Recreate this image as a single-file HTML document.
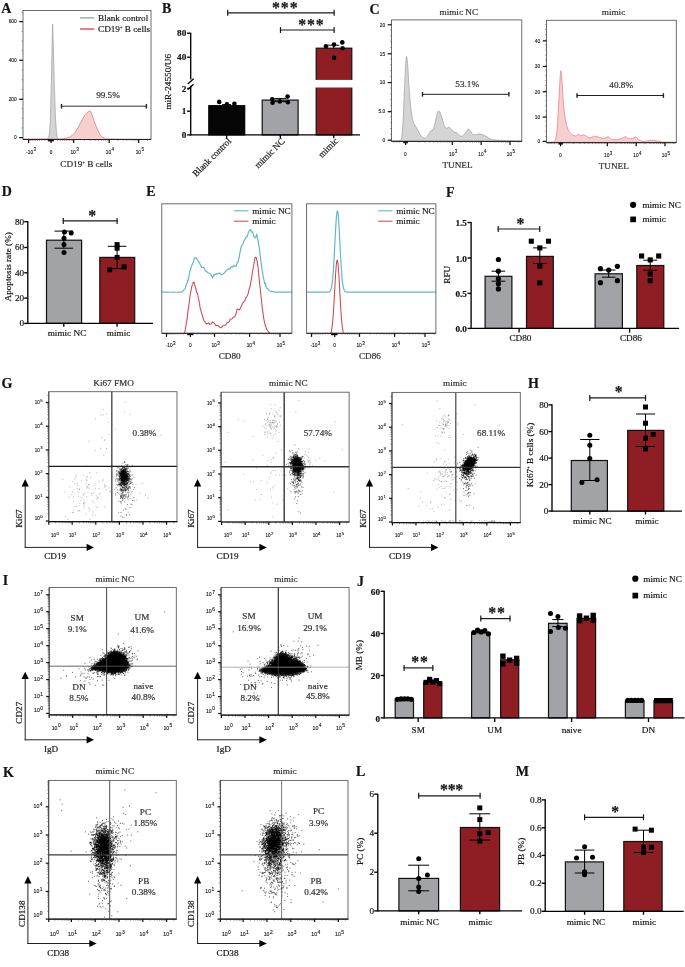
<!DOCTYPE html>
<html><head><meta charset="utf-8"><title>Figure</title>
<style>
html,body{margin:0;padding:0;background:#fff}
svg{display:block}
.ser{font-family:"Liberation Serif","Times New Roman",serif;stroke:#222;stroke-width:.2px}
.san{font-family:"Liberation Sans",Arial,sans-serif;stroke:#222;stroke-width:.12px}
</style></head><body>
<svg width="685" height="967" viewBox="0 0 685 967">
<rect width="685" height="967" fill="#fff"/>
<text class="ser" x="1.2" y="13.1" font-size="14" font-weight="bold" fill="#111">A</text>
<path d="M23 139.2 L57.57 138.96 C58.81 138.88 62.82 138.88 65.01 138.46 C67.2 138.05 68.94 137.63 70.72 136.48 C72.5 135.32 74.15 133.58 75.68 131.51 C77.21 129.45 78.54 126.55 79.9 124.07 C81.27 121.59 82.71 118.49 83.87 116.63 C85.03 114.76 85.86 113.85 86.85 112.9 C87.84 111.95 89 110.71 89.83 110.92 C90.65 111.12 91.07 112.37 91.81 114.14 C92.56 115.92 93.38 119.11 94.29 121.59 C95.2 124.07 96.24 126.76 97.27 129.03 C98.3 131.31 99.34 133.75 100.5 135.24 C101.65 136.72 102.56 137.34 104.22 137.97 C105.87 138.59 102.69 138.75 110.42 138.96 C118.16 139.16 143.92 139.16 150.62 139.21 L151 139.2 Z" fill="#F7CFCF" stroke="none"/>
<path d="M23 138.9 L57.57 138.96 C58.81 138.88 62.82 138.88 65.01 138.46 C67.2 138.05 68.94 137.63 70.72 136.48 C72.5 135.32 74.15 133.58 75.68 131.51 C77.21 129.45 78.54 126.55 79.9 124.07 C81.27 121.59 82.71 118.49 83.87 116.63 C85.03 114.76 85.86 113.85 86.85 112.9 C87.84 111.95 89 110.71 89.83 110.92 C90.65 111.12 91.07 112.37 91.81 114.14 C92.56 115.92 93.38 119.11 94.29 121.59 C95.2 124.07 96.24 126.76 97.27 129.03 C98.3 131.31 99.34 133.75 100.5 135.24 C101.65 136.72 102.56 137.34 104.22 137.97 C105.87 138.59 102.69 138.75 110.42 138.96 C118.16 139.16 143.92 139.16 150.62 139.21" fill="none" stroke="#E4777A" stroke-width="0.8"/>
<path d="M47.64 138.96 C47.79 138.59 48.86 137.22 49.13 135.24 C49.4 133.25 50.15 124.44 50.37 119.11 C50.6 113.77 51.19 89.33 51.36 81.89 C51.54 74.44 51.99 50.45 52.11 44.67 C52.23 38.88 52.48 23.82 52.61 24.07 C52.73 24.32 53.18 41.12 53.35 47.15 C53.52 53.18 54.12 77.17 54.34 84.37 C54.57 91.56 55.33 114.02 55.58 119.11 C55.83 124.19 56.55 133.25 56.82 135.24 C57.1 137.22 58.16 138.59 58.31 138.96 Z" fill="#D4D4D4" stroke="#9C9C9C" stroke-width="0.7"/>
<rect x="23" y="10.5" width="128" height="129" fill="none" stroke="#5c5c5c" stroke-width="0.9"/>
<line x1="23" y1="139.5" x2="151" y2="139.5" stroke="#222" stroke-width="1"/>
<rect x="47.8" y="139.5" width="6" height="1.9" fill="#111"/>
<line x1="28.6" y1="139.5" x2="28.6" y2="143.1" stroke="#111" stroke-width="1.25"/>
<line x1="51.1" y1="139.5" x2="51.1" y2="143.1" stroke="#111" stroke-width="1.25"/>
<line x1="73.7" y1="139.5" x2="73.7" y2="143.1" stroke="#111" stroke-width="1.25"/>
<line x1="109.2" y1="139.5" x2="109.2" y2="143.1" stroke="#111" stroke-width="1.25"/>
<line x1="138.7" y1="139.5" x2="138.7" y2="143.1" stroke="#111" stroke-width="1.25"/>
<line x1="84.39" y1="139.5" x2="84.39" y2="140.9" stroke="#444" stroke-width="0.5"/>
<line x1="90.64" y1="139.5" x2="90.64" y2="140.9" stroke="#444" stroke-width="0.5"/>
<line x1="95.07" y1="139.5" x2="95.07" y2="140.9" stroke="#444" stroke-width="0.5"/>
<line x1="98.51" y1="139.5" x2="98.51" y2="140.9" stroke="#444" stroke-width="0.5"/>
<line x1="101.32" y1="139.5" x2="101.32" y2="140.9" stroke="#444" stroke-width="0.5"/>
<line x1="103.7" y1="139.5" x2="103.7" y2="140.9" stroke="#444" stroke-width="0.5"/>
<line x1="105.76" y1="139.5" x2="105.76" y2="140.9" stroke="#444" stroke-width="0.5"/>
<line x1="107.58" y1="139.5" x2="107.58" y2="140.9" stroke="#444" stroke-width="0.5"/>
<line x1="118.08" y1="139.5" x2="118.08" y2="140.9" stroke="#444" stroke-width="0.5"/>
<line x1="123.28" y1="139.5" x2="123.28" y2="140.9" stroke="#444" stroke-width="0.5"/>
<line x1="126.96" y1="139.5" x2="126.96" y2="140.9" stroke="#444" stroke-width="0.5"/>
<line x1="129.82" y1="139.5" x2="129.82" y2="140.9" stroke="#444" stroke-width="0.5"/>
<line x1="132.16" y1="139.5" x2="132.16" y2="140.9" stroke="#444" stroke-width="0.5"/>
<line x1="134.13" y1="139.5" x2="134.13" y2="140.9" stroke="#444" stroke-width="0.5"/>
<line x1="135.84" y1="139.5" x2="135.84" y2="140.9" stroke="#444" stroke-width="0.5"/>
<line x1="137.35" y1="139.5" x2="137.35" y2="140.9" stroke="#444" stroke-width="0.5"/>
<line x1="147.58" y1="139.5" x2="147.58" y2="140.9" stroke="#444" stroke-width="0.5"/>
<line x1="57.47" y1="139.5" x2="57.47" y2="140.9" stroke="#444" stroke-width="0.5"/>
<line x1="44.76" y1="139.5" x2="44.76" y2="140.9" stroke="#444" stroke-width="0.5"/>
<line x1="60.43" y1="139.5" x2="60.43" y2="140.9" stroke="#444" stroke-width="0.5"/>
<line x1="41.82" y1="139.5" x2="41.82" y2="140.9" stroke="#444" stroke-width="0.5"/>
<line x1="62.76" y1="139.5" x2="62.76" y2="140.9" stroke="#444" stroke-width="0.5"/>
<line x1="39.5" y1="139.5" x2="39.5" y2="140.9" stroke="#444" stroke-width="0.5"/>
<line x1="64.75" y1="139.5" x2="64.75" y2="140.9" stroke="#444" stroke-width="0.5"/>
<line x1="37.51" y1="139.5" x2="37.51" y2="140.9" stroke="#444" stroke-width="0.5"/>
<line x1="66.54" y1="139.5" x2="66.54" y2="140.9" stroke="#444" stroke-width="0.5"/>
<line x1="35.73" y1="139.5" x2="35.73" y2="140.9" stroke="#444" stroke-width="0.5"/>
<line x1="68.16" y1="139.5" x2="68.16" y2="140.9" stroke="#444" stroke-width="0.5"/>
<line x1="34.11" y1="139.5" x2="34.11" y2="140.9" stroke="#444" stroke-width="0.5"/>
<line x1="69.67" y1="139.5" x2="69.67" y2="140.9" stroke="#444" stroke-width="0.5"/>
<line x1="32.61" y1="139.5" x2="32.61" y2="140.9" stroke="#444" stroke-width="0.5"/>
<line x1="71.09" y1="139.5" x2="71.09" y2="140.9" stroke="#444" stroke-width="0.5"/>
<line x1="31.2" y1="139.5" x2="31.2" y2="140.9" stroke="#444" stroke-width="0.5"/>
<line x1="72.43" y1="139.5" x2="72.43" y2="140.9" stroke="#444" stroke-width="0.5"/>
<line x1="29.87" y1="139.5" x2="29.87" y2="140.9" stroke="#444" stroke-width="0.5"/>
<text class="san" x="31.2" y="153.8" font-size="4.8" text-anchor="middle" fill="#111">-10<tspan dx="0.4" dy="-2.4" font-size="4.56">3</tspan></text>
<text class="san" x="51" y="153.8" font-size="4.8" text-anchor="middle" fill="#111">0</text>
<text class="san" x="74.6" y="153.8" font-size="4.8" text-anchor="middle" fill="#111">10<tspan dx="0.4" dy="-2.4" font-size="4.56">3</tspan></text>
<text class="san" x="110" y="153.8" font-size="4.8" text-anchor="middle" fill="#111">10<tspan dx="0.4" dy="-2.4" font-size="4.56">4</tspan></text>
<text class="san" x="139.8" y="153.8" font-size="4.8" text-anchor="middle" fill="#111">10<tspan dx="0.4" dy="-2.4" font-size="4.56">5</tspan></text>
<line x1="19.2" y1="21.6" x2="23" y2="21.6" stroke="#111" stroke-width="1.25"/>
<line x1="19.2" y1="60.3" x2="23" y2="60.3" stroke="#111" stroke-width="1.25"/>
<line x1="19.2" y1="99.3" x2="23" y2="99.3" stroke="#111" stroke-width="1.25"/>
<line x1="19.2" y1="137.6" x2="23" y2="137.6" stroke="#111" stroke-width="1.25"/>
<line x1="21.6" y1="137.6" x2="23" y2="137.6" stroke="#444" stroke-width="0.5"/>
<line x1="21.6" y1="127.95" x2="23" y2="127.95" stroke="#444" stroke-width="0.5"/>
<line x1="21.6" y1="118.3" x2="23" y2="118.3" stroke="#444" stroke-width="0.5"/>
<line x1="21.6" y1="108.65" x2="23" y2="108.65" stroke="#444" stroke-width="0.5"/>
<line x1="21.6" y1="99" x2="23" y2="99" stroke="#444" stroke-width="0.5"/>
<line x1="21.6" y1="89.35" x2="23" y2="89.35" stroke="#444" stroke-width="0.5"/>
<line x1="21.6" y1="79.7" x2="23" y2="79.7" stroke="#444" stroke-width="0.5"/>
<line x1="21.6" y1="70.05" x2="23" y2="70.05" stroke="#444" stroke-width="0.5"/>
<line x1="21.6" y1="60.4" x2="23" y2="60.4" stroke="#444" stroke-width="0.5"/>
<line x1="21.6" y1="50.75" x2="23" y2="50.75" stroke="#444" stroke-width="0.5"/>
<line x1="21.6" y1="41.1" x2="23" y2="41.1" stroke="#444" stroke-width="0.5"/>
<line x1="21.6" y1="31.45" x2="23" y2="31.45" stroke="#444" stroke-width="0.5"/>
<line x1="21.6" y1="21.8" x2="23" y2="21.8" stroke="#444" stroke-width="0.5"/>
<line x1="21.6" y1="12.15" x2="23" y2="12.15" stroke="#444" stroke-width="0.5"/>
<text class="san" x="16.7" y="23.3" font-size="4.8" text-anchor="end" fill="#111">600</text>
<text class="san" x="16.7" y="62" font-size="4.8" text-anchor="end" fill="#111">400</text>
<text class="san" x="16.7" y="101" font-size="4.8" text-anchor="end" fill="#111">200</text>
<text class="san" x="16.7" y="139.3" font-size="4.8" text-anchor="end" fill="#111">0</text>
<line x1="61.5" y1="106.2" x2="146.4" y2="106.2" stroke="#333" stroke-width="1"/>
<line x1="61.5" y1="103.9" x2="61.5" y2="108.5" stroke="#222" stroke-width="1.4"/>
<line x1="146.4" y1="103.9" x2="146.4" y2="108.5" stroke="#222" stroke-width="1.4"/>
<text class="ser" x="108" y="97.8" font-size="9.2" text-anchor="middle" fill="#3c3c3c" stroke-width="0.1" stroke="#444">99.5%</text>
<line x1="80" y1="17.9" x2="94.3" y2="17.9" stroke="#8c8c8c" stroke-width="1.1"/>
<text class="ser" x="98" y="20.6" font-size="9.2" fill="#222">Blank control</text>
<line x1="80" y1="29" x2="94.3" y2="29" stroke="#E8262C" stroke-width="1.2"/>
<text class="ser" x="98" y="31.8" font-size="9.2" fill="#222">CD19<tspan dy="-3" font-size="4.6">+</tspan><tspan dy="3"> B cells</tspan></text>
<text class="ser" x="86.4" y="167.3" font-size="9.2" text-anchor="middle" fill="#333">CD19<tspan dy="-3" font-size="4.6">+</tspan><tspan dy="3"> B cells</tspan></text>
<text class="ser" x="162" y="13.2" font-size="14" font-weight="bold" fill="#111">B</text>
<rect x="208.8" y="105.7" width="35.9" height="29.2" fill="#050505" stroke="#000" stroke-width="1.2"/>
<rect x="262.2" y="100.1" width="35.9" height="34.8" fill="#A1A3A6" stroke="#111" stroke-width="1.2"/>
<rect x="316.2" y="48.2" width="35.6" height="86.7" fill="#8F1D24" stroke="#111" stroke-width="1.2"/>
<rect x="300" y="79.9" width="60" height="7.6" fill="#fff"/>
<line x1="190.7" y1="32.7" x2="190.7" y2="79.4" stroke="#000" stroke-width="1.35"/>
<line x1="190.7" y1="85.8" x2="190.7" y2="135.45" stroke="#000" stroke-width="1.35"/>
<line x1="190.15" y1="134.9" x2="360" y2="134.9" stroke="#000" stroke-width="1.35"/>
<line x1="187.8" y1="83.9" x2="193.6" y2="78.7" stroke="#000" stroke-width="1.3"/>
<line x1="187.8" y1="89.5" x2="193.6" y2="84.3" stroke="#000" stroke-width="1.3"/>
<line x1="187.1" y1="33.2" x2="190.7" y2="33.2" stroke="#000" stroke-width="1.35"/>
<text class="ser" x="186.3" y="36.3" font-size="9.2" text-anchor="end" font-weight="bold" fill="#111">80</text>
<line x1="187.1" y1="57.2" x2="190.7" y2="57.2" stroke="#000" stroke-width="1.35"/>
<text class="ser" x="186.3" y="60.3" font-size="9.2" text-anchor="end" font-weight="bold" fill="#111">40</text>
<line x1="187.1" y1="88.5" x2="190.7" y2="88.5" stroke="#000" stroke-width="1.35"/>
<text class="ser" x="186.3" y="91.6" font-size="9.2" text-anchor="end" font-weight="bold" fill="#111">2</text>
<line x1="187.1" y1="111.2" x2="190.7" y2="111.2" stroke="#000" stroke-width="1.35"/>
<text class="ser" x="186.3" y="114.3" font-size="9.2" text-anchor="end" font-weight="bold" fill="#111">1</text>
<line x1="187.1" y1="134.9" x2="190.7" y2="134.9" stroke="#000" stroke-width="1.35"/>
<text class="ser" x="186.3" y="138" font-size="9.2" text-anchor="end" font-weight="bold" fill="#111">0</text>
<line x1="226.6" y1="134.9" x2="226.6" y2="138.3" stroke="#000" stroke-width="1.35"/>
<line x1="280.3" y1="134.9" x2="280.3" y2="138.3" stroke="#000" stroke-width="1.35"/>
<line x1="333.7" y1="134.9" x2="333.7" y2="138.3" stroke="#000" stroke-width="1.35"/>
<line x1="226.6" y1="104.6" x2="226.6" y2="106.8" stroke="#000" stroke-width="1"/>
<line x1="222.1" y1="104.6" x2="231.1" y2="104.6" stroke="#000" stroke-width="1"/>
<line x1="222.1" y1="106.8" x2="231.1" y2="106.8" stroke="#000" stroke-width="1"/>
<circle cx="219.2" cy="101.9" r="2.3" fill="#000"/>
<circle cx="226.9" cy="104.4" r="2.3" fill="#000"/>
<circle cx="234.4" cy="103.8" r="2.3" fill="#000"/>
<line x1="280.3" y1="98.6" x2="280.3" y2="101.6" stroke="#000" stroke-width="1"/>
<line x1="274.3" y1="98.6" x2="286.3" y2="98.6" stroke="#000" stroke-width="1"/>
<line x1="274.3" y1="101.6" x2="286.3" y2="101.6" stroke="#000" stroke-width="1"/>
<circle cx="272.2" cy="99.2" r="2.3" fill="#000"/>
<circle cx="272.6" cy="102.8" r="2.3" fill="#000"/>
<circle cx="279.8" cy="101.5" r="2.3" fill="#000"/>
<circle cx="287.6" cy="96.6" r="2.3" fill="#000"/>
<circle cx="287.8" cy="102.2" r="2.3" fill="#000"/>
<line x1="333.7" y1="45.2" x2="333.7" y2="48.2" stroke="#000" stroke-width="1"/>
<line x1="328.2" y1="45.2" x2="339.2" y2="45.2" stroke="#000" stroke-width="1"/>
<circle cx="326" cy="46.3" r="2.3" fill="#000"/>
<circle cx="334" cy="44.6" r="2.3" fill="#000"/>
<circle cx="342.3" cy="42.4" r="2.3" fill="#000"/>
<circle cx="342.6" cy="48.2" r="2.3" fill="#000"/>
<circle cx="334" cy="57.8" r="2.3" fill="#000"/>
<line x1="227.1" y1="12.8" x2="334.7" y2="12.8" stroke="#1a1a1a" stroke-width="1.2"/>
<line x1="227.7" y1="9.8" x2="227.7" y2="15.8" stroke="#1a1a1a" stroke-width="1.2"/>
<line x1="334.1" y1="9.8" x2="334.1" y2="15.8" stroke="#1a1a1a" stroke-width="1.2"/>
<text class="ser" x="285.25" y="12.68" font-size="15.8" text-anchor="middle" font-weight="bold" fill="#111" letter-spacing="0.9">***</text>
<line x1="279.9" y1="30" x2="334.7" y2="30" stroke="#1a1a1a" stroke-width="1.2"/>
<line x1="280.5" y1="27" x2="280.5" y2="33" stroke="#1a1a1a" stroke-width="1.2"/>
<line x1="334.1" y1="27" x2="334.1" y2="33" stroke="#1a1a1a" stroke-width="1.2"/>
<text class="ser" x="311.45" y="29.98" font-size="15.8" text-anchor="middle" font-weight="bold" fill="#111" letter-spacing="0.9">***</text>
<text class="ser" x="170.9" y="81.8" font-size="9.2" text-anchor="middle" fill="#111" transform="rotate(-90 170.9 81.8)">miR-24550/U6</text>
<text class="ser" x="231.8" y="141.6" font-size="9.2" text-anchor="end" fill="#111" transform="rotate(-45 231.8 141.6)">Blank control</text>
<text class="ser" x="285.4" y="141.6" font-size="9.2" text-anchor="end" fill="#111" transform="rotate(-45 285.4 141.6)">mimic NC</text>
<text class="ser" x="338.6" y="141.6" font-size="9.2" text-anchor="end" fill="#111" transform="rotate(-45 338.6 141.6)">mimic</text>
<text class="ser" x="369.5" y="13.6" font-size="14" font-weight="bold" fill="#111">C</text>
<text class="ser" x="458.8" y="14.6" font-size="9.2" text-anchor="middle" fill="#3c3c3c" stroke-width="0.1" stroke="#444">mimic NC</text>
<path d="M391.5 141.1 L399.7 140.69 C399.97 140.3 401.22 140.6 401.69 137.72 C402.15 134.84 402.78 126.22 403.18 119.11 C403.57 111.99 404.3 92.14 404.67 84.37 C405.03 76.59 405.64 64.5 405.91 60.79 C406.17 57.09 406.42 56.08 406.65 56.58 C406.88 57.07 407.34 60.81 407.64 64.52 C407.94 68.22 408.52 79.07 408.88 84.37 C409.25 89.66 409.94 99.92 410.37 104.22 C410.8 108.52 411.61 113.98 412.11 116.63 C412.61 119.27 413.5 122.58 414.09 124.07 C414.69 125.56 415.91 126.63 416.58 127.79 C417.24 128.95 418.33 131.53 419.06 132.75 C419.78 133.98 421.24 136.24 422.03 136.97 C422.83 137.7 424.28 138.35 425.01 138.21 C425.74 138.08 426.8 136.87 427.49 135.98 C428.19 135.09 429.46 132.44 430.22 131.51 C430.98 130.59 432.54 130.19 433.2 129.03 C433.86 127.87 434.69 124.81 435.19 122.83 C435.68 120.84 436.49 115.73 436.92 114.14 C437.35 112.56 437.98 111.08 438.41 110.92 C438.84 110.75 439.62 111.81 440.15 112.9 C440.68 114 441.75 117.22 442.38 119.11 C443.01 120.99 444.2 125.86 444.86 127.05 C445.53 128.24 446.75 128.01 447.34 128.04 C447.94 128.07 448.73 127.03 449.33 127.3 C449.93 127.56 451.08 129.36 451.81 130.02 C452.54 130.69 454.06 131.86 454.79 132.26 C455.52 132.66 456.58 132.51 457.27 133 C457.97 133.5 459.27 135.58 460 135.98 C460.73 136.38 462 136.41 462.73 135.98 C463.46 135.55 464.7 133.68 465.46 132.75 C466.22 131.83 467.78 129.26 468.44 129.03 C469.1 128.8 469.83 130.29 470.42 131.02 C471.02 131.75 472.14 134.03 472.9 134.49 C473.66 134.95 475.24 134.56 476.13 134.49 C477.02 134.43 478.64 133.93 479.6 134 C480.56 134.06 482.33 134.59 483.33 134.99 C484.32 135.38 485.96 136.38 487.05 136.97 C488.14 137.57 489.93 138.99 491.51 139.45 C493.1 139.92 496.64 140.25 498.96 140.45 C501.27 140.65 505.91 140.88 508.88 140.94 C511.86 141.01 519.64 140.94 521.29 140.94 L521.8 141.1 Z" fill="#D4D4D4" stroke="#9C9C9C" stroke-width="0.7"/>
<rect x="391.5" y="19.9" width="130.3" height="121.5" fill="none" stroke="#5c5c5c" stroke-width="0.9"/>
<line x1="391.5" y1="141.4" x2="521.8" y2="141.4" stroke="#222" stroke-width="1"/>
<rect x="403.4" y="141.4" width="4.5" height="1.9" fill="#111"/>
<line x1="405.6" y1="141.4" x2="405.6" y2="145" stroke="#111" stroke-width="1.25"/>
<line x1="452.3" y1="141.4" x2="452.3" y2="145" stroke="#111" stroke-width="1.25"/>
<line x1="481.2" y1="141.4" x2="481.2" y2="145" stroke="#111" stroke-width="1.25"/>
<line x1="510" y1="141.4" x2="510" y2="145" stroke="#111" stroke-width="1.25"/>
<line x1="461" y1="141.4" x2="461" y2="142.8" stroke="#444" stroke-width="0.5"/>
<line x1="466.09" y1="141.4" x2="466.09" y2="142.8" stroke="#444" stroke-width="0.5"/>
<line x1="469.7" y1="141.4" x2="469.7" y2="142.8" stroke="#444" stroke-width="0.5"/>
<line x1="472.5" y1="141.4" x2="472.5" y2="142.8" stroke="#444" stroke-width="0.5"/>
<line x1="474.79" y1="141.4" x2="474.79" y2="142.8" stroke="#444" stroke-width="0.5"/>
<line x1="476.72" y1="141.4" x2="476.72" y2="142.8" stroke="#444" stroke-width="0.5"/>
<line x1="478.4" y1="141.4" x2="478.4" y2="142.8" stroke="#444" stroke-width="0.5"/>
<line x1="479.88" y1="141.4" x2="479.88" y2="142.8" stroke="#444" stroke-width="0.5"/>
<line x1="489.87" y1="141.4" x2="489.87" y2="142.8" stroke="#444" stroke-width="0.5"/>
<line x1="494.94" y1="141.4" x2="494.94" y2="142.8" stroke="#444" stroke-width="0.5"/>
<line x1="498.54" y1="141.4" x2="498.54" y2="142.8" stroke="#444" stroke-width="0.5"/>
<line x1="501.33" y1="141.4" x2="501.33" y2="142.8" stroke="#444" stroke-width="0.5"/>
<line x1="503.61" y1="141.4" x2="503.61" y2="142.8" stroke="#444" stroke-width="0.5"/>
<line x1="505.54" y1="141.4" x2="505.54" y2="142.8" stroke="#444" stroke-width="0.5"/>
<line x1="507.21" y1="141.4" x2="507.21" y2="142.8" stroke="#444" stroke-width="0.5"/>
<line x1="508.68" y1="141.4" x2="508.68" y2="142.8" stroke="#444" stroke-width="0.5"/>
<line x1="518.67" y1="141.4" x2="518.67" y2="142.8" stroke="#444" stroke-width="0.5"/>
<line x1="418.76" y1="141.4" x2="418.76" y2="142.8" stroke="#444" stroke-width="0.5"/>
<line x1="399.23" y1="141.4" x2="399.23" y2="142.8" stroke="#444" stroke-width="0.5"/>
<line x1="424.87" y1="141.4" x2="424.87" y2="142.8" stroke="#444" stroke-width="0.5"/>
<line x1="396.27" y1="141.4" x2="396.27" y2="142.8" stroke="#444" stroke-width="0.5"/>
<line x1="429.68" y1="141.4" x2="429.68" y2="142.8" stroke="#444" stroke-width="0.5"/>
<line x1="393.94" y1="141.4" x2="393.94" y2="142.8" stroke="#444" stroke-width="0.5"/>
<line x1="433.81" y1="141.4" x2="433.81" y2="142.8" stroke="#444" stroke-width="0.5"/>
<line x1="437.5" y1="141.4" x2="437.5" y2="142.8" stroke="#444" stroke-width="0.5"/>
<line x1="440.86" y1="141.4" x2="440.86" y2="142.8" stroke="#444" stroke-width="0.5"/>
<line x1="443.98" y1="141.4" x2="443.98" y2="142.8" stroke="#444" stroke-width="0.5"/>
<line x1="446.91" y1="141.4" x2="446.91" y2="142.8" stroke="#444" stroke-width="0.5"/>
<line x1="449.67" y1="141.4" x2="449.67" y2="142.8" stroke="#444" stroke-width="0.5"/>
<text class="san" x="405.4" y="155.6" font-size="4.8" text-anchor="middle" fill="#111">0</text>
<text class="san" x="453.2" y="155.6" font-size="4.8" text-anchor="middle" fill="#111">10<tspan dx="0.4" dy="-2.4" font-size="4.56">3</tspan></text>
<text class="san" x="482.4" y="155.6" font-size="4.8" text-anchor="middle" fill="#111">10<tspan dx="0.4" dy="-2.4" font-size="4.56">4</tspan></text>
<text class="san" x="511" y="155.6" font-size="4.8" text-anchor="middle" fill="#111">10<tspan dx="0.4" dy="-2.4" font-size="4.56">5</tspan></text>
<line x1="387.7" y1="24.8" x2="391.5" y2="24.8" stroke="#111" stroke-width="1.25"/>
<line x1="387.7" y1="53.8" x2="391.5" y2="53.8" stroke="#111" stroke-width="1.25"/>
<line x1="387.7" y1="82.6" x2="391.5" y2="82.6" stroke="#111" stroke-width="1.25"/>
<line x1="387.7" y1="111.7" x2="391.5" y2="111.7" stroke="#111" stroke-width="1.25"/>
<line x1="387.7" y1="140.2" x2="391.5" y2="140.2" stroke="#111" stroke-width="1.25"/>
<line x1="390.1" y1="140.2" x2="391.5" y2="140.2" stroke="#444" stroke-width="0.5"/>
<line x1="390.1" y1="134.4" x2="391.5" y2="134.4" stroke="#444" stroke-width="0.5"/>
<line x1="390.1" y1="128.6" x2="391.5" y2="128.6" stroke="#444" stroke-width="0.5"/>
<line x1="390.1" y1="122.8" x2="391.5" y2="122.8" stroke="#444" stroke-width="0.5"/>
<line x1="390.1" y1="117" x2="391.5" y2="117" stroke="#444" stroke-width="0.5"/>
<line x1="390.1" y1="111.2" x2="391.5" y2="111.2" stroke="#444" stroke-width="0.5"/>
<line x1="390.1" y1="105.4" x2="391.5" y2="105.4" stroke="#444" stroke-width="0.5"/>
<line x1="390.1" y1="99.6" x2="391.5" y2="99.6" stroke="#444" stroke-width="0.5"/>
<line x1="390.1" y1="93.8" x2="391.5" y2="93.8" stroke="#444" stroke-width="0.5"/>
<line x1="390.1" y1="88" x2="391.5" y2="88" stroke="#444" stroke-width="0.5"/>
<line x1="390.1" y1="82.2" x2="391.5" y2="82.2" stroke="#444" stroke-width="0.5"/>
<line x1="390.1" y1="76.4" x2="391.5" y2="76.4" stroke="#444" stroke-width="0.5"/>
<line x1="390.1" y1="70.6" x2="391.5" y2="70.6" stroke="#444" stroke-width="0.5"/>
<line x1="390.1" y1="64.8" x2="391.5" y2="64.8" stroke="#444" stroke-width="0.5"/>
<line x1="390.1" y1="59" x2="391.5" y2="59" stroke="#444" stroke-width="0.5"/>
<line x1="390.1" y1="53.2" x2="391.5" y2="53.2" stroke="#444" stroke-width="0.5"/>
<line x1="390.1" y1="47.4" x2="391.5" y2="47.4" stroke="#444" stroke-width="0.5"/>
<line x1="390.1" y1="41.6" x2="391.5" y2="41.6" stroke="#444" stroke-width="0.5"/>
<line x1="390.1" y1="35.8" x2="391.5" y2="35.8" stroke="#444" stroke-width="0.5"/>
<line x1="390.1" y1="30" x2="391.5" y2="30" stroke="#444" stroke-width="0.5"/>
<line x1="390.1" y1="24.2" x2="391.5" y2="24.2" stroke="#444" stroke-width="0.5"/>
<text class="san" x="385.2" y="26.5" font-size="4.8" text-anchor="end" fill="#111">20</text>
<text class="san" x="385.2" y="55.5" font-size="4.8" text-anchor="end" fill="#111">15</text>
<text class="san" x="385.2" y="84.3" font-size="4.8" text-anchor="end" fill="#111">10</text>
<text class="san" x="385.2" y="113.4" font-size="4.8" text-anchor="end" fill="#111">5.0</text>
<text class="san" x="385.2" y="141.9" font-size="4.8" text-anchor="end" fill="#111">0</text>
<line x1="422.5" y1="94.3" x2="508.9" y2="94.3" stroke="#222" stroke-width="1"/>
<line x1="422.5" y1="92" x2="422.5" y2="96.6" stroke="#222" stroke-width="1.4"/>
<line x1="508.9" y1="92" x2="508.9" y2="96.6" stroke="#222" stroke-width="1.4"/>
<text class="ser" x="467.2" y="87.2" font-size="9.2" text-anchor="middle" fill="#3c3c3c" stroke-width="0.1" stroke="#444">53.1%</text>
<text class="ser" x="457.5" y="168" font-size="9.2" text-anchor="middle" fill="#3c3c3c" stroke-width="0.1" stroke="#444">TUNEL</text>
<text class="ser" x="613.5" y="15" font-size="9.2" text-anchor="middle" fill="#3c3c3c" stroke-width="0.1" stroke="#444">mimic</text>
<path d="M546.5 142.4 L552.22 142.18 C552.62 141.95 554.54 142.2 555.2 140.45 C555.86 138.69 556.69 134.52 557.18 129.03 C557.68 123.54 558.52 106.2 558.92 99.26 C559.32 92.31 559.9 80.73 560.16 76.92 C560.43 73.12 560.67 70.39 560.91 70.72 C561.14 71.05 561.6 75.6 561.9 79.4 C562.2 83.21 562.78 94.62 563.14 99.26 C563.5 103.89 564.16 110.67 564.63 114.14 C565.09 117.62 566.02 122.99 566.61 125.31 C567.21 127.63 568.37 130.26 569.09 131.51 C569.82 132.77 571.18 134.14 572.07 134.74 C572.97 135.33 574.93 136.05 575.79 135.98 C576.65 135.91 577.86 134.28 578.52 134.24 C579.19 134.21 580.06 135.67 580.76 135.73 C581.45 135.8 582.97 134.67 583.73 134.74 C584.5 134.81 585.64 135.8 586.46 136.23 C587.29 136.66 588.88 137.97 589.94 137.97 C591 137.97 593.21 136.33 594.4 136.23 C595.6 136.13 597.61 136.92 598.87 137.22 C600.13 137.52 602.61 138.53 603.83 138.46 C605.06 138.4 607.06 136.63 608.05 136.72 C609.04 136.82 610.19 138.81 611.28 139.21 C612.37 139.6 614.85 139.8 616.24 139.7 C617.63 139.6 620.48 138.86 621.7 138.46 C622.92 138.06 624.5 136.69 625.42 136.72 C626.35 136.76 627.69 138.48 628.65 138.71 C629.61 138.94 631.66 138.69 632.62 138.46 C633.58 138.23 635.05 136.81 635.84 136.97 C636.64 137.14 637.55 139.11 638.57 139.7 C639.6 140.3 641.82 141.37 643.54 141.44 C645.26 141.51 649.49 140.23 651.48 140.2 C653.46 140.17 656.77 140.93 658.42 141.19 C660.08 141.46 661.5 142.05 663.88 142.18 C666.27 142.32 674.64 142.18 676.29 142.18 L676.3 142.4 Z" fill="#F7CFCF" stroke="#E4777A" stroke-width="0.7"/>
<rect x="546.5" y="20.3" width="129.8" height="122.4" fill="none" stroke="#5c5c5c" stroke-width="0.9"/>
<line x1="546.5" y1="142.7" x2="676.3" y2="142.7" stroke="#222" stroke-width="1"/>
<rect x="558.4" y="142.7" width="4.5" height="1.9" fill="#111"/>
<line x1="560.6" y1="142.7" x2="560.6" y2="146.3" stroke="#111" stroke-width="1.25"/>
<line x1="607.3" y1="142.7" x2="607.3" y2="146.3" stroke="#111" stroke-width="1.25"/>
<line x1="636.2" y1="142.7" x2="636.2" y2="146.3" stroke="#111" stroke-width="1.25"/>
<line x1="665" y1="142.7" x2="665" y2="146.3" stroke="#111" stroke-width="1.25"/>
<line x1="616" y1="142.7" x2="616" y2="144.1" stroke="#444" stroke-width="0.5"/>
<line x1="621.09" y1="142.7" x2="621.09" y2="144.1" stroke="#444" stroke-width="0.5"/>
<line x1="624.7" y1="142.7" x2="624.7" y2="144.1" stroke="#444" stroke-width="0.5"/>
<line x1="627.5" y1="142.7" x2="627.5" y2="144.1" stroke="#444" stroke-width="0.5"/>
<line x1="629.79" y1="142.7" x2="629.79" y2="144.1" stroke="#444" stroke-width="0.5"/>
<line x1="631.72" y1="142.7" x2="631.72" y2="144.1" stroke="#444" stroke-width="0.5"/>
<line x1="633.4" y1="142.7" x2="633.4" y2="144.1" stroke="#444" stroke-width="0.5"/>
<line x1="634.88" y1="142.7" x2="634.88" y2="144.1" stroke="#444" stroke-width="0.5"/>
<line x1="644.87" y1="142.7" x2="644.87" y2="144.1" stroke="#444" stroke-width="0.5"/>
<line x1="649.94" y1="142.7" x2="649.94" y2="144.1" stroke="#444" stroke-width="0.5"/>
<line x1="653.54" y1="142.7" x2="653.54" y2="144.1" stroke="#444" stroke-width="0.5"/>
<line x1="656.33" y1="142.7" x2="656.33" y2="144.1" stroke="#444" stroke-width="0.5"/>
<line x1="658.61" y1="142.7" x2="658.61" y2="144.1" stroke="#444" stroke-width="0.5"/>
<line x1="660.54" y1="142.7" x2="660.54" y2="144.1" stroke="#444" stroke-width="0.5"/>
<line x1="662.21" y1="142.7" x2="662.21" y2="144.1" stroke="#444" stroke-width="0.5"/>
<line x1="663.68" y1="142.7" x2="663.68" y2="144.1" stroke="#444" stroke-width="0.5"/>
<line x1="673.67" y1="142.7" x2="673.67" y2="144.1" stroke="#444" stroke-width="0.5"/>
<line x1="573.76" y1="142.7" x2="573.76" y2="144.1" stroke="#444" stroke-width="0.5"/>
<line x1="554.23" y1="142.7" x2="554.23" y2="144.1" stroke="#444" stroke-width="0.5"/>
<line x1="579.87" y1="142.7" x2="579.87" y2="144.1" stroke="#444" stroke-width="0.5"/>
<line x1="551.27" y1="142.7" x2="551.27" y2="144.1" stroke="#444" stroke-width="0.5"/>
<line x1="584.68" y1="142.7" x2="584.68" y2="144.1" stroke="#444" stroke-width="0.5"/>
<line x1="548.94" y1="142.7" x2="548.94" y2="144.1" stroke="#444" stroke-width="0.5"/>
<line x1="588.81" y1="142.7" x2="588.81" y2="144.1" stroke="#444" stroke-width="0.5"/>
<line x1="592.5" y1="142.7" x2="592.5" y2="144.1" stroke="#444" stroke-width="0.5"/>
<line x1="595.86" y1="142.7" x2="595.86" y2="144.1" stroke="#444" stroke-width="0.5"/>
<line x1="598.98" y1="142.7" x2="598.98" y2="144.1" stroke="#444" stroke-width="0.5"/>
<line x1="601.91" y1="142.7" x2="601.91" y2="144.1" stroke="#444" stroke-width="0.5"/>
<line x1="604.67" y1="142.7" x2="604.67" y2="144.1" stroke="#444" stroke-width="0.5"/>
<text class="san" x="560.4" y="157" font-size="4.8" text-anchor="middle" fill="#111">0</text>
<text class="san" x="608.2" y="157" font-size="4.8" text-anchor="middle" fill="#111">10<tspan dx="0.4" dy="-2.4" font-size="4.56">3</tspan></text>
<text class="san" x="637.4" y="157" font-size="4.8" text-anchor="middle" fill="#111">10<tspan dx="0.4" dy="-2.4" font-size="4.56">4</tspan></text>
<text class="san" x="666" y="157" font-size="4.8" text-anchor="middle" fill="#111">10<tspan dx="0.4" dy="-2.4" font-size="4.56">5</tspan></text>
<line x1="542.7" y1="40.9" x2="546.5" y2="40.9" stroke="#111" stroke-width="1.25"/>
<line x1="542.7" y1="66.5" x2="546.5" y2="66.5" stroke="#111" stroke-width="1.25"/>
<line x1="542.7" y1="91.8" x2="546.5" y2="91.8" stroke="#111" stroke-width="1.25"/>
<line x1="542.7" y1="117.1" x2="546.5" y2="117.1" stroke="#111" stroke-width="1.25"/>
<line x1="542.7" y1="141.4" x2="546.5" y2="141.4" stroke="#111" stroke-width="1.25"/>
<line x1="545.1" y1="141.4" x2="546.5" y2="141.4" stroke="#444" stroke-width="0.5"/>
<line x1="545.1" y1="136.32" x2="546.5" y2="136.32" stroke="#444" stroke-width="0.5"/>
<line x1="545.1" y1="131.24" x2="546.5" y2="131.24" stroke="#444" stroke-width="0.5"/>
<line x1="545.1" y1="126.16" x2="546.5" y2="126.16" stroke="#444" stroke-width="0.5"/>
<line x1="545.1" y1="121.08" x2="546.5" y2="121.08" stroke="#444" stroke-width="0.5"/>
<line x1="545.1" y1="116" x2="546.5" y2="116" stroke="#444" stroke-width="0.5"/>
<line x1="545.1" y1="110.92" x2="546.5" y2="110.92" stroke="#444" stroke-width="0.5"/>
<line x1="545.1" y1="105.84" x2="546.5" y2="105.84" stroke="#444" stroke-width="0.5"/>
<line x1="545.1" y1="100.76" x2="546.5" y2="100.76" stroke="#444" stroke-width="0.5"/>
<line x1="545.1" y1="95.68" x2="546.5" y2="95.68" stroke="#444" stroke-width="0.5"/>
<line x1="545.1" y1="90.6" x2="546.5" y2="90.6" stroke="#444" stroke-width="0.5"/>
<line x1="545.1" y1="85.52" x2="546.5" y2="85.52" stroke="#444" stroke-width="0.5"/>
<line x1="545.1" y1="80.44" x2="546.5" y2="80.44" stroke="#444" stroke-width="0.5"/>
<line x1="545.1" y1="75.36" x2="546.5" y2="75.36" stroke="#444" stroke-width="0.5"/>
<line x1="545.1" y1="70.28" x2="546.5" y2="70.28" stroke="#444" stroke-width="0.5"/>
<line x1="545.1" y1="65.2" x2="546.5" y2="65.2" stroke="#444" stroke-width="0.5"/>
<line x1="545.1" y1="60.12" x2="546.5" y2="60.12" stroke="#444" stroke-width="0.5"/>
<line x1="545.1" y1="55.04" x2="546.5" y2="55.04" stroke="#444" stroke-width="0.5"/>
<line x1="545.1" y1="49.96" x2="546.5" y2="49.96" stroke="#444" stroke-width="0.5"/>
<line x1="545.1" y1="44.88" x2="546.5" y2="44.88" stroke="#444" stroke-width="0.5"/>
<line x1="545.1" y1="39.8" x2="546.5" y2="39.8" stroke="#444" stroke-width="0.5"/>
<line x1="545.1" y1="34.72" x2="546.5" y2="34.72" stroke="#444" stroke-width="0.5"/>
<line x1="545.1" y1="29.64" x2="546.5" y2="29.64" stroke="#444" stroke-width="0.5"/>
<line x1="545.1" y1="24.56" x2="546.5" y2="24.56" stroke="#444" stroke-width="0.5"/>
<text class="san" x="540.2" y="42.6" font-size="4.8" text-anchor="end" fill="#111">40</text>
<text class="san" x="540.2" y="68.2" font-size="4.8" text-anchor="end" fill="#111">30</text>
<text class="san" x="540.2" y="93.5" font-size="4.8" text-anchor="end" fill="#111">20</text>
<text class="san" x="540.2" y="118.8" font-size="4.8" text-anchor="end" fill="#111">10</text>
<text class="san" x="540.2" y="143.1" font-size="4.8" text-anchor="end" fill="#111">0</text>
<line x1="577" y1="95.5" x2="663.4" y2="95.5" stroke="#222" stroke-width="1"/>
<line x1="577" y1="93.2" x2="577" y2="97.8" stroke="#222" stroke-width="1.4"/>
<line x1="663.4" y1="93.2" x2="663.4" y2="97.8" stroke="#222" stroke-width="1.4"/>
<text class="ser" x="621.2" y="88" font-size="9.2" text-anchor="middle" fill="#3c3c3c" stroke-width="0.1" stroke="#444">40.8%</text>
<text class="ser" x="613.8" y="168.5" font-size="9.2" text-anchor="middle" fill="#3c3c3c" stroke-width="0.1" stroke="#444">TUNEL</text>
<text class="ser" x="1.8" y="196.3" font-size="14" font-weight="bold" fill="#111">D</text>
<rect x="46.5" y="240.2" width="35.1" height="83.2" fill="#A1A3A6" stroke="#111" stroke-width="1.2"/>
<rect x="99.8" y="257.4" width="34.9" height="66" fill="#8F1D24" stroke="#111" stroke-width="1.2"/>
<line x1="27.8" y1="221.15" x2="27.8" y2="323.95" stroke="#000" stroke-width="1.35"/>
<line x1="27.8" y1="323.4" x2="153.1" y2="323.4" stroke="#000" stroke-width="1.35"/>
<line x1="24.2" y1="221.7" x2="27.8" y2="221.7" stroke="#000" stroke-width="1.35"/>
<text class="ser" x="24.2" y="224.6" font-size="9.2" text-anchor="end" fill="#111">80</text>
<line x1="24.2" y1="247.5" x2="27.8" y2="247.5" stroke="#000" stroke-width="1.35"/>
<text class="ser" x="24.2" y="250.4" font-size="9.2" text-anchor="end" fill="#111">60</text>
<line x1="24.2" y1="272.8" x2="27.8" y2="272.8" stroke="#000" stroke-width="1.35"/>
<text class="ser" x="24.2" y="275.7" font-size="9.2" text-anchor="end" fill="#111">40</text>
<line x1="24.2" y1="298.1" x2="27.8" y2="298.1" stroke="#000" stroke-width="1.35"/>
<text class="ser" x="24.2" y="301" font-size="9.2" text-anchor="end" fill="#111">20</text>
<line x1="24.2" y1="323.4" x2="27.8" y2="323.4" stroke="#000" stroke-width="1.35"/>
<text class="ser" x="24.2" y="326.3" font-size="9.2" text-anchor="end" fill="#111">0</text>
<line x1="63.8" y1="323.4" x2="63.8" y2="326.8" stroke="#000" stroke-width="1.35"/>
<line x1="117.1" y1="323.4" x2="117.1" y2="326.8" stroke="#000" stroke-width="1.35"/>
<line x1="63.8" y1="231.1" x2="63.8" y2="248.2" stroke="#000" stroke-width="1"/>
<line x1="54.5" y1="231.1" x2="73.1" y2="231.1" stroke="#000" stroke-width="1"/>
<line x1="54.5" y1="248.2" x2="73.1" y2="248.2" stroke="#000" stroke-width="1"/>
<circle cx="64.5" cy="232.1" r="2.5" fill="#000"/>
<circle cx="71.2" cy="233.1" r="2.5" fill="#000"/>
<circle cx="64" cy="238.3" r="2.5" fill="#000"/>
<circle cx="64" cy="244.5" r="2.5" fill="#000"/>
<circle cx="64" cy="252.5" r="2.5" fill="#000"/>
<line x1="117.1" y1="246.3" x2="117.1" y2="268.6" stroke="#000" stroke-width="1"/>
<line x1="107.8" y1="246.3" x2="126.4" y2="246.3" stroke="#000" stroke-width="1"/>
<line x1="107.8" y1="268.6" x2="126.4" y2="268.6" stroke="#000" stroke-width="1"/>
<rect x="114.6" y="242.1" width="5" height="5" fill="#000"/>
<rect x="114.6" y="254.9" width="5" height="5" fill="#000"/>
<rect x="121.6" y="264.4" width="5" height="5" fill="#000"/>
<rect x="107.2" y="267.3" width="5" height="5" fill="#000"/>
<rect x="114.6" y="245.7" width="5" height="5" fill="#000"/>
<line x1="62.7" y1="220.9" x2="117.7" y2="220.9" stroke="#1a1a1a" stroke-width="1.2"/>
<line x1="63.3" y1="217.9" x2="63.3" y2="223.9" stroke="#1a1a1a" stroke-width="1.2"/>
<line x1="117.1" y1="217.9" x2="117.1" y2="223.9" stroke="#1a1a1a" stroke-width="1.2"/>
<text class="ser" x="92.25" y="220.88" font-size="15.8" text-anchor="middle" font-weight="bold" fill="#111">*</text>
<text class="ser" x="11.5" y="266.8" font-size="9.2" text-anchor="middle" fill="#111" transform="rotate(-90 11.5 266.8)">Apoptosis rate (%)</text>
<text class="ser" x="67" y="335.6" font-size="9.2" text-anchor="middle" fill="#111">mimic NC</text>
<text class="ser" x="118.6" y="335.6" font-size="9.2" text-anchor="middle" fill="#111">mimic</text>
<text class="ser" x="146.2" y="196.3" font-size="14" font-weight="bold" fill="#111">E</text>
<path d="M184.67 333.35 L184.84 332.08 L185.09 330.99 L185.38 329.04 L185.7 327.15 L186.03 325.3 L186.35 322.39 L186.65 321.32 L186.87 319.48 L187.09 319.99 L187.31 316.81 L187.53 314.85 L187.75 313.19 L187.97 311.29 L188.19 309.39 L188.41 308.03 L188.64 306.79 L188.86 304.74 L189.08 303.58 L189.3 301.21 L189.52 299.54 L189.74 298.54 L189.96 296.35 L190.18 294.22 L190.4 292.9 L190.62 291.93 L191.13 290.11 L191.64 286.98 L192.14 285.38 L192.61 284.72 L193.35 281.95 L194.09 282.34 L194.46 283.92 L194.85 285.33 L195.26 286.95 L195.67 289.13 L196.08 289.01 L196.56 292.46 L197.04 292.76 L197.53 293.84 L198.06 296.76 L198.39 298.46 L198.74 299.6 L199.09 301.17 L199.46 303.66 L199.82 305.55 L200.19 308.1 L200.55 309.41 L201.04 311.16 L201.54 313.5 L202.03 314.57 L202.53 315.8 L203.03 318.01 L203.84 320.15 L204.64 321.51 L205.51 322.54 L206.97 324.04 L208.49 322.92 L210.04 324.27 L211.46 323.67 L212.49 322.02 L213.45 322.71 L214.63 323.42 L215.93 325.79 L217.42 325.29 L218.91 326.44 L220.15 327.55 L221.39 327.72 L222.85 325.65 L224.37 325.66 L225.86 324.69 L227.34 322.62 L228.83 322.19 L230.32 319.35 L231.84 319.03 L233.3 317.19 L234.62 317.04 L235.78 314.48 L236.42 312.26 L236.97 309.25 L237.52 309.38 L238.34 309.3 L239.26 309.91 L240.01 309.1 L240.85 307.14 L241.74 304.99 L242.69 303.34 L243.7 301.68 L244.71 301.03 L245.47 298.32 L246.23 297.46 L246.98 296.17 L247.69 294.75 L248.23 293.35 L248.74 290.69 L249.24 288.58 L249.72 287.48 L250.17 286.07 L250.48 284.36 L250.78 282.56 L251.06 280.72 L251.33 279.42 L251.61 277.51 L251.88 276.38 L252.16 273.9 L252.44 272.58 L252.73 270.55 L253.02 268.92 L253.31 266.82 L253.59 266.16 L253.87 264 L254.14 262.63 L255.03 257.42 L255.88 257.25 L256.32 257.89 L256.76 260.03 L257.2 260.75 L257.62 264.95 L257.81 266.25 L258 266.54 L258.17 268.29 L258.35 270.06 L258.52 272.26 L258.71 274.42 L258.9 277.05 L259.11 277.92 L259.27 279.91 L259.44 281.19 L259.61 283.65 L259.79 284.84 L259.98 286.89 L260.16 287.43 L260.35 289.64 L260.54 291.1 L260.72 294 L260.91 295.29 L261.09 296.47 L261.29 298.21 L261.48 300.5 L261.67 301.73 L261.86 303.44 L262.05 305.94 L262.25 308.7 L262.44 309.06 L262.65 310.58 L262.86 311.88 L263.08 313.33 L263.41 316.36 L263.75 318.54 L264.11 320.05 L264.47 322.03 L264.83 323.6 L265.2 325.13 L265.56 325.64 L266.4 328.54 L267.25 330.24 L268.04 331.24 L269.19 332.64 L270.02 333.35" fill="none" stroke="#D0464E" stroke-width="1.05" stroke-linejoin="round"/>
<path d="M161.84 292.16 L162.85 292.16 L164.2 292.17 L165.82 292.19 L167.64 292.22 L169.59 292.23 L171.58 292.26 L173.55 292.22 L175.42 292.26 L177.12 292.23 L178.57 292.21 L179.7 292.16 L182.15 291.79 L182.68 291.09 L183.95 289.87 L185.16 288.85 L185.78 286.24 L186.4 284.54 L187.02 283.28 L187.64 280.06 L188.06 280.69 L188.47 278.1 L188.88 277.27 L189.3 273.77 L189.71 271.8 L190.12 270.7 L190.74 269.08 L191.36 266.12 L191.99 265.11 L192.61 263.11 L193.45 262.08 L194.3 258.12 L195.09 258.26 L196.08 257.54 L197.07 259.13 L198.28 261.29 L199.55 262.92 L200.83 265.69 L202.03 267.67 L203.03 267.17 L204.02 267.84 L205.2 270.51 L206.5 271.53 L207.96 272.74 L209.48 273.58 L211 274.59 L212.46 277.88 L213.73 274.66 L214.94 274.81 L216.18 273.57 L217.42 274.2 L218.66 273.37 L219.9 273.14 L221.14 274.77 L222.38 274.34 L223.62 273.62 L224.86 272.34 L226.1 270.84 L227.34 269.68 L228.59 268.88 L229.83 269.18 L231.07 266.7 L232.31 267.22 L233.55 265.5 L234.79 266.5 L236.06 266.08 L237.27 262.31 L237.8 262.69 L238.29 260.81 L238.77 258.15 L239.26 257.35 L239.58 255.01 L239.9 252.24 L240.22 251.62 L240.54 249.93 L240.88 248.48 L241.24 246.01 L242.03 245.47 L242.88 244.09 L243.72 241.12 L244.55 239.84 L245.38 238.63 L246.2 236.62 L247.05 236.89 L247.89 234.13 L248.68 231.8 L249.71 230.05 L250.67 229.58 L251.66 232.18 L252.66 231.97 L253.32 234.12 L253.98 236.67 L254.64 237.54 L255.66 237.86 L256.63 234.17 L257.14 236.3 L257.6 237.96 L258.11 241.29 L258.34 241.19 L258.58 245.07 L258.82 245.21 L259.08 247.1 L259.33 248.16 L259.59 250.18 L259.85 253.08 L260.1 255.23 L260.32 256.66 L260.54 258.71 L260.76 260.02 L260.98 261.2 L261.2 263.57 L261.42 265.07 L261.64 266.17 L261.86 268.41 L262.08 270.36 L262.36 271.35 L262.64 272.64 L262.91 275.19 L263.18 277.74 L263.47 277.57 L263.76 279.09 L264.07 280.39 L264.64 283.55 L265.25 282.87 L265.88 286.16 L266.55 287.98 L267.92 288.81 L269.53 290.77 L271.56 291.41 L274 291.89 L275.73 292.1 L277.66 292.14 L280.2 292.16 L281.68 292.18 L283.47 292.17 L285.43 292.18 L287.39 292.17 L289.22 292.17 L290.76 292.16 L291.86 292.16" fill="none" stroke="#60B8CF" stroke-width="1.2" stroke-linejoin="round"/>
<rect x="161.8" y="203.8" width="130.1" height="129.5" fill="none" stroke="#5c5c5c" stroke-width="0.9"/>
<line x1="161.8" y1="333.3" x2="291.9" y2="333.3" stroke="#222" stroke-width="1"/>
<rect x="187.2" y="333.3" width="6.2" height="1.9" fill="#111"/>
<line x1="166.5" y1="333.3" x2="166.5" y2="336.9" stroke="#111" stroke-width="1.25"/>
<line x1="190.4" y1="333.3" x2="190.4" y2="336.9" stroke="#111" stroke-width="1.25"/>
<line x1="214.5" y1="333.3" x2="214.5" y2="336.9" stroke="#111" stroke-width="1.25"/>
<line x1="249.6" y1="333.3" x2="249.6" y2="336.9" stroke="#111" stroke-width="1.25"/>
<line x1="280" y1="333.3" x2="280" y2="336.9" stroke="#111" stroke-width="1.25"/>
<line x1="225.07" y1="333.3" x2="225.07" y2="334.7" stroke="#444" stroke-width="0.5"/>
<line x1="231.25" y1="333.3" x2="231.25" y2="334.7" stroke="#444" stroke-width="0.5"/>
<line x1="235.63" y1="333.3" x2="235.63" y2="334.7" stroke="#444" stroke-width="0.5"/>
<line x1="239.03" y1="333.3" x2="239.03" y2="334.7" stroke="#444" stroke-width="0.5"/>
<line x1="241.81" y1="333.3" x2="241.81" y2="334.7" stroke="#444" stroke-width="0.5"/>
<line x1="244.16" y1="333.3" x2="244.16" y2="334.7" stroke="#444" stroke-width="0.5"/>
<line x1="246.2" y1="333.3" x2="246.2" y2="334.7" stroke="#444" stroke-width="0.5"/>
<line x1="247.99" y1="333.3" x2="247.99" y2="334.7" stroke="#444" stroke-width="0.5"/>
<line x1="258.75" y1="333.3" x2="258.75" y2="334.7" stroke="#444" stroke-width="0.5"/>
<line x1="264.1" y1="333.3" x2="264.1" y2="334.7" stroke="#444" stroke-width="0.5"/>
<line x1="267.9" y1="333.3" x2="267.9" y2="334.7" stroke="#444" stroke-width="0.5"/>
<line x1="270.85" y1="333.3" x2="270.85" y2="334.7" stroke="#444" stroke-width="0.5"/>
<line x1="273.26" y1="333.3" x2="273.26" y2="334.7" stroke="#444" stroke-width="0.5"/>
<line x1="275.29" y1="333.3" x2="275.29" y2="334.7" stroke="#444" stroke-width="0.5"/>
<line x1="277.05" y1="333.3" x2="277.05" y2="334.7" stroke="#444" stroke-width="0.5"/>
<line x1="278.61" y1="333.3" x2="278.61" y2="334.7" stroke="#444" stroke-width="0.5"/>
<line x1="289.15" y1="333.3" x2="289.15" y2="334.7" stroke="#444" stroke-width="0.5"/>
<line x1="197.19" y1="333.3" x2="197.19" y2="334.7" stroke="#444" stroke-width="0.5"/>
<line x1="183.66" y1="333.3" x2="183.66" y2="334.7" stroke="#444" stroke-width="0.5"/>
<line x1="200.34" y1="333.3" x2="200.34" y2="334.7" stroke="#444" stroke-width="0.5"/>
<line x1="180.54" y1="333.3" x2="180.54" y2="334.7" stroke="#444" stroke-width="0.5"/>
<line x1="202.83" y1="333.3" x2="202.83" y2="334.7" stroke="#444" stroke-width="0.5"/>
<line x1="178.07" y1="333.3" x2="178.07" y2="334.7" stroke="#444" stroke-width="0.5"/>
<line x1="204.96" y1="333.3" x2="204.96" y2="334.7" stroke="#444" stroke-width="0.5"/>
<line x1="175.96" y1="333.3" x2="175.96" y2="334.7" stroke="#444" stroke-width="0.5"/>
<line x1="206.86" y1="333.3" x2="206.86" y2="334.7" stroke="#444" stroke-width="0.5"/>
<line x1="174.08" y1="333.3" x2="174.08" y2="334.7" stroke="#444" stroke-width="0.5"/>
<line x1="208.6" y1="333.3" x2="208.6" y2="334.7" stroke="#444" stroke-width="0.5"/>
<line x1="172.35" y1="333.3" x2="172.35" y2="334.7" stroke="#444" stroke-width="0.5"/>
<line x1="210.21" y1="333.3" x2="210.21" y2="334.7" stroke="#444" stroke-width="0.5"/>
<line x1="170.76" y1="333.3" x2="170.76" y2="334.7" stroke="#444" stroke-width="0.5"/>
<line x1="211.72" y1="333.3" x2="211.72" y2="334.7" stroke="#444" stroke-width="0.5"/>
<line x1="169.26" y1="333.3" x2="169.26" y2="334.7" stroke="#444" stroke-width="0.5"/>
<line x1="213.14" y1="333.3" x2="213.14" y2="334.7" stroke="#444" stroke-width="0.5"/>
<line x1="167.85" y1="333.3" x2="167.85" y2="334.7" stroke="#444" stroke-width="0.5"/>
<text class="san" x="170.6" y="347" font-size="4.8" text-anchor="middle" fill="#111">-10<tspan dx="0.4" dy="-2.4" font-size="4.56">3</tspan></text>
<text class="san" x="190.4" y="347" font-size="4.8" text-anchor="middle" fill="#111">0</text>
<text class="san" x="215.6" y="347" font-size="4.8" text-anchor="middle" fill="#111">10<tspan dx="0.4" dy="-2.4" font-size="4.56">3</tspan></text>
<text class="san" x="250.8" y="347" font-size="4.8" text-anchor="middle" fill="#111">10<tspan dx="0.4" dy="-2.4" font-size="4.56">4</tspan></text>
<text class="san" x="281" y="347" font-size="4.8" text-anchor="middle" fill="#111">10<tspan dx="0.4" dy="-2.4" font-size="4.56">5</tspan></text>
<line x1="233.8" y1="210.8" x2="248.4" y2="210.8" stroke="#60B8CF" stroke-width="1.1"/>
<text class="ser" x="252.2" y="213.6" font-size="9.2" fill="#222">mimic NC</text>
<line x1="233.8" y1="221.2" x2="248.4" y2="221.2" stroke="#D0464E" stroke-width="1"/>
<text class="ser" x="252.2" y="224" font-size="9.2" fill="#222">mimic</text>
<text class="ser" x="229.7" y="359.2" font-size="9.2" text-anchor="middle" fill="#3c3c3c" stroke-width="0.1" stroke="#444">CD80</text>
<path d="M330.94 332.9 L331.15 332.12 L331.37 331.2 L331.58 330.11 L331.8 328.83 L332.01 327.36 L332.23 325.67 L332.44 323.75 L332.66 321.59 L332.87 319.18 L333.09 316.52 L333.3 313.61 L333.52 310.46 L333.73 307.09 L333.95 303.52 L334.16 299.79 L334.38 295.92 L334.59 291.98 L334.81 288.01 L335.03 284.07 L335.24 280.23 L335.46 276.54 L335.67 273.08 L335.89 269.92 L336.1 267.11 L336.32 264.71 L336.53 262.77 L336.75 261.34 L336.96 260.44 L337.18 260.1 L337.39 260.33 L337.61 261.1 L337.82 262.43 L338.04 264.26 L338.25 266.56 L338.47 269.29 L338.68 272.39 L338.9 275.79 L339.11 279.43 L339.33 283.25 L339.54 287.17 L339.76 291.14 L339.97 295.09 L340.19 298.98 L340.41 302.74 L340.62 306.35 L340.84 309.76 L341.05 312.96 L341.27 315.92 L341.48 318.64 L341.7 321.1 L341.91 323.31 L342.13 325.28 L342.34 327.02 L342.56 328.54 L342.77 329.85 L342.99 330.98 L343.2 331.94 L343.42 332.75" fill="none" stroke="#D0464E" stroke-width="1.05" stroke-linejoin="round"/>
<path d="M306.6 292.2 L326 292.2 L326.39 292.2 L326.78 292.19 L327.17 292.18 L327.56 292.16 L327.95 292.14 L328.34 292.09 L328.73 292 L329.12 291.86 L329.51 291.64 L329.9 291.3 L330.29 290.78 L330.68 290.01 L331.07 288.91 L331.46 287.38 L331.85 285.3 L332.24 282.56 L332.63 279.06 L333.02 274.72 L333.41 269.5 L333.8 263.43 L334.19 256.61 L334.58 249.24 L334.97 241.59 L335.36 234 L335.75 226.88 L336.14 220.66 L336.53 215.73 L336.92 212.41 L337.31 210.96 L337.69 211.46 L338.08 213.89 L338.47 218.07 L338.86 223.72 L339.25 230.45 L339.64 237.86 L340.03 245.53 L340.42 253.08 L340.81 260.19 L341.2 266.64 L341.59 272.28 L341.98 277.05 L342.37 280.96 L342.76 284.05 L343.15 286.44 L343.54 288.23 L343.93 289.52 L344.32 290.44 L344.71 291.07 L345.1 291.49 L345.49 291.77 L345.88 291.94 L346.27 292.05 L346.66 292.11 L347.05 292.15 L347.44 292.17 L347.83 292.19 L348.22 292.19 L348.61 292.2 L349 292.2 L435.9 292.2" fill="none" stroke="#60B8CF" stroke-width="1.2" stroke-linejoin="round"/>
<rect x="306.6" y="203.8" width="129.3" height="129.5" fill="none" stroke="#5c5c5c" stroke-width="0.9"/>
<line x1="306.6" y1="333.3" x2="435.9" y2="333.3" stroke="#222" stroke-width="1"/>
<rect x="331" y="333.3" width="6.6" height="1.9" fill="#111"/>
<line x1="311.5" y1="333.3" x2="311.5" y2="336.9" stroke="#111" stroke-width="1.25"/>
<line x1="334.7" y1="333.3" x2="334.7" y2="336.9" stroke="#111" stroke-width="1.25"/>
<line x1="359.5" y1="333.3" x2="359.5" y2="336.9" stroke="#111" stroke-width="1.25"/>
<line x1="394.6" y1="333.3" x2="394.6" y2="336.9" stroke="#111" stroke-width="1.25"/>
<line x1="425" y1="333.3" x2="425" y2="336.9" stroke="#111" stroke-width="1.25"/>
<line x1="370.07" y1="333.3" x2="370.07" y2="334.7" stroke="#444" stroke-width="0.5"/>
<line x1="376.25" y1="333.3" x2="376.25" y2="334.7" stroke="#444" stroke-width="0.5"/>
<line x1="380.63" y1="333.3" x2="380.63" y2="334.7" stroke="#444" stroke-width="0.5"/>
<line x1="384.03" y1="333.3" x2="384.03" y2="334.7" stroke="#444" stroke-width="0.5"/>
<line x1="386.81" y1="333.3" x2="386.81" y2="334.7" stroke="#444" stroke-width="0.5"/>
<line x1="389.16" y1="333.3" x2="389.16" y2="334.7" stroke="#444" stroke-width="0.5"/>
<line x1="391.2" y1="333.3" x2="391.2" y2="334.7" stroke="#444" stroke-width="0.5"/>
<line x1="392.99" y1="333.3" x2="392.99" y2="334.7" stroke="#444" stroke-width="0.5"/>
<line x1="403.75" y1="333.3" x2="403.75" y2="334.7" stroke="#444" stroke-width="0.5"/>
<line x1="409.1" y1="333.3" x2="409.1" y2="334.7" stroke="#444" stroke-width="0.5"/>
<line x1="412.9" y1="333.3" x2="412.9" y2="334.7" stroke="#444" stroke-width="0.5"/>
<line x1="415.85" y1="333.3" x2="415.85" y2="334.7" stroke="#444" stroke-width="0.5"/>
<line x1="418.26" y1="333.3" x2="418.26" y2="334.7" stroke="#444" stroke-width="0.5"/>
<line x1="420.29" y1="333.3" x2="420.29" y2="334.7" stroke="#444" stroke-width="0.5"/>
<line x1="422.05" y1="333.3" x2="422.05" y2="334.7" stroke="#444" stroke-width="0.5"/>
<line x1="423.61" y1="333.3" x2="423.61" y2="334.7" stroke="#444" stroke-width="0.5"/>
<line x1="434.15" y1="333.3" x2="434.15" y2="334.7" stroke="#444" stroke-width="0.5"/>
<line x1="341.69" y1="333.3" x2="341.69" y2="334.7" stroke="#444" stroke-width="0.5"/>
<line x1="328.16" y1="333.3" x2="328.16" y2="334.7" stroke="#444" stroke-width="0.5"/>
<line x1="344.93" y1="333.3" x2="344.93" y2="334.7" stroke="#444" stroke-width="0.5"/>
<line x1="325.13" y1="333.3" x2="325.13" y2="334.7" stroke="#444" stroke-width="0.5"/>
<line x1="347.49" y1="333.3" x2="347.49" y2="334.7" stroke="#444" stroke-width="0.5"/>
<line x1="322.74" y1="333.3" x2="322.74" y2="334.7" stroke="#444" stroke-width="0.5"/>
<line x1="349.68" y1="333.3" x2="349.68" y2="334.7" stroke="#444" stroke-width="0.5"/>
<line x1="320.68" y1="333.3" x2="320.68" y2="334.7" stroke="#444" stroke-width="0.5"/>
<line x1="351.64" y1="333.3" x2="351.64" y2="334.7" stroke="#444" stroke-width="0.5"/>
<line x1="318.85" y1="333.3" x2="318.85" y2="334.7" stroke="#444" stroke-width="0.5"/>
<line x1="353.43" y1="333.3" x2="353.43" y2="334.7" stroke="#444" stroke-width="0.5"/>
<line x1="317.18" y1="333.3" x2="317.18" y2="334.7" stroke="#444" stroke-width="0.5"/>
<line x1="355.08" y1="333.3" x2="355.08" y2="334.7" stroke="#444" stroke-width="0.5"/>
<line x1="315.63" y1="333.3" x2="315.63" y2="334.7" stroke="#444" stroke-width="0.5"/>
<line x1="356.64" y1="333.3" x2="356.64" y2="334.7" stroke="#444" stroke-width="0.5"/>
<line x1="314.18" y1="333.3" x2="314.18" y2="334.7" stroke="#444" stroke-width="0.5"/>
<line x1="358.1" y1="333.3" x2="358.1" y2="334.7" stroke="#444" stroke-width="0.5"/>
<line x1="312.81" y1="333.3" x2="312.81" y2="334.7" stroke="#444" stroke-width="0.5"/>
<text class="san" x="315.4" y="347" font-size="4.8" text-anchor="middle" fill="#111">-10<tspan dx="0.4" dy="-2.4" font-size="4.56">3</tspan></text>
<text class="san" x="334.7" y="347" font-size="4.8" text-anchor="middle" fill="#111">0</text>
<text class="san" x="360.6" y="347" font-size="4.8" text-anchor="middle" fill="#111">10<tspan dx="0.4" dy="-2.4" font-size="4.56">3</tspan></text>
<text class="san" x="395.8" y="347" font-size="4.8" text-anchor="middle" fill="#111">10<tspan dx="0.4" dy="-2.4" font-size="4.56">4</tspan></text>
<text class="san" x="426" y="347" font-size="4.8" text-anchor="middle" fill="#111">10<tspan dx="0.4" dy="-2.4" font-size="4.56">5</tspan></text>
<line x1="378.1" y1="210.8" x2="392.5" y2="210.8" stroke="#60B8CF" stroke-width="1.1"/>
<text class="ser" x="396.2" y="213.6" font-size="9.2" fill="#222">mimic NC</text>
<line x1="378.1" y1="221.2" x2="392.5" y2="221.2" stroke="#D0464E" stroke-width="1"/>
<text class="ser" x="396.2" y="224" font-size="9.2" fill="#222">mimic</text>
<text class="ser" x="369.9" y="359.2" font-size="9.2" text-anchor="middle" fill="#3c3c3c" stroke-width="0.1" stroke="#444">CD86</text>
<text class="ser" x="446" y="196.8" font-size="14" font-weight="bold" fill="#111">F</text>
<rect x="485.1" y="276.3" width="26.8" height="52.1" fill="#A1A3A6" stroke="#111" stroke-width="1.2"/>
<rect x="526.5" y="256.4" width="26.8" height="72" fill="#8F1D24" stroke="#111" stroke-width="1.2"/>
<rect x="595.1" y="273.8" width="27.3" height="54.6" fill="#A1A3A6" stroke="#111" stroke-width="1.2"/>
<rect x="636.8" y="265.5" width="27" height="62.9" fill="#8F1D24" stroke="#111" stroke-width="1.2"/>
<line x1="471.1" y1="221.95" x2="471.1" y2="328.95" stroke="#000" stroke-width="1.35"/>
<line x1="471.1" y1="328.4" x2="679.1" y2="328.4" stroke="#000" stroke-width="1.35"/>
<line x1="467.5" y1="222.5" x2="471.1" y2="222.5" stroke="#000" stroke-width="1.35"/>
<text class="ser" x="466.9" y="226.2" font-size="9.2" text-anchor="end" font-weight="bold" fill="#111">1.5</text>
<line x1="467.5" y1="258" x2="471.1" y2="258" stroke="#000" stroke-width="1.35"/>
<text class="ser" x="466.9" y="261.7" font-size="9.2" text-anchor="end" font-weight="bold" fill="#111">1.0</text>
<line x1="467.5" y1="293.4" x2="471.1" y2="293.4" stroke="#000" stroke-width="1.35"/>
<text class="ser" x="466.9" y="297.1" font-size="9.2" text-anchor="end" font-weight="bold" fill="#111">0.5</text>
<line x1="467.5" y1="328.4" x2="471.1" y2="328.4" stroke="#000" stroke-width="1.35"/>
<text class="ser" x="466.9" y="332.1" font-size="9.2" text-anchor="end" font-weight="bold" fill="#111">0.0</text>
<line x1="519.1" y1="328.4" x2="519.1" y2="332.6" stroke="#000" stroke-width="1.35"/>
<line x1="629.6" y1="328.4" x2="629.6" y2="332.6" stroke="#000" stroke-width="1.35"/>
<line x1="498.4" y1="271.2" x2="498.4" y2="281.2" stroke="#000" stroke-width="1"/>
<line x1="491.6" y1="271.2" x2="505.2" y2="271.2" stroke="#000" stroke-width="1"/>
<line x1="491.6" y1="281.2" x2="505.2" y2="281.2" stroke="#000" stroke-width="1"/>
<circle cx="498.4" cy="259.5" r="2.6" fill="#000"/>
<circle cx="498.4" cy="271.2" r="2.6" fill="#000"/>
<circle cx="498.4" cy="278.8" r="2.6" fill="#000"/>
<circle cx="498.4" cy="283.7" r="2.6" fill="#000"/>
<circle cx="498.4" cy="288.9" r="2.6" fill="#000"/>
<line x1="539.8" y1="247.9" x2="539.8" y2="263.5" stroke="#000" stroke-width="1"/>
<line x1="533" y1="247.9" x2="546.6" y2="247.9" stroke="#000" stroke-width="1"/>
<line x1="533" y1="263.5" x2="546.6" y2="263.5" stroke="#000" stroke-width="1"/>
<rect x="528.75" y="238.65" width="5.1" height="5.1" fill="#000"/>
<rect x="545.95" y="238.65" width="5.1" height="5.1" fill="#000"/>
<rect x="537.25" y="245.35" width="5.1" height="5.1" fill="#000"/>
<rect x="537.25" y="263.55" width="5.1" height="5.1" fill="#000"/>
<rect x="537.25" y="280.35" width="5.1" height="5.1" fill="#000"/>
<line x1="608.7" y1="270" x2="608.7" y2="277.2" stroke="#000" stroke-width="1"/>
<line x1="601.9" y1="270" x2="615.5" y2="270" stroke="#000" stroke-width="1"/>
<line x1="601.9" y1="277.2" x2="615.5" y2="277.2" stroke="#000" stroke-width="1"/>
<circle cx="600.4" cy="268.7" r="2.6" fill="#000"/>
<circle cx="608.7" cy="270" r="2.6" fill="#000"/>
<circle cx="617.4" cy="266.3" r="2.6" fill="#000"/>
<circle cx="600.4" cy="282.7" r="2.6" fill="#000"/>
<circle cx="617.4" cy="280.7" r="2.6" fill="#000"/>
<line x1="650.2" y1="260.2" x2="650.2" y2="270.3" stroke="#000" stroke-width="1"/>
<line x1="643.3" y1="260.2" x2="657.1" y2="260.2" stroke="#000" stroke-width="1"/>
<line x1="643.3" y1="270.3" x2="657.1" y2="270.3" stroke="#000" stroke-width="1"/>
<rect x="639.05" y="253.45" width="5.1" height="5.1" fill="#000"/>
<rect x="656.15" y="253.45" width="5.1" height="5.1" fill="#000"/>
<rect x="647.65" y="257.35" width="5.1" height="5.1" fill="#000"/>
<rect x="647.65" y="271.45" width="5.1" height="5.1" fill="#000"/>
<rect x="647.65" y="278.15" width="5.1" height="5.1" fill="#000"/>
<line x1="497.6" y1="229" x2="540.3" y2="229" stroke="#1a1a1a" stroke-width="1.2"/>
<line x1="498.2" y1="226" x2="498.2" y2="232" stroke="#1a1a1a" stroke-width="1.2"/>
<line x1="539.7" y1="226" x2="539.7" y2="232" stroke="#1a1a1a" stroke-width="1.2"/>
<text class="ser" x="520.55" y="228.78" font-size="15.8" text-anchor="middle" font-weight="bold" fill="#111">*</text>
<text class="ser" x="449.6" y="274.8" font-size="9.2" text-anchor="middle" fill="#111" transform="rotate(-90 449.6 274.8)">RFU</text>
<text class="ser" x="520.4" y="341.2" font-size="9.2" text-anchor="middle" fill="#111">CD80</text>
<text class="ser" x="630.9" y="341.2" font-size="9.2" text-anchor="middle" fill="#111">CD86</text>
<circle cx="633.1" cy="204.8" r="3.1" fill="#000"/>
<text class="ser" x="642.4" y="207.6" font-size="9.2" fill="#111">mimic NC</text>
<rect x="630.25" y="216.55" width="5.7" height="5.7" fill="#000"/>
<text class="ser" x="642.4" y="222.2" font-size="9.2" fill="#111">mimic</text>
<text class="ser" x="1.6" y="388" font-size="14" font-weight="bold" fill="#111">G</text>
<path d="M124.4 461.4h0m-1.4 1.7h0m1.4-.4h0m.7-.5h0m.7 2.3h0m1.8 .3h0m.3 0h0m-10.3 3.1h0m.8-.7h0m1.5-.4h0m1.7-1.2h0m.9 1.9h0m1.1 0h0m.3-.9h0m0 .8h0m.2-.1h0m.1 .5h0m.4-.1h0m.3-1.3h0m1.3 1.5h0m.4-2.2h0m.7-.5h0m.6 2.3h0m2.4-.5h0m2.3-1.7h0m-15.6 5.6h0m2.4-2h0m.7-.2h0m.1 .7h0m.1 1.5h0m.3-1.2h0m.4 .9h0m0-.8h0m.1 .6h0m.3-.7h0m0-.7h0m.2 .9h0m.2-.1h0m.2-1.5h0m.4 .3h0m0-.3h0m.1 1.5h0m.1 1h0m.1 0h0m.1-2.6h0m.1 2.3h0m0 0h0m0-.2h0m.6-.5h0m0 .2h0m.1 .4h0m0-.7h0m.1 .6h0m.1 0h0m.1 .1h0m.1-.8h0m0-1.1h0m.2 1.1h0m0-.1h0m0 1.1h0m0-1.4h0m.1 0h0m0 .6h0m.1 .4h0m.3 .4h0m.3-2.3h0m.2 2.4h0m.1-.7h0m0-1.2h0m.1 .4h0m0-.1h0m.1 .7h0m0 .5h0m.3-1.2h0m.1-.1h0m.1 1.1h0m.2-1.1h0m0 1.9h0m.1-2.9h0m.4 1h0m.2 .7h0m.5 .4h0m.2-1.7h0m.6 0h0m1.9 1.8h0m-13.8 .8h0m.4 2.6h0m1.4-1.3h0m.1-1.2h0m.5 1.9h0m.3 .4h0m0-1.7h0m.2 1.7h0m0-1.1h0m.1-1.2h0m.1 1.1h0m.3 .3h0m.1 .7h0m.2 .3h0m.2-.2h0m.2 .4h0m0 0h0m.1-1.5h0m.3-.3h0m.1 1h0m.1-1.4h0m0 1.6h0m0 0h0m.1-1.2h0m0 1.2h0m.1 .5h0m0 .1h0m.1 .1h0m0-.2h0m.1-.6h0m0 .7h0m.1 .1h0m0-.2h0m.1-1.5h0m.1-.5h0m.1-.3h0m0 .5h0m0-.5h0m.1-.3h0m.1 2.2h0m0 .7h0m0-1.9h0m0 .8h0m0-.8h0m.1 0h0m.1-1h0m0 2.9h0m.3-1.3h0m0-1h0m.1 1.3h0m0 .7h0m0-1.5h0m0 1.8h0m.1-1.2h0m.1-.3h0m0 1.4h0m.1-1.7h0m0 1.2h0m0-.9h0m.1-.9h0m0 1.9h0m0 .4h0m.1-.6h0m.1-1.3h0m0 1.2h0m0-2h0m0 1h0m0 .3h0m.1 .8h0m.1-1.3h0m0 0h0m0 1.2h0m.2-1.2h0m0 .9h0m0 .4h0m0-2h0m0 .2h0m0 0h0m.1-.1h0m0 .2h0m.1 1h0m.2 .6h0m0-1.1h0m0 1.4h0m0-2h0m0 .2h0m.1 1.2h0m0-.8h0m0 1.6h0m0-1.7h0m.1 1.7h0m.1-.8h0m0-1.2h0m.1 1.8h0m0 0h0m0 .3h0m0-1.6h0m0-.5h0m.2 1.4h0m0-1.2h0m0 2.1h0m0 0h0m.2-1.2h0m.1 .6h0m0-.5h0m.1-.8h0m0-.5h0m0 2.4h0m0-.9h0m0 .5h0m0-2h0m.1 2.3h0m.1-1.6h0m.1 .5h0m.1 .2h0m0-1.5h0m.1-.2h0m0 2h0m0 .2h0m.1-.3h0m0-2.1h0m.1 2.3h0m0-.2h0m.1-.8h0m.1 1.6h0m.1-.5h0m.1-1.1h0m0 .5h0m.1-.6h0m.1 .6h0m.2-.4h0m.3 1.2h0m0-2.2h0m.2 .1h0m0 2.3h0m.3-2h0m.2 1.4h0m.1-1.7h0m.1 .2h0m.2 2h0m0-.3h0m.4-1.7h0m0 1.9h0m.6-1.6h0m.3-.1h0m1.4-.1h0m-14 4.3h0m0-1h0m.2-.2h0m1-.6h0m.1 .8h0m.9 .8h0m.4-1.6h0m.1 2.1h0m.2-.1h0m.2-1.6h0m0 1.4h0m.1-1.3h0m.2 .9h0m0-1.6h0m.4 1.4h0m0-.1h0m0 .3h0m.2-1.2h0m.2 .5h0m0-.6h0m0 2.5h0m.1-.7h0m0-.7h0m.1 .1h0m0-1.6h0m.1 1.7h0m.1-.1h0m0 1.3h0m.1-2.8h0m.1 .7h0m0 1.1h0m.2-.3h0m0-.8h0m0 2.1h0m.1-2.5h0m.1-.1h0m.1 .1h0m0-.3h0m0 2.2h0m.1-.3h0m0-1.4h0m.1 .2h0m0 1.7h0m.1-1h0m0 1.3h0m0-2.8h0m0 .1h0m0 2.2h0m.1-.2h0m0 0h0m.1 .5h0m0-1.6h0m.1 .7h0m.2-1.4h0m0 1h0m.1 .4h0m.1 .4h0m.1-.7h0m0 1h0m0-1.2h0m0 0h0m0-1.1h0m.1 1.7h0m.1 1h0m0-1.8h0m0 .9h0m.1-.7h0m0 1h0m0 0h0m0-1.7h0m0 .1h0m.1 1.8h0m0-1.6h0m0 2.1h0m0-1.8h0m0 1.7h0m.1 .1h0m0-2.5h0m0 2.3h0m.1-.1h0m0-.4h0m0-1.1h0m0-.1h0m0 1.9h0m.1-2.7h0m0 .7h0m0 .3h0m.1 .3h0m0 .1h0m0 1h0m0-1.9h0m.1-.7h0m0 1.3h0m0 .1h0m.1-1.2h0m0 .2h0m0 1.1h0m0 0h0m0 .1h0m0 .3h0m0-1.3h0m.1 2.2h0m0-1.2h0m0-.7h0m0 .7h0m0 1.3h0m.1-1.5h0m0-.9h0m0 1.1h0m0-.5h0m.1 1.6h0m0-1.9h0m0 0h0m.1 .9h0m0-.6h0m0 .1h0m.1 .2h0m0 1h0m.1-.2h0m0-.5h0m0 .3h0m.1-1.7h0m0 1.1h0m.1 .3h0m0 .4h0m0-.4h0m0-1.1h0m.1 2h0m0-.4h0m.1-1.9h0m0 .7h0m0 1.3h0m.1-.9h0m.1-.7h0m.1-.4h0m.1 .3h0m0 2h0m0-1.7h0m.1 .9h0m0-.4h0m0 1h0m0 .3h0m0-1.7h0m.1-1h0m.1 2.1h0m0 .6h0m0 0h0m0 0h0m.2-1.8h0m0-.4h0m0-.1h0m.1 1.1h0m0 1.4h0m.1-.5h0m0 .3h0m.1-1.4h0m0 1.5h0m0-2.3h0m0 1h0m.1-.8h0m.1 .5h0m0 1.1h0m0-1.9h0m0 1.8h0m.1-1.3h0m.1 .7h0m0-.2h0m0 .9h0m.1 0h0m.1-.8h0m0 .2h0m0 .9h0m.1-.5h0m.1-1.1h0m.1 .3h0m.1 .9h0m0-1.3h0m.1 1.9h0m0-.7h0m0-.8h0m0 .4h0m.1-.1h0m.2-1h0m0 1.6h0m.1 .5h0m.1-.4h0m0-1.6h0m0 .9h0m0-1.4h0m.1 2.3h0m.3-1.9h0m.4-.2h0m0-.3h0m0 2.4h0m.2-.3h0m.1-1h0m.6 .2h0m0 1.3h0m0-2.7h0m.2 1.1h0m.6 1.4h0m1.9-1.7h0m-16.3 4.9h0m.3-1.5h0m.9 .1h0m.5 .8h0m1.3-.3h0m.1 .3h0m.1 .4h0m.2-2.5h0m.1 2h0m.1 .9h0m.1-2.5h0m.1 1.5h0m.2-1.1h0m0 1.1h0m.5-.6h0m.1 .9h0m.1-2.1h0m.1 .9h0m.2-.1h0m.1 .8h0m.1-.4h0m0 .5h0m.1-.3h0m0 .3h0m0 .3h0m0 .4h0m0-1.1h0m.1-1.2h0m0 2.4h0m.1-2.3h0m.1 .6h0m0 .8h0m.2-.6h0m0-.6h0m.1 1.1h0m0-.4h0m.1 1.3h0m0-1.4h0m0 1.1h0m.1-.6h0m0-.1h0m0-.4h0m0 .8h0m.1 .5h0m0-1.8h0m.1 1.3h0m0 0h0m0-.5h0m.1 .2h0m0 .7h0m.2 .1h0m.1-.6h0m0-1h0m.1 .3h0m0-.1h0m0 .3h0m0-.3h0m0 1.5h0m.1-2.4h0m0 1.5h0m.1-.5h0m.1 1.4h0m0-1.3h0m0 .5h0m.2 .6h0m0-2h0m.1 .3h0m0-.1h0m.1 .5h0m0-.3h0m.1 1.9h0m0-1h0m0-.4h0m0-.7h0m0 2.4h0m.2-2.5h0m0 1.1h0m0-.2h0m0 .6h0m.1-1.4h0m0-.4h0m.1 1.6h0m0-1.4h0m0-.3h0m0 1.4h0m0-1.2h0m0 2.3h0m.1-2.5h0m0 2.9h0m0-1.4h0m0-1.3h0m.1 .8h0m0-.7h0m.1 .8h0m.2 .8h0m0 .9h0m.1-.7h0m.1-.6h0m0 .8h0m0-1.7h0m.1-.2h0m.1 1.5h0m.1-.6h0m0-1.2h0m0 .4h0m0 2h0m0-2.2h0m.2-.2h0m.1 .3h0m.1 1.7h0m0-1.6h0m0 .3h0m0 0h0m0-.5h0m.1 2.5h0m.1-2.6h0m0 2.3h0m.2 .1h0m0-2.2h0m0 .8h0m0 1.1h0m.1 .5h0m0-1h0m0 .5h0m.2-2h0m0 1.8h0m0-2.1h0m.1 1.5h0m0 .1h0m.1-.8h0m.1-.3h0m.1-.3h0m0 .4h0m.1 .6h0m0 1.1h0m0-1.2h0m0 .4h0m0 1.4h0m.2-1.3h0m0-1.5h0m.1-.1h0m.1 2.8h0m0-1.5h0m.2-.3h0m0 .8h0m0 .6h0m.2-.6h0m0-.8h0m.1 .2h0m.2 1.5h0m.1-.9h0m0 1.1h0m.1-2.6h0m0-.1h0m0 2.5h0m.1-1.3h0m0 .2h0m.3-.9h0m.1 .5h0m.3 .8h0m.1 .1h0m0-.3h0m.2-1.4h0m0 1.7h0m.1-.6h0m.5-.5h0m.2 1.5h0m.1-1.6h0m.4 .6h0m.5 .9h0m.5 .2h0m1.1-.8h0m1.6-1.7h0m-18.1 4h0m1.7-.2h0m.9-.2h0m.3 1.5h0m.8-2.2h0m.2 2.2h0m.3-1.3h0m.2-.3h0m.5 1.6h0m.3-1.1h0m.1-.7h0m.1 .2h0m.1 1.8h0m.1-2.1h0m0 2h0m.1-1.5h0m0-.3h0m.1-.4h0m0 1.9h0m.1-.8h0m.1 1.4h0m0-2.5h0m0 2.4h0m0 0h0m0-.4h0m.1 .7h0m0-.6h0m.3-1.2h0m.1-.8h0m0 .4h0m0 2.2h0m.1-2.5h0m.1 2.3h0m0-1.5h0m.1 1.4h0m0-2.5h0m.2 2h0m0-.6h0m.2-.9h0m0-.5h0m0 1.3h0m.1 .1h0m0 1.2h0m.2-1.4h0m.1-.6h0m.1 .6h0m0 0h0m.1-1.2h0m0 1.4h0m.1-.8h0m0 0h0m.1 1h0m0 .6h0m.2-.8h0m0-.8h0m0-.5h0m.1 1.6h0m0-1h0m0-.5h0m0 2h0m0 .5h0m.1-.7h0m.1-1.3h0m0-.4h0m0 1.1h0m.2 .8h0m0-1.9h0m0 1.9h0m0-.2h0m.1-1.6h0m0 .9h0m.2 0h0m0-.7h0m.2 1.3h0m0 1h0m0-1.4h0m.1-.9h0m0 .4h0m0 .3h0m0-1.3h0m.1 2.2h0m.4-.6h0m0-.9h0m.4 .8h0m.2 .6h0m0-.1h0m.1-1.1h0m.1 .9h0m0-1.5h0m.1 0h0m.2 0h0m0 .3h0m.2-.4h0m.1 1.2h0m.3 .8h0m0-1.7h0m.4 2h0m.1-1.9h0m.1 .1h0m0-.7h0m.2 0h0m.1 .2h0m.2 1.5h0m0 .3h0m.6-1.8h0m.1 .8h0m.1 .8h0m.5-1.7h0m.6 1.6h0m.9 .9h0m0-1.6h0m1.4 1.9h0m-15.7 1.3h0m.6 1.2h0m.6-.7h0m.9-.2h0m0-.4h0m0-.3h0m.1 2h0m.2-1.7h0m.1 .8h0m.2-.5h0m.5 .7h0m0-1.1h0m.1 0h0m.2-.2h0m0-.6h0m.1 .8h0m.2 1.4h0m0-1h0m.2-1.1h0m.1 1.5h0m.2 .1h0m0 .1h0m.1 .7h0m0 0h0m.1-.4h0m.1-.1h0m.1-2h0m0 0h0m.1 .3h0m.3-.4h0m.2 2.4h0m.3-1.1h0m.1-.1h0m.4-.9h0m.1 .7h0m0 0h0m.1-.2h0m.2-.7h0m.1 .1h0m.1 .1h0m0-.1h0m.1 .3h0m0 1.2h0m0 .2h0m0-.8h0m.1-.7h0m0 2.2h0m.1-2h0m.1-.4h0m0 .4h0m.2 .1h0m0 2.1h0m0-2.4h0m.1 1h0m.2 .5h0m0-1.3h0m0 .6h0m0 1.4h0m.2-.8h0m.3-.5h0m.2 1h0m.1-1.7h0m0-.7h0m.3 1.2h0m.1 .2h0m.1 .8h0m.2-.8h0m0-.3h0m.1 .4h0m.1 .4h0m.1-1.9h0m.2 1.2h0m0-.8h0m.3 2.2h0m.2-2.3h0m.1-.2h0m.1-.1h0m.1 .6h0m.2 .2h0m0-.4h0m0 .6h0m.2 1.9h0m1.3-1.6h0m.1 .5h0m0-1.6h0m1.1 0h0m.4 .3h0m.6-.5h0m1.6 1.7h0m-16.7 3.2h0m4.3 .8h0m.5-1.5h0m.4-1.1h0m.1 .1h0m.7 2.2h0m.4-1.7h0m.2 .9h0m.2 .1h0m0-.2h0m.1-.4h0m.4 .3h0m.6 .4h0m.1-1.8h0m.1 1.3h0m.1 .8h0m.3 .7h0m.6-.8h0m.5-1.5h0m.3 .2h0m0 .6h0m.2-.7h0m.2-.5h0m.1 1.6h0m.1-.2h0m1 .8h0m.1 .3h0m.4-.9h0m.1-.5h0m0 1h0m.4 0h0m.3-1.7h0m.9 1.2h0m0-.8h0m.2-.2h0m.3 1.5h0m4.1-.6h0m-19.6 2.2h0m2.9 0h0m1.6 .3h0m1.1-.9h0m.2 0h0m.2 .8h0m.2 .8h0m.2 .4h0m.3-1.9h0m0 .9h0m.1 .3h0m0-1.1h0m.3 1.9h0m0-1.2h0m.3-.3h0m.4 0h0m.4 1.2h0m.1-1.2h0m.1 .7h0m.1-1.5h0m.1 2.1h0m.7-.3h0m.1-1h0m.5 0h0m.6 .8h0m0-1.5h0m.1 1h0m0 1.8h0m.1-2.9h0m0 1.6h0m.1-.3h0m.3-.7h0m.1 .6h0m.8 .4h0m0-1.6h0m.1 .1h0m1 .5h0m.4 .2h0m.2 .8h0m3.5 1.2h0m1.4-2.3h0m-17.9 4.4h0m1.9-1.4h0m1.4 .7h0m1.1 1.2h0m1.4-.6h0m.7 1.1h0m.1-1.7h0m.7 .5h0m0-1.3h0m.1 2.2h0m.2-2.2h0m2.3 2.4h0m1.1 0h0m.8-2.2h0m1 .1h0m.2 1.5h0m.8-2.2h0m1.5 2.8h0m-15 .3h0m4.7 2.8h0m.1-1.8h0m0 .3h0m.3-.9h0m.3 1.2h0m.1 .5h0m.2-1.9h0m.2 2.3h0m.1-.9h0m.9-1.3h0m.5 1.7h0m0 0h0m.4-1.8h0m.3 1.5h0m0-.7h0m.5-1.1h0m.3 .6h0m.8 1.5h0m.1-1h0m1.1 1h0m1.5-.6h0m.1 .4h0m.2-1.5h0m5.4 2.3h0m-11.9 .4h0m.4 0h0m.2 2.4h0m0-1.6h0m.4 0h0m1.6-.4h0m3-.4h0m.5 1.6h0m1.9-1.4h0m2.4 2.3h0m1.8 .2h0m-15.4 .4h0m1.7 .8h0m.8-.2h0m0 1.4h0m3.2-1.2h0m2.8 2.5h0m3.6-.4h0m.9 .5h0m-6.6 4h0m.8 .8h0m4-1.9h0m-11.4 5.2h0m2.3-.2h0m2.9-2.3h0m4.4 1.9h0m-1.9 2.5h0m.1 .6h0m3.2-.5h0m-8.7 1.4h0m1.5 1h0m1.4 .4h0" stroke="#000" stroke-width="0.62" stroke-linecap="square" fill="none" stroke-opacity="0.8"/>
<path d="M125.2 401.9h0m-21.8 7.4h0m21 2.7h0m-23.5 3.1h0m2.3-.1h0m3.6-.8h0m23.3 .4h0m-34.4 4.2h0m12.6 3.8h0m7.1 6.6h0m-6.6 5.2h0m-7.1 3.1h0m59.2-2.4h0m-56.7 5.2h0m.6-.5h0m-15.9 1.6h0m11.5 7h0m6.1 .1h0m-11.3 2.1h0m8.6 4.5h0m-17.7 10.8h0m3.5 6.8h0m7 .2h0m-20.6 1.3h0m.5 2h0m6.5-1h0m3.9 1.6h0m.2 0h0m26.1 0h0m17.2-1.7h0m.6 0h0m-68.1 4.2h0m11.9-.4h0m.7-1.8h0m10.7 2.3h0m4.8-2.2h0m12.1 2.5h0m-30.2 2h0m8.6-.8h0m5.3-.4h0m12.2 1h0m3.6-.9h0m-27.7 3h0m2.4 2.1h0m.1-2.3h0m8.8 .3h0m2.3 1h0m.7 .1h0m5.1 .5h0m1.5-1.4h0m8.7 .9h0m2.1 1.1h0m29.3-1.5h0m6.2-.9h0m-72.7 3.3h0m8.2 1.9h0m8.9-1.7h0m.8 .9h0m.5-1.4h0m1.4 1.5h0m6.3 .2h0m3.5 .5h0m5.9-2.6h0m.1 .9h0m4 1h0m-36.4 3.8h0m6.9-2.5h0m.3-.1h0m26.4 .7h0m3.6 1.3h0m-45 .8h0m6.5 2.6h0m6.8-2.5h0m5 1.8h0m1.9-.2h0m3-1h0m3.5 .8h0m2.3-.3h0m5.3 1.4h0m.7-1.5h0m10.2-.9h0m29.7 .7h0m-70.7 4.4h0m4.4-.1h0m5.2-1h0m3.4 1.6h0m1.4-2.5h0m3.2 1.4h0m5.5-1h0m4.3 .2h0m1.4 1.8h0m47.7-2.2h0m2.6 2.2h0m-67.8 3.1h0m3.7-.9h0m8.4 1h0m3.9-1.7h0m1.2-1.2h0m22.9 .6h0m16.1 1.2h0m-62.7 1.7h0m6.1 2h0m3.7 .1h0m.2-.9h0m1.4 .3h0m8.7-.7h0m-19.2 4.1h0m1.9 .1h0m2.4-.8h0m4.8-1.6h0m.4 1.8h0m12 .8h0m8.7 .1h0m-20.9 1.2h0m4.4 0h0m1.4 1.1h0m7.5-1.4h0m-24.7 4.9h0m.9-.2h0m0-2.4h0m4.5 1.6h0m1.1-1.2h0m.7 .4h0m9.5 .2h0m3.6 1h0m-6.9 2h0m6.6 .8h0m2.5 .4h0m-29.8 1.2h0m2.5 3h0m22.2 0h0" stroke="#222" stroke-width="0.55" stroke-linecap="square" fill="none" stroke-opacity="0.6"/>
<line x1="111.8" y1="391.7" x2="111.8" y2="521.7" stroke="#555" stroke-width="1.5"/>
<line x1="48.8" y1="466.3" x2="177" y2="466.3" stroke="#1a1a1a" stroke-width="1.2"/>
<rect x="48.8" y="391.7" width="128.2" height="130" fill="none" stroke="#5c5c5c" stroke-width="0.9"/>
<line x1="48.4" y1="521.7" x2="177.4" y2="521.7" stroke="#111" stroke-width="1.2"/>
<line x1="48.8" y1="391.7" x2="48.8" y2="521.7" stroke="#444" stroke-width="0.9"/>
<line x1="48.8" y1="521.7" x2="48.8" y2="524.7" stroke="#111" stroke-width="1.2"/>
<text class="san" x="51.1" y="537.2" font-size="4.5" text-anchor="start" fill="#111">10<tspan dx="0.4" dy="-2.4" font-size="4.27">0</tspan></text>
<line x1="55.7" y1="521.7" x2="55.7" y2="523.3" stroke="#333" stroke-width="0.5"/>
<line x1="59.86" y1="521.7" x2="59.86" y2="523.3" stroke="#333" stroke-width="0.5"/>
<line x1="62.81" y1="521.7" x2="62.81" y2="523.3" stroke="#333" stroke-width="0.5"/>
<line x1="65.1" y1="521.7" x2="65.1" y2="523.3" stroke="#333" stroke-width="0.5"/>
<line x1="66.96" y1="521.7" x2="66.96" y2="523.3" stroke="#333" stroke-width="0.5"/>
<line x1="68.54" y1="521.7" x2="68.54" y2="523.3" stroke="#333" stroke-width="0.5"/>
<line x1="69.91" y1="521.7" x2="69.91" y2="523.3" stroke="#333" stroke-width="0.5"/>
<line x1="71.12" y1="521.7" x2="71.12" y2="523.3" stroke="#333" stroke-width="0.5"/>
<line x1="72.2" y1="521.7" x2="72.2" y2="524.7" stroke="#111" stroke-width="1.2"/>
<text class="san" x="68.9" y="537.2" font-size="4.5" text-anchor="start" fill="#111">10<tspan dx="0.4" dy="-2.4" font-size="4.27">1</tspan></text>
<line x1="79.3" y1="521.7" x2="79.3" y2="523.3" stroke="#333" stroke-width="0.5"/>
<line x1="83.46" y1="521.7" x2="83.46" y2="523.3" stroke="#333" stroke-width="0.5"/>
<line x1="86.41" y1="521.7" x2="86.41" y2="523.3" stroke="#333" stroke-width="0.5"/>
<line x1="88.7" y1="521.7" x2="88.7" y2="523.3" stroke="#333" stroke-width="0.5"/>
<line x1="90.56" y1="521.7" x2="90.56" y2="523.3" stroke="#333" stroke-width="0.5"/>
<line x1="92.14" y1="521.7" x2="92.14" y2="523.3" stroke="#333" stroke-width="0.5"/>
<line x1="93.51" y1="521.7" x2="93.51" y2="523.3" stroke="#333" stroke-width="0.5"/>
<line x1="94.72" y1="521.7" x2="94.72" y2="523.3" stroke="#333" stroke-width="0.5"/>
<line x1="95.8" y1="521.7" x2="95.8" y2="524.7" stroke="#111" stroke-width="1.2"/>
<text class="san" x="92.5" y="537.2" font-size="4.5" text-anchor="start" fill="#111">10<tspan dx="0.4" dy="-2.4" font-size="4.27">2</tspan></text>
<line x1="102.9" y1="521.7" x2="102.9" y2="523.3" stroke="#333" stroke-width="0.5"/>
<line x1="107.06" y1="521.7" x2="107.06" y2="523.3" stroke="#333" stroke-width="0.5"/>
<line x1="110.01" y1="521.7" x2="110.01" y2="523.3" stroke="#333" stroke-width="0.5"/>
<line x1="112.3" y1="521.7" x2="112.3" y2="523.3" stroke="#333" stroke-width="0.5"/>
<line x1="114.16" y1="521.7" x2="114.16" y2="523.3" stroke="#333" stroke-width="0.5"/>
<line x1="115.74" y1="521.7" x2="115.74" y2="523.3" stroke="#333" stroke-width="0.5"/>
<line x1="117.11" y1="521.7" x2="117.11" y2="523.3" stroke="#333" stroke-width="0.5"/>
<line x1="118.32" y1="521.7" x2="118.32" y2="523.3" stroke="#333" stroke-width="0.5"/>
<line x1="119.4" y1="521.7" x2="119.4" y2="524.7" stroke="#111" stroke-width="1.2"/>
<text class="san" x="116.1" y="537.2" font-size="4.5" text-anchor="start" fill="#111">10<tspan dx="0.4" dy="-2.4" font-size="4.27">3</tspan></text>
<line x1="126.5" y1="521.7" x2="126.5" y2="523.3" stroke="#333" stroke-width="0.5"/>
<line x1="130.66" y1="521.7" x2="130.66" y2="523.3" stroke="#333" stroke-width="0.5"/>
<line x1="133.61" y1="521.7" x2="133.61" y2="523.3" stroke="#333" stroke-width="0.5"/>
<line x1="135.9" y1="521.7" x2="135.9" y2="523.3" stroke="#333" stroke-width="0.5"/>
<line x1="137.76" y1="521.7" x2="137.76" y2="523.3" stroke="#333" stroke-width="0.5"/>
<line x1="139.34" y1="521.7" x2="139.34" y2="523.3" stroke="#333" stroke-width="0.5"/>
<line x1="140.71" y1="521.7" x2="140.71" y2="523.3" stroke="#333" stroke-width="0.5"/>
<line x1="141.92" y1="521.7" x2="141.92" y2="523.3" stroke="#333" stroke-width="0.5"/>
<line x1="143" y1="521.7" x2="143" y2="524.7" stroke="#111" stroke-width="1.2"/>
<text class="san" x="139.7" y="537.2" font-size="4.5" text-anchor="start" fill="#111">10<tspan dx="0.4" dy="-2.4" font-size="4.27">4</tspan></text>
<line x1="150.1" y1="521.7" x2="150.1" y2="523.3" stroke="#333" stroke-width="0.5"/>
<line x1="154.26" y1="521.7" x2="154.26" y2="523.3" stroke="#333" stroke-width="0.5"/>
<line x1="157.21" y1="521.7" x2="157.21" y2="523.3" stroke="#333" stroke-width="0.5"/>
<line x1="159.5" y1="521.7" x2="159.5" y2="523.3" stroke="#333" stroke-width="0.5"/>
<line x1="161.36" y1="521.7" x2="161.36" y2="523.3" stroke="#333" stroke-width="0.5"/>
<line x1="162.94" y1="521.7" x2="162.94" y2="523.3" stroke="#333" stroke-width="0.5"/>
<line x1="164.31" y1="521.7" x2="164.31" y2="523.3" stroke="#333" stroke-width="0.5"/>
<line x1="165.52" y1="521.7" x2="165.52" y2="523.3" stroke="#333" stroke-width="0.5"/>
<line x1="166.6" y1="521.7" x2="166.6" y2="524.7" stroke="#111" stroke-width="1.2"/>
<text class="san" x="163.3" y="537.2" font-size="4.5" text-anchor="start" fill="#111">10<tspan dx="0.4" dy="-2.4" font-size="4.27">5</tspan></text>
<line x1="173.7" y1="521.7" x2="173.7" y2="523.3" stroke="#333" stroke-width="0.5"/>
<line x1="45.8" y1="521" x2="48.8" y2="521" stroke="#111" stroke-width="1.2"/>
<text class="san" x="42.6" y="520" font-size="4.5" text-anchor="end" fill="#111">10<tspan dx="0.4" dy="-2.4" font-size="4.27">0</tspan></text>
<line x1="47.2" y1="513.87" x2="48.8" y2="513.87" stroke="#333" stroke-width="0.5"/>
<line x1="47.2" y1="509.69" x2="48.8" y2="509.69" stroke="#333" stroke-width="0.5"/>
<line x1="47.2" y1="506.73" x2="48.8" y2="506.73" stroke="#333" stroke-width="0.5"/>
<line x1="47.2" y1="504.43" x2="48.8" y2="504.43" stroke="#333" stroke-width="0.5"/>
<line x1="47.2" y1="502.56" x2="48.8" y2="502.56" stroke="#333" stroke-width="0.5"/>
<line x1="47.2" y1="500.97" x2="48.8" y2="500.97" stroke="#333" stroke-width="0.5"/>
<line x1="47.2" y1="499.6" x2="48.8" y2="499.6" stroke="#333" stroke-width="0.5"/>
<line x1="47.2" y1="498.38" x2="48.8" y2="498.38" stroke="#333" stroke-width="0.5"/>
<line x1="45.8" y1="497.3" x2="48.8" y2="497.3" stroke="#111" stroke-width="1.2"/>
<text class="san" x="42.6" y="498.9" font-size="4.5" text-anchor="end" fill="#111">10<tspan dx="0.4" dy="-2.4" font-size="4.27">1</tspan></text>
<line x1="47.2" y1="490.17" x2="48.8" y2="490.17" stroke="#333" stroke-width="0.5"/>
<line x1="47.2" y1="485.99" x2="48.8" y2="485.99" stroke="#333" stroke-width="0.5"/>
<line x1="47.2" y1="483.03" x2="48.8" y2="483.03" stroke="#333" stroke-width="0.5"/>
<line x1="47.2" y1="480.73" x2="48.8" y2="480.73" stroke="#333" stroke-width="0.5"/>
<line x1="47.2" y1="478.86" x2="48.8" y2="478.86" stroke="#333" stroke-width="0.5"/>
<line x1="47.2" y1="477.27" x2="48.8" y2="477.27" stroke="#333" stroke-width="0.5"/>
<line x1="47.2" y1="475.9" x2="48.8" y2="475.9" stroke="#333" stroke-width="0.5"/>
<line x1="47.2" y1="474.68" x2="48.8" y2="474.68" stroke="#333" stroke-width="0.5"/>
<line x1="45.8" y1="473.6" x2="48.8" y2="473.6" stroke="#111" stroke-width="1.2"/>
<text class="san" x="42.6" y="475.2" font-size="4.5" text-anchor="end" fill="#111">10<tspan dx="0.4" dy="-2.4" font-size="4.27">2</tspan></text>
<line x1="47.2" y1="466.47" x2="48.8" y2="466.47" stroke="#333" stroke-width="0.5"/>
<line x1="47.2" y1="462.29" x2="48.8" y2="462.29" stroke="#333" stroke-width="0.5"/>
<line x1="47.2" y1="459.33" x2="48.8" y2="459.33" stroke="#333" stroke-width="0.5"/>
<line x1="47.2" y1="457.03" x2="48.8" y2="457.03" stroke="#333" stroke-width="0.5"/>
<line x1="47.2" y1="455.16" x2="48.8" y2="455.16" stroke="#333" stroke-width="0.5"/>
<line x1="47.2" y1="453.57" x2="48.8" y2="453.57" stroke="#333" stroke-width="0.5"/>
<line x1="47.2" y1="452.2" x2="48.8" y2="452.2" stroke="#333" stroke-width="0.5"/>
<line x1="47.2" y1="450.98" x2="48.8" y2="450.98" stroke="#333" stroke-width="0.5"/>
<line x1="45.8" y1="449.9" x2="48.8" y2="449.9" stroke="#111" stroke-width="1.2"/>
<text class="san" x="42.6" y="451.5" font-size="4.5" text-anchor="end" fill="#111">10<tspan dx="0.4" dy="-2.4" font-size="4.27">3</tspan></text>
<line x1="47.2" y1="442.77" x2="48.8" y2="442.77" stroke="#333" stroke-width="0.5"/>
<line x1="47.2" y1="438.59" x2="48.8" y2="438.59" stroke="#333" stroke-width="0.5"/>
<line x1="47.2" y1="435.63" x2="48.8" y2="435.63" stroke="#333" stroke-width="0.5"/>
<line x1="47.2" y1="433.33" x2="48.8" y2="433.33" stroke="#333" stroke-width="0.5"/>
<line x1="47.2" y1="431.46" x2="48.8" y2="431.46" stroke="#333" stroke-width="0.5"/>
<line x1="47.2" y1="429.87" x2="48.8" y2="429.87" stroke="#333" stroke-width="0.5"/>
<line x1="47.2" y1="428.5" x2="48.8" y2="428.5" stroke="#333" stroke-width="0.5"/>
<line x1="47.2" y1="427.28" x2="48.8" y2="427.28" stroke="#333" stroke-width="0.5"/>
<line x1="45.8" y1="426.2" x2="48.8" y2="426.2" stroke="#111" stroke-width="1.2"/>
<text class="san" x="42.6" y="427.8" font-size="4.5" text-anchor="end" fill="#111">10<tspan dx="0.4" dy="-2.4" font-size="4.27">4</tspan></text>
<line x1="47.2" y1="419.07" x2="48.8" y2="419.07" stroke="#333" stroke-width="0.5"/>
<line x1="47.2" y1="414.89" x2="48.8" y2="414.89" stroke="#333" stroke-width="0.5"/>
<line x1="47.2" y1="411.93" x2="48.8" y2="411.93" stroke="#333" stroke-width="0.5"/>
<line x1="47.2" y1="409.63" x2="48.8" y2="409.63" stroke="#333" stroke-width="0.5"/>
<line x1="47.2" y1="407.76" x2="48.8" y2="407.76" stroke="#333" stroke-width="0.5"/>
<line x1="47.2" y1="406.17" x2="48.8" y2="406.17" stroke="#333" stroke-width="0.5"/>
<line x1="47.2" y1="404.8" x2="48.8" y2="404.8" stroke="#333" stroke-width="0.5"/>
<line x1="47.2" y1="403.58" x2="48.8" y2="403.58" stroke="#333" stroke-width="0.5"/>
<line x1="45.8" y1="402.5" x2="48.8" y2="402.5" stroke="#111" stroke-width="1.2"/>
<text class="san" x="42.6" y="404.1" font-size="4.5" text-anchor="end" fill="#111">10<tspan dx="0.4" dy="-2.4" font-size="4.27">5</tspan></text>
<line x1="47.2" y1="395.37" x2="48.8" y2="395.37" stroke="#333" stroke-width="0.5"/>
<text class="ser" x="113.6" y="386" font-size="9.2" text-anchor="middle" fill="#3c3c3c" stroke-width="0.1" stroke="#444">Ki67 FMO</text>
<text class="ser" x="144.4" y="435.6" font-size="9.2" text-anchor="middle" fill="#3c3c3c" stroke-width="0.1" stroke="#444">0.38%</text>
<line x1="25.2" y1="547.9" x2="25.2" y2="485" stroke="#222" stroke-width="1"/>
<line x1="24.7" y1="547.4" x2="88" y2="547.4" stroke="#222" stroke-width="1"/>
<path d="M25.2 479 l3.6 7.4 h-7.2 Z" fill="#000"/>
<path d="M94 547.4 l-7.4 -3.6 v7.2 Z" fill="#000"/>
<text class="ser" x="21.9" y="518.6" font-size="9.2" text-anchor="middle" fill="#111" transform="rotate(-90 21.9 518.6)">Ki67</text>
<text class="ser" x="44.2" y="559.3" font-size="9.2" fill="#111">CD19</text>
<path d="M294.9 445h0m3.9 4h0m-9.5 1.8h0m.9 1.3h0m2-1.6h0m.4 2.4h0m.5 0h0m2.7-.6h0m.2-.1h0m1.7-.4h0m-4.3 4.1h0m.5-1.5h0m.4 1.1h0m.5-1.1h0m.2-.1h0m.5 .4h0m.3 .4h0m.4 .8h0m.5-2.4h0m.1 1.3h0m.4 1h0m0-.9h0m.5 .8h0m-9 3.2h0m1-1.7h0m.6 1.7h0m.6-2h0m0-.7h0m.2 2.2h0m.6-1.1h0m1-.5h0m.2 .9h0m.2-.6h0m.2 .8h0m.1-.3h0m.1 0h0m0 .1h0m0 0h0m.1-.7h0m.2-.2h0m.1 2.1h0m.2-2.5h0m.2 2.1h0m0-2.4h0m.1 1.5h0m.2 .1h0m.1 .8h0m.1-.1h0m.1 .1h0m0-1h0m0 .3h0m.1 .8h0m.1-.1h0m0-.9h0m.1 1h0m.1-2.2h0m.1 0h0m0 2.4h0m.2-.2h0m0 .2h0m.1-2.3h0m.1 1.3h0m.1 .5h0m0 .4h0m0 0h0m.1 0h0m0-.7h0m.1-.9h0m0 1.7h0m.1-.4h0m.2 .2h0m.1-2.5h0m.1 .1h0m.2-.2h0m0 2.3h0m.1-1h0m0 .6h0m.2-.3h0m.1 .8h0m.1-1.3h0m.1 .2h0m0 1.6h0m.1-1h0m0-.8h0m.1-.2h0m.1 1h0m.1 0h0m.1-.7h0m.3 1h0m0-.8h0m.1 1h0m0 .5h0m.2-1.6h0m0 .8h0m0-.7h0m0 1.5h0m.1-.2h0m.1-1.1h0m.4 .1h0m0-.2h0m.4 1.4h0m.3-.2h0m.1-.9h0m0 .2h0m0 .6h0m.5 .3h0m0-1.5h0m.5 1.3h0m.4-1.7h0m.1 1.9h0m.2-.8h0m.6-.3h0m.5-1.4h0m.3 0h0m-14.8 3.2h0m1 .1h0m1.5 .6h0m.3-1.1h0m.4 2.2h0m.1-1.3h0m.3 .8h0m.2-.9h0m0 1.2h0m0-2.2h0m0 1.5h0m.1-1.1h0m0 2.5h0m0-2.4h0m.1 1.7h0m.1 .2h0m0-.1h0m.2 .1h0m.1-2.3h0m0 2.3h0m.1-1.5h0m0 1.4h0m.1-.8h0m.1-1.2h0m.3 .8h0m0 1.8h0m.2-1.9h0m0 .9h0m.1 .1h0m0-1h0m.2 .7h0m.2-1.3h0m0 .7h0m0 .9h0m.1 0h0m0 .3h0m.1 .1h0m0-.6h0m0 .3h0m.1-1.5h0m.1 1.1h0m0-.8h0m.1 1h0m0-.5h0m0-1h0m0 2.1h0m.1-1.7h0m0 .9h0m0-.5h0m0 .3h0m.1 1h0m0 0h0m.1-1.1h0m0-1.4h0m0 1.4h0m.1-.2h0m0 .7h0m0 .8h0m0-.4h0m.1-1h0m0 .6h0m0 .9h0m0-.4h0m0-.1h0m0-2.2h0m0 2.4h0m.1-.4h0m.1-1.9h0m.2 .8h0m0 1.6h0m0-2.4h0m0-.2h0m0 0h0m.1 2h0m0-1.2h0m0 .2h0m0-.1h0m.1 .3h0m0 .8h0m0 .9h0m0-2.2h0m0 2h0m0-2.1h0m.1 1.6h0m0-2h0m0 1.8h0m0-.3h0m0 .4h0m0-1.3h0m.1 1.5h0m0-1.6h0m0 .5h0m0-.1h0m0 1.5h0m0-1.1h0m.1 1h0m0-.7h0m0 1.1h0m.1-1.6h0m0 1.1h0m0-.6h0m0 1h0m.1-.9h0m0 1h0m0-.6h0m.1-.2h0m0 .1h0m0-1h0m0-.2h0m0 .8h0m0-1.7h0m.1 1.3h0m0-.3h0m0-.4h0m.1 2.1h0m0 .1h0m0-1.1h0m.1-1.8h0m0 2.5h0m0-.5h0m0 .1h0m.1-1.2h0m0 1.4h0m0 .2h0m0-2.3h0m.1 1.5h0m0 .5h0m0-1.7h0m0-.4h0m0 1.9h0m0-1.8h0m.1 0h0m0 1.4h0m0-.2h0m0 .2h0m0-1.2h0m0 1.6h0m0 .6h0m.1-2.1h0m0 1.2h0m0-1.6h0m0 2.5h0m0-1.9h0m0 1.3h0m0 .7h0m0-1.3h0m.1 .2h0m0 .5h0m0 .5h0m0-1.8h0m0-.5h0m0 2.1h0m.1-1h0m.1-.6h0m0-.5h0m.1 2.1h0m.1-1.1h0m.1 1.5h0m0-2.2h0m0 .5h0m.1 1.5h0m0 0h0m0-.5h0m0-1.8h0m0-.3h0m0 2.9h0m.1-.3h0m0 .3h0m0-2.5h0m0 1.6h0m0-.2h0m0-.4h0m.1 1h0m0 .5h0m.1-1.3h0m0-.3h0m0 1.4h0m0-1h0m.1 .3h0m.1-.4h0m0-1.1h0m0 1.7h0m0 .4h0m.1 .3h0m.1-1h0m0 .8h0m0-1.4h0m0 .1h0m.1 .1h0m0-1h0m0 1.3h0m0 .1h0m0 .2h0m.1-.5h0m0-.2h0m.1 .9h0m0-1.8h0m.1 1.4h0m0 .6h0m0-.4h0m0-.2h0m0-.8h0m.1 .8h0m0 .3h0m0-.9h0m0 .9h0m.1-2.2h0m.1 1.7h0m0 .7h0m0-1.3h0m0 .7h0m0 .8h0m.1-2h0m.1 1.9h0m.1-.4h0m0 .5h0m0-.7h0m0-1h0m.1 .8h0m0-1.5h0m.1 2.1h0m0-1.8h0m0 2.3h0m0-1.2h0m.1 .1h0m0 1h0m0-.1h0m.1-1.9h0m.1 1.4h0m0-1.4h0m.2 1.6h0m.1 .3h0m0-.9h0m.1 .8h0m0-.4h0m0-.9h0m.1 .6h0m0-1h0m0 1.4h0m.1-1.5h0m0-.2h0m.1 2.3h0m.1-.2h0m.1-.3h0m0-.9h0m.2 1h0m.1-1.8h0m.1-.2h0m.1 2h0m0-2.3h0m.2 2.2h0m0-.2h0m.2 .4h0m.1 .3h0m.1-.4h0m.3 .5h0m.1-.7h0m.4 .3h0m1.1-.9h0m.5 .9h0m.4 .3h0m-18.1 2.6h0m1.8-1.3h0m1.7-.8h0m0 .5h0m.3 .1h0m.1 .8h0m0-.3h0m.2 1h0m.3-1.5h0m.1 .1h0m.2 .3h0m0-.6h0m.1 .7h0m0-.3h0m.1-.7h0m.4-.4h0m0 1.9h0m0 .6h0m.1-1.8h0m.3-.7h0m0 .5h0m.3-.4h0m.1 1.5h0m.1 .1h0m.1 .5h0m0-1.1h0m.1 1.6h0m0 .2h0m.1-1.2h0m.1-.6h0m0 .8h0m.2-1.6h0m0-.1h0m0 1h0m0-.8h0m.2 1.2h0m.1-.2h0m0-.5h0m.1 1.2h0m.1-.7h0m.1-.7h0m0 1.8h0m.1 .1h0m0-1.5h0m0 .7h0m0-.9h0m0 .1h0m0-.4h0m0 1.4h0m0-.2h0m.1-.7h0m0 .1h0m0 .8h0m0-1h0m.1-.4h0m0 .8h0m0-1h0m0 .2h0m0-.1h0m0 1.6h0m.1 0h0m.1 .6h0m0-.7h0m0 .7h0m.1-1.3h0m0 .3h0m0 .5h0m.1 .4h0m0-.3h0m0-1h0m0 1.5h0m0-1.1h0m0 0h0m0 .7h0m.1 0h0m0-.4h0m0-.2h0m0-1.6h0m0 .3h0m0 1.7h0m.1 0h0m0-1h0m0-.1h0m0 .4h0m0 .2h0m0 1.2h0m.1-2.2h0m0 1.3h0m.1-.2h0m.1-.8h0m0 .9h0m0-.2h0m0-.9h0m0 2h0m.1-1.6h0m0 1.3h0m0-1.8h0m.1 2h0m0-1.3h0m0-1.1h0m0 1.5h0m0-1.2h0m.1 2h0m0 .2h0m0-.8h0m0 .3h0m.1-1.9h0m0 1.4h0m0-1.1h0m0-.7h0m0 1h0m0 .1h0m0-1h0m0 .1h0m0 .6h0m0 .6h0m.1 .6h0m0-1.8h0m0 2.3h0m0 0h0m0-2.3h0m0 1.5h0m0 .6h0m0-1.7h0m0 1.1h0m.1 .3h0m0-1.2h0m0 1.7h0m0-2.5h0m0 1h0m0-.8h0m0 1.9h0m0-.8h0m.1 .7h0m0 .4h0m.1-.4h0m0-.3h0m0-.6h0m0 1.2h0m0 .1h0m0 .3h0m0-1.6h0m.1-.1h0m0 .8h0m0 .7h0m0-1.2h0m0 .5h0m0-.6h0m.1 1.7h0m0-2.9h0m0 .4h0m0 .4h0m0-.5h0m.1 1.1h0m0 1.4h0m0-2.8h0m.1 2.7h0m0-1h0m0-.7h0m0 .6h0m.1-.5h0m0 .4h0m0-1.2h0m0 1.8h0m0-2h0m0 .4h0m0 1.7h0m0-1.2h0m0 .7h0m.1 .7h0m0-1.5h0m0 .3h0m0-.4h0m0-.4h0m0 1.4h0m0-.3h0m0 1.2h0m.1-1.4h0m0-1.2h0m0 2.4h0m0-1.1h0m0 1.1h0m0 .1h0m0-.4h0m0 .7h0m.1-1.4h0m0-.9h0m0 1.6h0m0 .4h0m0 .2h0m.1-1.9h0m0 1.5h0m0-.4h0m0 .8h0m0-1h0m.1-.2h0m0 0h0m0-.3h0m0 .6h0m0-1.5h0m0 1.3h0m.1 .4h0m0-.4h0m0 .3h0m0-1.9h0m0 .2h0m0 2.1h0m0 0h0m0 .3h0m.1-1h0m0-1.1h0m0 .9h0m0-.9h0m0 .1h0m0 2.2h0m.1-1.3h0m0-1.4h0m0 1.5h0m0-1.3h0m0 .5h0m0 1.4h0m0-.2h0m.1-1.7h0m0 1.4h0m0-.7h0m.1 1.8h0m0-1.8h0m0 .9h0m0 .4h0m.1-1.2h0m0 .6h0m0-.8h0m0-.8h0m0 1.5h0m.1-1.6h0m0 2.7h0m0-.6h0m0-1.7h0m0 2.4h0m.1-.5h0m0-1.3h0m0-.2h0m0 1h0m0 .8h0m0-1.9h0m0 1.2h0m.1-.4h0m0 0h0m0 1.3h0m0-1.9h0m0-.2h0m0 1.7h0m0-1.8h0m0-.3h0m.1 1.2h0m0 1.3h0m0-1.7h0m0-.5h0m0-.2h0m0-.5h0m0 1h0m0-.8h0m0 1.8h0m0-.7h0m0-.9h0m0 1h0m0 1.4h0m0-1.5h0m.1 1.4h0m0-2.2h0m0 .9h0m0 .8h0m0-1h0m0 1.2h0m0-.1h0m.1-.4h0m0-1.1h0m0 .5h0m0 0h0m0-.9h0m0 1.9h0m.1-.6h0m0-.8h0m0 0h0m0-.4h0m.1 .9h0m.1 .8h0m0 0h0m0-.9h0m0 .9h0m.1-.4h0m0 .5h0m0 .1h0m0 .1h0m.1-.9h0m0-.7h0m0 1.4h0m0-1h0m0 .3h0m0-.2h0m0 1.4h0m.1-.3h0m0-.4h0m0-.3h0m0 .3h0m0-.2h0m.1 .4h0m0-1.1h0m0-.5h0m0 .8h0m0 1h0m.1-2.3h0m0 2.6h0m0-.8h0m0-1h0m0-.4h0m0 1.6h0m.1-.4h0m0-.2h0m0 1.1h0m0-.7h0m0-1.1h0m0 0h0m0 .7h0m.1-.8h0m0-.5h0m0-.1h0m0 .8h0m0 .6h0m.1-.7h0m0 1h0m0 .1h0m0-.2h0m0-.3h0m0 .6h0m0-1.4h0m.1-.2h0m0-.5h0m0 .3h0m0 2.2h0m0 .1h0m.1-1.1h0m0 1h0m0-1.1h0m0 1.1h0m0-2.4h0m0 .8h0m0 .8h0m0-1.2h0m.1 1h0m0 .9h0m0-.8h0m0-.7h0m0-.3h0m0 .3h0m.1-.8h0m0 2.4h0m0-1.7h0m0-.4h0m0 .2h0m.1-.5h0m0 .7h0m0 .7h0m0-.1h0m0 .5h0m0-1.1h0m0 1.7h0m0-2.5h0m.1 2.6h0m0 .2h0m0-1.4h0m0-.3h0m0 .8h0m.1-1.7h0m.1-.2h0m0 2.3h0m0-1.4h0m0 .2h0m0 1.1h0m.1-.7h0m0 .9h0m0 0h0m0-1.7h0m0 1.2h0m0 1h0m.1-2.8h0m0 .7h0m.1 2.1h0m0-.2h0m0-.6h0m0-1.4h0m0 2h0m0-.2h0m0-2.4h0m0 1.7h0m.1 1h0m0-1.2h0m.1-.4h0m0 1.7h0m0-.3h0m0-1h0m.1-1h0m.1 1.2h0m0 .4h0m0-2.2h0m.1 1.4h0m0 1.3h0m.1 .1h0m0-.3h0m.1-1.7h0m.1-.1h0m0 1.8h0m0-.6h0m.1-.1h0m.1 .6h0m.1-.6h0m0 .3h0m.1-.5h0m0-.6h0m0 0h0m.2 1.3h0m0-.9h0m0 .7h0m.2-.1h0m.3-1.7h0m0 1.4h0m.2 .1h0m0 .7h0m.4-.3h0m.9-.8h0m.5 .5h0m.6 .7h0m.1-1.6h0m.5 1.2h0m-16.5 1h0m.1 1.2h0m1.2 .7h0m.4-1.1h0m.1 1.3h0m.9-.9h0m0 .7h0m.4-.9h0m.3 .9h0m.1-1.2h0m.1 .4h0m.1-.7h0m.1-.6h0m.2 1.5h0m0 1h0m.4-2.1h0m0 1.2h0m.1-.6h0m0-.6h0m.1 1.2h0m.1 .1h0m.1-.4h0m0 1h0m0 .5h0m.1-2.7h0m.1 1.3h0m0-.2h0m0-.9h0m0-.1h0m.1 0h0m0 .4h0m0 .1h0m0-.5h0m0 .4h0m0-.1h0m.1 .9h0m0-.2h0m0-1h0m0 .9h0m0-1.1h0m.2 .2h0m.1 .7h0m.1 1.2h0m0-1.1h0m0 .6h0m.1-1.2h0m0 .5h0m.1 1h0m0 .3h0m0-.3h0m.1-.8h0m.1 0h0m0 1.4h0m0-1.5h0m0 .9h0m0-1.6h0m0 .8h0m.1-1.1h0m0 1.8h0m0-.6h0m.1 .9h0m0 .6h0m.2-2h0m0 1.4h0m0-1.7h0m.1 .3h0m0 .7h0m0 .3h0m0 1h0m.1-2h0m0 1.2h0m.1-1h0m0 .9h0m0 .4h0m0-1.1h0m.1 1h0m0-.4h0m0-1.7h0m0 .9h0m.1-.4h0m.1 .9h0m0-.6h0m0 1.1h0m0 .9h0m.1-1.1h0m0-1.6h0m0 1.4h0m.1 .2h0m0-.3h0m.1-.7h0m.1-.3h0m0 1.6h0m0-1.3h0m0 1h0m.1-1.7h0m0 1.2h0m0 .5h0m.1 1.2h0m0-2.2h0m0-.3h0m0-.4h0m0 .7h0m0 .7h0m.1 .6h0m0-.4h0m0-1.2h0m.1 .2h0m0 2.3h0m0-2.7h0m0 .2h0m0 .1h0m0 .3h0m.1-.6h0m0 .1h0m0 .6h0m0-.6h0m0-.3h0m.1 .8h0m.1 .2h0m0-.8h0m0 1h0m0-.2h0m0-.8h0m0 .8h0m0-.6h0m0 1.1h0m.1-.9h0m0 1.4h0m0-2h0m0 1.7h0m0-1.4h0m0 .3h0m.1 .2h0m0 1.2h0m0 .3h0m0-1.3h0m0 1h0m.1 .8h0m0-2.4h0m0 1.2h0m0-1.3h0m.1 .6h0m0-.7h0m0 1.2h0m0-.9h0m0-.4h0m0 .4h0m0-.3h0m.1 2h0m0-1h0m0-.4h0m.1 1.1h0m0-.3h0m0 .4h0m0-1.6h0m0 .5h0m0-.7h0m0 2.5h0m0-2.1h0m0 1.2h0m.1-.8h0m0 1h0m0 .2h0m0-.4h0m0 .1h0m0 .8h0m0-1.6h0m0 1.2h0m0-1.3h0m.1-1h0m0 .5h0m0 2.3h0m.1-2.8h0m0 .6h0m0-.3h0m0 1h0m.1-1.2h0m.1 .9h0m0-.3h0m0 .3h0m0 .4h0m0-1.2h0m0 2.6h0m0-2.6h0m.1 .8h0m0 .3h0m0 1.3h0m0-1.9h0m0 .7h0m0 .7h0m.1-.2h0m0-.8h0m0 .3h0m0-.9h0m0-.2h0m.1-.2h0m0 .9h0m0-.9h0m0 .1h0m.1 1.6h0m0 .1h0m0-1.8h0m0 1.9h0m0-.1h0m.1-1.8h0m0 1.9h0m.1 0h0m0-.1h0m.1 .4h0m0-1.5h0m0-.2h0m0 1.5h0m0-2.1h0m.1 2.8h0m0-1.8h0m0 1.8h0m0 .1h0m0-.5h0m0-1.8h0m0 .9h0m.1-1.3h0m0 2.5h0m0-.1h0m0 .1h0m0-.4h0m.1 0h0m0-1h0m0-.6h0m.1 1.6h0m0-.8h0m0 .2h0m0 1.2h0m.1-2.9h0m0 .6h0m0 1.8h0m0-2.2h0m0-.1h0m.1 1.2h0m0 1.6h0m0-2.3h0m0 1.7h0m.1 .3h0m.2-1.1h0m0-.8h0m0 1.6h0m0-.5h0m0-.6h0m0-1.2h0m0 2.3h0m.1-1.7h0m0 1.3h0m.1 .9h0m0-.1h0m0-2.3h0m0 .4h0m0 1.9h0m0-2.5h0m0 2.1h0m0 .6h0m0-2.6h0m.1 0h0m0 .6h0m0 1.7h0m0 .2h0m0-1.6h0m0 .3h0m.1 .2h0m0-.3h0m0-.7h0m.1 .5h0m0 1.5h0m.1-1.8h0m0 1.2h0m.1-2h0m0 .9h0m.1 .1h0m0 .6h0m0 1.1h0m.1-1.2h0m.1-.6h0m.1 .7h0m0 .1h0m0-1h0m0 1.3h0m.1-1.6h0m0 1.5h0m0-1.6h0m.1 .9h0m0 0h0m.1-1.2h0m.1 0h0m0 .9h0m0-.4h0m.2 1.3h0m0-.9h0m0 0h0m.1 1.6h0m.4-1.4h0m0 .8h0m.1 .9h0m.1-1h0m0-1.9h0m.1 1.1h0m0 .5h0m.1 .5h0m0 0h0m0-.7h0m.1 1.2h0m.1-1.9h0m.1 1.4h0m.1 .3h0m.1-1.8h0m0 .7h0m0-1.3h0m0 1.9h0m.4-1.2h0m0 .8h0m.1 .6h0m.1 .2h0m.1-1.9h0m.5 1.8h0m0 .4h0m.5-.7h0m.6-1h0m.4 1.9h0m-14.9 .7h0m.2 .3h0m.1 1.6h0m.3-1.9h0m.5 0h0m0 2.2h0m0-1.6h0m1-.5h0m.4 .6h0m.2 .5h0m0 .5h0m.1-2.1h0m0 1.5h0m0 1.1h0m.2-2.4h0m0-.1h0m0 .8h0m0-.7h0m.1-.2h0m0 1.6h0m0-.7h0m.2 1.6h0m0-2h0m.1 1.2h0m0 .5h0m0-.9h0m0 .9h0m0-1.2h0m.1-.9h0m0 1.6h0m0 1.1h0m.1-.5h0m0-1.7h0m.2 2.2h0m.2-2.2h0m0-.5h0m.1 .8h0m.1 1.6h0m0-1.7h0m.1-.9h0m0 1.4h0m0 1.3h0m0-2.2h0m.2 0h0m0 1h0m.1 1.1h0m0 .3h0m0-.7h0m.1-.7h0m0 .8h0m0 0h0m.1-.3h0m.2 0h0m.2-1.5h0m0 .6h0m0 1.7h0m0-2.4h0m0 0h0m.1 .6h0m0 .5h0m0 .2h0m.1-1.3h0m0 2.4h0m0-1.5h0m0 1.5h0m.1-.1h0m0-.1h0m0-1.8h0m.1 .8h0m.1 .3h0m.1-1.4h0m.1-.3h0m.1 .4h0m0 2h0m0-1.7h0m.2-.6h0m0 .4h0m0 1.7h0m.1-.6h0m0-1.1h0m0 .4h0m0-.5h0m0 1.5h0m.1-2h0m0 .6h0m0 1.6h0m0 .5h0m.1 0h0m0-2.4h0m0 2.3h0m.1-1.9h0m0-.6h0m0 1.9h0m0-1.8h0m.1 1.4h0m0-1.2h0m0 1.8h0m0 .2h0m0-1.8h0m.1-.3h0m0 1.6h0m0-1.9h0m0 .7h0m.1 .4h0m0 1.4h0m0 .2h0m0-1h0m0-.7h0m0-.1h0m.1-.5h0m.1 1h0m.1 0h0m0-.4h0m.1 .6h0m0-.9h0m0 1.1h0m.1-1.3h0m.1-.6h0m0 1.3h0m0-.2h0m0-.1h0m.1-.4h0m0 1h0m0-1.5h0m0 .2h0m0 2.3h0m.1-1.8h0m0 0h0m0 1.2h0m0-1.7h0m0 .4h0m.1 0h0m0-.1h0m0-.6h0m0 .1h0m0 .6h0m0 1.4h0m.1-2h0m0 1h0m0-.8h0m0-.1h0m0-.2h0m0 2.9h0m0-.2h0m.1-1h0m.1 .4h0m.1 .7h0m0-1.4h0m.1 .3h0m0-.1h0m.1 .2h0m.1-.9h0m0-.4h0m0-.4h0m0 1.9h0m.2-.8h0m0 .4h0m0-.3h0m0 .7h0m.1-1.8h0m0 1.4h0m0-1.6h0m.1 1h0m.1 1.1h0m.1 0h0m0-.3h0m0 .9h0m.1-.2h0m0-.5h0m.1-1.5h0m0 .7h0m0-.8h0m0 .9h0m0 1.1h0m.1-1.2h0m0-.2h0m0 .3h0m0-1.1h0m0 1.1h0m.1 .1h0m.1 .6h0m0-1.9h0m0 1.3h0m.2-.7h0m.3 1.3h0m0-.2h0m.3-1.3h0m.2 .6h0m.1 .3h0m.2-.4h0m.3-.3h0m0-.7h0m0 .8h0m0 .3h0m.2 1.3h0m.2-1.3h0m.2-.9h0m.1 1.4h0m0-.3h0m.1-.1h0m.1-.6h0m.1-.4h0m0 1.1h0m.1-1.1h0m0 0h0m.1 2.5h0m.1-1.7h0m.1 .5h0m.2-.7h0m0 0h0m.5-.3h0m.4 .7h0m-14.6 3.4h0m0-1.5h0m2.5 2.5h0m.1 .3h0m.4-2.8h0m0 1.4h0m.1-1.5h0m.1 2.4h0m.2-1.2h0m.2-.9h0m0 0h0m.1 .3h0m.1 .6h0m.1 0h0m.4-1.1h0m.1 .8h0m.1 .5h0m.1 .9h0m0 .6h0m0-.5h0m.5-2h0m.1 1.3h0m.1-1.2h0m.3-.2h0m.2 1.5h0m.1-1.8h0m0 .1h0m0 2.2h0m.1-.7h0m.1-.8h0m0-.5h0m0-.2h0m.1 0h0m0 .7h0m.3-.4h0m0 .9h0m.1-.6h0m0 .3h0m.5 1.3h0m.1-1.3h0m.1 1.1h0m.1-.3h0m0 .9h0m.1-2h0m.2-.4h0m.2 1.6h0m0-.6h0m0 .3h0m.1 .7h0m0-.9h0m.1-.2h0m.1 .9h0m0-2h0m0 2.2h0m0-1.9h0m.1 1.3h0m.3-1.6h0m0 1.4h0m0 .2h0m.2-1.2h0m.2 .2h0m0 1.3h0m0-1h0m.1 .3h0m0-1.3h0m.1 2.9h0m.5 0h0m0-2.2h0m.1-.5h0m0 2.1h0m0-1h0m.1-.8h0m.2 .6h0m.1 0h0m.2-.8h0m0 .2h0m.1 2.2h0m0-2.3h0m.1 1.9h0m0-2h0m.2 .7h0m0-.9h0m.1 2.8h0m0-.2h0m.3-1.6h0m.1-1.1h0m.2 2.5h0m.1-1.9h0m.2 1.2h0m.3 1h0m.2-2.8h0m.3 2.4h0m1.1-1.7h0m.5 1.9h0m1.4-1.3h0m-15.1 2.5h0m.6 0h0m2.1 0h0m.7-.3h0m.5 .6h0m.2-.6h0m.2-.2h0m.3 .5h0m0 .5h0m.1 .7h0m.4-.8h0m.2-.4h0m.5-.1h0m.1 .8h0m.6-.5h0m.1 .4h0m.2 1.4h0m.4-2.2h0m.2 1.3h0m.2-1.5h0m0 .3h0m0 1.1h0m.2-.5h0m.1-.9h0m0 1.7h0m.4-2.1h0m.1 .3h0m0 .1h0m.1 1.3h0m0-1.1h0m.1-.6h0m0 1.2h0m.1-.1h0m.2 .5h0m.2-.1h0m.1-1.4h0m.1 0h0m.2 .9h0m.3 1.7h0m.3-.1h0m.3-.7h0m.1 0h0m.2 .2h0m.2-1.2h0m.5 .2h0m.1 .9h0m1.2-.4h0m.2-.7h0m.2 1.3h0m.3-2.2h0m-11.9 5.6h0m2.1 0h0m.3-1.2h0m.6-1.3h0m.8 2.3h0m.4-1.3h0m.7 .8h0m.4-.3h0m.3 .1h0m0-.5h0m.1 0h0m.4-.6h0m0-.4h0m.1 1.7h0m0-.7h0m.1 .9h0m.1-1.7h0m.4 .4h0m.1 2h0m.1-.2h0m.2-2.2h0m.1 1.1h0m.5-.5h0m.4 1.6h0m.3-2.6h0m.4 .5h0m.3 2.4h0m0-2h0m2 .1h0m.6-.9h0m-11.4 4.7h0m.2 .4h0m.9 .1h0m.3 .3h0m.1-1.3h0m1-1h0m.6 .5h0m.4 1.9h0m.4-1.7h0m1.5 .5h0m.6 .9h0m.5-2.1h0m.5 .6h0m.2-.5h0m.3 .3h0m.1 .3h0m.3 .3h0m.5-.8h0m.3-.1h0m.4 .8h0m.7 .9h0m-11.3 1.7h0m1.9 1.3h0m1.1-1.7h0m.3-.4h0m.2 2.4h0m.1 .5h0m1.9-.7h0m.3-.5h0m.6-.4h0m0 .2h0m1.1-1h0m.2 .2h0m.4 1.9h0m.3-.7h0m1.3 0h0m.2-1.1h0m-5.8 3.5h0m1.3 1.3h0m.2-1.5h0m0-.7h0m1.3 .7h0m.1-1.1h0m4 .9h0m1.5 .5h0m-12 4.5h0m3-2.6h0m.3 2.5h0m1-.2h0m1.4-.5h0m.2 .8h0m1.3 0h0m.3-1.7h0m.8 .6h0m.4 .5h0m1.1 .3h0m1.4-.9h0m-7.1 2.5h0m.8-.7h0m2.3 .7h0m2.1 1.3h0m1.8-.7h0m-6.7 3.1h0m2.9-.4h0m-3.6 2.3h0m2.7 2.1h0m-.6 2.5h0m2 8.3h0m1.7 1.3h0" stroke="#000" stroke-width="0.65" stroke-linecap="square" fill="none" stroke-opacity="0.85"/>
<path d="M299 400.6h0m-28.3 3.8h0m4.4 .5h0m5.1 2.9h0m-8.8 1h0m7.5 1.5h0m-12.5 3.5h0m3.1-.1h0m0-.4h0m6.7-1.3h0m.8 .6h0m18.9-.8h0m-22.8 2.3h0m1.7 1.9h0m.1 .1h0m2.6-1.8h0m2.3 1.8h0m.9 .8h0m.5-1.2h0m-42.8 3.6h0m26.3 .2h0m3-1.3h0m.1 1.3h0m.3-1.8h0m6.7-.5h0m-30.5 4h0m21.8-.5h0m1.6 1.7h0m1.2-1.2h0m1.1 1.1h0m.4 .3h0m.2-2h0m1.3 1.9h0m.6 0h0m.1-1.5h0m.3-.7h0m.6-.1h0m.3 1.9h0m.6 .3h0m.4-2h0m.9 1.7h0m.5-1h0m3.3 1.1h0m55.5-.2h0m-69.8 2.3h0m.7-.5h0m.9 2h0m2-.8h0m.7-.8h0m.3 1.4h0m.4-1.4h0m1.3 0h0m1.6-.9h0m.5 .9h0m.7 1.7h0m2-.4h0m1.3-.7h0m.1-1.2h0m2.6 1.8h0m-17.3 .8h0m1.9 1.5h0m1.1 .7h0m3.8-1.5h0m1 1.1h0m0-1.9h0m.1 0h0m.2 2h0m1.5-1.3h0m1.3 1h0m.2 .5h0m1.9-1.8h0m.2 .4h0m.4 .8h0m.4-1.2h0m-7.9 4.5h0m2.3-1.9h0m4.2 .6h0m.5 1.7h0m-48.3 .9h0m36.8 2.3h0m.2-2.3h0m.3-.1h0m2.3 1.6h0m0-1.8h0m2.6 1h0m.7 .3h0m4.7 .8h0m3.6-1.8h0m-25.8 4.4h0m14.2 .3h0m6-1.3h0m-1.1 2.4h0m56 .8h0m-50.3 2.6h0m3.5 8.4h0m21.3-1h0m6.1-.2h0m33.4 1h0m-66 3.1h0m29.4-1.2h0m2.6 .9h0m-45.4 2.5h0m31.2 .2h0m10.7-.4h0m1.5 .3h0m-33.2 2.5h0m.4 .7h0m20-1.7h0m2.1 .9h0m6.9-.8h0m1.6 1.3h0m3.7-1.8h0m.7 1.3h0m11.2 .6h0m-66.7 1.9h0m14.8 .7h0m3.4-.8h0m25.6 .2h0m3 .2h0m.3 .2h0m7.8-.4h0m.2 1.7h0m.6-1.2h0m1.1 .3h0m6.3-1h0m8.7 .9h0m-99.5 1.5h0m45.9 .2h0m37.8-.2h0m.7 1.7h0m.9-1.7h0m-43.2 3.1h0m38.1 1.8h0m3.5 .5h0m1.1-2.6h0m2.4 .8h0m-56.1 2.3h0m17 2.3h0m2.4 .1h0m-5.3 3h0m.8-1.5h0m-27.7 2.1h0m32.5 .8h0m3.4 .1h0m3.4-.4h0m2.7 .6h0m-16.2 1.8h0m-19.1 5h0m3.2-.4h0m7.8-1.1h0m5.7 2.2h0m5.4 5h0m1.6-1.6h0m13.8 2.7h0m-31.1 .6h0m13.8-.2h0m-9 5.4h0m72.6-2.4h0m-62.5 5h0m-16.3 2.8h0m4.8-.7h0m22.3 .6h0m-9.5 2.9h0m4.1 1.1h0m6.6 4h0m-55.3 2.2h0m44.4 6.4h0" stroke="#222" stroke-width="0.55" stroke-linecap="square" fill="none" stroke-opacity="0.6"/>
<line x1="284.2" y1="392.2" x2="284.2" y2="522" stroke="#444" stroke-width="1.5"/>
<line x1="221.1" y1="466.8" x2="349.1" y2="466.8" stroke="#333" stroke-width="1.4"/>
<rect x="221.1" y="392.2" width="128" height="129.8" fill="none" stroke="#5c5c5c" stroke-width="0.9"/>
<line x1="220.7" y1="522" x2="349.5" y2="522" stroke="#111" stroke-width="1.2"/>
<line x1="221.1" y1="392.2" x2="221.1" y2="522" stroke="#444" stroke-width="0.9"/>
<line x1="221.6" y1="522" x2="221.6" y2="525" stroke="#111" stroke-width="1.2"/>
<text class="san" x="224.1" y="537.2" font-size="4.5" text-anchor="start" fill="#111">10<tspan dx="0.4" dy="-2.4" font-size="4.27">0</tspan></text>
<line x1="228.7" y1="522" x2="228.7" y2="523.6" stroke="#333" stroke-width="0.5"/>
<line x1="232.86" y1="522" x2="232.86" y2="523.6" stroke="#333" stroke-width="0.5"/>
<line x1="235.81" y1="522" x2="235.81" y2="523.6" stroke="#333" stroke-width="0.5"/>
<line x1="238.1" y1="522" x2="238.1" y2="523.6" stroke="#333" stroke-width="0.5"/>
<line x1="239.96" y1="522" x2="239.96" y2="523.6" stroke="#333" stroke-width="0.5"/>
<line x1="241.54" y1="522" x2="241.54" y2="523.6" stroke="#333" stroke-width="0.5"/>
<line x1="242.91" y1="522" x2="242.91" y2="523.6" stroke="#333" stroke-width="0.5"/>
<line x1="244.12" y1="522" x2="244.12" y2="523.6" stroke="#333" stroke-width="0.5"/>
<line x1="245.2" y1="522" x2="245.2" y2="525" stroke="#111" stroke-width="1.2"/>
<text class="san" x="241.9" y="537.2" font-size="4.5" text-anchor="start" fill="#111">10<tspan dx="0.4" dy="-2.4" font-size="4.27">1</tspan></text>
<line x1="252.3" y1="522" x2="252.3" y2="523.6" stroke="#333" stroke-width="0.5"/>
<line x1="256.46" y1="522" x2="256.46" y2="523.6" stroke="#333" stroke-width="0.5"/>
<line x1="259.41" y1="522" x2="259.41" y2="523.6" stroke="#333" stroke-width="0.5"/>
<line x1="261.7" y1="522" x2="261.7" y2="523.6" stroke="#333" stroke-width="0.5"/>
<line x1="263.56" y1="522" x2="263.56" y2="523.6" stroke="#333" stroke-width="0.5"/>
<line x1="265.14" y1="522" x2="265.14" y2="523.6" stroke="#333" stroke-width="0.5"/>
<line x1="266.51" y1="522" x2="266.51" y2="523.6" stroke="#333" stroke-width="0.5"/>
<line x1="267.72" y1="522" x2="267.72" y2="523.6" stroke="#333" stroke-width="0.5"/>
<line x1="268.8" y1="522" x2="268.8" y2="525" stroke="#111" stroke-width="1.2"/>
<text class="san" x="265.5" y="537.2" font-size="4.5" text-anchor="start" fill="#111">10<tspan dx="0.4" dy="-2.4" font-size="4.27">2</tspan></text>
<line x1="275.9" y1="522" x2="275.9" y2="523.6" stroke="#333" stroke-width="0.5"/>
<line x1="280.06" y1="522" x2="280.06" y2="523.6" stroke="#333" stroke-width="0.5"/>
<line x1="283.01" y1="522" x2="283.01" y2="523.6" stroke="#333" stroke-width="0.5"/>
<line x1="285.3" y1="522" x2="285.3" y2="523.6" stroke="#333" stroke-width="0.5"/>
<line x1="287.16" y1="522" x2="287.16" y2="523.6" stroke="#333" stroke-width="0.5"/>
<line x1="288.74" y1="522" x2="288.74" y2="523.6" stroke="#333" stroke-width="0.5"/>
<line x1="290.11" y1="522" x2="290.11" y2="523.6" stroke="#333" stroke-width="0.5"/>
<line x1="291.32" y1="522" x2="291.32" y2="523.6" stroke="#333" stroke-width="0.5"/>
<line x1="292.4" y1="522" x2="292.4" y2="525" stroke="#111" stroke-width="1.2"/>
<text class="san" x="289.1" y="537.2" font-size="4.5" text-anchor="start" fill="#111">10<tspan dx="0.4" dy="-2.4" font-size="4.27">3</tspan></text>
<line x1="299.5" y1="522" x2="299.5" y2="523.6" stroke="#333" stroke-width="0.5"/>
<line x1="303.66" y1="522" x2="303.66" y2="523.6" stroke="#333" stroke-width="0.5"/>
<line x1="306.61" y1="522" x2="306.61" y2="523.6" stroke="#333" stroke-width="0.5"/>
<line x1="308.9" y1="522" x2="308.9" y2="523.6" stroke="#333" stroke-width="0.5"/>
<line x1="310.76" y1="522" x2="310.76" y2="523.6" stroke="#333" stroke-width="0.5"/>
<line x1="312.34" y1="522" x2="312.34" y2="523.6" stroke="#333" stroke-width="0.5"/>
<line x1="313.71" y1="522" x2="313.71" y2="523.6" stroke="#333" stroke-width="0.5"/>
<line x1="314.92" y1="522" x2="314.92" y2="523.6" stroke="#333" stroke-width="0.5"/>
<line x1="316" y1="522" x2="316" y2="525" stroke="#111" stroke-width="1.2"/>
<text class="san" x="312.7" y="537.2" font-size="4.5" text-anchor="start" fill="#111">10<tspan dx="0.4" dy="-2.4" font-size="4.27">4</tspan></text>
<line x1="323.1" y1="522" x2="323.1" y2="523.6" stroke="#333" stroke-width="0.5"/>
<line x1="327.26" y1="522" x2="327.26" y2="523.6" stroke="#333" stroke-width="0.5"/>
<line x1="330.21" y1="522" x2="330.21" y2="523.6" stroke="#333" stroke-width="0.5"/>
<line x1="332.5" y1="522" x2="332.5" y2="523.6" stroke="#333" stroke-width="0.5"/>
<line x1="334.36" y1="522" x2="334.36" y2="523.6" stroke="#333" stroke-width="0.5"/>
<line x1="335.94" y1="522" x2="335.94" y2="523.6" stroke="#333" stroke-width="0.5"/>
<line x1="337.31" y1="522" x2="337.31" y2="523.6" stroke="#333" stroke-width="0.5"/>
<line x1="338.52" y1="522" x2="338.52" y2="523.6" stroke="#333" stroke-width="0.5"/>
<line x1="339.6" y1="522" x2="339.6" y2="525" stroke="#111" stroke-width="1.2"/>
<text class="san" x="336.3" y="537.2" font-size="4.5" text-anchor="start" fill="#111">10<tspan dx="0.4" dy="-2.4" font-size="4.27">5</tspan></text>
<line x1="346.7" y1="522" x2="346.7" y2="523.6" stroke="#333" stroke-width="0.5"/>
<line x1="218.1" y1="521.4" x2="221.1" y2="521.4" stroke="#111" stroke-width="1.2"/>
<text class="san" x="214.9" y="520.4" font-size="4.5" text-anchor="end" fill="#111">10<tspan dx="0.4" dy="-2.4" font-size="4.27">0</tspan></text>
<line x1="219.5" y1="514.27" x2="221.1" y2="514.27" stroke="#333" stroke-width="0.5"/>
<line x1="219.5" y1="510.09" x2="221.1" y2="510.09" stroke="#333" stroke-width="0.5"/>
<line x1="219.5" y1="507.13" x2="221.1" y2="507.13" stroke="#333" stroke-width="0.5"/>
<line x1="219.5" y1="504.83" x2="221.1" y2="504.83" stroke="#333" stroke-width="0.5"/>
<line x1="219.5" y1="502.96" x2="221.1" y2="502.96" stroke="#333" stroke-width="0.5"/>
<line x1="219.5" y1="501.37" x2="221.1" y2="501.37" stroke="#333" stroke-width="0.5"/>
<line x1="219.5" y1="500" x2="221.1" y2="500" stroke="#333" stroke-width="0.5"/>
<line x1="219.5" y1="498.78" x2="221.1" y2="498.78" stroke="#333" stroke-width="0.5"/>
<line x1="218.1" y1="497.7" x2="221.1" y2="497.7" stroke="#111" stroke-width="1.2"/>
<text class="san" x="214.9" y="499.3" font-size="4.5" text-anchor="end" fill="#111">10<tspan dx="0.4" dy="-2.4" font-size="4.27">1</tspan></text>
<line x1="219.5" y1="490.57" x2="221.1" y2="490.57" stroke="#333" stroke-width="0.5"/>
<line x1="219.5" y1="486.39" x2="221.1" y2="486.39" stroke="#333" stroke-width="0.5"/>
<line x1="219.5" y1="483.43" x2="221.1" y2="483.43" stroke="#333" stroke-width="0.5"/>
<line x1="219.5" y1="481.13" x2="221.1" y2="481.13" stroke="#333" stroke-width="0.5"/>
<line x1="219.5" y1="479.26" x2="221.1" y2="479.26" stroke="#333" stroke-width="0.5"/>
<line x1="219.5" y1="477.67" x2="221.1" y2="477.67" stroke="#333" stroke-width="0.5"/>
<line x1="219.5" y1="476.3" x2="221.1" y2="476.3" stroke="#333" stroke-width="0.5"/>
<line x1="219.5" y1="475.08" x2="221.1" y2="475.08" stroke="#333" stroke-width="0.5"/>
<line x1="218.1" y1="474" x2="221.1" y2="474" stroke="#111" stroke-width="1.2"/>
<text class="san" x="214.9" y="475.6" font-size="4.5" text-anchor="end" fill="#111">10<tspan dx="0.4" dy="-2.4" font-size="4.27">2</tspan></text>
<line x1="219.5" y1="466.87" x2="221.1" y2="466.87" stroke="#333" stroke-width="0.5"/>
<line x1="219.5" y1="462.69" x2="221.1" y2="462.69" stroke="#333" stroke-width="0.5"/>
<line x1="219.5" y1="459.73" x2="221.1" y2="459.73" stroke="#333" stroke-width="0.5"/>
<line x1="219.5" y1="457.43" x2="221.1" y2="457.43" stroke="#333" stroke-width="0.5"/>
<line x1="219.5" y1="455.56" x2="221.1" y2="455.56" stroke="#333" stroke-width="0.5"/>
<line x1="219.5" y1="453.97" x2="221.1" y2="453.97" stroke="#333" stroke-width="0.5"/>
<line x1="219.5" y1="452.6" x2="221.1" y2="452.6" stroke="#333" stroke-width="0.5"/>
<line x1="219.5" y1="451.38" x2="221.1" y2="451.38" stroke="#333" stroke-width="0.5"/>
<line x1="218.1" y1="450.3" x2="221.1" y2="450.3" stroke="#111" stroke-width="1.2"/>
<text class="san" x="214.9" y="451.9" font-size="4.5" text-anchor="end" fill="#111">10<tspan dx="0.4" dy="-2.4" font-size="4.27">3</tspan></text>
<line x1="219.5" y1="443.17" x2="221.1" y2="443.17" stroke="#333" stroke-width="0.5"/>
<line x1="219.5" y1="438.99" x2="221.1" y2="438.99" stroke="#333" stroke-width="0.5"/>
<line x1="219.5" y1="436.03" x2="221.1" y2="436.03" stroke="#333" stroke-width="0.5"/>
<line x1="219.5" y1="433.73" x2="221.1" y2="433.73" stroke="#333" stroke-width="0.5"/>
<line x1="219.5" y1="431.86" x2="221.1" y2="431.86" stroke="#333" stroke-width="0.5"/>
<line x1="219.5" y1="430.27" x2="221.1" y2="430.27" stroke="#333" stroke-width="0.5"/>
<line x1="219.5" y1="428.9" x2="221.1" y2="428.9" stroke="#333" stroke-width="0.5"/>
<line x1="219.5" y1="427.68" x2="221.1" y2="427.68" stroke="#333" stroke-width="0.5"/>
<line x1="218.1" y1="426.6" x2="221.1" y2="426.6" stroke="#111" stroke-width="1.2"/>
<text class="san" x="214.9" y="428.2" font-size="4.5" text-anchor="end" fill="#111">10<tspan dx="0.4" dy="-2.4" font-size="4.27">4</tspan></text>
<line x1="219.5" y1="419.47" x2="221.1" y2="419.47" stroke="#333" stroke-width="0.5"/>
<line x1="219.5" y1="415.29" x2="221.1" y2="415.29" stroke="#333" stroke-width="0.5"/>
<line x1="219.5" y1="412.33" x2="221.1" y2="412.33" stroke="#333" stroke-width="0.5"/>
<line x1="219.5" y1="410.03" x2="221.1" y2="410.03" stroke="#333" stroke-width="0.5"/>
<line x1="219.5" y1="408.16" x2="221.1" y2="408.16" stroke="#333" stroke-width="0.5"/>
<line x1="219.5" y1="406.57" x2="221.1" y2="406.57" stroke="#333" stroke-width="0.5"/>
<line x1="219.5" y1="405.2" x2="221.1" y2="405.2" stroke="#333" stroke-width="0.5"/>
<line x1="219.5" y1="403.98" x2="221.1" y2="403.98" stroke="#333" stroke-width="0.5"/>
<line x1="218.1" y1="402.9" x2="221.1" y2="402.9" stroke="#111" stroke-width="1.2"/>
<text class="san" x="214.9" y="404.5" font-size="4.5" text-anchor="end" fill="#111">10<tspan dx="0.4" dy="-2.4" font-size="4.27">5</tspan></text>
<line x1="219.5" y1="395.77" x2="221.1" y2="395.77" stroke="#333" stroke-width="0.5"/>
<text class="ser" x="288.3" y="386" font-size="9.2" text-anchor="middle" fill="#3c3c3c" stroke-width="0.1" stroke="#444">mimic NC</text>
<text class="ser" x="317.8" y="435.6" font-size="9.2" text-anchor="middle" fill="#3c3c3c" stroke-width="0.1" stroke="#444">57.74%</text>
<line x1="197.6" y1="547.9" x2="197.6" y2="485" stroke="#222" stroke-width="1"/>
<line x1="197.1" y1="547.4" x2="260.8" y2="547.4" stroke="#222" stroke-width="1"/>
<path d="M197.6 479 l3.6 7.4 h-7.2 Z" fill="#000"/>
<path d="M266.8 547.4 l-7.4 -3.6 v7.2 Z" fill="#000"/>
<text class="ser" x="194.2" y="518.6" font-size="9.2" text-anchor="middle" fill="#111" transform="rotate(-90 194.2 518.6)">Ki67</text>
<text class="ser" x="216.6" y="559.3" font-size="9.2" fill="#111">CD19</text>
<path d="M478.2 447.3h0m-11.6 5.4h0m1-.9h0m2.7-1.6h0m1.5 .7h0m.1 1.4h0m-5.5 2.2h0m1.7-1h0m.6 2.1h0m1.3-.3h0m.1-1.8h0m1.6 1.9h0m.5-.6h0m.1 .2h0m.4-1h0m.2 .3h0m.8 1.3h0m.7-1.1h0m.5-.3h0m.2 1.5h0m.1-.7h0m.5 .6h0m0 .1h0m.2-1.3h0m.2 1.2h0m-12.3 2.8h0m1.4 .2h0m.4-.5h0m0-.8h0m.2 .3h0m1 .4h0m.3 .6h0m.2 .1h0m.1-.2h0m0-1.4h0m0 1.7h0m.2-1.5h0m.1-.8h0m.4 1.5h0m.1-1.8h0m.2 1.3h0m.1 .5h0m0 .3h0m.1 .2h0m.1-.2h0m0 .3h0m.1 .3h0m0-1.3h0m.3-.9h0m.1 2h0m0-.9h0m0-.5h0m.3 1.4h0m0-.2h0m.1 .3h0m0-2.4h0m.2 .9h0m0 0h0m.1 1.3h0m0 .3h0m0-1h0m0-1.6h0m.3 1.5h0m.1-.2h0m0 1.1h0m.1 .1h0m0-.9h0m.2-.1h0m.1 .8h0m0-.4h0m0-.2h0m.1-.7h0m0 .9h0m0-.3h0m.1 .9h0m0-1.1h0m0 .4h0m0-1.7h0m.1 .8h0m.3 1.1h0m.1-.9h0m.1 1.1h0m.1-.8h0m0-.3h0m.3 .3h0m0 1h0m.2-.6h0m0 .8h0m.1-.4h0m.1 .1h0m.4-.4h0m.1-.2h0m.2 .9h0m0-.2h0m.1-.4h0m0-.8h0m.1 1.3h0m0-1h0m.1 .6h0m0 .3h0m.1-1.4h0m.1 1.5h0m.1-1.6h0m0 1.6h0m0-1.2h0m.1 .1h0m0-1.3h0m0 1.7h0m.1 .7h0m.1-.4h0m.2-.2h0m.3 0h0m.1 .2h0m0-1.8h0m.1 2.2h0m.4-1.2h0m.2-1.2h0m.1 .3h0m.1-.7h0m.1 2.1h0m.8-1.6h0m.1 1.4h0m.1-.2h0m.2 .5h0m.7-.7h0m1.4 0h0m-15.9 3.2h0m.5-.2h0m.4-.8h0m1.2 1.2h0m0 .8h0m.1-.2h0m.2-.2h0m.3-.5h0m0 .8h0m0-.7h0m.2 .3h0m.3-.6h0m0 .1h0m.1-.1h0m.1 1.2h0m.3-1.5h0m0 1.1h0m0-.4h0m.2-1.2h0m0 1.7h0m.1 .2h0m0-.1h0m.1 .1h0m.1-1.5h0m.1 1.6h0m0-.4h0m0-.9h0m.1 0h0m0 1.4h0m.1-2h0m.1 .3h0m.1-.3h0m.1 1.8h0m0-2.6h0m.1 1.3h0m0 1.4h0m0 .1h0m0 0h0m0-2.1h0m.1 .9h0m0-.4h0m0 1.6h0m0-.6h0m.1-.6h0m.3 .3h0m0 .7h0m0-.2h0m0-.4h0m.1-1.4h0m0 .3h0m0 .9h0m0-.5h0m0-.7h0m0 1.1h0m0 .3h0m0-.5h0m.1 .3h0m0-.1h0m0 .2h0m0 .9h0m0-2.2h0m0 2h0m0-1.3h0m0 .8h0m.1 .6h0m.1-1.8h0m0 .4h0m0 1.5h0m0-.4h0m.1-2h0m0 .7h0m.1 .6h0m0 .5h0m0-.2h0m0-.3h0m.1 .8h0m0-.9h0m0-1.2h0m0 .6h0m0 1.1h0m0 .3h0m.1-.9h0m0-.4h0m.1-.7h0m0 .7h0m0-.7h0m0 2.2h0m0-.7h0m.1-1.2h0m0 1.7h0m0-.3h0m0 .4h0m.1-1.6h0m0 1.8h0m0-1.8h0m0-.4h0m.1 1.6h0m0-1.5h0m0 .2h0m0 1.9h0m.1-1.6h0m0 1.5h0m0-1.5h0m0 1.3h0m.1 .4h0m0-.1h0m0-2h0m0 .7h0m0 .3h0m.1-.7h0m0-.8h0m0 1h0m.1 1.2h0m0-1.9h0m0 .7h0m0 1.4h0m.1-2.6h0m0 2.1h0m0-1h0m0 1.3h0m0 .3h0m0 0h0m0-.7h0m0-.2h0m0 .5h0m.1-1.6h0m0 .4h0m0 1.5h0m0 0h0m.1-1.5h0m0 .5h0m0 .2h0m0 1h0m0-1.4h0m0-1.2h0m0 2h0m0-1.4h0m0 1.5h0m.1 .3h0m0 0h0m0-1.5h0m0 .6h0m.1-1.8h0m0 .2h0m0-.2h0m0 .8h0m0 .9h0m0-.2h0m0-.6h0m0 .3h0m.1-.6h0m0-.5h0m0 1.2h0m0-.1h0m0-1.2h0m0 1.6h0m0-.3h0m.1-.1h0m0-1h0m.1 2.2h0m0-.5h0m0 1h0m0-2.7h0m0 2h0m.1-.7h0m0 .6h0m0 .6h0m0-.1h0m.1-.8h0m0 .7h0m0-1.7h0m0 0h0m0 1.9h0m0-1h0m.1-.3h0m0 .2h0m0-1h0m0 1.6h0m0-.2h0m0-1.5h0m0 1.2h0m.1 .9h0m0 .2h0m0-2.5h0m0 2.4h0m0-2.4h0m0-.1h0m0 1.6h0m.1 0h0m0-1h0m0 .3h0m.1 .9h0m0 0h0m0-1.1h0m0 1.9h0m.1-1.5h0m0 .2h0m0 .2h0m0-.7h0m.1 .2h0m0-1h0m.1 1.2h0m0-1.3h0m0 2h0m0 .7h0m.1-1.3h0m0-1.4h0m0 1.7h0m0-1.6h0m0 2.4h0m.1-1.4h0m0-.9h0m0 2.3h0m0-.1h0m0-.9h0m0 .8h0m0 .4h0m.1-1.9h0m0 1.2h0m0 .7h0m0-1.2h0m0 1h0m0-1.5h0m0 .6h0m0-.4h0m0 1.6h0m.1-1.2h0m0-1.4h0m.1 1.3h0m0 .5h0m0 .7h0m0-2.5h0m.1 .1h0m0 .3h0m.1-.1h0m0 .1h0m0 2h0m.1-2.5h0m0 .3h0m0 .1h0m0 0h0m0 .9h0m0-.1h0m0 0h0m.1 .7h0m0 .8h0m0-2.5h0m0 .8h0m0-.6h0m0 1.7h0m0 .3h0m.1-.5h0m0 .8h0m0-1.7h0m.1-.6h0m0 1.9h0m0-1h0m0 .7h0m0-.7h0m0 0h0m.1 1.3h0m0-1.7h0m0 1.7h0m0-2.2h0m0 .6h0m.1-.6h0m0 .8h0m0-.5h0m0 .2h0m0 1.3h0m0-2.4h0m.1 .1h0m0 1.3h0m.1 1.5h0m0-1h0m0 .5h0m.1 .2h0m0-.7h0m0-.1h0m0-1.1h0m0 2h0m0 .2h0m.1-.1h0m0-1.1h0m0-1.2h0m.1 1.6h0m.1 0h0m.1-.9h0m0 1.6h0m0-1.6h0m0 .6h0m0 .1h0m.1-1.8h0m0 .6h0m0-.2h0m.1 .6h0m0 1.8h0m0-1.7h0m.2-.4h0m0 .1h0m.1 .5h0m0 .1h0m.1-1.4h0m0 1.5h0m.1-1.1h0m.1 .9h0m0 .3h0m.1 .7h0m0-1.3h0m0 .2h0m.1 1.6h0m0-2.9h0m0 2.2h0m0 .1h0m.1-.6h0m0 .1h0m0-.6h0m.2-.2h0m0 1.7h0m0-1.2h0m.1 1.1h0m.1-2.3h0m.1 .3h0m.1 1.4h0m.1-1.7h0m0 .6h0m.3 1.1h0m0-1.4h0m.1 .8h0m.1-.4h0m.3 .6h0m0-.8h0m0-.6h0m0-.2h0m.4 1.6h0m.1-.4h0m.2 .4h0m0 0h0m1-.6h0m.1-.6h0m-20.5 4.4h0m2.1-1.4h0m.8 2.5h0m2-.4h0m.8-.4h0m.4 .2h0m.3-1.9h0m0-.4h0m.1 2.9h0m0-1h0m.2 .8h0m.1-2h0m.2 1.4h0m0 0h0m0-.6h0m.2 .2h0m.2 .1h0m0-1.5h0m0 .1h0m.1 1.8h0m.2-1.5h0m.2 1.8h0m0-1.2h0m.1 .6h0m.1-.3h0m0-.5h0m0 .6h0m.1-1.7h0m0 2.9h0m.1-1h0m0-.6h0m.1 .3h0m0 1.3h0m.1-1.2h0m0 .8h0m0-.9h0m0 .2h0m0 1.1h0m0-2.9h0m0 1.1h0m.1-.2h0m0 1.9h0m0-2.4h0m0 2.5h0m.2-.7h0m0 0h0m0-1.5h0m0 1.8h0m0 .4h0m0-1.7h0m0 .3h0m.1-1.4h0m0 1.9h0m0-.2h0m0-1h0m0 .8h0m.1-.4h0m0-.8h0m0 1.1h0m.1 1.3h0m0-1.9h0m0-.5h0m0 .9h0m.1-1.1h0m0 0h0m0 1.9h0m0-1.1h0m0-.6h0m.1 1.6h0m0 .9h0m0-1.7h0m0 .3h0m.1 .9h0m0-2.4h0m0 2.7h0m0-.6h0m.1-.7h0m0-.9h0m0-.2h0m0 1.8h0m0 0h0m.1 .7h0m0-2h0m0 .4h0m0 1.5h0m0-1.2h0m.1-1.3h0m0 1.2h0m0 .5h0m0-.4h0m0 1.4h0m0 0h0m.1-.2h0m0-2h0m.1 1.3h0m0 0h0m0-1.3h0m.1 1.1h0m0-.4h0m0 1.1h0m0-2h0m0 .3h0m0-.3h0m0 2.1h0m.1 .1h0m0-1.4h0m0 .8h0m.1 .4h0m0-1.5h0m0 1.4h0m.1 .1h0m0-1.7h0m0-.7h0m0 1.9h0m0-1.1h0m0 1.7h0m0 .2h0m0-2.7h0m0 1.3h0m0 .2h0m.1 1h0m0 0h0m0 .3h0m.1-1.8h0m0-1.1h0m0 1.4h0m.1-.8h0m0 .3h0m0-.5h0m0 2.3h0m0-1h0m0 .7h0m.1-1.5h0m0-.6h0m0 1.8h0m0-1.6h0m0 1.1h0m0-1.5h0m.1 2h0m0-1.6h0m0 2.4h0m0-2.4h0m0-.3h0m0 .6h0m0 1.5h0m0-1.4h0m.1 1h0m0 0h0m0 .8h0m0-.5h0m0 0h0m.1 .4h0m0-1.6h0m0 1.1h0m0 .2h0m.1-1.4h0m0 1.6h0m0-2.5h0m0 1.8h0m0-1.3h0m.1 .5h0m0-.2h0m0-.1h0m0 1.4h0m.1-.8h0m0 1.1h0m0-2.2h0m0 .5h0m0 .5h0m0-.3h0m0 .7h0m.1 .5h0m0-1h0m0 .3h0m0 .8h0m0-.9h0m.1 .9h0m0-1.8h0m.1 1.7h0m0 .2h0m0 .5h0m.1 0h0m0-2.3h0m0 .3h0m0 .2h0m0 0h0m0 0h0m0 .4h0m0 1h0m0-.7h0m0 .1h0m.1-.6h0m0 .4h0m0 .4h0m0 .1h0m0-1.5h0m.1 .4h0m0 1.7h0m0-.9h0m0-1.3h0m0 .3h0m0-.7h0m0 2.1h0m0-1.4h0m.1 .8h0m0-1.3h0m0 2.1h0m0-2.1h0m0-.1h0m.1 2.4h0m0-.6h0m0 .7h0m0-1.5h0m0 .9h0m0-2h0m0 1.8h0m.1 .3h0m0-2h0m0-.2h0m0 2.4h0m0-.8h0m0-1.6h0m0 2.7h0m0 .1h0m0-1.2h0m.1 .7h0m0-2.2h0m0 2.1h0m0 .5h0m0-1.1h0m0 1.2h0m.1-2.3h0m0 1.1h0m0 .8h0m0-1.2h0m0-.8h0m.1 1.4h0m0 0h0m0-1.3h0m0 .6h0m0 .4h0m0 1.2h0m.1-2.7h0m0 1.5h0m0 1.2h0m0-1.7h0m0 .8h0m0-1.2h0m0 .9h0m.1 1.1h0m0-1.4h0m0-.9h0m0 .7h0m.1-.7h0m0 1.2h0m0-1.1h0m0 1.9h0m0-.9h0m0 .8h0m0-.8h0m0-1h0m0 1.3h0m.1 .7h0m0-.9h0m0-.7h0m0 0h0m0 1.8h0m0-.9h0m.1-.6h0m0 .5h0m0-1.5h0m0 .3h0m0 1.3h0m.1 .5h0m0-.1h0m0-1.1h0m0-.4h0m0-.4h0m0 .5h0m0 0h0m.1 1h0m0 0h0m0-.4h0m0 .6h0m.1-1.7h0m0 1.4h0m0-1.1h0m0 1.2h0m0-1.5h0m0 1.7h0m0 .1h0m0-1.3h0m0 0h0m.1 .9h0m0-.7h0m0-.1h0m.1 1.8h0m0-2.2h0m0 1.5h0m0-.2h0m0 .6h0m0-1.1h0m.1-.7h0m0 .4h0m0-.3h0m.1-.5h0m0-.1h0m0 .3h0m0 .6h0m0-.7h0m.1 .2h0m.1 1h0m0-.7h0m0 .4h0m0-.5h0m0 .1h0m0-.6h0m0 1h0m.1 .4h0m0-.6h0m0-.4h0m0 1.1h0m0-1.2h0m0-.2h0m0 1h0m0-.1h0m.1-.8h0m0 1.2h0m0-1h0m0 1.8h0m.1-.4h0m0-.6h0m0 .3h0m0-.3h0m0-.9h0m.1 1.7h0m0-.6h0m0 .7h0m.1-1.2h0m0 .7h0m0-.8h0m0 .9h0m.1 .1h0m0-.6h0m.1 1.5h0m0-1.7h0m0-.1h0m0-.5h0m0 1.2h0m.1-.3h0m0 .3h0m0 1h0m0-1.8h0m0-.3h0m.1 .5h0m0-.1h0m.1 .2h0m0 .7h0m0-1.6h0m0 1.6h0m.1-1.9h0m0 .8h0m.1-.6h0m0 .8h0m.1 .3h0m0-.3h0m0 .9h0m.1-.4h0m0 .8h0m0-1.2h0m0 1.1h0m0 .2h0m.1-.3h0m0-1.6h0m.1 2.2h0m0-.2h0m0-1h0m.1 .9h0m.1-1.5h0m0 .9h0m0 .9h0m.1-2.7h0m0 1.4h0m0-1.2h0m0 .6h0m0 1.2h0m.1-1.4h0m0 2.1h0m.1-.7h0m.1 0h0m.1-1.2h0m.1-.8h0m.1 2.6h0m0-2.2h0m.1 .3h0m0 0h0m.1 .8h0m.1 .4h0m.2-1.9h0m0 0h0m0 1.1h0m.3-.3h0m.1-.7h0m0 1.4h0m.1-.2h0m.1-1h0m.1 1.6h0m.1-1.5h0m.1 1.3h0m.7-.9h0m.4 .3h0m.2-.5h0m-16 4h0m1.2-.5h0m.2-.5h0m0 .4h0m.2-.1h0m.2-.3h0m.2 .7h0m.2-1h0m.1 .5h0m0-.2h0m.1 .5h0m0-.6h0m.3 2.1h0m.2-1.8h0m0 1.3h0m.1-.1h0m.2-1.5h0m.1 .1h0m.1 .9h0m0-.5h0m.1 .1h0m0-.4h0m.1 .5h0m0 .2h0m0 1.1h0m.1-.2h0m0-.6h0m0 0h0m0-.6h0m0 1h0m.1 .3h0m0-1.1h0m.1-.8h0m0 2h0m0-1.4h0m0 .9h0m.1-1.9h0m.1 1.3h0m0 1.4h0m0-.6h0m0-.2h0m0-1.4h0m.1 1.1h0m0-1.7h0m0 1.9h0m.2-.1h0m0-1.7h0m.1 .4h0m0-.1h0m0 0h0m0 1.5h0m0 .4h0m0-.1h0m0-1.2h0m.1-.4h0m0 1.4h0m0 0h0m.1-1.4h0m0-.3h0m0 1.7h0m.1-.5h0m0-.4h0m0-1h0m.1 1.1h0m0 1h0m.1 .3h0m0 .3h0m.1-1.1h0m0-1h0m.1 1.9h0m.1 0h0m0-.2h0m.1 .3h0m0-2.4h0m0 .5h0m.1 .8h0m.1-1.1h0m0-.5h0m0 .7h0m0 0h0m0 1h0m0-.4h0m.1-1.3h0m0 2.2h0m0-2.2h0m0 2.4h0m0-1.5h0m0 1.3h0m.1-.3h0m0-1h0m0-.9h0m0 2.7h0m0-.2h0m.1-1.6h0m0 .4h0m.2-1.3h0m0 1.9h0m0 0h0m.1-1.7h0m0 2.4h0m0-.7h0m0-.8h0m0 .1h0m0-.8h0m0 1h0m0 .3h0m0 1.2h0m0-1.1h0m.1-1.4h0m0 1.8h0m0 .2h0m.1-.1h0m0-1.6h0m0 1.7h0m.1-2.2h0m0 .2h0m0 .5h0m0 .7h0m.1-1.6h0m0 2.4h0m0-.4h0m0-.2h0m0-1.2h0m.1 1.2h0m0-1h0m0 .5h0m0 1.6h0m0-2.6h0m0-.3h0m0 1.6h0m0-.9h0m.1-.7h0m0 .8h0m0 1.6h0m.1-1h0m.1-1.1h0m0 .9h0m0 .5h0m0 .6h0m0-1.1h0m0 1.5h0m0-1h0m0 .1h0m.1 1.1h0m0-1.2h0m0-1.2h0m0 .3h0m0 .5h0m0-.1h0m.1-.5h0m0 1.1h0m.1 .8h0m0 .2h0m0-2.6h0m.1 .6h0m0 .3h0m0 1h0m0-1.7h0m0-.1h0m0 1.1h0m.1 .3h0m0 .3h0m0-1.8h0m.1 .6h0m0 1.7h0m0-2.2h0m0 .3h0m.1 .8h0m0 .1h0m0-1.2h0m.1 2.3h0m0-1h0m0 .8h0m.1-1.7h0m0 1.6h0m0-2.2h0m.1 1.5h0m0 .1h0m0-1h0m.1 .7h0m0 1.2h0m0-2.5h0m0 0h0m0 .5h0m0 1.1h0m0 .1h0m.1-.3h0m0 1.4h0m0-2.8h0m0 .5h0m.1 .3h0m.1 1.1h0m0-.7h0m0-1h0m.1 1.6h0m0-.2h0m0-.1h0m0-.6h0m0-.7h0m0 .5h0m.1 1.7h0m0-.9h0m.1-.6h0m0 0h0m.1 1.1h0m.1-1.2h0m0 1.8h0m0-1.7h0m.2 1.9h0m0-2.2h0m0 .5h0m.1 1h0m0-.7h0m.1 .6h0m0-1.6h0m0 .4h0m0-.6h0m.1 1.2h0m0 .5h0m0 .1h0m0 .4h0m0-.6h0m.1-1.7h0m0 .1h0m.1 1.3h0m0-1.2h0m0 2.5h0m.1-2.6h0m0 .5h0m0 1.9h0m.1-1.3h0m.1 .5h0m0-1.7h0m0-.2h0m.1 1.4h0m0 .2h0m.1-.6h0m.1 1.3h0m.1-1.9h0m0 1.5h0m0-.6h0m0 1.6h0m.1-2.7h0m0 2.2h0m0-1.9h0m.1-.5h0m0 1.2h0m0 .2h0m0 .5h0m0 .5h0m.1-1.1h0m0 1h0m.1-2.1h0m0 .4h0m.2 1.4h0m0-1.3h0m.1 .5h0m0 1.2h0m.1-2.1h0m0 .7h0m.1-.8h0m.3 1.3h0m0-.4h0m0 .2h0m0-.9h0m.6 1.5h0m0-1.4h0m0 .6h0m.3 .8h0m0-1.2h0m0 0h0m.1 .4h0m0-.1h0m0-.5h0m.3-.2h0m0 1.7h0m.2-1.6h0m.4 .2h0m.1 1.4h0m.1 .5h0m.1-2.4h0m.3 .2h0m.5 1.5h0m.1 .8h0m.4-1.5h0m0 1.3h0m1.4-1.4h0m.6 1.1h0m-18.1 1.7h0m.4-.1h0m.4 1.6h0m.2 .1h0m.2-2.1h0m.2 1.4h0m.1 1.1h0m.1-.7h0m1.2 .3h0m.1-2.2h0m.2 .3h0m.2 1.1h0m0 .2h0m.1-.5h0m.2-1h0m0 2.5h0m.1-.3h0m.2 0h0m0-2h0m.2 .3h0m0 1.5h0m0-1.1h0m.1-.4h0m0 .8h0m.1 .4h0m0-.6h0m.1-1h0m0 0h0m.1-.1h0m.3 1.5h0m.1-1.4h0m0-.3h0m.1 2.6h0m0-.4h0m.1-1h0m0 1.3h0m0-1.5h0m0-.1h0m.1-.7h0m.2 1.4h0m.3-.8h0m0-.4h0m.1 .3h0m0 1.3h0m.1-.8h0m0-.7h0m0 1.1h0m0-.5h0m.1-.5h0m0 0h0m0 1h0m0-1.3h0m.3 1.2h0m.1-1h0m0 .4h0m0-.4h0m0 2.1h0m.3-1.8h0m.1 1.1h0m.1-1.5h0m0-.1h0m.1 .4h0m.1 1.2h0m.1-1.3h0m0-.2h0m.1 1.3h0m0-1.4h0m0 1h0m.1 .3h0m0-1.1h0m0 .9h0m0-.3h0m.1 0h0m.1-1h0m0 1.9h0m.1-2h0m.1 .5h0m0 0h0m.1-.6h0m0 2.3h0m.1-2.1h0m0 2.2h0m0-.1h0m0-1.7h0m.1-.2h0m0 1.1h0m.1 .2h0m.1-1.3h0m0 .5h0m0 .3h0m0-.8h0m.1 1.3h0m.1-1.7h0m0 .2h0m0 1.3h0m0 .1h0m.1-.8h0m0 1.6h0m0-.4h0m.1 .2h0m0-1.3h0m.1 1.8h0m0-1.1h0m.1 .6h0m.1-.8h0m0-.8h0m.2-.4h0m0 1.9h0m0-.7h0m.1-1h0m0 1.1h0m.1-.1h0m.1-1.4h0m0 1.4h0m0 1h0m.2-1h0m0-1.4h0m.1 1.4h0m0-.8h0m.1 .7h0m0-.4h0m0 .1h0m.1-.3h0m.5 1h0m.1-1.6h0m.1 .1h0m.1 .7h0m.1 1.8h0m.1-1.3h0m.2-1.1h0m0 .6h0m0-.9h0m0 2.7h0m.3-1.6h0m.2 1.5h0m0-2.4h0m.2 .2h0m.1 .3h0m0 1.5h0m.6-1.5h0m0 1.1h0m0 .6h0m.3-1.2h0m.4 1.5h0m.1 0h0m0-.4h0m0-1.3h0m.3 0h0m1.9 1.8h0m-15.5 .3h0m2 1.1h0m.3-1h0m0 1h0m.4 .9h0m.3-.8h0m.5-.1h0m.4 .4h0m.2 .2h0m.1-.2h0m.2 1.2h0m0-2h0m.2 1.7h0m.1-.3h0m.2-1h0m0 1.1h0m.2-.8h0m.1-.8h0m.1 .8h0m.3-1.5h0m0 2.3h0m0-.2h0m0 .8h0m.1-.5h0m.1 .1h0m.1-.3h0m.4-.1h0m0-2.1h0m.1 2h0m.1 .5h0m.1 .4h0m.2-2.3h0m.1 1.3h0m.1-1.1h0m.1-.7h0m0 1.3h0m.1-1h0m.2 1.7h0m0 .4h0m.3-1.8h0m.2 1.2h0m.1-1.4h0m.1 .2h0m.4 1.2h0m.1-1.8h0m.1 .1h0m0 1.6h0m.1-1.3h0m0 1.8h0m0-1h0m.1-.8h0m0 .8h0m0 1.1h0m.1-2.2h0m0 0h0m.2 .6h0m.3 0h0m.1-.4h0m.2 .9h0m.1 .6h0m.1-.5h0m.3 1.3h0m.1-2.3h0m.2 1.1h0m0 .7h0m.3-1.5h0m.4 1.8h0m0 .2h0m.2-1.5h0m0-.1h0m.7 .8h0m1.5-1.9h0m1.1 2.3h0m-13 2.8h0m.1-1.6h0m.6 .8h0m.4 0h0m.8-1.3h0m0 2.1h0m.2-.6h0m.1-.7h0m.1 2.1h0m0-1.9h0m.6 1.7h0m.9-2.5h0m0 2.1h0m.6-2.1h0m.3 .4h0m.7 .5h0m.2-.2h0m0 0h0m0 .7h0m.2-1.6h0m0 .2h0m0 1.8h0m.6 .2h0m.1 .2h0m.1-2.4h0m.5 0h0m0 2.5h0m.1-.2h0m.1-2.3h0m.1 .4h0m.3 .3h0m.6 1.8h0m1.1-1.2h0m.4 .9h0m.2 .2h0m.5 .2h0m.2-.8h0m.1 .5h0m.2-2.2h0m.1 .2h0m.7-.1h0m.3 1.8h0m2.7-.8h0m-16.7 3.3h0m1.7 1h0m1-1.8h0m.3 0h0m.5 .4h0m1.5 0h0m.3-.5h0m.4-.6h0m.3 .5h0m.2 2h0m.6-1h0m.1 .4h0m0 .6h0m.2-1.9h0m.9 2.1h0m1-1.6h0m.8-.6h0m.2 2h0m.5-1.3h0m1.3 .3h0m3.2-.3h0m-13.2 2.5h0m1.5 1.4h0m2.6 .8h0m2.1-.2h0m.1-.5h0m1.3 .5h0m.7-2h0m.3-.5h0m-6.2 4.8h0m.5-1.3h0m.1-.2h0m.7 .1h0m1.3 .4h0m.3-.6h0m.2 2.1h0m.5-.3h0m.4-1.2h0m1.1 .9h0m.3-.3h0m1.2 .3h0m1.3-1.3h0m.6 1.8h0m-8.7 3.2h0m2.6-1.2h0m.3-1.1h0m2.1 1.8h0m0-1.6h0m.8 2h0m.6-2.4h0m-4.4 4.5h0m1.5-.3h0m1.5-.9h0m-4.5 2.8h0m2.1 2.7h0m1.6-1.5h0m.2 1.5h0m.5-2.3h0m.1 .4h0m1.6-.5h0m0 .2h0m3.8 1.1h0m-9.9 1.5h0m4.5 1.1h0m1.3-1.2h0m-8.6 6h0m5.6 4.4h0m3.1-.5h0m3.6 2.9h0" stroke="#000" stroke-width="0.65" stroke-linecap="square" fill="none" stroke-opacity="0.85"/>
<path d="M437.1 400.8h0m38 4.1h0m-35.2 3.8h0m17.1 5.1h0m-13.9 2.2h0m1.4-1.2h0m.6 1.6h0m3.2-.5h0m.3-.8h0m.3-.1h0m.1 .7h0m-7.1 2.9h0m.2 1.1h0m1.4-.3h0m3.3-1.6h0m1.7 1.4h0m1 .7h0m-12.8 .9h0m3 1.5h0m2.2 .6h0m1.8-1.1h0m.5-.8h0m.7-.3h0m1 1.3h0m1.1-.9h0m.6 .9h0m.3 .6h0m.5-1.3h0m.2 .8h0m-46.2 2.6h0m36.1 .6h0m1.3 .3h0m3.1 0h0m.3-1.5h0m.5 .4h0m1.7 0h0m.1 1.2h0m.1-1.7h0m.1 .1h0m.3 1.5h0m.5 .3h0m.8-2.2h0m.1 1.5h0m1.5 .3h0m1.6-1.9h0m7.5 .4h0m41.7 .9h0m-62.1 2.7h0m2.6 1.3h0m1-1.7h0m1 1.3h0m1.3 .4h0m.5-.4h0m.8-2.3h0m2 .9h0m2.2 1.1h0m-13.9 .9h0m8.5 .7h0m.5-.7h0m-2.3 2.9h0m.4 .9h0m.2-.8h0m2 .3h0m18.9 2.1h0m27.7-1.8h0m-55.5 2.9h0m2.7 .2h0m2.7 .3h0m7.5 1.6h0m1.3-2.3h0m.6 2.1h0m-13.4 5.3h0m2.2 .9h0m5.9 6.2h0m-8.6 8.9h0m4.7-.1h0m13.3-1.7h0m-17.8 2.8h0m7.8 2.1h0m.6-.5h0m3.5-2.3h0m6.8 2.1h0m-20.8 .9h0m8.9 1.9h0m2.9 .8h0m2.9-1.7h0m5.2-.3h0m-22.3 4.8h0m15.5 .3h0m5.2-.2h0m3.2-2.5h0m.2 2h0m-12.2 1.2h0m1.8 1.3h0m.2 .3h0m.6-.4h0m2.4-.6h0m.9 .3h0m5.2-.2h0m.5 .5h0m1.9-.9h0m15.6 1.5h0m-45.7 2.6h0m10.6-.7h0m1.8-1h0m.1 .7h0m.2 .8h0m.9 1.1h0m2.1-1.7h0m2.1-.6h0m.1 1.2h0m2.2 .1h0m2.1-1h0m1 .3h0m.5-.6h0m.3 .8h0m.4-.7h0m4 .9h0m.5-.7h0m.1 .3h0m-16.3 3.6h0m.6-1.6h0m1.9 2.5h0m.1-2.5h0m.8 2.6h0m.7-.7h0m.9-.3h0m.3-1.6h0m1.6 .3h0m1.4 1.9h0m.7-.6h0m2.4-.9h0m.6 1.2h0m.4-1.6h0m1.8-.3h0m2.5 2.9h0m.3-.4h0m9.6-1.9h0m-31.8 4h0m1.3 .5h0m1.7 .7h0m.6-2.3h0m9.1-.5h0m3.6 .9h0m1.8 1.8h0m2-2.2h0m-21.2 3h0m5.5 .1h0m1.9 1.4h0m.1-.5h0m3.1-.2h0m2.3 .2h0m5.4-1.5h0m5 2.4h0m-18.9 2.1h0m12.3-.7h0m1.3-.2h0m23.3 .2h0m-66.9 4.7h0m31-1.2h0m1.8-.8h0m2 2h0m1.8-2.4h0m.1 2.3h0m3.1-2.1h0m2.2 .6h0m-29 4.7h0m16-2.2h0m16.3 .8h0m3.7-.3h0m-11.2 2.2h0m3.3 2h0m.5 .7h0m-29.7 2.9h0m21.6-1.8h0m3.3 1.6h0m-.6 .5h0m6.3 1.6h0m4.6 .8h0m4.3-.7h0m-37.1 2.2h0m7.9-.2h0m.3 .4h0m-11.6 4.2h0m7.8-.8h0m14.5-1.2h0m2.8-.1h0m-13.9 4.8h0m2.3-.1h0m5.7-1.6h0m-4.2 4.2h0m15.2-1.2h0m-25.9 10.7h0m2 .2h0m1.8-.5h0m1.3 .7h0m.9-.5h0m1.8 .5h0m1.3-.5h0m2.3 .6h0m.3-.8h0m1.5 .7h0m.1-.1h0m.3 .3h0m4.1-.8h0m1.1 0h0m1.8 .7h0m1.2-.3h0m3.8-.1h0m.5-.3h0m.4 .4h0m.7-.4h0m1.6 .2h0m1 0h0m2 .4h0m4.2-.7h0m.1 .3h0m.9-.4h0m1.1 .8h0m1.3-.3h0m4.1 .3h0m4.2-.1h0m.2-.2h0m1.6-.3h0m6.3-.1h0m2.7 .6h0m2.9-.7h0m.1 .5h0m2.1 .1h0m1.3 .1h0m1.3 .1h0m1.4 0h0m.4-.2h0m.4 .1h0m.4-.3h0m.6 .4h0m.2-.6h0m.9 .4h0m.5-.2h0m.1 .5h0m1.4-.4h0m4 .4h0" stroke="#222" stroke-width="0.55" stroke-linecap="square" fill="none" stroke-opacity="0.6"/>
<line x1="455.8" y1="392.4" x2="455.8" y2="522.6" stroke="#444" stroke-width="1.2"/>
<line x1="392" y1="467.3" x2="520.3" y2="467.3" stroke="#333" stroke-width="1.3"/>
<rect x="392" y="392.4" width="128.3" height="130.2" fill="none" stroke="#5c5c5c" stroke-width="0.9"/>
<line x1="391.6" y1="522.6" x2="520.7" y2="522.6" stroke="#111" stroke-width="1.2"/>
<line x1="392" y1="392.4" x2="392" y2="522.6" stroke="#444" stroke-width="0.9"/>
<line x1="392.4" y1="522.6" x2="392.4" y2="525.6" stroke="#111" stroke-width="1.2"/>
<text class="san" x="394.9" y="537.2" font-size="4.5" text-anchor="start" fill="#111">10<tspan dx="0.4" dy="-2.4" font-size="4.27">0</tspan></text>
<line x1="399.5" y1="522.6" x2="399.5" y2="524.2" stroke="#333" stroke-width="0.5"/>
<line x1="403.66" y1="522.6" x2="403.66" y2="524.2" stroke="#333" stroke-width="0.5"/>
<line x1="406.61" y1="522.6" x2="406.61" y2="524.2" stroke="#333" stroke-width="0.5"/>
<line x1="408.9" y1="522.6" x2="408.9" y2="524.2" stroke="#333" stroke-width="0.5"/>
<line x1="410.76" y1="522.6" x2="410.76" y2="524.2" stroke="#333" stroke-width="0.5"/>
<line x1="412.34" y1="522.6" x2="412.34" y2="524.2" stroke="#333" stroke-width="0.5"/>
<line x1="413.71" y1="522.6" x2="413.71" y2="524.2" stroke="#333" stroke-width="0.5"/>
<line x1="414.92" y1="522.6" x2="414.92" y2="524.2" stroke="#333" stroke-width="0.5"/>
<line x1="416" y1="522.6" x2="416" y2="525.6" stroke="#111" stroke-width="1.2"/>
<text class="san" x="412.7" y="537.2" font-size="4.5" text-anchor="start" fill="#111">10<tspan dx="0.4" dy="-2.4" font-size="4.27">1</tspan></text>
<line x1="423.1" y1="522.6" x2="423.1" y2="524.2" stroke="#333" stroke-width="0.5"/>
<line x1="427.26" y1="522.6" x2="427.26" y2="524.2" stroke="#333" stroke-width="0.5"/>
<line x1="430.21" y1="522.6" x2="430.21" y2="524.2" stroke="#333" stroke-width="0.5"/>
<line x1="432.5" y1="522.6" x2="432.5" y2="524.2" stroke="#333" stroke-width="0.5"/>
<line x1="434.36" y1="522.6" x2="434.36" y2="524.2" stroke="#333" stroke-width="0.5"/>
<line x1="435.94" y1="522.6" x2="435.94" y2="524.2" stroke="#333" stroke-width="0.5"/>
<line x1="437.31" y1="522.6" x2="437.31" y2="524.2" stroke="#333" stroke-width="0.5"/>
<line x1="438.52" y1="522.6" x2="438.52" y2="524.2" stroke="#333" stroke-width="0.5"/>
<line x1="439.6" y1="522.6" x2="439.6" y2="525.6" stroke="#111" stroke-width="1.2"/>
<text class="san" x="436.3" y="537.2" font-size="4.5" text-anchor="start" fill="#111">10<tspan dx="0.4" dy="-2.4" font-size="4.27">2</tspan></text>
<line x1="446.7" y1="522.6" x2="446.7" y2="524.2" stroke="#333" stroke-width="0.5"/>
<line x1="450.86" y1="522.6" x2="450.86" y2="524.2" stroke="#333" stroke-width="0.5"/>
<line x1="453.81" y1="522.6" x2="453.81" y2="524.2" stroke="#333" stroke-width="0.5"/>
<line x1="456.1" y1="522.6" x2="456.1" y2="524.2" stroke="#333" stroke-width="0.5"/>
<line x1="457.96" y1="522.6" x2="457.96" y2="524.2" stroke="#333" stroke-width="0.5"/>
<line x1="459.54" y1="522.6" x2="459.54" y2="524.2" stroke="#333" stroke-width="0.5"/>
<line x1="460.91" y1="522.6" x2="460.91" y2="524.2" stroke="#333" stroke-width="0.5"/>
<line x1="462.12" y1="522.6" x2="462.12" y2="524.2" stroke="#333" stroke-width="0.5"/>
<line x1="463.2" y1="522.6" x2="463.2" y2="525.6" stroke="#111" stroke-width="1.2"/>
<text class="san" x="459.9" y="537.2" font-size="4.5" text-anchor="start" fill="#111">10<tspan dx="0.4" dy="-2.4" font-size="4.27">3</tspan></text>
<line x1="470.3" y1="522.6" x2="470.3" y2="524.2" stroke="#333" stroke-width="0.5"/>
<line x1="474.46" y1="522.6" x2="474.46" y2="524.2" stroke="#333" stroke-width="0.5"/>
<line x1="477.41" y1="522.6" x2="477.41" y2="524.2" stroke="#333" stroke-width="0.5"/>
<line x1="479.7" y1="522.6" x2="479.7" y2="524.2" stroke="#333" stroke-width="0.5"/>
<line x1="481.56" y1="522.6" x2="481.56" y2="524.2" stroke="#333" stroke-width="0.5"/>
<line x1="483.14" y1="522.6" x2="483.14" y2="524.2" stroke="#333" stroke-width="0.5"/>
<line x1="484.51" y1="522.6" x2="484.51" y2="524.2" stroke="#333" stroke-width="0.5"/>
<line x1="485.72" y1="522.6" x2="485.72" y2="524.2" stroke="#333" stroke-width="0.5"/>
<line x1="486.8" y1="522.6" x2="486.8" y2="525.6" stroke="#111" stroke-width="1.2"/>
<text class="san" x="483.5" y="537.2" font-size="4.5" text-anchor="start" fill="#111">10<tspan dx="0.4" dy="-2.4" font-size="4.27">4</tspan></text>
<line x1="493.9" y1="522.6" x2="493.9" y2="524.2" stroke="#333" stroke-width="0.5"/>
<line x1="498.06" y1="522.6" x2="498.06" y2="524.2" stroke="#333" stroke-width="0.5"/>
<line x1="501.01" y1="522.6" x2="501.01" y2="524.2" stroke="#333" stroke-width="0.5"/>
<line x1="503.3" y1="522.6" x2="503.3" y2="524.2" stroke="#333" stroke-width="0.5"/>
<line x1="505.16" y1="522.6" x2="505.16" y2="524.2" stroke="#333" stroke-width="0.5"/>
<line x1="506.74" y1="522.6" x2="506.74" y2="524.2" stroke="#333" stroke-width="0.5"/>
<line x1="508.11" y1="522.6" x2="508.11" y2="524.2" stroke="#333" stroke-width="0.5"/>
<line x1="509.32" y1="522.6" x2="509.32" y2="524.2" stroke="#333" stroke-width="0.5"/>
<line x1="510.4" y1="522.6" x2="510.4" y2="525.6" stroke="#111" stroke-width="1.2"/>
<text class="san" x="507.1" y="537.2" font-size="4.5" text-anchor="start" fill="#111">10<tspan dx="0.4" dy="-2.4" font-size="4.27">5</tspan></text>
<line x1="517.5" y1="522.6" x2="517.5" y2="524.2" stroke="#333" stroke-width="0.5"/>
<line x1="389" y1="522" x2="392" y2="522" stroke="#111" stroke-width="1.2"/>
<text class="san" x="385.8" y="521" font-size="4.5" text-anchor="end" fill="#111">10<tspan dx="0.4" dy="-2.4" font-size="4.27">0</tspan></text>
<line x1="390.4" y1="514.87" x2="392" y2="514.87" stroke="#333" stroke-width="0.5"/>
<line x1="390.4" y1="510.69" x2="392" y2="510.69" stroke="#333" stroke-width="0.5"/>
<line x1="390.4" y1="507.73" x2="392" y2="507.73" stroke="#333" stroke-width="0.5"/>
<line x1="390.4" y1="505.43" x2="392" y2="505.43" stroke="#333" stroke-width="0.5"/>
<line x1="390.4" y1="503.56" x2="392" y2="503.56" stroke="#333" stroke-width="0.5"/>
<line x1="390.4" y1="501.97" x2="392" y2="501.97" stroke="#333" stroke-width="0.5"/>
<line x1="390.4" y1="500.6" x2="392" y2="500.6" stroke="#333" stroke-width="0.5"/>
<line x1="390.4" y1="499.38" x2="392" y2="499.38" stroke="#333" stroke-width="0.5"/>
<line x1="389" y1="498.3" x2="392" y2="498.3" stroke="#111" stroke-width="1.2"/>
<text class="san" x="385.8" y="499.9" font-size="4.5" text-anchor="end" fill="#111">10<tspan dx="0.4" dy="-2.4" font-size="4.27">1</tspan></text>
<line x1="390.4" y1="491.17" x2="392" y2="491.17" stroke="#333" stroke-width="0.5"/>
<line x1="390.4" y1="486.99" x2="392" y2="486.99" stroke="#333" stroke-width="0.5"/>
<line x1="390.4" y1="484.03" x2="392" y2="484.03" stroke="#333" stroke-width="0.5"/>
<line x1="390.4" y1="481.73" x2="392" y2="481.73" stroke="#333" stroke-width="0.5"/>
<line x1="390.4" y1="479.86" x2="392" y2="479.86" stroke="#333" stroke-width="0.5"/>
<line x1="390.4" y1="478.27" x2="392" y2="478.27" stroke="#333" stroke-width="0.5"/>
<line x1="390.4" y1="476.9" x2="392" y2="476.9" stroke="#333" stroke-width="0.5"/>
<line x1="390.4" y1="475.68" x2="392" y2="475.68" stroke="#333" stroke-width="0.5"/>
<line x1="389" y1="474.6" x2="392" y2="474.6" stroke="#111" stroke-width="1.2"/>
<text class="san" x="385.8" y="476.2" font-size="4.5" text-anchor="end" fill="#111">10<tspan dx="0.4" dy="-2.4" font-size="4.27">2</tspan></text>
<line x1="390.4" y1="467.47" x2="392" y2="467.47" stroke="#333" stroke-width="0.5"/>
<line x1="390.4" y1="463.29" x2="392" y2="463.29" stroke="#333" stroke-width="0.5"/>
<line x1="390.4" y1="460.33" x2="392" y2="460.33" stroke="#333" stroke-width="0.5"/>
<line x1="390.4" y1="458.03" x2="392" y2="458.03" stroke="#333" stroke-width="0.5"/>
<line x1="390.4" y1="456.16" x2="392" y2="456.16" stroke="#333" stroke-width="0.5"/>
<line x1="390.4" y1="454.57" x2="392" y2="454.57" stroke="#333" stroke-width="0.5"/>
<line x1="390.4" y1="453.2" x2="392" y2="453.2" stroke="#333" stroke-width="0.5"/>
<line x1="390.4" y1="451.98" x2="392" y2="451.98" stroke="#333" stroke-width="0.5"/>
<line x1="389" y1="450.9" x2="392" y2="450.9" stroke="#111" stroke-width="1.2"/>
<text class="san" x="385.8" y="452.5" font-size="4.5" text-anchor="end" fill="#111">10<tspan dx="0.4" dy="-2.4" font-size="4.27">3</tspan></text>
<line x1="390.4" y1="443.77" x2="392" y2="443.77" stroke="#333" stroke-width="0.5"/>
<line x1="390.4" y1="439.59" x2="392" y2="439.59" stroke="#333" stroke-width="0.5"/>
<line x1="390.4" y1="436.63" x2="392" y2="436.63" stroke="#333" stroke-width="0.5"/>
<line x1="390.4" y1="434.33" x2="392" y2="434.33" stroke="#333" stroke-width="0.5"/>
<line x1="390.4" y1="432.46" x2="392" y2="432.46" stroke="#333" stroke-width="0.5"/>
<line x1="390.4" y1="430.87" x2="392" y2="430.87" stroke="#333" stroke-width="0.5"/>
<line x1="390.4" y1="429.5" x2="392" y2="429.5" stroke="#333" stroke-width="0.5"/>
<line x1="390.4" y1="428.28" x2="392" y2="428.28" stroke="#333" stroke-width="0.5"/>
<line x1="389" y1="427.2" x2="392" y2="427.2" stroke="#111" stroke-width="1.2"/>
<text class="san" x="385.8" y="428.8" font-size="4.5" text-anchor="end" fill="#111">10<tspan dx="0.4" dy="-2.4" font-size="4.27">4</tspan></text>
<line x1="390.4" y1="420.07" x2="392" y2="420.07" stroke="#333" stroke-width="0.5"/>
<line x1="390.4" y1="415.89" x2="392" y2="415.89" stroke="#333" stroke-width="0.5"/>
<line x1="390.4" y1="412.93" x2="392" y2="412.93" stroke="#333" stroke-width="0.5"/>
<line x1="390.4" y1="410.63" x2="392" y2="410.63" stroke="#333" stroke-width="0.5"/>
<line x1="390.4" y1="408.76" x2="392" y2="408.76" stroke="#333" stroke-width="0.5"/>
<line x1="390.4" y1="407.17" x2="392" y2="407.17" stroke="#333" stroke-width="0.5"/>
<line x1="390.4" y1="405.8" x2="392" y2="405.8" stroke="#333" stroke-width="0.5"/>
<line x1="390.4" y1="404.58" x2="392" y2="404.58" stroke="#333" stroke-width="0.5"/>
<line x1="389" y1="403.5" x2="392" y2="403.5" stroke="#111" stroke-width="1.2"/>
<text class="san" x="385.8" y="405.1" font-size="4.5" text-anchor="end" fill="#111">10<tspan dx="0.4" dy="-2.4" font-size="4.27">5</tspan></text>
<line x1="390.4" y1="396.37" x2="392" y2="396.37" stroke="#333" stroke-width="0.5"/>
<text class="ser" x="454.8" y="386" font-size="9.2" text-anchor="middle" fill="#3c3c3c" stroke-width="0.1" stroke="#444">mimic</text>
<text class="ser" x="491.1" y="435.6" font-size="9.2" text-anchor="middle" fill="#3c3c3c" stroke-width="0.1" stroke="#444">68.11%</text>
<line x1="369.5" y1="547.9" x2="369.5" y2="485" stroke="#222" stroke-width="1"/>
<line x1="369" y1="547.4" x2="432.4" y2="547.4" stroke="#222" stroke-width="1"/>
<path d="M369.5 479 l3.6 7.4 h-7.2 Z" fill="#000"/>
<path d="M438.4 547.4 l-7.4 -3.6 v7.2 Z" fill="#000"/>
<text class="ser" x="366" y="518.6" font-size="9.2" text-anchor="middle" fill="#111" transform="rotate(-90 366 518.6)">Ki67</text>
<text class="ser" x="388.9" y="559.3" font-size="9.2" fill="#111">CD19</text>
<text class="ser" x="528" y="388.3" font-size="14" font-weight="bold" fill="#111">H</text>
<rect x="571.3" y="460.5" width="36.1" height="50.6" fill="#A1A3A6" stroke="#111" stroke-width="1.2"/>
<rect x="627.7" y="430.4" width="36.1" height="80.7" fill="#8F1D24" stroke="#111" stroke-width="1.2"/>
<line x1="552" y1="404.35" x2="552" y2="511.65" stroke="#000" stroke-width="1.35"/>
<line x1="552" y1="511.1" x2="681.9" y2="511.1" stroke="#000" stroke-width="1.35"/>
<line x1="548.4" y1="404.9" x2="552" y2="404.9" stroke="#000" stroke-width="1.35"/>
<text class="ser" x="548.4" y="407.8" font-size="9.2" text-anchor="end" fill="#111">80</text>
<line x1="548.4" y1="431.6" x2="552" y2="431.6" stroke="#000" stroke-width="1.35"/>
<text class="ser" x="548.4" y="434.5" font-size="9.2" text-anchor="end" fill="#111">60</text>
<line x1="548.4" y1="458.1" x2="552" y2="458.1" stroke="#000" stroke-width="1.35"/>
<text class="ser" x="548.4" y="461" font-size="9.2" text-anchor="end" fill="#111">40</text>
<line x1="548.4" y1="484.6" x2="552" y2="484.6" stroke="#000" stroke-width="1.35"/>
<text class="ser" x="548.4" y="487.5" font-size="9.2" text-anchor="end" fill="#111">20</text>
<line x1="548.4" y1="511.1" x2="552" y2="511.1" stroke="#000" stroke-width="1.35"/>
<text class="ser" x="548.4" y="514" font-size="9.2" text-anchor="end" fill="#111">0</text>
<line x1="589.8" y1="511.1" x2="589.8" y2="514.5" stroke="#000" stroke-width="1.35"/>
<line x1="645.5" y1="511.1" x2="645.5" y2="514.5" stroke="#000" stroke-width="1.35"/>
<line x1="589.8" y1="439.5" x2="589.8" y2="480.5" stroke="#000" stroke-width="1"/>
<line x1="580.2" y1="439.5" x2="599.4" y2="439.5" stroke="#000" stroke-width="1"/>
<line x1="580.2" y1="480.5" x2="599.4" y2="480.5" stroke="#000" stroke-width="1"/>
<circle cx="589.8" cy="435.2" r="2.5" fill="#000"/>
<circle cx="589.8" cy="445.3" r="2.5" fill="#000"/>
<circle cx="589.8" cy="458.6" r="2.5" fill="#000"/>
<circle cx="597.1" cy="479.8" r="2.5" fill="#000"/>
<circle cx="581.9" cy="482.4" r="2.5" fill="#000"/>
<line x1="645.5" y1="414" x2="645.5" y2="446.5" stroke="#000" stroke-width="1"/>
<line x1="635.9" y1="414" x2="655.1" y2="414" stroke="#000" stroke-width="1"/>
<line x1="635.9" y1="446.5" x2="655.1" y2="446.5" stroke="#000" stroke-width="1"/>
<rect x="643" y="404.5" width="5" height="5" fill="#000"/>
<rect x="643" y="420.7" width="5" height="5" fill="#000"/>
<rect x="650.7" y="432" width="5" height="5" fill="#000"/>
<rect x="643" y="435.6" width="5" height="5" fill="#000"/>
<rect x="643" y="446.4" width="5" height="5" fill="#000"/>
<line x1="589.2" y1="397.9" x2="646.1" y2="397.9" stroke="#1a1a1a" stroke-width="1.2"/>
<line x1="589.8" y1="394.9" x2="589.8" y2="400.9" stroke="#1a1a1a" stroke-width="1.2"/>
<line x1="645.5" y1="394.9" x2="645.5" y2="400.9" stroke="#1a1a1a" stroke-width="1.2"/>
<text class="ser" x="618.75" y="397.28" font-size="15.8" text-anchor="middle" font-weight="bold" fill="#111">*</text>
<text class="ser" x="533.2" y="455" font-size="9.2" text-anchor="middle" fill="#111" transform="rotate(-90 533.2 455)">Ki67<tspan dy="-3" font-size="4.6">+</tspan><tspan dy="3"> B cells (%)</tspan></text>
<text class="ser" x="592.3" y="523.6" font-size="9.2" text-anchor="middle" fill="#111">mimic NC</text>
<text class="ser" x="646.9" y="523.6" font-size="9.2" text-anchor="middle" fill="#111">mimic</text>
<text class="ser" x="2.7" y="585.3" font-size="14" font-weight="bold" fill="#111">I</text>
<path d="M164.8 611.8h0m-46.4 22.3h0m5.1 9.6h0m-5.8 2.1h0m.2 1.1h0m.7 .1h0m.3-1.2h0m5.3 2.1h0m.2 0h0m4.1-.6h0m1.1-.3h0m1.6 0h0m-17 3.3h0m4.6-2.2h0m3.5 2.6h0m.1-1.8h0m.2 1.4h0m1.7-.7h0m.3-.6h0m.4 0h0m1.7 1.4h0m4 .3h0m.7-2h0m6.5 2.2h0m-24.7 1.9h0m5.2 .6h0m1.2-.3h0m.1-.2h0m1-1.3h0m3.1 1.3h0m1.2-1h0m.1-.3h0m.8 1.1h0m.7-1h0m.1 2.2h0m.6-.7h0m1-.2h0m1.1-1.7h0m.2 .2h0m.1 .9h0m2.8 .9h0m1.9 .1h0m-33.6 2.2h0m4.3 1h0m2.5 0h0m.5-.3h0m3.9-1.4h0m1.4 .3h0m2.7 .4h0m.2-1.2h0m.3 .7h0m.5 0h0m.3 .3h0m0 1.4h0m3.3-.6h0m1.5 0h0m1.5-1.3h0m1.9 .3h0m.2-.3h0m1 .8h0m2.1-.7h0m3.5-.9h0m.3 2.5h0m2.4-.6h0m1.7 .2h0m-46.9 1.3h0m1.5 2.4h0m2.9-.7h0m7.9 0h0m.9 .4h0m2.1-.3h0m1.2 .5h0m1.5-1.7h0m.9-.2h0m3.8 .3h0m0 1h0m1-1.2h0m1.3 .9h0m.6 1h0m.6-1.4h0m.2 1.4h0m.1-1.2h0m0-.9h0m.8 1.4h0m.6 .3h0m2.2-2.1h0m3.2 2.4h0m.7-.7h0m.6-.9h0m4.3-.4h0m.4 1h0m4.9-1.1h0m2.9 2h0m-47.2 2.5h0m5-1h0m1.2 .3h0m2.1 1.3h0m2.8-2.6h0m5.1 .5h0m1.2 .3h0m.7 .4h0m1.1-1h0m1.2 .7h0m.2 .2h0m.9 .5h0m2.1-.6h0m.2 .5h0m.4 .4h0m.1-1.4h0m.3 2.2h0m.5-2.3h0m.3-.1h0m.8-.3h0m0 .3h0m.6 .8h0m2 0h0m.1-.4h0m1.3 1.9h0m1-.4h0m.4-.3h0m1.3-.7h0m3.7-1.1h0m4.8 .9h0m.9-.6h0m-47 3h0m6.2 1.6h0m2.8-2.2h0m.7 .6h0m.4 1.5h0m1.1-1.4h0m.2 .6h0m4.9 .1h0m.1 .9h0m.8 .2h0m.7 .4h0m1.5-.1h0m.9-.9h0m.2-1.1h0m3.6 .1h0m.2-.7h0m2.4 .2h0m.3 1.1h0m3.5-1h0m.1 1.1h0m.6-1.2h0m.3-.4h0m.9 1.8h0m.9-.5h0m.1-1.2h0m.9 1.7h0m2-.3h0m.1 1.2h0m1.4-.1h0m.3-.7h0m.5 0h0m.6-.8h0m2.3-1.1h0m-47.7 5.8h0m6-.5h0m4.9 .1h0m1.3 .3h0m3.8-2.4h0m6.3 1.7h0m.1-.5h0m.2-1.5h0m.6 2.7h0m.1-1.3h0m.5 .8h0m.5-.8h0m0-.7h0m1.1-.4h0m.2 .6h0m.1 0h0m.3-.8h0m1.4 .3h0m.5-.2h0m.1 .3h0m.8-.5h0m.1 .3h0m.2 .7h0m.4-1h0m.5 .7h0m.1 .7h0m0 .7h0m.8-2.1h0m.6 .5h0m.3 .3h0m1.7 1.3h0m.2-1.3h0m1.1-.2h0m.3 2h0m1.7-.7h0m0-.3h0m.2 .2h0m5.6 .9h0m2.5-1.4h0m1.9 0h0m5.2-1.1h0m-67.4 4h0m21.6-.1h0m2.2-.1h0m1.6 .3h0m1.4 .8h0m.1-.5h0m.2 0h0m.3-.8h0m3.1-.3h0m2.3 1.1h0m2.9 1h0m2-2.2h0m.8 .2h0m.1-.5h0m4.5 0h0m.6 0h0m.9 2.4h0m.3-2.3h0m1.2 .8h0m1.5-1h0m1.8 1h0m1 .3h0m4.1 1h0m1.1 .1h0m4.6-2.2h0m-51.4 3.2h0m8.4 2.4h0m.2-2.8h0m.9 1.7h0m2.1-.4h0m3.9 .4h0m4.8-.5h0m.7 0h0m1.2-.7h0m2.1 .3h0m4.9 2h0m2.3-.9h0m.9 .3h0m9.9-.7h0m-48.6 3.1h0m.5-1.1h0m8.8 1.5h0m4.8-1.2h0m3.6 1.2h0m2.3 .8h0m1.5-1h0m1.6 .3h0m2.5 .4h0m5.7-.8h0m1.3-.2h0m1.7 .1h0m-39.6 1.7h0m19.8 2.3h0m4.2 .3h0m1-2.6h0m4.1 1h0m3.2-.3h0m4.3 1.9h0m4.9-.7h0m6.6 0h0m-20.1 2.7h0m1.2 1.3h0m5.3 1h0m7.2-.2h0m1.2 .3h0" stroke="#000" stroke-width="0.6" stroke-linecap="square" fill="none"/>
<path d="M118.5 647.6h0m.3-1.2h0m-16.5 3.3h0m8.6-1.7h0m.4 .7h0m1.4 .9h0m.8 1.2h0m.8-1.4h0m.1-.1h0m.3 1.5h0m.2-1.8h0m.5 1h0m2.2 .8h0m.1-.8h0m1.7-.5h0m.4 .8h0m1.2-1.8h0m2.4 1.3h0m-20.4 3.1h0m.9 .5h0m3.9-.6h0m.1-1.7h0m.1 2.5h0m.2-.8h0m0 1.1h0m.4-.6h0m.1 .1h0m.1-.7h0m.4-.2h0m.2 .4h0m0-.8h0m.3 1.3h0m.5-.4h0m.3 0h0m.1 .7h0m0-1.9h0m0 1.4h0m0-2.1h0m.4 2.1h0m.2 .2h0m.1-2.1h0m0 1h0m.1-1.2h0m0 1.8h0m.2 .3h0m.1-.8h0m.1 .2h0m.1-1.3h0m0 1.6h0m.3 .1h0m0-.5h0m.4 .5h0m0 .7h0m.1-1.7h0m.1 .6h0m.1 0h0m.2 .6h0m.3-1.9h0m.1 .6h0m.2 1.2h0m.1-.9h0m.1 1h0m0-2.1h0m0 .7h0m0 1.1h0m0 .3h0m.1-.7h0m.1 .7h0m0-1.5h0m0 1.1h0m.1-1.3h0m.1 1.4h0m0-1h0m.1-.9h0m0 .8h0m.2 .3h0m.2 .3h0m.3-1h0m0 .8h0m0 .1h0m.1-.1h0m.1-.2h0m.2-.1h0m.2 .4h0m.1-1.1h0m.2 1.6h0m0 .8h0m.1-2h0m.1-.2h0m0 1.5h0m0 .5h0m.2-1.1h0m.2 .4h0m.1-.4h0m.1-1.1h0m0 2.1h0m0-1.5h0m0-.1h0m.3 .3h0m.1 .7h0m0-.2h0m.1-.6h0m.3 .1h0m.1 1.7h0m.1-1.6h0m0 .1h0m.1 1.4h0m.3-2h0m.1 1.8h0m.1-.1h0m.1-.3h0m.1 .8h0m.4-.3h0m0-1.1h0m.1 .6h0m0-.3h0m.1-.7h0m.4-.3h0m0 1h0m.1 .4h0m0 .1h0m.3 .5h0m.1-.2h0m0-1h0m.1 .8h0m.4-.3h0m.1 .8h0m.2-.3h0m.6-2.3h0m.3 1.3h0m.1 .7h0m.1-.7h0m.4 1.4h0m.6-.9h0m.6 .8h0m.1-.6h0m.2 0h0m.7-.1h0m1.8-1.1h0m-22.6 4.7h0m.5-1.4h0m.3 1.3h0m.1-1.3h0m.5-.8h0m.5 1.5h0m.1-.8h0m.1 .4h0m.2 .2h0m.1 1h0m0-1.1h0m.1 0h0m.2-.7h0m0-.3h0m.2 1h0m.4-.2h0m.2-.6h0m0 .2h0m.1 1h0m.2 .3h0m.2-.9h0m0 .3h0m.1 .5h0m.3-.9h0m0 .6h0m0-.6h0m.1-.3h0m.1 .7h0m.1-1h0m.5 1.1h0m.1-1.3h0m.1-.4h0m.2 2.1h0m.1-1.9h0m.1 1.4h0m0-.9h0m.1-.5h0m.1 1h0m.1-.2h0m.4-.5h0m.8-.7h0m.5 .6h0m.1-.2h0m.2-.4h0m.3 .1h0m2.3-.1h0m.7 0h0m1 .1h0m2-.1h0m.1 1.4h0m.9-1.2h0m.3 .5h0m.1 .1h0m.1-.5h0m.5 1h0m.3-.4h0m0-.9h0m0 .1h0m.1 .6h0m0-.5h0m.1 .5h0m.2-.5h0m0 .3h0m.5-.2h0m0 .7h0m.2 .7h0m.1 .6h0m.2 .3h0m0-.7h0m.3-.3h0m.1-.5h0m.1-.1h0m.2 .3h0m.1-1h0m.2 1.7h0m0 0h0m.1-1.1h0m0 1.7h0m.1-.2h0m.1-1.9h0m.1 2.1h0m.2-1.7h0m.2 0h0m.1 .8h0m.2 0h0m.1-.3h0m0 .2h0m0 1.3h0m.1-.7h0m0-1.7h0m.2 2.1h0m.2-.4h0m.1 0h0m.1 0h0m0-.2h0m.2 .9h0m.1 0h0m.3 0h0m0-.1h0m.1 0h0m.4-1.7h0m.3 1.2h0m.7-1.4h0m5.3 2h0m-34.5 2.3h0m1.7-.2h0m.4 .9h0m.6-.7h0m.5 .5h0m.1-1h0m.1-.2h0m.7 .5h0m.7 .9h0m0-1.9h0m.1 1.9h0m0-2.2h0m0 2h0m.1-.1h0m.1-1.1h0m0 1.3h0m.3-.3h0m.1 .2h0m.1-1h0m.2 1.2h0m.1-1.3h0m0 .2h0m.7 .7h0m.7-.8h0m.1 .8h0m0-1.3h0m0-.1h0m0 .9h0m.1-1.1h0m0 .5h0m.2-1.1h0m.4 1.6h0m.4-1.2h0m.2 .3h0m0-.9h0m.4 .3h0m16.4-.2h0m.1 .3h0m.2-.5h0m.6 .8h0m.1-.8h0m.2 2.5h0m0-.8h0m0 .2h0m0-1.7h0m.1 1.2h0m0-.6h0m0 1h0m.1 1h0m.1-.3h0m0-1h0m.1-.3h0m.2-.2h0m0 .1h0m.1-.2h0m0-.5h0m.2-.2h0m0 2.2h0m0-1.9h0m.2 1.5h0m0-1h0m.3 .3h0m0 0h0m.3-1.2h0m.1 2.5h0m.1-.7h0m0-.5h0m0 .2h0m.3 .3h0m.1-.6h0m.3 .8h0m.5-.5h0m.2 .1h0m.1 .8h0m1.7-2.1h0m1.3 .9h0m1.7 .5h0m4.8 .1h0m-41.3 3.3h0m1.4 .1h0m.4 .5h0m.4-1.8h0m.3 1.9h0m.2-.1h0m0 0h0m.1-.2h0m0 .2h0m.5-2.4h0m0 1.7h0m.3-.2h0m.1 .3h0m.1 .5h0m.2-.6h0m.1-1.9h0m0 .8h0m.2-.4h0m0 1.7h0m0-.2h0m.1-1.3h0m0 .9h0m.1 .3h0m0 .4h0m.2-2.2h0m0 1.2h0m0-.7h0m.1 .5h0m.1 0h0m.2 .6h0m0-.5h0m0-.7h0m0 .4h0m.2 1.9h0m.3-2.3h0m.1 .9h0m.3-.8h0m.2 1.3h0m.1-1.8h0m.3-.1h0m.3 .2h0m.1-.3h0m.1 .1h0m.1 .5h0m.3 .2h0m20.9-.6h0m.8 .3h0m0 0h0m0-.1h0m.2 .2h0m.1 .6h0m0-1h0m0 .8h0m.2-.6h0m.3 1.1h0m.2-.8h0m.2 .4h0m.1 .4h0m0-.1h0m.1-.3h0m0-.6h0m0 2.1h0m.2-2.6h0m0 1h0m.2 .3h0m.1 .3h0m.1-.1h0m.1 .1h0m0 .8h0m.2-.5h0m0 .8h0m.5-1.9h0m.1 1.3h0m.2 .4h0m.3-.6h0m.6-.7h0m1.1-.2h0m-38.2 2.6h0m1.2 2.1h0m.3-.5h0m.2 .5h0m.4-1h0m.3 .9h0m.1-1h0m.4-.6h0m.3 1h0m.1 .7h0m.1-.3h0m0 .5h0m.3-.4h0m.1-.5h0m.4 .5h0m.1-2.2h0m.1 1.2h0m.3 1h0m0-1.7h0m.1 1.5h0m.1-1.1h0m.1 1.1h0m.1-.5h0m.1-.7h0m.2 1.6h0m.1-1.2h0m.1-1h0m0 .8h0m0-1.3h0m.1 2.4h0m.1-1.8h0m0-.5h0m0 1.8h0m.1-1.7h0m.1 1.7h0m.1-.6h0m.1 .6h0m0-1.9h0m.5 .2h0m.1 .4h0m.2-.3h0m0 0h0m.1 1.3h0m.1 .4h0m.2-1h0m.3-.4h0m.1 .2h0m1.2-.4h0m.2 .1h0m24.7 1.8h0m.3-1.2h0m.1 1.4h0m.1 .3h0m0-2.2h0m.2 1.7h0m.1-1.3h0m.1 0h0m0-.4h0m.2 0h0m0-.6h0m0 1.1h0m.2 .6h0m.1 0h0m0-.1h0m.1-1.2h0m0 .5h0m0 .9h0m0 .3h0m.1-1.7h0m0 .6h0m.2 .8h0m0-.6h0m0 .4h0m.1-.3h0m.1-.1h0m0 1.7h0m.1-.6h0m.1-1.7h0m.2 2.1h0m0-2h0m.1 1.8h0m.1-2.5h0m.1 1.6h0m.4 .8h0m0 .3h0m.1-1h0m.1-.8h0m.3 1.3h0m.2 .1h0m0 .4h0m0-.2h0m1.1-2.1h0m0 1.3h0m1.1-.9h0m.7 0h0m-43.6 3h0m1.2 1.6h0m.9-1.1h0m.4 1.2h0m0 .4h0m.3-1.2h0m.1 .3h0m0-.6h0m.4-.9h0m.1 2.1h0m0-2.3h0m0 2.4h0m.1-1.1h0m.1 .4h0m0-1h0m0 .3h0m.1 1.2h0m.3-.5h0m.1-.1h0m.1 .8h0m.1-.5h0m.1-.2h0m.2-.7h0m0 .3h0m.2 .1h0m0-1.2h0m0 .4h0m.1-.6h0m.1 .3h0m0 1.6h0m.1 .4h0m.1-.1h0m.2-.2h0m0 .4h0m0-.4h0m0-.2h0m.1-.2h0m.1-1.4h0m.1 1.8h0m0-.7h0m.1-.3h0m.1 .3h0m0 .5h0m.2-1h0m0 1.1h0m.1 0h0m.1-1.6h0m0-.2h0m0 2h0m0-.6h0m.1 1h0m.1-1.1h0m0-.4h0m.1-1.3h0m0 1.9h0m0 .5h0m0 .3h0m.2-.5h0m0-1.8h0m0 .4h0m.1 2h0m.1-1h0m.1 .9h0m.2-.2h0m0 .4h0m.1-.1h0m0-2.7h0m.1 .5h0m0 2h0m.1 .3h0m.1-2.4h0m.1 1.7h0m.1-.5h0m.4 .9h0m.4-.5h0m0 .3h0m.1-.1h0m.2 .4h0m1.2-.1h0m23.8 .1h0m.1 .2h0m.6-1.9h0m0 1.5h0m.1 .3h0m0 0h0m.1-.4h0m.7 .4h0m.1-1.1h0m.1 1.1h0m.1-1.7h0m.1 .7h0m0-.6h0m.1 1.3h0m0-1.6h0m.1-.4h0m.1 .8h0m.2-.6h0m.1 .4h0m.1-.3h0m0 .3h0m0 .7h0m.1 .3h0m0-.1h0m.2 .1h0m.1-.7h0m0-.1h0m0 .8h0m0-.5h0m.2-.9h0m0 .7h0m0 1.2h0m.1-.9h0m.1 .3h0m0-.9h0m0-1.1h0m.2 .1h0m0 2.5h0m0 0h0m0 .1h0m.1-2.3h0m.1 .5h0m.2 1.1h0m.1-1.6h0m0 1.6h0m.1-1.5h0m0 .7h0m0-.5h0m0-.4h0m.2 .4h0m.1 .7h0m0-.2h0m.3-.9h0m.1 .9h0m.1 .4h0m0 1.1h0m0-2.3h0m.1 .8h0m.2 .4h0m.2-.4h0m.3 .5h0m.7 1.2h0m.1-.8h0m.4-.9h0m1.8-.5h0m.1-.6h0m-43.5 5.1h0m.2-1.9h0m1.1 .6h0m1.1 .4h0m.9-1.1h0m0 .8h0m.2-.3h0m.3 .2h0m.5-.6h0m0 1h0m0-1.3h0m.1 0h0m0 .9h0m.6-.7h0m.4 0h0m.2 .1h0m.1 .5h0m.2 0h0m.2-.3h0m.4-.4h0m.1 .6h0m.1-.3h0m.1-.2h0m0 0h0m0 .8h0m.2 .2h0m.1-.8h0m0 .3h0m.1 .1h0m.3-.8h0m.1 .4h0m.2-.2h0m.4 0h0m.1 2.5h0m.6-2.2h0m.1 .8h0m.1 1.4h0m.1-1.5h0m.1-.2h0m.1 1h0m.1-1.6h0m0 2.1h0m.1-.7h0m.1-.9h0m.1-.5h0m.3 .5h0m.1 .8h0m.1-1.3h0m0-.4h0m.1 1.3h0m.3-.7h0m.2 .1h0m0 .3h0m.1-.1h0m0 .2h0m0-.3h0m.3 .4h0m0-.2h0m.3 .5h0m.1-.3h0m0-.9h0m0 .6h0m.1 .5h0m0 .2h0m0-.3h0m.1 .6h0m.1-.8h0m.1 .2h0m0-.6h0m.8 .9h0m0-.6h0m.1 1h0m.1 0h0m.5-2h0m.4 2.3h0m0-.3h0m.1-.4h0m.1 .9h0m0-.8h0m.1-.4h0m.1 .7h0m.1-.8h0m.1-.1h0m.2 1.4h0m.3-1.7h0m.3 1.4h0m.1 .3h0m0 0h0m.2 .4h0m.1-2.1h0m.5 2.1h0m.9-.5h0m0-.7h0m0 .4h0m.1 .5h0m.5-1.1h0m.4 1.1h0m0 .1h0m.5 .1h0m0-1.5h0m.1 .9h0m.6-.3h0m.1 .3h0m.1 .7h0m.1 0h0m.3-.1h0m.2-.1h0m.6-1.3h0m.3 .8h0m.1 .4h0m.1-1.2h0m1.6 1.1h0m.3 0h0m.1 .4h0m.5-.1h0m.8-.1h0m.1 .2h0m1-.5h0m.5-.5h0m.5 .6h0m1-.1h0m.1 0h0m.2-.8h0m.1 1h0m.1 .1h0m.7 .1h0m.4-.8h0m.6 .3h0m.3-.7h0m.1 1.3h0m0-.2h0m.1-1.7h0m.1 1.4h0m.2 .5h0m.1-.3h0m0-.7h0m.2-.2h0m0 1h0m.2-.6h0m.4-.7h0m.4 1.4h0m.4 .1h0m.1-.4h0m.4-.5h0m.4-.6h0m.1 .4h0m0-1.1h0m.1 .8h0m0 .6h0m.2 .5h0m.1-.3h0m0 .3h0m.1-.4h0m.3-2.2h0m0 .5h0m0 0h0m.1-.3h0m.1 .7h0m.2 .8h0m0-.9h0m0 1.9h0m0-1.9h0m.1 .6h0m0-1.2h0m.1 1.1h0m.1-.8h0m0 1.1h0m0 .8h0m0-1.8h0m.1 1.3h0m.3-.7h0m.2 .4h0m0 .4h0m0-1.5h0m0 .3h0m.1 0h0m.1-.5h0m.1 .7h0m.2 1.5h0m.1-2.3h0m.2 1.3h0m.1-.9h0m.2 .5h0m0 1.1h0m0 .7h0m0-.6h0m.5-1.7h0m0-.3h0m.2 .5h0m0 .1h0m.2-.4h0m.1 .1h0m.1 0h0m0 1h0m.1-.7h0m0-.7h0m.2 .9h0m.1-.6h0m.1 1.2h0m0-1.6h0m1.6 .6h0m.2-.5h0m.2 1.1h0m-31.5 3.3h0m.4 .9h0m.2-2.3h0m.7 1.9h0m3.1-1.5h0m0-.1h0m.2-.1h0m1 .6h0m.1 .8h0m1.3-1.4h0m0 .1h0m.1 .1h0m1.7-.5h0m.4-.1h0m.1 1.7h0m.1-1.5h0m0 1.3h0m.4-1.3h0m.3 0h0m.1 1.1h0m.1-.1h0m.2-.6h0m.1-.1h0m.2 1.6h0m.3-1.4h0m.4-.5h0m.3 .3h0m.1-.5h0m.4 .4h0m.1 1.5h0m.6-1.7h0m.3 0h0m.4 .3h0m.2-.1h0m0 1.2h0m.1-.6h0m0 1.3h0m.1-.8h0m.1-1.2h0m.2 2.3h0m0-1.4h0m.3-.5h0m0 .6h0m.1 .9h0m.3-2.1h0m.1 .8h0m0-.3h0m0-.4h0m.1 1.1h0m.2 .6h0m.1-1.1h0m.2 1.8h0m.1-2.6h0m0 1h0m0-.1h0m.1 1.9h0m0-.9h0m.7-.7h0m0 .1h0m.2-.2h0m.2-.4h0m.1-.4h0m.1 .1h0m.1 .1h0m.1 1.2h0m.2-.8h0m0 0h0m.1-.3h0m.3 .2h0m0 .8h0m.1-1.4h0m.4 1.1h0m0 .9h0m.1 .2h0m.2-1.7h0m.1-.7h0m1.7 .8h0m.1-.8h0m.1 2.5h0m.1-1.5h0m.1-.9h0m.1 2h0m.4-2.1h0m.2 2h0m0-1h0m.2 1.7h0m1.1-1.8h0m.1 .2h0m.3-.7h0m.1-.1h0m0-.3h0m.3 0h0m.2 2.9h0m.8-2.2h0m.3-.2h0m0-.4h0m.8 1.2h0m.3 .1h0m1.1 1.3h0m1-1.8h0m2.3-.6h0m-27.9 4.2h0m3.6-1.4h0m1-.1h0m6.1 .1h0m2.4 0h0m2.3 .6h0m9.2-.2h0m-10.1 2.9h0" stroke="#000" stroke-width="0.6" stroke-linecap="square" fill="none"/>
<path d="M95.3 667.3 L95.6 667.0 L95.5 666.7 L95.3 666.5 L96.8 665.9 L97.2 665.5 L97.3 665.2 L98.4 664.7 L98.6 664.3 L99.2 663.9 L99.8 663.4 L100.2 663.0 L100.4 662.6 L100.7 662.1 L101.6 661.8 L101.4 661.2 L102.7 661.0 L103.0 660.5 L103.7 660.1 L104.0 659.6 L104.2 659.1 L105.1 658.9 L105.6 658.5 L105.8 657.9 L106.4 657.6 L106.7 657.0 L107.5 656.9 L107.6 656.0 L108.1 655.5 L108.9 655.9 L109.2 655.1 L109.7 654.7 L110.3 654.8 L110.8 654.6 L111.2 653.9 L111.7 653.7 L112.2 653.1 L112.7 653.2 L113.2 652.8 L113.7 652.8 L114.1 653.3 L114.7 652.7 L115.2 653.0 L115.6 653.3 L116.2 653.0 L116.7 653.2 L117.1 653.4 L117.8 653.2 L118.2 653.6 L118.9 653.4 L119.1 654.0 L119.4 654.4 L119.9 654.5 L120.5 654.6 L120.9 654.9 L121.9 654.6 L121.5 655.6 L122.2 655.7 L122.4 656.1 L123.2 656.1 L122.9 656.9 L123.6 657.0 L123.6 657.6 L124.5 657.6 L124.2 658.3 L124.4 658.8 L124.8 659.1 L124.8 659.6 L124.8 660.1 L125.2 660.5 L125.3 660.9 L125.4 661.3 L126.7 661.5 L126.2 662.1 L126.8 662.5 L126.3 662.9 L126.3 663.3 L127.0 663.7 L127.2 664.2 L126.8 664.5 L127.1 664.9 L126.6 665.2 L126.6 665.6 L127.3 666.1 L126.7 666.4 L126.3 666.7 L125.6 666.9 L125.4 667.2 L125.0 667.5 L125.0 667.8 L125.1 668.3 L124.3 668.4 L124.1 668.7 L123.8 669.0 L123.3 669.2 L122.9 669.4 L122.4 669.7 L122.0 669.9 L121.5 670.1 L120.9 670.2 L121.5 671.3 L119.9 670.6 L119.6 671.0 L118.8 670.9 L118.2 671.3 L117.7 671.7 L117.3 672.2 L116.3 671.9 L115.6 671.9 L114.8 671.8 L114.1 671.7 L113.5 672.0 L112.9 672.3 L112.2 671.8 L111.6 672.2 L110.9 672.2 L110.3 671.8 L109.6 671.8 L109.0 671.5 L108.3 671.6 L107.6 671.6 L107.0 671.3 L105.8 671.8 L105.8 670.8 L104.8 670.9 L104.2 670.7 L103.4 670.6 L102.7 670.5 L102.6 669.9 L101.1 670.3 L101.5 669.6 L100.9 669.5 L100.3 669.4 L99.9 669.3 L99.1 669.4 L99.1 669.1 L98.3 669.2 L98.3 668.9 L98.0 668.8 L97.8 668.6 L97.1 668.6 L96.9 668.5 L96.6 668.4 L96.1 668.4 L96.0 668.2 L95.6 668.1 L95.4 668.0 L95.6 667.8 L95.3 667.7 L95.0 667.6Z" fill="#000" stroke="#000" stroke-width="0.6" stroke-linejoin="round"/>
<line x1="106.6" y1="587.5" x2="106.6" y2="714.9" stroke="#444" stroke-width="1"/>
<line x1="49.2" y1="666.2" x2="176.3" y2="666.2" stroke="#555" stroke-width="0.9"/>
<rect x="49.2" y="587.5" width="127.1" height="127.4" fill="none" stroke="#5c5c5c" stroke-width="0.9"/>
<line x1="48.8" y1="714.9" x2="176.7" y2="714.9" stroke="#111" stroke-width="1.2"/>
<line x1="49.2" y1="587.5" x2="49.2" y2="714.9" stroke="#444" stroke-width="0.9"/>
<line x1="49.2" y1="714.9" x2="49.2" y2="717.9" stroke="#111" stroke-width="1.2"/>
<text class="san" x="51.7" y="729.8" font-size="5.2" text-anchor="start" fill="#111">10<tspan dx="0.4" dy="-2.4" font-size="4.94">0</tspan></text>
<line x1="56.27" y1="714.9" x2="56.27" y2="716.5" stroke="#333" stroke-width="0.5"/>
<line x1="60.41" y1="714.9" x2="60.41" y2="716.5" stroke="#333" stroke-width="0.5"/>
<line x1="63.35" y1="714.9" x2="63.35" y2="716.5" stroke="#333" stroke-width="0.5"/>
<line x1="65.63" y1="714.9" x2="65.63" y2="716.5" stroke="#333" stroke-width="0.5"/>
<line x1="67.49" y1="714.9" x2="67.49" y2="716.5" stroke="#333" stroke-width="0.5"/>
<line x1="69.06" y1="714.9" x2="69.06" y2="716.5" stroke="#333" stroke-width="0.5"/>
<line x1="70.42" y1="714.9" x2="70.42" y2="716.5" stroke="#333" stroke-width="0.5"/>
<line x1="71.62" y1="714.9" x2="71.62" y2="716.5" stroke="#333" stroke-width="0.5"/>
<line x1="72.7" y1="714.9" x2="72.7" y2="717.9" stroke="#111" stroke-width="1.2"/>
<text class="san" x="69.4" y="729.8" font-size="5.2" text-anchor="start" fill="#111">10<tspan dx="0.4" dy="-2.4" font-size="4.94">1</tspan></text>
<line x1="79.77" y1="714.9" x2="79.77" y2="716.5" stroke="#333" stroke-width="0.5"/>
<line x1="83.91" y1="714.9" x2="83.91" y2="716.5" stroke="#333" stroke-width="0.5"/>
<line x1="86.85" y1="714.9" x2="86.85" y2="716.5" stroke="#333" stroke-width="0.5"/>
<line x1="89.13" y1="714.9" x2="89.13" y2="716.5" stroke="#333" stroke-width="0.5"/>
<line x1="90.99" y1="714.9" x2="90.99" y2="716.5" stroke="#333" stroke-width="0.5"/>
<line x1="92.56" y1="714.9" x2="92.56" y2="716.5" stroke="#333" stroke-width="0.5"/>
<line x1="93.92" y1="714.9" x2="93.92" y2="716.5" stroke="#333" stroke-width="0.5"/>
<line x1="95.12" y1="714.9" x2="95.12" y2="716.5" stroke="#333" stroke-width="0.5"/>
<line x1="96.2" y1="714.9" x2="96.2" y2="717.9" stroke="#111" stroke-width="1.2"/>
<text class="san" x="92.9" y="729.8" font-size="5.2" text-anchor="start" fill="#111">10<tspan dx="0.4" dy="-2.4" font-size="4.94">2</tspan></text>
<line x1="103.27" y1="714.9" x2="103.27" y2="716.5" stroke="#333" stroke-width="0.5"/>
<line x1="107.41" y1="714.9" x2="107.41" y2="716.5" stroke="#333" stroke-width="0.5"/>
<line x1="110.35" y1="714.9" x2="110.35" y2="716.5" stroke="#333" stroke-width="0.5"/>
<line x1="112.63" y1="714.9" x2="112.63" y2="716.5" stroke="#333" stroke-width="0.5"/>
<line x1="114.49" y1="714.9" x2="114.49" y2="716.5" stroke="#333" stroke-width="0.5"/>
<line x1="116.06" y1="714.9" x2="116.06" y2="716.5" stroke="#333" stroke-width="0.5"/>
<line x1="117.42" y1="714.9" x2="117.42" y2="716.5" stroke="#333" stroke-width="0.5"/>
<line x1="118.62" y1="714.9" x2="118.62" y2="716.5" stroke="#333" stroke-width="0.5"/>
<line x1="119.7" y1="714.9" x2="119.7" y2="717.9" stroke="#111" stroke-width="1.2"/>
<text class="san" x="116.4" y="729.8" font-size="5.2" text-anchor="start" fill="#111">10<tspan dx="0.4" dy="-2.4" font-size="4.94">3</tspan></text>
<line x1="126.77" y1="714.9" x2="126.77" y2="716.5" stroke="#333" stroke-width="0.5"/>
<line x1="130.91" y1="714.9" x2="130.91" y2="716.5" stroke="#333" stroke-width="0.5"/>
<line x1="133.85" y1="714.9" x2="133.85" y2="716.5" stroke="#333" stroke-width="0.5"/>
<line x1="136.13" y1="714.9" x2="136.13" y2="716.5" stroke="#333" stroke-width="0.5"/>
<line x1="137.99" y1="714.9" x2="137.99" y2="716.5" stroke="#333" stroke-width="0.5"/>
<line x1="139.56" y1="714.9" x2="139.56" y2="716.5" stroke="#333" stroke-width="0.5"/>
<line x1="140.92" y1="714.9" x2="140.92" y2="716.5" stroke="#333" stroke-width="0.5"/>
<line x1="142.12" y1="714.9" x2="142.12" y2="716.5" stroke="#333" stroke-width="0.5"/>
<line x1="143.2" y1="714.9" x2="143.2" y2="717.9" stroke="#111" stroke-width="1.2"/>
<text class="san" x="139.9" y="729.8" font-size="5.2" text-anchor="start" fill="#111">10<tspan dx="0.4" dy="-2.4" font-size="4.94">4</tspan></text>
<line x1="150.27" y1="714.9" x2="150.27" y2="716.5" stroke="#333" stroke-width="0.5"/>
<line x1="154.41" y1="714.9" x2="154.41" y2="716.5" stroke="#333" stroke-width="0.5"/>
<line x1="157.35" y1="714.9" x2="157.35" y2="716.5" stroke="#333" stroke-width="0.5"/>
<line x1="159.63" y1="714.9" x2="159.63" y2="716.5" stroke="#333" stroke-width="0.5"/>
<line x1="161.49" y1="714.9" x2="161.49" y2="716.5" stroke="#333" stroke-width="0.5"/>
<line x1="163.06" y1="714.9" x2="163.06" y2="716.5" stroke="#333" stroke-width="0.5"/>
<line x1="164.42" y1="714.9" x2="164.42" y2="716.5" stroke="#333" stroke-width="0.5"/>
<line x1="165.62" y1="714.9" x2="165.62" y2="716.5" stroke="#333" stroke-width="0.5"/>
<line x1="166.7" y1="714.9" x2="166.7" y2="717.9" stroke="#111" stroke-width="1.2"/>
<text class="san" x="163.4" y="729.8" font-size="5.2" text-anchor="start" fill="#111">10<tspan dx="0.4" dy="-2.4" font-size="4.94">5</tspan></text>
<line x1="173.77" y1="714.9" x2="173.77" y2="716.5" stroke="#333" stroke-width="0.5"/>
<line x1="46.2" y1="713.4" x2="49.2" y2="713.4" stroke="#111" stroke-width="1.2"/>
<text class="san" x="43" y="712.4" font-size="5.2" text-anchor="end" fill="#111">10<tspan dx="0.4" dy="-2.4" font-size="4.94">0</tspan></text>
<line x1="47.6" y1="708.3" x2="49.2" y2="708.3" stroke="#333" stroke-width="0.5"/>
<line x1="47.6" y1="705.31" x2="49.2" y2="705.31" stroke="#333" stroke-width="0.5"/>
<line x1="47.6" y1="703.2" x2="49.2" y2="703.2" stroke="#333" stroke-width="0.5"/>
<line x1="47.6" y1="701.55" x2="49.2" y2="701.55" stroke="#333" stroke-width="0.5"/>
<line x1="47.6" y1="700.21" x2="49.2" y2="700.21" stroke="#333" stroke-width="0.5"/>
<line x1="47.6" y1="699.08" x2="49.2" y2="699.08" stroke="#333" stroke-width="0.5"/>
<line x1="47.6" y1="698.09" x2="49.2" y2="698.09" stroke="#333" stroke-width="0.5"/>
<line x1="47.6" y1="697.23" x2="49.2" y2="697.23" stroke="#333" stroke-width="0.5"/>
<line x1="46.2" y1="696.45" x2="49.2" y2="696.45" stroke="#111" stroke-width="1.2"/>
<text class="san" x="43" y="698.05" font-size="5.2" text-anchor="end" fill="#111">10<tspan dx="0.4" dy="-2.4" font-size="4.94">1</tspan></text>
<line x1="47.6" y1="691.35" x2="49.2" y2="691.35" stroke="#333" stroke-width="0.5"/>
<line x1="47.6" y1="688.36" x2="49.2" y2="688.36" stroke="#333" stroke-width="0.5"/>
<line x1="47.6" y1="686.25" x2="49.2" y2="686.25" stroke="#333" stroke-width="0.5"/>
<line x1="47.6" y1="684.6" x2="49.2" y2="684.6" stroke="#333" stroke-width="0.5"/>
<line x1="47.6" y1="683.26" x2="49.2" y2="683.26" stroke="#333" stroke-width="0.5"/>
<line x1="47.6" y1="682.13" x2="49.2" y2="682.13" stroke="#333" stroke-width="0.5"/>
<line x1="47.6" y1="681.14" x2="49.2" y2="681.14" stroke="#333" stroke-width="0.5"/>
<line x1="47.6" y1="680.28" x2="49.2" y2="680.28" stroke="#333" stroke-width="0.5"/>
<line x1="46.2" y1="679.5" x2="49.2" y2="679.5" stroke="#111" stroke-width="1.2"/>
<text class="san" x="43" y="681.1" font-size="5.2" text-anchor="end" fill="#111">10<tspan dx="0.4" dy="-2.4" font-size="4.94">2</tspan></text>
<line x1="47.6" y1="674.4" x2="49.2" y2="674.4" stroke="#333" stroke-width="0.5"/>
<line x1="47.6" y1="671.41" x2="49.2" y2="671.41" stroke="#333" stroke-width="0.5"/>
<line x1="47.6" y1="669.3" x2="49.2" y2="669.3" stroke="#333" stroke-width="0.5"/>
<line x1="47.6" y1="667.65" x2="49.2" y2="667.65" stroke="#333" stroke-width="0.5"/>
<line x1="47.6" y1="666.31" x2="49.2" y2="666.31" stroke="#333" stroke-width="0.5"/>
<line x1="47.6" y1="665.18" x2="49.2" y2="665.18" stroke="#333" stroke-width="0.5"/>
<line x1="47.6" y1="664.19" x2="49.2" y2="664.19" stroke="#333" stroke-width="0.5"/>
<line x1="47.6" y1="663.33" x2="49.2" y2="663.33" stroke="#333" stroke-width="0.5"/>
<line x1="46.2" y1="662.55" x2="49.2" y2="662.55" stroke="#111" stroke-width="1.2"/>
<text class="san" x="43" y="664.15" font-size="5.2" text-anchor="end" fill="#111">10<tspan dx="0.4" dy="-2.4" font-size="4.94">3</tspan></text>
<line x1="47.6" y1="657.45" x2="49.2" y2="657.45" stroke="#333" stroke-width="0.5"/>
<line x1="47.6" y1="654.46" x2="49.2" y2="654.46" stroke="#333" stroke-width="0.5"/>
<line x1="47.6" y1="652.35" x2="49.2" y2="652.35" stroke="#333" stroke-width="0.5"/>
<line x1="47.6" y1="650.7" x2="49.2" y2="650.7" stroke="#333" stroke-width="0.5"/>
<line x1="47.6" y1="649.36" x2="49.2" y2="649.36" stroke="#333" stroke-width="0.5"/>
<line x1="47.6" y1="648.23" x2="49.2" y2="648.23" stroke="#333" stroke-width="0.5"/>
<line x1="47.6" y1="647.24" x2="49.2" y2="647.24" stroke="#333" stroke-width="0.5"/>
<line x1="47.6" y1="646.38" x2="49.2" y2="646.38" stroke="#333" stroke-width="0.5"/>
<line x1="46.2" y1="645.6" x2="49.2" y2="645.6" stroke="#111" stroke-width="1.2"/>
<text class="san" x="43" y="647.2" font-size="5.2" text-anchor="end" fill="#111">10<tspan dx="0.4" dy="-2.4" font-size="4.94">4</tspan></text>
<line x1="47.6" y1="640.5" x2="49.2" y2="640.5" stroke="#333" stroke-width="0.5"/>
<line x1="47.6" y1="637.51" x2="49.2" y2="637.51" stroke="#333" stroke-width="0.5"/>
<line x1="47.6" y1="635.4" x2="49.2" y2="635.4" stroke="#333" stroke-width="0.5"/>
<line x1="47.6" y1="633.75" x2="49.2" y2="633.75" stroke="#333" stroke-width="0.5"/>
<line x1="47.6" y1="632.41" x2="49.2" y2="632.41" stroke="#333" stroke-width="0.5"/>
<line x1="47.6" y1="631.28" x2="49.2" y2="631.28" stroke="#333" stroke-width="0.5"/>
<line x1="47.6" y1="630.29" x2="49.2" y2="630.29" stroke="#333" stroke-width="0.5"/>
<line x1="47.6" y1="629.43" x2="49.2" y2="629.43" stroke="#333" stroke-width="0.5"/>
<line x1="46.2" y1="628.65" x2="49.2" y2="628.65" stroke="#111" stroke-width="1.2"/>
<text class="san" x="43" y="630.25" font-size="5.2" text-anchor="end" fill="#111">10<tspan dx="0.4" dy="-2.4" font-size="4.94">5</tspan></text>
<line x1="47.6" y1="623.55" x2="49.2" y2="623.55" stroke="#333" stroke-width="0.5"/>
<line x1="47.6" y1="620.56" x2="49.2" y2="620.56" stroke="#333" stroke-width="0.5"/>
<line x1="47.6" y1="618.45" x2="49.2" y2="618.45" stroke="#333" stroke-width="0.5"/>
<line x1="47.6" y1="616.8" x2="49.2" y2="616.8" stroke="#333" stroke-width="0.5"/>
<line x1="47.6" y1="615.46" x2="49.2" y2="615.46" stroke="#333" stroke-width="0.5"/>
<line x1="47.6" y1="614.33" x2="49.2" y2="614.33" stroke="#333" stroke-width="0.5"/>
<line x1="47.6" y1="613.34" x2="49.2" y2="613.34" stroke="#333" stroke-width="0.5"/>
<line x1="47.6" y1="612.48" x2="49.2" y2="612.48" stroke="#333" stroke-width="0.5"/>
<line x1="46.2" y1="611.7" x2="49.2" y2="611.7" stroke="#111" stroke-width="1.2"/>
<text class="san" x="43" y="613.3" font-size="5.2" text-anchor="end" fill="#111">10<tspan dx="0.4" dy="-2.4" font-size="4.94">6</tspan></text>
<line x1="47.6" y1="606.6" x2="49.2" y2="606.6" stroke="#333" stroke-width="0.5"/>
<line x1="47.6" y1="603.61" x2="49.2" y2="603.61" stroke="#333" stroke-width="0.5"/>
<line x1="47.6" y1="601.5" x2="49.2" y2="601.5" stroke="#333" stroke-width="0.5"/>
<line x1="47.6" y1="599.85" x2="49.2" y2="599.85" stroke="#333" stroke-width="0.5"/>
<line x1="47.6" y1="598.51" x2="49.2" y2="598.51" stroke="#333" stroke-width="0.5"/>
<line x1="47.6" y1="597.38" x2="49.2" y2="597.38" stroke="#333" stroke-width="0.5"/>
<line x1="47.6" y1="596.39" x2="49.2" y2="596.39" stroke="#333" stroke-width="0.5"/>
<line x1="47.6" y1="595.53" x2="49.2" y2="595.53" stroke="#333" stroke-width="0.5"/>
<line x1="46.2" y1="594.75" x2="49.2" y2="594.75" stroke="#111" stroke-width="1.2"/>
<text class="san" x="43" y="596.35" font-size="5.2" text-anchor="end" fill="#111">10<tspan dx="0.4" dy="-2.4" font-size="4.94">7</tspan></text>
<line x1="47.6" y1="589.65" x2="49.2" y2="589.65" stroke="#333" stroke-width="0.5"/>
<text class="ser" x="114.8" y="582.2" font-size="9.2" text-anchor="middle" fill="#3c3c3c" stroke-width="0.1" stroke="#444">mimic NC</text>
<text class="ser" x="77.2" y="620.6" font-size="9.2" text-anchor="middle" fill="#3c3c3c" stroke-width="0.1" stroke="#444">SM</text>
<text class="ser" x="77.2" y="631.9" font-size="9.2" text-anchor="middle" fill="#3c3c3c" stroke-width="0.1" stroke="#444">9.1%</text>
<text class="ser" x="142" y="619.8" font-size="9.2" text-anchor="middle" fill="#3c3c3c" stroke-width="0.1" stroke="#444">UM</text>
<text class="ser" x="142" y="632.6" font-size="9.2" text-anchor="middle" fill="#3c3c3c" stroke-width="0.1" stroke="#444">41.6%</text>
<text class="ser" x="78.9" y="690.3" font-size="9.2" text-anchor="middle" fill="#3c3c3c" stroke-width="0.1" stroke="#444">DN</text>
<text class="ser" x="78.9" y="701.4" font-size="9.2" text-anchor="middle" fill="#3c3c3c" stroke-width="0.1" stroke="#444">8.5%</text>
<text class="ser" x="143.4" y="688.8" font-size="9.2" text-anchor="middle" fill="#3c3c3c" stroke-width="0.1" stroke="#444">naive</text>
<text class="ser" x="143.4" y="700.4" font-size="9.2" text-anchor="middle" fill="#3c3c3c" stroke-width="0.1" stroke="#444">40.8%</text>
<line x1="25.2" y1="740.3" x2="25.2" y2="677.7" stroke="#222" stroke-width="1"/>
<line x1="24.7" y1="739.8" x2="88" y2="739.8" stroke="#222" stroke-width="1"/>
<path d="M25.2 671.7 l3.6 7.4 h-7.2 Z" fill="#000"/>
<path d="M94 739.8 l-7.4 -3.6 v7.2 Z" fill="#000"/>
<text class="ser" x="22.4" y="712.7" font-size="9.2" text-anchor="middle" fill="#111" transform="rotate(-90 22.4 712.7)">CD27</text>
<text class="ser" x="43.9" y="752" font-size="9.2" fill="#111">IgD</text>
<path d="M233.1 631.8h0m66 6.3h0m-5.2 3.1h0m4.3-.1h0m3.4 .7h0m-20.6 3h0m.7 1.7h0m2.2-1h0m3.9 .6h0m12.7-.2h0m2 1.5h0m4.1-1.4h0m2.5 .5h0m8.8-1.2h0m-38.8 5.1h0m12.7 .1h0m1.3-.6h0m2 .8h0m.8-.7h0m2.2 .9h0m.3-1h0m.3-1.4h0m4.2 .9h0m6.5 .8h0m-38.4 1h0m11.1 1.7h0m6.3-.3h0m1.7 .8h0m4.5-.1h0m3.9-.5h0m2.5 .9h0m1.1-.9h0m-22.1 2.5h0m.7 .2h0m2.6-.2h0m.6-.4h0m.1-.3h0m1.1 0h0m.9 1.7h0m.7 .3h0m4.2-1.8h0m1.7 .8h0m1.5-.8h0m.4 .9h0m.3-1.3h0m2.6 .3h0m5 1.5h0m5.5-1.5h0m.1-.7h0m1.9 2.3h0m3.6-1.1h0m-56.1 3.1h0m2.1-1.1h0m5.2 1.3h0m5.7 1.1h0m1.5 0h0m4.1-.8h0m3.9 .5h0m.4-.8h0m3.4-.5h0m.5 .7h0m.4-.5h0m.6 1.2h0m5.8-.5h0m3.2 .3h0m1.8 .6h0m.6-2.4h0m.6 1.6h0m1.5-1.8h0m.3-.1h0m.7 1.2h0m.1-.9h0m1.3 .5h0m5.4 .4h0m-58.5 2.9h0m12.1 .1h0m3.1 1.2h0m2.6-2.4h0m.9 2.3h0m2.5 .2h0m3-.4h0m1.9-1.5h0m4.6 1.9h0m.4 .3h0m.4-2.8h0m.3-.1h0m1.7 2h0m.2 0h0m.1-.2h0m1.7-.6h0m1.8 1.5h0m2.8-1.8h0m3.2 .1h0m1 1.6h0m1 0h0m1.4-2h0m.7 .7h0m3.5 .2h0m2.1 .6h0m3.3 .2h0m-54.3 1.9h0m10.1-.4h0m4.2 .7h0m.4 .9h0m1.6-.2h0m1.1-2.2h0m2.7 .2h0m2.2 .3h0m.2-.1h0m3.6 1.9h0m.3-2.1h0m.4 2.4h0m.8-.2h0m.3-.1h0m.4 .1h0m1.2 .1h0m.5-2.4h0m.1 1.3h0m.1 1.4h0m1.1-.4h0m.1-1.9h0m.7 1.1h0m.1 .5h0m.8-1.2h0m1.4 .2h0m1 .2h0m1.7-.3h0m.3 .3h0m.2-1.2h0m1.8 2.1h0m1.2-1.7h0m4.2 .5h0m1.2-.8h0m1.7 .4h0m1.7 2.2h0m1.5-.4h0m2.3 .1h0m.6-.4h0m-61.8 3.7h0m7.8-1.6h0m1.8 1h0m5.9 .2h0m.6-1.3h0m5.6 1.2h0m1.7-1.4h0m1.2-.8h0m.3 .8h0m1.5-.1h0m2.3-.6h0m2.4 2.5h0m1.2-2.4h0m.4 2.3h0m.5-2.3h0m.3 1.3h0m.8-.5h0m.3 1.8h0m.1-.1h0m3.2-1.4h0m.8 .6h0m0 .7h0m1.2-.3h0m.9 .5h0m1.5-.9h0m.6-.4h0m1.2-1.2h0m2.4 .4h0m5.7 1.1h0m4.3 .4h0m.3-.9h0m1.1 1.2h0m-59.6 .7h0m1.1 2.2h0m7.4-1.5h0m8.8-.2h0m2.1 .1h0m.6-.9h0m1.8 1.1h0m1.5 .3h0m.5-.5h0m1.1-.9h0m2.1 .3h0m3.4-.2h0m6.9 .4h0m1.8-.3h0m.5 1.1h0m4.7 .4h0m0-1.2h0m3.3 1.3h0m.2-.6h0m2.7 .2h0m3.2 1.2h0m.2-1.2h0m.3-.9h0m.1 1.9h0m1.4-1.1h0m7.3 1h0m-62 2.9h0m1.9-1.6h0m7.8 2.1h0m4.2-2.5h0m.5 1.4h0m5.7-.8h0m.5 .4h0m3.9-.3h0m.2 1.1h0m2 .3h0m1.3 .1h0m2.6-.5h0m.3-.9h0m1.2 .2h0m2.8 .7h0m.3-.2h0m.5 .7h0m1.6-1.7h0m.7 2h0m1-.2h0m.3-.9h0m3.8-.6h0m1.2-.8h0m4.4 0h0m.1-.1h0m.4 .8h0m1.3 .1h0m.7 .2h0m2.4 1.6h0m-52.3 2h0m4.8-.7h0m2.3-.6h0m0-.3h0m.3 1.4h0m2-.5h0m1.7-.5h0m4.8-.6h0m1.3 1.8h0m1.7-.4h0m3.5-1.1h0m10 0h0m0 .3h0m.6-.5h0m2.4 .9h0m.6-.5h0m.1 1.5h0m.2-1.1h0m3.2-.6h0m1.2-.2h0m3.4 .4h0m4.6 1.3h0m-42.7 3.5h0m9.7 .1h0m20.1-1.8h0m4.1 1.6h0m7.9-1.2h0m1 1h0m7.8 .2h0m-48 2.4h0m3.6-.2h0m.8 .4h0m3.5-.1h0m2-1.7h0m1.3 2.6h0m9.1-.9h0m3.3 .8h0m16.4-1.8h0m-50.6 2.7h0m11.8 .8h0m3.7 1.7h0m6.7-2.6h0m24.8 .6h0m-16.2 2.7h0m-26.2 3.2h0m8.8 2.1h0m-7.5 5.8h0m13.6-2.7h0" stroke="#000" stroke-width="0.6" stroke-linecap="square" fill="none"/>
<path d="M278.7 647.3h0m2.3-2h0m5 5.3h0m-10.9 1.6h0m1.4 .2h0m.7 1.4h0m.5 .1h0m.6-1.2h0m.1 .5h0m.4 .3h0m.5 .3h0m.6-.3h0m.3 .4h0m.3-.4h0m.2-.5h0m0 .2h0m.1-.3h0m0 .8h0m.2-.4h0m.1-1.3h0m.1 .2h0m.1 1.6h0m.1 .1h0m.2-1h0m.4 1h0m0-1.8h0m.1-.5h0m.1-.3h0m.4 2.6h0m0 0h0m.2-.3h0m.1-2.2h0m0-.4h0m0 2.2h0m.1 0h0m.1-.3h0m0 .7h0m.3-.5h0m.5 .7h0m.8-.1h0m.2 .1h0m.5-1.2h0m.1 .4h0m0-1h0m.1 .5h0m.2 .9h0m.1-.6h0m.5 .3h0m2.9 .3h0m2.6 .3h0m5.8-.2h0m-23.8 2.5h0m1.5-.6h0m.3-1.4h0m.3 2.4h0m.1 .3h0m.1 .2h0m.3-.3h0m.1-.6h0m.1-1.3h0m.2 1.1h0m.1-1.3h0m.2 .3h0m.2 1.4h0m.2 0h0m0-.8h0m.1 1.1h0m.3-1.2h0m0 1.3h0m.3-2.2h0m.1 1.6h0m.2-.8h0m.2 .2h0m0-.1h0m.1-1h0m.1 2h0m.1-.5h0m0-1.6h0m.3 .7h0m.1 2h0m0-.7h0m0-.9h0m.2-1h0m.2-.3h0m.2 1h0m.2 0h0m.2 1.7h0m.1-2.5h0m0 .7h0m.2 .3h0m.2-1.2h0m.3 .5h0m.3-.5h0m.1 .5h0m.3 .2h0m.8 0h0m.1-.4h0m.2 1.2h0m.8-.7h0m0-.7h0m.8 1h0m.1-1h0m.3 1.1h0m0-.1h0m0-.9h0m0 .9h0m.1-1.1h0m.3 2.5h0m0-1.6h0m.1 .4h0m.2 .2h0m.1-1.4h0m.1 .9h0m.1 1.6h0m.1-2.5h0m0 .9h0m.2-.1h0m0 .6h0m.2 1.1h0m.5-2.1h0m.1 .4h0m.2-.2h0m.2 1.1h0m0 .6h0m0-1h0m.1-.8h0m.1 2.1h0m.1-1.3h0m.1 .1h0m0 .8h0m.1-1.8h0m.1-.4h0m.2 1.2h0m.2 .2h0m.6 .6h0m0 .3h0m.2-.5h0m.1-1h0m.2 1.8h0m.5-1.2h0m1.1 0h0m.1 1.3h0m0 .1h0m.1-.5h0m.5 .1h0m.2 .2h0m.6-.2h0m0 .4h0m.2-.4h0m1.6-.6h0m.2 .9h0m2.3-.8h0m-27.1 1.9h0m1.8 1.3h0m1.3-.9h0m.2-.7h0m.4 .5h0m.4 1.2h0m.1 .2h0m.2-2.3h0m.2 .2h0m0 2h0m.1-.5h0m0-1.9h0m.1 1.8h0m.1-.6h0m0-1.1h0m.7 .9h0m0-.9h0m.1 1.9h0m0-1.1h0m.1 1h0m.2-.7h0m0-.3h0m0-.7h0m.2 .5h0m.1-.2h0m.4 .4h0m.1 .8h0m.1-.9h0m.2-.5h0m.2 1h0m.3-.1h0m.5-.5h0m9-.6h0m.1 .4h0m.6 .6h0m.4-1.1h0m0 .5h0m.6-.1h0m.4-.2h0m.5 1.9h0m.1-1.7h0m.2 .4h0m.1-.3h0m.1-.3h0m.1 1.4h0m.5-1.6h0m0 1.4h0m0-1.1h0m.3-.2h0m.1 1.8h0m.1-1.8h0m.2 .6h0m.3 .5h0m.2 1.5h0m.1-2.2h0m.3 0h0m.1 .2h0m.7 2.1h0m.1-.4h0m.1-1.1h0m0 1.2h0m0 .3h0m.2-.1h0m.2-1.1h0m.2 .2h0m.1 .4h0m.1-1.5h0m0 .6h0m.6 .3h0m.1 1.2h0m.1-.6h0m.1-.7h0m.2 .1h0m0 .4h0m.3-1.8h0m.3-.2h0m.2 2.2h0m.2-.9h0m.1 .8h0m.1-1h0m.5 1.7h0m.6-2.5h0m.2 .3h0m-30.4 4.2h0m.4 1.1h0m1-1.4h0m.7-.8h0m.1 .5h0m.5 1.7h0m.1-1.6h0m.4 1h0m0 .4h0m.1-.6h0m.1 .7h0m.1 .1h0m.2-1.3h0m.2-.5h0m.2 0h0m.2 1.7h0m.1-2h0m.3 1.3h0m.3-1.1h0m.1-.8h0m.1 2.2h0m0-.8h0m0-1.4h0m.1 2.5h0m0-2.3h0m.1-.2h0m.3 1.7h0m.1-.6h0m0-.5h0m.8-.5h0m.1 .1h0m0-.1h0m.1 2.2h0m.4-1.8h0m.1-.3h0m.1 .7h0m0-.3h0m.8-.6h0m18.1-.1h0m1.3 .2h0m.1 0h0m0 0h0m.2-.1h0m.1 .8h0m.1-.6h0m.2 .1h0m0 2.3h0m.2-2.3h0m.1-.4h0m.1 1.4h0m.1-1.2h0m0 .2h0m.2-.5h0m.3 1.8h0m.2-1.4h0m0 2h0m.1-1.6h0m.2 1.8h0m0-.7h0m.1-.1h0m0-.5h0m.2-.1h0m.1 .6h0m.1-1.7h0m0 .3h0m0 1.1h0m0-.5h0m.2-.2h0m0 .7h0m.1-1.4h0m.1 2.3h0m0-.1h0m.3 .1h0m.1-.9h0m.2 1.1h0m0-.6h0m.1-1.9h0m.5 1.5h0m0 .4h0m.1 .6h0m0-1.3h0m0 .2h0m0 .3h0m.1 .6h0m.1-1.8h0m.3 1.7h0m0 0h0m.2-1.3h0m0 .5h0m.3-.5h0m.1 .8h0m.2 .5h0m1.5 .2h0m.3-1.2h0m1.9-.8h0m2.7 1.5h0m-41.9 1.9h0m2 1.8h0m.1-1.7h0m.2-.3h0m.1 2h0m.7 0h0m.2 .1h0m.4-1.2h0m.1 0h0m.1 1.3h0m.2-2.3h0m.2 1.8h0m0-.8h0m.4-1.2h0m.1-.4h0m0 .6h0m.1 1.9h0m.2 .1h0m.3-.6h0m.2-1.7h0m.1-.3h0m.2 .8h0m0-.4h0m.2 .2h0m.1 .9h0m.1-1.3h0m.2 2.3h0m.2-2.4h0m0-.1h0m0 .1h0m.3 1.3h0m.4-1.3h0m.5 .2h0m25.8 .1h0m.8-.3h0m.6 0h0m.2 1.6h0m0-1.3h0m.1 .6h0m.1-1h0m0 1.7h0m0-1.2h0m.1 .1h0m.2-.3h0m.1 1.9h0m.1-1.4h0m.1 1.3h0m.1-.6h0m.2-1.5h0m.1 .9h0m.1-.6h0m0 .8h0m.2-.3h0m.2 .1h0m.2 1h0m.2 .3h0m.1 .2h0m0-1.1h0m0 .7h0m.1-1.1h0m0 .9h0m.2 .5h0m0-2.2h0m0 2.5h0m.1-2.2h0m0 .7h0m0 1.5h0m.2-.8h0m.4 1.1h0m.1-.8h0m.2 .5h0m0 .2h0m.1-.7h0m.1-.2h0m.1 .3h0m.2-.5h0m.1-.2h0m.1 1h0m.8 .1h0m1.7 .3h0m-47.2 3h0m1.6 0h0m.4 0h0m.8-.5h0m.4-.6h0m.1 0h0m.2 1h0m.1-.1h0m.4-.2h0m.1-1.2h0m.3 1.3h0m.2-1h0m0 .2h0m.3 .6h0m0 .5h0m0 0h0m0-1.8h0m.2 1.3h0m0-1.4h0m.2 1h0m0 .3h0m.1-1.2h0m.3 1.6h0m0-.7h0m.1 .6h0m.2-1.2h0m.1 .3h0m.2-.2h0m.1-.6h0m.2 .8h0m.1 .9h0m0-.3h0m.1 .1h0m.1-.9h0m.1-1h0m0 1.1h0m.2-1.2h0m0 1.2h0m.1-.3h0m0-.3h0m.1 1.5h0m.2-1.6h0m.1-.1h0m0 .5h0m.1 .8h0m.2-1.6h0m0 2h0m0-.7h0m.1-1.1h0m.3-.5h0m0 .5h0m.2-.1h0m.1 0h0m0 .4h0m0-.7h0m0 .1h0m.1 1h0m0-1.2h0m.1-.1h0m0 1.1h0m.4 0h0m1.1-.4h0m31.4 2h0m.4-1.5h0m0 .7h0m.1-.2h0m0-.3h0m.2 .1h0m.1-1.4h0m.1-.2h0m0 .4h0m.2 2.2h0m.1-1.4h0m.1 .4h0m.1 0h0m.3-1.3h0m.1 2.3h0m.3 .2h0m0-.9h0m0-.6h0m.2 .4h0m.2-1.1h0m.2 1.1h0m0 .6h0m.1 0h0m0-.4h0m.1 .6h0m0-.4h0m.1 .2h0m0-.5h0m.2 .5h0m0-1.4h0m0 1h0m.1 .4h0m0 .5h0m.1-1.3h0m.1-.6h0m.5 .9h0m0 .5h0m.1-1.3h0m.1 1.8h0m.1-.3h0m.4 .1h0m.7-1.5h0m.3-.5h0m.6 .1h0m1.7 1.1h0m1.1-1.8h0m-51.7 5.4h0m.2-.7h0m.1-.3h0m.7 1.1h0m.1-.5h0m.2-.6h0m.2 .5h0m.5-1.1h0m0-.2h0m.2 .1h0m.1 1.7h0m0-1.2h0m.1-1.1h0m.3 1.6h0m0 .8h0m.1-1.4h0m.3 1.1h0m.1-.7h0m0-.6h0m.2 .6h0m.1-.8h0m.1 2h0m0-2.6h0m0 .6h0m.1 1.6h0m0 .2h0m.1-.7h0m0 .3h0m0-1.8h0m.1 0h0m.1 .6h0m.1 1h0m.1-.8h0m0 1.2h0m.1-1.6h0m0 2.1h0m0-1.3h0m0-1.2h0m0 .8h0m.1-.2h0m0-.4h0m0 .1h0m.2-.5h0m0 2.4h0m0 .1h0m.1-1.9h0m0 1.8h0m0-1.8h0m0 1.9h0m.3-.3h0m.1-1.5h0m.1 1.3h0m0-1.2h0m0 1.1h0m.2-1.7h0m0 1.3h0m0 .6h0m0 .7h0m.1-2.9h0m.1 2.7h0m0-.1h0m.1-1.6h0m.2 1.1h0m.4-.1h0m.1-2h0m.1 1.6h0m0 .6h0m.1 .2h0m.1-.5h0m0 1h0m.1-.8h0m0 0h0m0-1.6h0m.1-.5h0m0 2h0m0-.1h0m0 .9h0m.8-.5h0m.3 .1h0m1.2-.2h0m.4-.3h0m0 .2h0m.3 .2h0m0 .5h0m.8-.5h0m25.7 .3h0m2.5 .2h0m.4-.2h0m.3-.1h0m.5 0h0m.1-.7h0m.2 .7h0m.1-1.1h0m.3 1.2h0m.1-.2h0m0-.5h0m.2 .5h0m0 .2h0m.1-.6h0m.3 .9h0m.3-.5h0m0 .2h0m.2-2.4h0m.1 2h0m0-.7h0m.5-.4h0m0 1.3h0m.1-2.4h0m0 2.4h0m.1-.2h0m0 .7h0m.4-1.8h0m0 1.1h0m.1-.7h0m.1-.2h0m0 .9h0m.2-1.6h0m.1 1h0m.1-1h0m.3 .6h0m0 1.7h0m.1-1.7h0m0-.6h0m.1 1.7h0m.1-1h0m0-1.3h0m.1 1.3h0m.1 .5h0m.1-1.7h0m0 1.9h0m.1-.9h0m0 .7h0m0-.6h0m.1-1.1h0m.2 1.4h0m.1 1.1h0m.1-2.1h0m.1 .8h0m.2 .4h0m.2-1.2h0m0 .1h0m0 .5h0m.1-.8h0m0 1.8h0m.1-1.9h0m0 .3h0m0 .7h0m.1-1.1h0m.3 .5h0m.1-.2h0m.6 .1h0m.2 .9h0m0 .3h0m1.1-.5h0m.1 .7h0m3.6 .8h0m-50.5 1.2h0m1.5 .3h0m.3-.7h0m.4 .1h0m.4 1.8h0m.9-2.4h0m.2 .2h0m.2 1.3h0m.2-1.5h0m.3 .1h0m.1 .5h0m.1 .4h0m.2-.6h0m0 1h0m.4-.5h0m0-.5h0m.5 .7h0m.1-.5h0m.2-.3h0m.2 .2h0m0-.4h0m.2 1.7h0m0-1h0m.1-.2h0m.2 1.9h0m.2-1.8h0m.2 1.4h0m.1-2.1h0m.1 1h0m.1 .3h0m.1-.2h0m.1-.7h0m.3 .3h0m.2 .4h0m.4-.9h0m0 1.7h0m.3-1.1h0m.1 .7h0m.1-.4h0m.2-.5h0m0 .7h0m.1-.4h0m0-.4h0m0 .5h0m.3 1h0m0-.8h0m.2-.3h0m0 .9h0m.4-.6h0m0-.4h0m.1 .3h0m.1 .5h0m0 .1h0m.1 .9h0m.4-1.7h0m0 .4h0m.2-.6h0m.1 .4h0m.1-.5h0m.1 1.4h0m0-.7h0m.1-1.2h0m.2 .9h0m0 1.2h0m.1 0h0m0-1h0m.1 .2h0m.1-.8h0m.2 .3h0m.1-.4h0m.1 .9h0m.1 .1h0m.1 .8h0m0-1h0m.3 .9h0m.2 .1h0m.1 .6h0m0-1.3h0m.2-.9h0m.1-.6h0m.2 2h0m0 .4h0m0 .1h0m.2-.7h0m0 .7h0m.1-1.7h0m.3 .9h0m.1-1.4h0m0-.1h0m.1 1h0m.1-.3h0m.1 1.4h0m.1-.5h0m.1-.6h0m0 0h0m.2 .6h0m0-.6h0m.1 .3h0m.6 .7h0m0-1.1h0m.1 .8h0m.3 .3h0m.3 .4h0m.4-.7h0m.3-.5h0m.7 0h0m0 .9h0m.5 .1h0m.9-.6h0m.6 .1h0m2 .7h0m.3-.3h0m.3 0h0m.2-.4h0m.7 .9h0m.8-.1h0m.1 0h0m.1-1.4h0m.5 1.3h0m1.2-1h0m.5 .7h0m.6 .3h0m.4-.3h0m.3 .1h0m.5-1.1h0m.1 .5h0m.1-.2h0m.1 .9h0m.1-2.3h0m.4 .4h0m.1 .9h0m.2 .6h0m.2 .1h0m.8 .2h0m.6-.3h0m.2 0h0m.1 0h0m.1 .3h0m.1-.7h0m.1 .6h0m.1-.5h0m.1 .6h0m.3 .4h0m.2-.1h0m.1-1.7h0m0 1.4h0m.4-.2h0m0-.6h0m.1 .1h0m.3 .4h0m.4 .2h0m0-.1h0m.2-1.2h0m.5 0h0m0 1.1h0m.1-1.3h0m.1 .8h0m.2 .4h0m.1-.1h0m.3-.1h0m.1-1.6h0m.2 2.1h0m.2-2.4h0m.1 1.9h0m.1-.6h0m0 .4h0m.2 1.1h0m.1-.7h0m.3-.5h0m0-.8h0m0-.5h0m.1 .8h0m.2 .7h0m0-1.6h0m.7 .9h0m.1-.9h0m.3 1.2h0m.1 .9h0m.1-1.4h0m.2 .5h0m.1 .8h0m.3-2h0m.1 2.4h0m.1-2.4h0m.1 .2h0m.2 1.4h0m.2-1.7h0m.4 1.2h0m.3 .2h0m0-.7h0m.1 .1h0m1-.7h0m.5-.2h0m.8 .1h0m.6-.1h0m4.1 .4h0m-43.8 4.9h0m3.3-.4h0m4 .4h0m.1-2.1h0m.8 .4h0m.7-.5h0m.2 1.8h0m1.1-1.9h0m.6 .4h0m.4 0h0m.3 .5h0m.4-.7h0m.1-.2h0m.1 1.4h0m.7-1.2h0m.5 .2h0m.2-.4h0m.1 .7h0m.1-.2h0m.1 2.2h0m.3-1.6h0m.4 .8h0m0-1.2h0m.3 1.1h0m.2-1.6h0m.5 0h0m.1 1.6h0m.5 .2h0m.3-1.9h0m.5 .6h0m0-.4h0m.5 .3h0m0 0h0m.1-.4h0m.1 .2h0m1.2 .1h0m.1 .3h0m.1 1.7h0m.2-.5h0m.2 .5h0m.2-2h0m.4 .3h0m.2 1h0m.6-.8h0m.3-.3h0m.1-.1h0m.4-.2h0m.8 1.1h0m0-.7h0m.2-.8h0m.3 .3h0m.1 2.4h0m1.1-2.6h0m.3 1.9h0m.1-1.9h0m.3 .7h0m0-.1h0m.6-.4h0m0 2.3h0m.3-2.1h0m.2-.1h0m.5 2.2h0m.1-2.2h0m.7 .6h0m.2-.3h0m.6-.3h0m0 .1h0m.6 0h0m.4 1.2h0m.4-1.4h0m.2-.1h0m.2 1.1h0m3.2-1.1h0m-17 5h0m3.9-2h0m2.5 2.3h0m.4-1.7h0m2.9 .4h0m-22.6 2.4h0" stroke="#000" stroke-width="0.6" stroke-linecap="square" fill="none"/>
<path d="M263.7 669.8 L264.5 669.5 L264.2 669.4 L265.0 669.1 L265.4 668.8 L266.1 668.6 L266.4 668.3 L266.6 668.1 L267.8 667.7 L268.4 667.4 L268.7 667.1 L269.3 666.7 L269.6 666.3 L270.1 665.9 L270.1 665.4 L270.9 665.0 L271.6 664.6 L271.9 664.1 L272.2 663.6 L272.8 663.2 L273.4 662.8 L273.1 662.1 L273.9 661.7 L274.0 661.1 L274.7 660.8 L275.0 660.2 L275.4 659.8 L275.7 659.2 L275.9 658.6 L276.5 658.3 L276.9 657.8 L277.5 657.6 L277.7 656.8 L278.4 656.7 L278.9 656.2 L279.5 655.9 L280.1 655.7 L280.5 655.0 L281.0 654.8 L281.6 654.7 L282.0 654.5 L282.5 654.0 L283.1 654.7 L283.6 654.8 L284.1 655.3 L284.6 655.3 L285.1 655.2 L285.6 655.8 L286.1 656.3 L286.8 656.0 L287.1 656.9 L287.7 657.0 L288.1 657.3 L288.7 657.4 L289.2 657.7 L289.6 658.1 L290.1 658.4 L290.6 658.6 L291.4 658.6 L292.2 658.6 L292.1 659.4 L292.8 659.5 L293.1 659.9 L293.9 659.9 L294.1 660.4 L294.6 660.7 L295.4 660.8 L295.7 661.1 L296.1 661.4 L297.0 661.5 L297.3 661.8 L297.7 662.1 L298.9 662.2 L298.4 662.7 L299.0 663.0 L299.4 663.3 L299.7 663.6 L300.1 663.9 L300.7 664.1 L301.0 664.4 L302.0 664.7 L301.8 665.0 L301.7 665.3 L302.0 665.6 L302.6 665.9 L302.9 666.2 L302.7 666.5 L303.1 666.8 L303.8 667.2 L303.5 667.4 L303.2 667.7 L304.0 668.1 L303.3 668.4 L303.2 668.7 L302.8 669.0 L303.1 669.4 L303.7 669.8 L302.2 669.9 L301.9 670.2 L302.0 670.6 L302.0 670.9 L300.8 671.0 L300.6 671.3 L299.8 671.4 L299.5 671.7 L299.0 671.9 L298.0 672.0 L297.5 672.3 L296.7 672.3 L296.3 672.7 L296.2 673.2 L294.8 672.9 L294.0 673.0 L293.3 673.2 L293.0 673.8 L292.2 673.9 L291.2 673.9 L290.4 673.9 L289.6 674.1 L288.7 674.0 L288.0 674.2 L287.3 674.8 L286.3 674.4 L285.5 674.7 L284.6 674.6 L283.7 674.0 L282.7 674.8 L281.9 674.4 L280.9 674.4 L280.1 674.2 L279.6 673.7 L278.8 673.8 L277.8 673.9 L277.5 673.4 L276.6 673.4 L276.2 673.0 L275.2 673.1 L274.7 672.9 L273.8 672.9 L272.7 673.0 L272.5 672.6 L271.7 672.6 L271.3 672.4 L270.8 672.2 L270.6 672.0 L269.9 672.0 L269.2 672.0 L269.0 671.7 L268.1 671.8 L268.1 671.5 L267.4 671.4 L267.1 671.3 L266.5 671.2 L265.8 671.1 L265.7 670.8 L265.0 670.7 L265.0 670.5 L264.5 670.4 L264.0 670.2 L264.0 670.0Z" fill="#000" stroke="#000" stroke-width="0.6" stroke-linejoin="round"/>
<line x1="278.3" y1="587.5" x2="278.3" y2="715.1" stroke="#333" stroke-width="1.2"/>
<line x1="221.1" y1="667.2" x2="349.1" y2="667.2" stroke="#999" stroke-width="0.8"/>
<rect x="221.1" y="587.5" width="128" height="127.6" fill="none" stroke="#5c5c5c" stroke-width="0.9"/>
<line x1="220.7" y1="715.1" x2="349.5" y2="715.1" stroke="#111" stroke-width="1.2"/>
<line x1="221.1" y1="587.5" x2="221.1" y2="715.1" stroke="#444" stroke-width="0.9"/>
<line x1="221.4" y1="715.1" x2="221.4" y2="718.1" stroke="#111" stroke-width="1.2"/>
<text class="san" x="223.9" y="729.8" font-size="5.2" text-anchor="start" fill="#111">10<tspan dx="0.4" dy="-2.4" font-size="4.94">0</tspan></text>
<line x1="228.5" y1="715.1" x2="228.5" y2="716.7" stroke="#333" stroke-width="0.5"/>
<line x1="232.66" y1="715.1" x2="232.66" y2="716.7" stroke="#333" stroke-width="0.5"/>
<line x1="235.61" y1="715.1" x2="235.61" y2="716.7" stroke="#333" stroke-width="0.5"/>
<line x1="237.9" y1="715.1" x2="237.9" y2="716.7" stroke="#333" stroke-width="0.5"/>
<line x1="239.76" y1="715.1" x2="239.76" y2="716.7" stroke="#333" stroke-width="0.5"/>
<line x1="241.34" y1="715.1" x2="241.34" y2="716.7" stroke="#333" stroke-width="0.5"/>
<line x1="242.71" y1="715.1" x2="242.71" y2="716.7" stroke="#333" stroke-width="0.5"/>
<line x1="243.92" y1="715.1" x2="243.92" y2="716.7" stroke="#333" stroke-width="0.5"/>
<line x1="245" y1="715.1" x2="245" y2="718.1" stroke="#111" stroke-width="1.2"/>
<text class="san" x="241.7" y="729.8" font-size="5.2" text-anchor="start" fill="#111">10<tspan dx="0.4" dy="-2.4" font-size="4.94">1</tspan></text>
<line x1="252.1" y1="715.1" x2="252.1" y2="716.7" stroke="#333" stroke-width="0.5"/>
<line x1="256.26" y1="715.1" x2="256.26" y2="716.7" stroke="#333" stroke-width="0.5"/>
<line x1="259.21" y1="715.1" x2="259.21" y2="716.7" stroke="#333" stroke-width="0.5"/>
<line x1="261.5" y1="715.1" x2="261.5" y2="716.7" stroke="#333" stroke-width="0.5"/>
<line x1="263.36" y1="715.1" x2="263.36" y2="716.7" stroke="#333" stroke-width="0.5"/>
<line x1="264.94" y1="715.1" x2="264.94" y2="716.7" stroke="#333" stroke-width="0.5"/>
<line x1="266.31" y1="715.1" x2="266.31" y2="716.7" stroke="#333" stroke-width="0.5"/>
<line x1="267.52" y1="715.1" x2="267.52" y2="716.7" stroke="#333" stroke-width="0.5"/>
<line x1="268.6" y1="715.1" x2="268.6" y2="718.1" stroke="#111" stroke-width="1.2"/>
<text class="san" x="265.3" y="729.8" font-size="5.2" text-anchor="start" fill="#111">10<tspan dx="0.4" dy="-2.4" font-size="4.94">2</tspan></text>
<line x1="275.7" y1="715.1" x2="275.7" y2="716.7" stroke="#333" stroke-width="0.5"/>
<line x1="279.86" y1="715.1" x2="279.86" y2="716.7" stroke="#333" stroke-width="0.5"/>
<line x1="282.81" y1="715.1" x2="282.81" y2="716.7" stroke="#333" stroke-width="0.5"/>
<line x1="285.1" y1="715.1" x2="285.1" y2="716.7" stroke="#333" stroke-width="0.5"/>
<line x1="286.96" y1="715.1" x2="286.96" y2="716.7" stroke="#333" stroke-width="0.5"/>
<line x1="288.54" y1="715.1" x2="288.54" y2="716.7" stroke="#333" stroke-width="0.5"/>
<line x1="289.91" y1="715.1" x2="289.91" y2="716.7" stroke="#333" stroke-width="0.5"/>
<line x1="291.12" y1="715.1" x2="291.12" y2="716.7" stroke="#333" stroke-width="0.5"/>
<line x1="292.2" y1="715.1" x2="292.2" y2="718.1" stroke="#111" stroke-width="1.2"/>
<text class="san" x="288.9" y="729.8" font-size="5.2" text-anchor="start" fill="#111">10<tspan dx="0.4" dy="-2.4" font-size="4.94">3</tspan></text>
<line x1="299.3" y1="715.1" x2="299.3" y2="716.7" stroke="#333" stroke-width="0.5"/>
<line x1="303.46" y1="715.1" x2="303.46" y2="716.7" stroke="#333" stroke-width="0.5"/>
<line x1="306.41" y1="715.1" x2="306.41" y2="716.7" stroke="#333" stroke-width="0.5"/>
<line x1="308.7" y1="715.1" x2="308.7" y2="716.7" stroke="#333" stroke-width="0.5"/>
<line x1="310.56" y1="715.1" x2="310.56" y2="716.7" stroke="#333" stroke-width="0.5"/>
<line x1="312.14" y1="715.1" x2="312.14" y2="716.7" stroke="#333" stroke-width="0.5"/>
<line x1="313.51" y1="715.1" x2="313.51" y2="716.7" stroke="#333" stroke-width="0.5"/>
<line x1="314.72" y1="715.1" x2="314.72" y2="716.7" stroke="#333" stroke-width="0.5"/>
<line x1="315.8" y1="715.1" x2="315.8" y2="718.1" stroke="#111" stroke-width="1.2"/>
<text class="san" x="312.5" y="729.8" font-size="5.2" text-anchor="start" fill="#111">10<tspan dx="0.4" dy="-2.4" font-size="4.94">4</tspan></text>
<line x1="322.9" y1="715.1" x2="322.9" y2="716.7" stroke="#333" stroke-width="0.5"/>
<line x1="327.06" y1="715.1" x2="327.06" y2="716.7" stroke="#333" stroke-width="0.5"/>
<line x1="330.01" y1="715.1" x2="330.01" y2="716.7" stroke="#333" stroke-width="0.5"/>
<line x1="332.3" y1="715.1" x2="332.3" y2="716.7" stroke="#333" stroke-width="0.5"/>
<line x1="334.16" y1="715.1" x2="334.16" y2="716.7" stroke="#333" stroke-width="0.5"/>
<line x1="335.74" y1="715.1" x2="335.74" y2="716.7" stroke="#333" stroke-width="0.5"/>
<line x1="337.11" y1="715.1" x2="337.11" y2="716.7" stroke="#333" stroke-width="0.5"/>
<line x1="338.32" y1="715.1" x2="338.32" y2="716.7" stroke="#333" stroke-width="0.5"/>
<line x1="339.4" y1="715.1" x2="339.4" y2="718.1" stroke="#111" stroke-width="1.2"/>
<text class="san" x="336.1" y="729.8" font-size="5.2" text-anchor="start" fill="#111">10<tspan dx="0.4" dy="-2.4" font-size="4.94">5</tspan></text>
<line x1="346.5" y1="715.1" x2="346.5" y2="716.7" stroke="#333" stroke-width="0.5"/>
<line x1="218.1" y1="713.5" x2="221.1" y2="713.5" stroke="#111" stroke-width="1.2"/>
<text class="san" x="214.9" y="712.5" font-size="5.2" text-anchor="end" fill="#111">10<tspan dx="0.4" dy="-2.4" font-size="4.94">0</tspan></text>
<line x1="219.5" y1="708.4" x2="221.1" y2="708.4" stroke="#333" stroke-width="0.5"/>
<line x1="219.5" y1="705.41" x2="221.1" y2="705.41" stroke="#333" stroke-width="0.5"/>
<line x1="219.5" y1="703.3" x2="221.1" y2="703.3" stroke="#333" stroke-width="0.5"/>
<line x1="219.5" y1="701.65" x2="221.1" y2="701.65" stroke="#333" stroke-width="0.5"/>
<line x1="219.5" y1="700.31" x2="221.1" y2="700.31" stroke="#333" stroke-width="0.5"/>
<line x1="219.5" y1="699.18" x2="221.1" y2="699.18" stroke="#333" stroke-width="0.5"/>
<line x1="219.5" y1="698.19" x2="221.1" y2="698.19" stroke="#333" stroke-width="0.5"/>
<line x1="219.5" y1="697.33" x2="221.1" y2="697.33" stroke="#333" stroke-width="0.5"/>
<line x1="218.1" y1="696.55" x2="221.1" y2="696.55" stroke="#111" stroke-width="1.2"/>
<text class="san" x="214.9" y="698.15" font-size="5.2" text-anchor="end" fill="#111">10<tspan dx="0.4" dy="-2.4" font-size="4.94">1</tspan></text>
<line x1="219.5" y1="691.45" x2="221.1" y2="691.45" stroke="#333" stroke-width="0.5"/>
<line x1="219.5" y1="688.46" x2="221.1" y2="688.46" stroke="#333" stroke-width="0.5"/>
<line x1="219.5" y1="686.35" x2="221.1" y2="686.35" stroke="#333" stroke-width="0.5"/>
<line x1="219.5" y1="684.7" x2="221.1" y2="684.7" stroke="#333" stroke-width="0.5"/>
<line x1="219.5" y1="683.36" x2="221.1" y2="683.36" stroke="#333" stroke-width="0.5"/>
<line x1="219.5" y1="682.23" x2="221.1" y2="682.23" stroke="#333" stroke-width="0.5"/>
<line x1="219.5" y1="681.24" x2="221.1" y2="681.24" stroke="#333" stroke-width="0.5"/>
<line x1="219.5" y1="680.38" x2="221.1" y2="680.38" stroke="#333" stroke-width="0.5"/>
<line x1="218.1" y1="679.6" x2="221.1" y2="679.6" stroke="#111" stroke-width="1.2"/>
<text class="san" x="214.9" y="681.2" font-size="5.2" text-anchor="end" fill="#111">10<tspan dx="0.4" dy="-2.4" font-size="4.94">2</tspan></text>
<line x1="219.5" y1="674.5" x2="221.1" y2="674.5" stroke="#333" stroke-width="0.5"/>
<line x1="219.5" y1="671.51" x2="221.1" y2="671.51" stroke="#333" stroke-width="0.5"/>
<line x1="219.5" y1="669.4" x2="221.1" y2="669.4" stroke="#333" stroke-width="0.5"/>
<line x1="219.5" y1="667.75" x2="221.1" y2="667.75" stroke="#333" stroke-width="0.5"/>
<line x1="219.5" y1="666.41" x2="221.1" y2="666.41" stroke="#333" stroke-width="0.5"/>
<line x1="219.5" y1="665.28" x2="221.1" y2="665.28" stroke="#333" stroke-width="0.5"/>
<line x1="219.5" y1="664.29" x2="221.1" y2="664.29" stroke="#333" stroke-width="0.5"/>
<line x1="219.5" y1="663.43" x2="221.1" y2="663.43" stroke="#333" stroke-width="0.5"/>
<line x1="218.1" y1="662.65" x2="221.1" y2="662.65" stroke="#111" stroke-width="1.2"/>
<text class="san" x="214.9" y="664.25" font-size="5.2" text-anchor="end" fill="#111">10<tspan dx="0.4" dy="-2.4" font-size="4.94">3</tspan></text>
<line x1="219.5" y1="657.55" x2="221.1" y2="657.55" stroke="#333" stroke-width="0.5"/>
<line x1="219.5" y1="654.56" x2="221.1" y2="654.56" stroke="#333" stroke-width="0.5"/>
<line x1="219.5" y1="652.45" x2="221.1" y2="652.45" stroke="#333" stroke-width="0.5"/>
<line x1="219.5" y1="650.8" x2="221.1" y2="650.8" stroke="#333" stroke-width="0.5"/>
<line x1="219.5" y1="649.46" x2="221.1" y2="649.46" stroke="#333" stroke-width="0.5"/>
<line x1="219.5" y1="648.33" x2="221.1" y2="648.33" stroke="#333" stroke-width="0.5"/>
<line x1="219.5" y1="647.34" x2="221.1" y2="647.34" stroke="#333" stroke-width="0.5"/>
<line x1="219.5" y1="646.48" x2="221.1" y2="646.48" stroke="#333" stroke-width="0.5"/>
<line x1="218.1" y1="645.7" x2="221.1" y2="645.7" stroke="#111" stroke-width="1.2"/>
<text class="san" x="214.9" y="647.3" font-size="5.2" text-anchor="end" fill="#111">10<tspan dx="0.4" dy="-2.4" font-size="4.94">4</tspan></text>
<line x1="219.5" y1="640.6" x2="221.1" y2="640.6" stroke="#333" stroke-width="0.5"/>
<line x1="219.5" y1="637.61" x2="221.1" y2="637.61" stroke="#333" stroke-width="0.5"/>
<line x1="219.5" y1="635.5" x2="221.1" y2="635.5" stroke="#333" stroke-width="0.5"/>
<line x1="219.5" y1="633.85" x2="221.1" y2="633.85" stroke="#333" stroke-width="0.5"/>
<line x1="219.5" y1="632.51" x2="221.1" y2="632.51" stroke="#333" stroke-width="0.5"/>
<line x1="219.5" y1="631.38" x2="221.1" y2="631.38" stroke="#333" stroke-width="0.5"/>
<line x1="219.5" y1="630.39" x2="221.1" y2="630.39" stroke="#333" stroke-width="0.5"/>
<line x1="219.5" y1="629.53" x2="221.1" y2="629.53" stroke="#333" stroke-width="0.5"/>
<line x1="218.1" y1="628.75" x2="221.1" y2="628.75" stroke="#111" stroke-width="1.2"/>
<text class="san" x="214.9" y="630.35" font-size="5.2" text-anchor="end" fill="#111">10<tspan dx="0.4" dy="-2.4" font-size="4.94">5</tspan></text>
<line x1="219.5" y1="623.65" x2="221.1" y2="623.65" stroke="#333" stroke-width="0.5"/>
<line x1="219.5" y1="620.66" x2="221.1" y2="620.66" stroke="#333" stroke-width="0.5"/>
<line x1="219.5" y1="618.55" x2="221.1" y2="618.55" stroke="#333" stroke-width="0.5"/>
<line x1="219.5" y1="616.9" x2="221.1" y2="616.9" stroke="#333" stroke-width="0.5"/>
<line x1="219.5" y1="615.56" x2="221.1" y2="615.56" stroke="#333" stroke-width="0.5"/>
<line x1="219.5" y1="614.43" x2="221.1" y2="614.43" stroke="#333" stroke-width="0.5"/>
<line x1="219.5" y1="613.44" x2="221.1" y2="613.44" stroke="#333" stroke-width="0.5"/>
<line x1="219.5" y1="612.58" x2="221.1" y2="612.58" stroke="#333" stroke-width="0.5"/>
<line x1="218.1" y1="611.8" x2="221.1" y2="611.8" stroke="#111" stroke-width="1.2"/>
<text class="san" x="214.9" y="613.4" font-size="5.2" text-anchor="end" fill="#111">10<tspan dx="0.4" dy="-2.4" font-size="4.94">6</tspan></text>
<line x1="219.5" y1="606.7" x2="221.1" y2="606.7" stroke="#333" stroke-width="0.5"/>
<line x1="219.5" y1="603.71" x2="221.1" y2="603.71" stroke="#333" stroke-width="0.5"/>
<line x1="219.5" y1="601.6" x2="221.1" y2="601.6" stroke="#333" stroke-width="0.5"/>
<line x1="219.5" y1="599.95" x2="221.1" y2="599.95" stroke="#333" stroke-width="0.5"/>
<line x1="219.5" y1="598.61" x2="221.1" y2="598.61" stroke="#333" stroke-width="0.5"/>
<line x1="219.5" y1="597.48" x2="221.1" y2="597.48" stroke="#333" stroke-width="0.5"/>
<line x1="219.5" y1="596.49" x2="221.1" y2="596.49" stroke="#333" stroke-width="0.5"/>
<line x1="219.5" y1="595.63" x2="221.1" y2="595.63" stroke="#333" stroke-width="0.5"/>
<line x1="218.1" y1="594.85" x2="221.1" y2="594.85" stroke="#111" stroke-width="1.2"/>
<text class="san" x="214.9" y="596.45" font-size="5.2" text-anchor="end" fill="#111">10<tspan dx="0.4" dy="-2.4" font-size="4.94">7</tspan></text>
<line x1="219.5" y1="589.75" x2="221.1" y2="589.75" stroke="#333" stroke-width="0.5"/>
<text class="ser" x="285.9" y="582.2" font-size="9.2" text-anchor="middle" fill="#3c3c3c" stroke-width="0.1" stroke="#444">mimic</text>
<text class="ser" x="249" y="619.1" font-size="9.2" text-anchor="middle" fill="#3c3c3c" stroke-width="0.1" stroke="#444">SM</text>
<text class="ser" x="249" y="630.9" font-size="9.2" text-anchor="middle" fill="#3c3c3c" stroke-width="0.1" stroke="#444">16.9%</text>
<text class="ser" x="315.1" y="619.1" font-size="9.2" text-anchor="middle" fill="#3c3c3c" stroke-width="0.1" stroke="#444">UM</text>
<text class="ser" x="315.1" y="630.9" font-size="9.2" text-anchor="middle" fill="#3c3c3c" stroke-width="0.1" stroke="#444">29.1%</text>
<text class="ser" x="250" y="690.3" font-size="9.2" text-anchor="middle" fill="#3c3c3c" stroke-width="0.1" stroke="#444">DN</text>
<text class="ser" x="250" y="701.4" font-size="9.2" text-anchor="middle" fill="#3c3c3c" stroke-width="0.1" stroke="#444">8.2%</text>
<text class="ser" x="317.8" y="688.6" font-size="9.2" text-anchor="middle" fill="#3c3c3c" stroke-width="0.1" stroke="#444">naive</text>
<text class="ser" x="317.8" y="699.4" font-size="9.2" text-anchor="middle" fill="#3c3c3c" stroke-width="0.1" stroke="#444">45.8%</text>
<line x1="197.6" y1="740.3" x2="197.6" y2="677.7" stroke="#222" stroke-width="1"/>
<line x1="197.1" y1="739.8" x2="260.8" y2="739.8" stroke="#222" stroke-width="1"/>
<path d="M197.6 671.7 l3.6 7.4 h-7.2 Z" fill="#000"/>
<path d="M266.8 739.8 l-7.4 -3.6 v7.2 Z" fill="#000"/>
<text class="ser" x="194.2" y="712.7" font-size="9.2" text-anchor="middle" fill="#111" transform="rotate(-90 194.2 712.7)">CD27</text>
<text class="ser" x="216.6" y="752" font-size="9.2" fill="#111">IgD</text>
<text class="ser" x="357" y="585.6" font-size="14" font-weight="bold" fill="#111">J</text>
<rect x="395.2" y="699" width="18.3" height="18.9" fill="#A1A3A6" stroke="#111" stroke-width="1.2"/>
<rect x="423.7" y="682.4" width="18.1" height="35.5" fill="#8F1D24" stroke="#111" stroke-width="1.2"/>
<rect x="471.6" y="632.8" width="18.1" height="85.1" fill="#A1A3A6" stroke="#111" stroke-width="1.2"/>
<rect x="500.6" y="659.8" width="18.1" height="58.1" fill="#8F1D24" stroke="#111" stroke-width="1.2"/>
<rect x="548.5" y="623.3" width="18.6" height="94.6" fill="#A1A3A6" stroke="#111" stroke-width="1.2"/>
<rect x="577" y="618.4" width="18.6" height="99.5" fill="#8F1D24" stroke="#111" stroke-width="1.2"/>
<rect x="625.4" y="700.8" width="18.6" height="17.1" fill="#A1A3A6" stroke="#111" stroke-width="1.2"/>
<rect x="654" y="700.8" width="18.6" height="17.1" fill="#8F1D24" stroke="#111" stroke-width="1.2"/>
<line x1="384.2" y1="590.75" x2="384.2" y2="718.45" stroke="#000" stroke-width="1.35"/>
<line x1="384.2" y1="717.9" x2="684.5" y2="717.9" stroke="#000" stroke-width="1.35"/>
<line x1="380.6" y1="591.3" x2="384.2" y2="591.3" stroke="#000" stroke-width="1.35"/>
<text class="ser" x="380" y="595" font-size="9.2" text-anchor="end" font-weight="bold" fill="#111">60</text>
<line x1="380.6" y1="633.5" x2="384.2" y2="633.5" stroke="#000" stroke-width="1.35"/>
<text class="ser" x="380" y="637.2" font-size="9.2" text-anchor="end" font-weight="bold" fill="#111">40</text>
<line x1="380.6" y1="675.5" x2="384.2" y2="675.5" stroke="#000" stroke-width="1.35"/>
<text class="ser" x="380" y="679.2" font-size="9.2" text-anchor="end" font-weight="bold" fill="#111">20</text>
<line x1="380.6" y1="717.9" x2="384.2" y2="717.9" stroke="#000" stroke-width="1.35"/>
<text class="ser" x="380" y="721.6" font-size="9.2" text-anchor="end" font-weight="bold" fill="#111">0</text>
<line x1="418.2" y1="717.9" x2="418.2" y2="722.1" stroke="#000" stroke-width="1.35"/>
<line x1="494.7" y1="717.9" x2="494.7" y2="722.1" stroke="#000" stroke-width="1.35"/>
<line x1="571.6" y1="717.9" x2="571.6" y2="722.1" stroke="#000" stroke-width="1.35"/>
<line x1="648.5" y1="717.9" x2="648.5" y2="722.1" stroke="#000" stroke-width="1.35"/>
<text class="ser" x="418.2" y="732.8" font-size="9.2" text-anchor="middle" fill="#111">SM</text>
<text class="ser" x="494.7" y="732.8" font-size="9.2" text-anchor="middle" fill="#111">UM</text>
<text class="ser" x="571.6" y="732.8" font-size="9.2" text-anchor="middle" fill="#111">naive</text>
<text class="ser" x="648.5" y="732.8" font-size="9.2" text-anchor="middle" fill="#111">DN</text>
<circle cx="397.5" cy="699.29" r="2.6" fill="#000"/>
<circle cx="401" cy="698.95" r="2.6" fill="#000"/>
<circle cx="404.4" cy="698.79" r="2.6" fill="#000"/>
<circle cx="407.8" cy="698.84" r="2.6" fill="#000"/>
<circle cx="411.2" cy="699.24" r="2.6" fill="#000"/>
<rect x="423.4" y="679.8" width="5.2" height="5.2" fill="#000"/>
<rect x="427" y="676.8" width="5.2" height="5.2" fill="#000"/>
<rect x="430.2" y="679.4" width="5.2" height="5.2" fill="#000"/>
<rect x="433.8" y="678" width="5.2" height="5.2" fill="#000"/>
<rect x="437" y="681" width="5.2" height="5.2" fill="#000"/>
<circle cx="473.8" cy="632.5" r="2.6" fill="#000"/>
<circle cx="477.5" cy="630.1" r="2.6" fill="#000"/>
<circle cx="481.1" cy="631.9" r="2.6" fill="#000"/>
<circle cx="484.8" cy="630.7" r="2.6" fill="#000"/>
<circle cx="488.4" cy="633.8" r="2.6" fill="#000"/>
<rect x="500.2" y="653.5" width="5.4" height="5.4" fill="#000"/>
<rect x="500.2" y="661.2" width="5.4" height="5.4" fill="#000"/>
<rect x="506.9" y="657.5" width="5.4" height="5.4" fill="#000"/>
<rect x="513.9" y="655.7" width="5.4" height="5.4" fill="#000"/>
<rect x="513.9" y="660.3" width="5.4" height="5.4" fill="#000"/>
<line x1="557.9" y1="619.6" x2="557.9" y2="626.6" stroke="#000" stroke-width="1"/>
<line x1="552.3" y1="619.6" x2="563.5" y2="619.6" stroke="#000" stroke-width="1"/>
<line x1="552.3" y1="626.6" x2="563.5" y2="626.6" stroke="#000" stroke-width="1"/>
<circle cx="550.5" cy="613.4" r="2.5" fill="#000"/>
<circle cx="557.9" cy="616.4" r="2.5" fill="#000"/>
<circle cx="550.5" cy="631.5" r="2.5" fill="#000"/>
<circle cx="558.4" cy="627.6" r="2.5" fill="#000"/>
<circle cx="565.4" cy="628.3" r="2.5" fill="#000"/>
<rect x="576.9" y="613.3" width="5.4" height="5.4" fill="#000"/>
<rect x="577.1" y="617.9" width="5.4" height="5.4" fill="#000"/>
<rect x="583.7" y="615.5" width="5.4" height="5.4" fill="#000"/>
<rect x="590.5" y="612.7" width="5.4" height="5.4" fill="#000"/>
<rect x="590.7" y="617.7" width="5.4" height="5.4" fill="#000"/>
<circle cx="627.8" cy="700.4" r="2.6" fill="#000"/>
<circle cx="631.3" cy="700.4" r="2.6" fill="#000"/>
<circle cx="634.8" cy="700.4" r="2.6" fill="#000"/>
<circle cx="638.2" cy="700.4" r="2.6" fill="#000"/>
<circle cx="641.6" cy="700.4" r="2.6" fill="#000"/>
<rect x="654" y="698" width="5.2" height="5.2" fill="#000"/>
<rect x="657.4" y="698" width="5.2" height="5.2" fill="#000"/>
<rect x="660.8" y="698" width="5.2" height="5.2" fill="#000"/>
<rect x="664.2" y="698" width="5.2" height="5.2" fill="#000"/>
<rect x="667.6" y="698" width="5.2" height="5.2" fill="#000"/>
<line x1="403.5" y1="667.9" x2="433.4" y2="667.9" stroke="#1a1a1a" stroke-width="1.2"/>
<line x1="404.1" y1="664.9" x2="404.1" y2="670.9" stroke="#1a1a1a" stroke-width="1.2"/>
<line x1="432.8" y1="664.9" x2="432.8" y2="670.9" stroke="#1a1a1a" stroke-width="1.2"/>
<text class="ser" x="420.05" y="666.98" font-size="15.8" text-anchor="middle" font-weight="bold" fill="#111" letter-spacing="0.9">**</text>
<line x1="480.2" y1="618.6" x2="510.6" y2="618.6" stroke="#1a1a1a" stroke-width="1.2"/>
<line x1="480.8" y1="615.6" x2="480.8" y2="621.6" stroke="#1a1a1a" stroke-width="1.2"/>
<line x1="510" y1="615.6" x2="510" y2="621.6" stroke="#1a1a1a" stroke-width="1.2"/>
<text class="ser" x="496.95" y="618.08" font-size="15.8" text-anchor="middle" font-weight="bold" fill="#111" letter-spacing="0.9">**</text>
<text class="ser" x="362.4" y="655.1" font-size="9.2" text-anchor="middle" fill="#111" transform="rotate(-90 362.4 655.1)">MB (%)</text>
<circle cx="635.3" cy="578.7" r="3.1" fill="#000"/>
<text class="ser" x="643.3" y="581.6" font-size="9.2" fill="#111">mimic NC</text>
<rect x="632.45" y="592.75" width="5.7" height="5.7" fill="#000"/>
<text class="ser" x="643.3" y="598.4" font-size="9.2" fill="#111">mimic</text>
<text class="ser" x="3" y="776.8" font-size="14" font-weight="bold" fill="#111">K</text>
<path d="M124.8 789.9h0m31.3 2.9h0m-95.9 7.1h0m2.1 4.2h0m67.2 1.9h0m-6.4 1.3h0m-61.4 3.1h0m62 3h0m1.6 1.2h0m-28.6 3.2h0m15.2 .9h0m1.7-1.9h0m-16.1 5h0m5-1.3h0m3.8 1.4h0m.2-2.3h0m1.7 2h0m4.9-1.5h0m5.4 1h0m-22.4 3.6h0m1-.3h0m.6 0h0m.1-1.5h0m2.4-.6h0m1.2 2h0m.5 .4h0m.5-1.4h0m.1 1.6h0m.6-1.4h0m.5-.2h0m1.2 .3h0m.2-1h0m.1 2.3h0m5.4-.4h0m0-1.9h0m.2 .8h0m3.8-1.4h0m1.4 1.2h0m4.5 .2h0m2.2-.1h0m1.5 .8h0m-28.8 3.4h0m.6-1.2h0m.3-.2h0m.7 1.7h0m.3-1.9h0m.8 1.8h0m.1 .1h0m0-.1h0m.9-1h0m.4-.4h0m.4 1.6h0m.2-1.3h0m0 1.3h0m.1-.8h0m.3-1.4h0m0 1.5h0m.4-1.8h0m.1-.1h0m1.1 .2h0m1.2 .8h0m.3 .4h0m.4 1.2h0m.6-1.7h0m.3 1.1h0m.4-1h0m.6 0h0m.2 .1h0m.2 1h0m.2 .1h0m.2-1.2h0m0-.7h0m.3 1.1h0m3.5 .4h0m.6 .3h0m1.2 .5h0m.6-2.1h0m1.4 .2h0m2.6 1.2h0m.7-1.8h0m1.1 2.4h0m12.7-2.6h0m-37.7 4.1h0m1.3 .2h0m1.4 .7h0m.1-.8h0m.6-.3h0m.2 1.5h0m.7 .2h0m.4-.6h0m.6 .7h0m.1-.5h0m.7-.3h0m1.3 0h0m.3-1h0m.1 1.5h0m.2-2.6h0m.2 2.4h0m.3-1.1h0m.2-.8h0m.1 2.1h0m.3 .1h0m.1 0h0m.3-1.1h0m.8-.8h0m0 1.5h0m.1-2.1h0m.1 1.2h0m.2-.2h0m.3 0h0m.1-.2h0m.4 1.4h0m.1-2.1h0m.1 1.7h0m.6-.9h0m0 .1h0m.2 1.2h0m.1 .4h0m0-2.4h0m1.2 1.6h0m.3-.7h0m.3 .3h0m.3 1.1h0m.4 .1h0m1-.8h0m.2-1.5h0m.2 1.6h0m.1 0h0m.1 0h0m1.5 .5h0m.3-.3h0m.8-.6h0m6.5-.8h0m6.9 .5h0m2.7-.4h0m-43.6 2.9h0m4.7-.1h0m1 .7h0m1.2-.6h0m1.1 .1h0m.8-1h0m2 2.3h0m.1-.1h0m.2-.8h0m0-1.4h0m.5 .6h0m.8 0h0m0 1.7h0m.1 .4h0m.7-.8h0m.3 .1h0m0 .5h0m.2-2.4h0m.1 1.1h0m0 .7h0m.4 .7h0m.1-.1h0m.1-.6h0m0 .9h0m.3-.8h0m.1-.2h0m.3-.5h0m.3-1h0m0 2.6h0m.3-2.9h0m0 1.9h0m.3-1.2h0m0 1.9h0m.7-.4h0m.4-1.8h0m.6 1.6h0m0-.2h0m0-1.7h0m.3 .4h0m.1 .8h0m.7 .5h0m0-.8h0m.2 0h0m.5-1h0m0 2.2h0m.1 .6h0m0-2.3h0m.1 .9h0m.2-1h0m.2 .6h0m.1 .4h0m.2-.5h0m.2-.1h0m0 1.9h0m.6 .1h0m.4-.6h0m.1-1.6h0m.3 1.4h0m.3-1.5h0m0 2.2h0m.2-2.1h0m.3 .8h0m.1 .7h0m.1 0h0m0-.9h0m.5-.6h0m0 .5h0m.2 1.6h0m1-.5h0m.7-1.8h0m.1 .7h0m.3 .2h0m.4-1.1h0m.2 1.4h0m0 1h0m.1-1.6h0m.1-.6h0m.5 1.8h0m.2-2.2h0m.7 1.8h0m2.4-.7h0m.1 .4h0m1.8 1.3h0m1-1h0m1.3-.7h0m17.7-.3h0m-49.3 2.4h0m3.2 .8h0m.2-.5h0m1.2 .8h0m.1-.1h0m0-.9h0m.3 .7h0m1-.5h0m.3-.1h0m.6 .6h0m.3 1.9h0m0-1.2h0m0 .6h0m.4-2.2h0m.3 .3h0m0-.2h0m.1 .5h0m.3-.3h0m.2 .4h0m.4 .5h0m.3-.5h0m.2-.1h0m0 1.3h0m0-.4h0m.1 .7h0m.1-.1h0m.1-.9h0m.2 .4h0m.8 .9h0m0-1.5h0m.1 .1h0m.2 1.4h0m0 .3h0m.1-1.8h0m.1 1.3h0m0-2.2h0m0 .7h0m.1 .8h0m.1-1h0m.3 1.9h0m.4-2.6h0m.1 2.4h0m.3-1.6h0m.2 1.9h0m0-1.7h0m0 1.3h0m.1-1.1h0m0 1.7h0m0-1.3h0m.1 .5h0m.1-.8h0m0 .8h0m.1-1.7h0m.1-.4h0m.3 1.3h0m.1-1.1h0m.1-.1h0m0 1.1h0m0-.8h0m.2 1.2h0m0-.7h0m.4 1.2h0m.1 .4h0m0-.9h0m.1-.2h0m0 1.4h0m0-2.8h0m.1 2.8h0m0-1.2h0m0-1.2h0m.1 2.2h0m.1-.8h0m0 .7h0m.1-1.1h0m0 .4h0m.3-1.7h0m.1 2.8h0m.1-.9h0m0-1.5h0m.3 0h0m.2 1.8h0m0-.6h0m.1-1.4h0m.1 2.2h0m0-2.3h0m.1 1.5h0m.6-.6h0m0-.6h0m.4 1.1h0m.1 1h0m0-2.1h0m.1 2.4h0m.1-1.4h0m.2 .6h0m0-1.7h0m.5 1.2h0m0-.3h0m.1-.2h0m0 1.5h0m.2-1.7h0m.1 1.4h0m.1-2h0m0 1.1h0m0-.1h0m.2 .7h0m.1-.7h0m.1 1.6h0m0-2h0m.1 0h0m.1 1.6h0m.6-1.5h0m0-.3h0m.2 1h0m0 .5h0m.3-1.6h0m0-.2h0m.5 2.4h0m0-2.6h0m.7 .7h0m.2-.8h0m0 2.3h0m1.2-.7h0m1 .4h0m.8 .7h0m2.2-2.1h0m.2 1.8h0m.4 0h0m.4 0h0m.5-.9h0m.8 1.3h0m2.7-.3h0m1.9-1.1h0m5.4-.5h0m3.6 .2h0m-40.4 3.7h0m1.3 .5h0m.3-.7h0m.3 1.2h0m.2-1.6h0m.9 .9h0m.2 .6h0m.3-1.9h0m0 1.4h0m.3-1.8h0m.8 1.1h0m0-.7h0m.5 1.5h0m.5-1.7h0m.1 2.2h0m.5-2.2h0m.5 0h0m.2-.3h0m0 1.1h0m.1 .4h0m0 .6h0m.1-1.3h0m.3-.2h0m.2 1.6h0m0-1.6h0m0-1h0m.1 .9h0m0 1h0m.1-1.6h0m0 1h0m0 .8h0m0-.4h0m.3 .4h0m.5 .1h0m0-2.2h0m.1 2.9h0m.1-2.7h0m.2 1.3h0m.1 .5h0m0 .8h0m.2-2.7h0m0 2.5h0m.2-.9h0m0-.1h0m.1-.4h0m0 1.3h0m.1-.4h0m0 .2h0m.1-1.1h0m.1-.4h0m0-.2h0m.1-.4h0m.1 1.1h0m0 .2h0m.1-.2h0m0 .9h0m0-.1h0m.2-.7h0m.1-1.1h0m.1-.1h0m.1 2.4h0m0-.6h0m0 .9h0m.1-1h0m0-1.5h0m0 2.3h0m.1-.7h0m0 .4h0m0-1.3h0m.1 1.1h0m.2-.8h0m0 1.3h0m.1 .1h0m0-2.6h0m.1 .1h0m0 2.3h0m0-1.2h0m.2 .6h0m0-.2h0m0-.4h0m.1 .4h0m0 .7h0m0-2.1h0m.1 1.9h0m0 .2h0m.1-1.3h0m.1-1.2h0m0 1.8h0m.1 1h0m0 .1h0m.1-1.7h0m0-1.1h0m0 2.8h0m.1 0h0m0 0h0m.1-1.4h0m0-1.4h0m0 1.3h0m0 .9h0m.1-.1h0m0 0h0m0-1.1h0m0 1.8h0m0-.6h0m.1-.5h0m0-1.7h0m0 1.9h0m.2-.9h0m.1-.8h0m.1 .1h0m.1-.4h0m0 .2h0m.1 1.4h0m.1 .3h0m.1-.2h0m.1-.1h0m0-.5h0m0 1.1h0m0 .2h0m0 .3h0m0-2.6h0m0 2.4h0m.1-2.2h0m0 .3h0m0-.4h0m.2 1.6h0m0-1.2h0m0 .5h0m0-.5h0m.1 1h0m.1-1.1h0m0 1.2h0m0 1h0m0-1.5h0m.3 .4h0m0-1.5h0m.1 2.5h0m.1-2h0m0 .4h0m0 1.1h0m.1 .3h0m0 .4h0m.1-.4h0m.1-2.4h0m0 0h0m.1 2.4h0m0-2.2h0m.1 .3h0m0 .8h0m0-.7h0m.1 1.9h0m.1-1.7h0m0 1.6h0m0-.1h0m.2 .4h0m0-1.6h0m0-.9h0m.2 1.1h0m.1 1.4h0m0-1.9h0m.1-.5h0m0 2.6h0m.1-2.6h0m0 2.4h0m0-1.1h0m.2-1.2h0m.1 .7h0m.2 .1h0m.3-.4h0m.1 1.4h0m0-.9h0m.1-.3h0m.1-.9h0m0 1h0m0 1.5h0m.1-1.8h0m0 .3h0m.2 .1h0m.3-.4h0m.1 1.3h0m.2-.8h0m.1 .4h0m0 1h0m0-.2h0m.2-.5h0m.1-.5h0m.3-1.1h0m0 .1h0m0 .6h0m.1-.1h0m.1-.9h0m.3 1.2h0m0-.9h0m.1 1.7h0m0-.8h0m.5 .2h0m.6 1.3h0m.8-2.7h0m.1 .5h0m.8 .3h0m.5 1.9h0m.4-1h0m.5-.6h0m.3-.1h0m.7-.1h0m0-.9h0m.9 2.3h0m.1-2.3h0m.2 .8h0m2.6 .8h0m-29.1 4h0m.1-.5h0m.3 .1h0m.2 .2h0m.7-.2h0m.4 .5h0m1.6-.4h0m.1-1.4h0m.6 .9h0m.1-.1h0m.3-1.2h0m.5 .5h0m.6-1.1h0m.2 1.5h0m0 1.1h0m.1-2.3h0m.7 1h0m0-1.1h0m.3 0h0m0 1.1h0m0 .8h0m.3 .3h0m0 .1h0m.1-.6h0m0-1.5h0m.1 0h0m.2 2.1h0m0-.9h0m0 .7h0m.1-.1h0m0 .5h0m.1-2.4h0m0 .8h0m0-.5h0m.1 .5h0m.1 .5h0m0-.8h0m.1 1.5h0m.2 .4h0m.1-2.3h0m.1 2.5h0m.2-2.1h0m.1 .7h0m0-1.5h0m0 1.7h0m.3 0h0m.4-.3h0m.1 .1h0m.1 1.2h0m0-.9h0m.1-1.4h0m0 0h0m.1 .4h0m0 .7h0m.1 1.3h0m0-.4h0m0-.9h0m.2-.6h0m0-.2h0m.1 2h0m0-2.5h0m0 .5h0m.1-.5h0m0 .9h0m.1 .6h0m0-.3h0m0 1.2h0m.1 .1h0m.2-.1h0m.1-1.8h0m0 .8h0m0 .5h0m0-2h0m0 2.5h0m.1 .2h0m.1-1.5h0m.1 .2h0m0 .8h0m.2-2.1h0m0 .6h0m.1 .8h0m0 1.1h0m.1-.5h0m0-1.3h0m.1 .9h0m0 .6h0m.1-1.8h0m.1 .5h0m0 1.5h0m0-1.7h0m.1-.4h0m0 1.9h0m.1 .2h0m.1-2.4h0m0 1.8h0m.1-.1h0m0-.4h0m0-.2h0m0 .6h0m.1-1.9h0m0 1.7h0m0-1.6h0m.1 2.1h0m.1-1.1h0m.1-.9h0m0 .3h0m.2 1h0m0 .3h0m0-.3h0m0-.1h0m0 .4h0m.1-.5h0m0 .3h0m0-1h0m.1 2.3h0m0-.7h0m.1-.7h0m0 0h0m0 1h0m0-.8h0m.1-1.3h0m0-.1h0m0 2.2h0m0-1.7h0m.1 .5h0m.1 .9h0m0-1.5h0m0 1.2h0m0-.7h0m.1 .3h0m0 .5h0m.1-.7h0m.1-.5h0m.2 .5h0m0 .3h0m0-.7h0m0-.8h0m.1 1h0m0 .2h0m0 1.6h0m0-.6h0m0 .4h0m.1 .2h0m0-1.2h0m0 1h0m.1-.7h0m0-1h0m.1 .3h0m.1-.6h0m0 1.1h0m0-1.4h0m.3 1.4h0m.1 .5h0m.1-1.5h0m0-.1h0m.1-.6h0m.1 2.4h0m.1-.6h0m0-.6h0m0-.2h0m.1-.6h0m0 .4h0m.1-.6h0m0-.2h0m.1-.1h0m0 .6h0m0 1.3h0m0 .4h0m.4-1.9h0m0 2.1h0m.2-.2h0m0 .2h0m.2 .4h0m.1-1.2h0m0-.3h0m0-1.4h0m0 2.1h0m.1-1.4h0m.1 1.3h0m0 .9h0m0-2.8h0m0 2.8h0m.1-1.9h0m0 .8h0m.3-.7h0m0 1.6h0m0-2h0m.1 1h0m.1 .7h0m.1-2.1h0m.2 .2h0m0 .8h0m0 1.4h0m0-1h0m.2 0h0m0-1h0m.1 .4h0m0 1h0m0 .5h0m0-1.4h0m0-.3h0m.1 .8h0m0 .8h0m0-.1h0m.1 .2h0m0-1.4h0m.1-.6h0m0 1.3h0m.1-1.9h0m.1 .6h0m.2 .5h0m.1-.5h0m0 1.3h0m.1-1.5h0m.2 1.1h0m0-1.1h0m.4 1.1h0m0-1.3h0m0-.1h0m0 1.7h0m.1 1.1h0m0-1.9h0m.1-.2h0m0 .9h0m0-.1h0m.2-.4h0m.1 1.3h0m.1-1.6h0m0 1.5h0m.2-2.1h0m0 1.6h0m.1-1.2h0m.3 1.9h0m.1 0h0m.1-1.9h0m.3 1.1h0m.5 .9h0m.2-1.3h0m.3-.5h0m.2 .9h0m.6-1.6h0m.8 1.2h0m.2-.6h0m.1-.7h0m1.6 2.6h0m.6-.3h0m.1 .4h0m1.7-2.3h0m.1 .2h0m2.2 0h0m.1 2.1h0m.4-1.2h0m1.6 .1h0m8.5-.6h0m-41 2.7h0m.6 .6h0m.8-.8h0m0 2.2h0m.1-.8h0m2.5-1.2h0m.1 .4h0m.1-1.1h0m.1 .9h0m.4 .8h0m.3 .1h0m0-.9h0m.4-1h0m0 1.8h0m.1-.6h0m.1-.3h0m.1 .6h0m0 0h0m.2-.4h0m.1-.3h0m.3 .1h0m.1 1.7h0m.1-2.6h0m.2 2h0m.1 .6h0m0-1.2h0m.1 1.3h0m.2-1.5h0m.1 .2h0m0 1.5h0m0-1.1h0m.3-.5h0m0 0h0m.1 1.3h0m0-1h0m0 1.2h0m.1-.2h0m.1 .1h0m0-.5h0m.3 .5h0m0-1.1h0m.1-.1h0m.2 1.2h0m0-1.5h0m0 1.5h0m.2-2h0m.1 1.3h0m.1 .6h0m0 .2h0m0-.9h0m.2 .1h0m.2-1.9h0m0 .2h0m0 2.1h0m0-2.4h0m.2 .8h0m.2-.1h0m0-.4h0m.3 1.2h0m0-1.2h0m0 .2h0m.3 2.2h0m.2-2.6h0m.1 .5h0m0-.4h0m.1 1.8h0m0-.9h0m.1 1.2h0m0-.6h0m0-1.1h0m0 2h0m0-.1h0m.1-1h0m.2 .1h0m0-.9h0m0 2h0m0-1.2h0m.1-1.3h0m0 2h0m.1-.2h0m0 .5h0m0-.3h0m.1-1.6h0m0 .9h0m0 .6h0m.1 .8h0m0-.5h0m.1-1.4h0m0 1.9h0m.1-.6h0m0-1.9h0m0 1.8h0m0-.1h0m0-1.9h0m0 2.5h0m0-1.6h0m.1-.4h0m0 .4h0m.1-.1h0m.1-.9h0m0 1.9h0m.1 .9h0m.1-.8h0m.1-1.3h0m0 .1h0m.1 1.8h0m.1-1h0m0 .1h0m0-.4h0m0-.9h0m.2 2.1h0m.1-1.7h0m0 1.6h0m0 0h0m0 .1h0m0-1.7h0m0-.4h0m.1 .4h0m0-.9h0m0 .4h0m0 1.6h0m.1-1.3h0m0 0h0m.1 .2h0m0-.7h0m.1 2.5h0m0-.3h0m0-.8h0m.1-1.3h0m0 1.5h0m0-.2h0m0-1h0m.2 1.3h0m0 .4h0m0-2.2h0m0 2.8h0m.2-1.4h0m0 .4h0m0-1.5h0m0-.4h0m.1 2.7h0m.1-2.6h0m0 0h0m0 .6h0m0 1.5h0m0-.2h0m.1 .7h0m.1-2.6h0m0 1.7h0m0-.5h0m0-.5h0m0 0h0m.1-.2h0m.1 .2h0m0 1.9h0m.1-.8h0m0-1.3h0m0 1.2h0m.1-1.6h0m.1 2.2h0m0-2.2h0m.1 1.4h0m.1 1.3h0m0-2.4h0m0 1.9h0m.1-1.4h0m0 1.4h0m.1-2.4h0m0 1.7h0m0 .2h0m.1-1h0m0 1.4h0m0-1.5h0m.1 .7h0m0 1.1h0m0-1h0m0 1.2h0m0-2h0m.1-.2h0m0 2.2h0m0-.3h0m.1-1h0m0 1.4h0m0-1.6h0m.1-1.1h0m.1 1.7h0m0-.9h0m.1 1.1h0m0-.8h0m.1 .7h0m0-1.4h0m0 2.2h0m.1-.6h0m0-.4h0m.1-1.3h0m0 1.4h0m0-1.7h0m.1 .4h0m.1-.1h0m0 1.5h0m0-1.2h0m.1-.8h0m0 1.9h0m0 .3h0m0-.4h0m0-.3h0m.1 0h0m.1-.8h0m0 .5h0m0 1.2h0m0-.3h0m.1 .1h0m.2 .3h0m0-2.2h0m0 1h0m.1 1.6h0m0-2.7h0m.1 .1h0m0 2.5h0m0-1.8h0m0 .8h0m.1-.1h0m.1-.2h0m0 .5h0m.1-1.9h0m.2 2.2h0m0-1.7h0m.1 .7h0m0-1h0m0 0h0m0 1.8h0m.2-1.4h0m0 2h0m0-.7h0m.1-.7h0m0 1.6h0m.1-.1h0m.1-.7h0m.1 .6h0m0-.1h0m.1-.5h0m.1-1.9h0m.3 1.3h0m0 .1h0m.1-1.4h0m0 0h0m.1 2.1h0m.2-.6h0m0 1.1h0m0-2.8h0m.2 1.2h0m0 1.1h0m.1-1.2h0m.1 .4h0m0-.6h0m.1 .8h0m.1-1h0m0 .2h0m.7 .4h0m.5-.7h0m0 2.1h0m.1-.1h0m0-1.3h0m.2 1.2h0m.1-2.1h0m.2 .1h0m0 1.2h0m.5-.6h0m.1 0h0m.1 1h0m.1-1.1h0m0 1.9h0m.3-.1h0m.1-2.7h0m1.3 2h0m.1 .1h0m.1 .3h0m.1-.7h0m1.1 .4h0m2.5-.8h0m.3-.5h0m.8-.8h0m2.4 .9h0m-28.7 4.8h0m0-2.7h0m.2 2.2h0m.1 0h0m.1 .2h0m.5-.2h0m0 .4h0m.1 .2h0m.8-1.3h0m.1 .3h0m0 .2h0m.2-.5h0m.1-.8h0m.1-.5h0m.1 2h0m.1-.8h0m0-1.4h0m.2 .1h0m.8 .9h0m0-.5h0m0-.5h0m.1 1h0m0 .8h0m.3-1.8h0m.1 .5h0m0 1.2h0m.1-.7h0m0-.2h0m.1 .6h0m0 .2h0m0-1.2h0m.2 2.1h0m.2-1.3h0m.3-1.2h0m.3 .7h0m0-.5h0m.1 1h0m0 .7h0m.1-2h0m.1 2.8h0m.1-.7h0m.2 .7h0m0-2.4h0m0 1h0m.2 1.1h0m.1-2.3h0m.2 .5h0m.2 .5h0m0-.7h0m0 .4h0m.2-.9h0m0 1.5h0m.2-.9h0m0 1.7h0m.1-1.3h0m0 .6h0m.2-1.2h0m0 .7h0m0 .3h0m0 .3h0m0-.7h0m.1 1.8h0m0-2.4h0m0 2.5h0m0-1.9h0m.1 0h0m.1-.8h0m0-.1h0m.1 1.5h0m.1-1.1h0m.1 1.7h0m.1-1h0m.2 1h0m.1-.5h0m.1 .9h0m.1-2.6h0m0 1.4h0m0-.2h0m0 1.5h0m0-1h0m.1-.6h0m0 1.7h0m.1-.4h0m0-1.9h0m0 .5h0m0-1h0m.2 .6h0m.1 2.1h0m.1-1.4h0m0 1.5h0m.1-1.6h0m.1-.4h0m0 .4h0m0 .3h0m.1-1h0m0 2.4h0m.1-2.9h0m0 1.7h0m0 .6h0m.1-1.7h0m0-.2h0m0 1.9h0m.1-.3h0m0-1.9h0m.1 2.1h0m0-1.4h0m0 1.6h0m.1-.7h0m0-.9h0m.1 2h0m0-1.8h0m.1-.2h0m0 .7h0m0-.6h0m.1 2h0m.2-.4h0m0-1.4h0m0 1.6h0m0-2.4h0m.1 1h0m0-.9h0m.1 .2h0m0 1.4h0m0-.4h0m.1-.6h0m0-.6h0m.1 2.5h0m0-.6h0m0-2h0m.1 1.4h0m0 1.1h0m0-1.9h0m0 1.9h0m0-2.7h0m.1 1.1h0m0 1.4h0m.1-2.5h0m0 2.3h0m.1-1.1h0m.1 1.6h0m0-.5h0m.1-.7h0m.1-.2h0m.1 .3h0m.1-.6h0m0-1.1h0m0 1.9h0m.1-1.7h0m0 0h0m.1 2.2h0m0-1.3h0m0-.8h0m.1 1.9h0m0-1.3h0m0 1.2h0m0 .7h0m0-1.6h0m0 .3h0m.1 .7h0m0-2.3h0m0 2h0m0 .1h0m.1-.3h0m0-.8h0m0 .8h0m0 .4h0m.1-.6h0m.1-1.6h0m0 .7h0m.1 2.1h0m0-2.5h0m.1 2h0m.1-.9h0m0 1.4h0m.1-1.9h0m0-.7h0m0 .9h0m0 .4h0m.1 1.4h0m0-.7h0m.1-.4h0m0 .3h0m.1 .5h0m.1-1.6h0m0 .3h0m0-.7h0m.1-.5h0m.1 .8h0m0-.3h0m0 1.3h0m.1-.1h0m0-1.8h0m.1 .5h0m0 .6h0m.1-.3h0m.1 1.6h0m0-.4h0m.3-.2h0m.1 .1h0m0-1.6h0m0 .7h0m0 .3h0m0-1.2h0m.1 2.7h0m0-.8h0m0-1.2h0m.1 .5h0m0 1.2h0m0 0h0m0-1.7h0m0 0h0m.1 1.6h0m.1 0h0m0-2.1h0m0 1.8h0m.2 .2h0m0-1h0m0 1.2h0m0 .4h0m0 0h0m0-1.2h0m.1-.4h0m0-1.1h0m0 1h0m.1-.5h0m0 1.6h0m0-1.9h0m0 .1h0m.1 2.3h0m.2-2.4h0m0 1.5h0m.1-1.1h0m.1 1.2h0m0 .8h0m.2-2.7h0m0 .8h0m.1 .7h0m.3-1.6h0m0 .1h0m.2 2.2h0m.1 .6h0m.1-.9h0m0-.6h0m.1 .9h0m.1-1h0m.1 .6h0m0 .9h0m0-1.6h0m.1-.9h0m0 .3h0m.1 .1h0m0 1.6h0m.2-1.1h0m.1 1.1h0m0-2.2h0m.1 .1h0m0 1.4h0m.1-.7h0m0-.1h0m0-.2h0m0-.2h0m.2 1.2h0m.2-.3h0m.2 1h0m.2 .6h0m.1-1.6h0m0 .3h0m.1-1.3h0m.2 2.6h0m.2-2.9h0m.2 .5h0m.2 .4h0m.1 2h0m.1-.1h0m.7-1.9h0m.1 1.9h0m.2 0h0m.1-1.7h0m.8 0h0m.1-.1h0m.3 1.3h0m.2-1h0m0-1.3h0m.7 2.2h0m.2-1.3h0m.5-.1h0m1.7 .2h0m.5-.9h0m2 .6h0m5.2-.4h0m1.7 1.7h0m-55.8 3.2h0m15 .6h0m5-.5h0m.7-.7h0m.2-.1h0m.9-1.2h0m1 .5h0m.2 0h0m.3-.1h0m.4 1.4h0m.2-1.1h0m.2-.3h0m.1 1.1h0m.1-1h0m.6 2h0m.1-.7h0m.3-.1h0m.2-1.5h0m.1 1.9h0m0-2.2h0m.1 2.3h0m.1-1.7h0m.3 1.7h0m.1-1.9h0m.1 1.7h0m.1-1.3h0m0 1.3h0m0-1.9h0m.1 2.5h0m0-.7h0m.2 .6h0m0-1.2h0m.1 .5h0m.2-.6h0m0-.7h0m.1 1.3h0m0-.8h0m.1-.4h0m.1 1.9h0m0-1.5h0m.1 1.4h0m0 0h0m.1-1.2h0m.1-1.2h0m0 1h0m0-.1h0m.1-.4h0m.1-.8h0m.1 1.8h0m0-1.7h0m0 1.3h0m0 1.2h0m.1-1h0m.1 0h0m0 .3h0m.1-1.9h0m0 2.9h0m.1-1.4h0m0-.5h0m0 1h0m.1-1.4h0m.2 1.8h0m.1 .2h0m.1-.5h0m0-1.5h0m0 .8h0m0 .2h0m0 .6h0m.1-1.1h0m0-.1h0m0-.4h0m0 1.7h0m.2-1.5h0m0 1.2h0m0 .3h0m.1-1.8h0m0-.5h0m.2 .5h0m.2 .7h0m0 .5h0m.1-1.7h0m0 .2h0m.1 1.7h0m0-1h0m.2-.2h0m0-.2h0m0-.1h0m0-.4h0m0 1.1h0m0-.1h0m.1 .3h0m0 1.1h0m0-.1h0m.1-.4h0m.1-1.2h0m0 1.3h0m0-.9h0m0-.1h0m.1 1h0m.1 0h0m.1 .5h0m0-2.2h0m.2 2.4h0m.2-2.3h0m.2 1.1h0m.1 .7h0m0-2.1h0m0 2h0m.2-2.1h0m0 .6h0m.1 .8h0m.1 .6h0m.2-.4h0m0 1.2h0m0-1.7h0m0-.9h0m.1 .5h0m0 2h0m0-2.3h0m0 2.5h0m.1-.9h0m.1-.6h0m0 .3h0m.1-1.4h0m.1 1h0m.1 .4h0m0 1.1h0m.1-1.7h0m.1 .7h0m0-1.5h0m.2 2.1h0m0-1.3h0m0-.3h0m0 1.2h0m0-1.6h0m0 .2h0m.1 0h0m0 .7h0m.1 1.1h0m0-1.7h0m.2-.2h0m0-.5h0m.1 .7h0m0 1.1h0m0-1.2h0m0 1.1h0m0-.1h0m0-.8h0m.1 2.1h0m.1-2.5h0m0 .8h0m.1 1h0m0-1.3h0m.1 1.5h0m.2-1.2h0m.1-.8h0m.3-.2h0m0 2h0m.1-1.3h0m0-.9h0m0 .2h0m.1 .4h0m.2-.6h0m0 .5h0m0 1h0m0-1.2h0m0 2.1h0m.1 .1h0m0-2h0m.1 2.4h0m0-2.6h0m.1 1.5h0m0-.9h0m.2-.7h0m0 2.6h0m.1-.4h0m0-2.4h0m.2 1.1h0m.2 1.8h0m0-1.7h0m.1 1.1h0m0-.4h0m.1-.1h0m0 .9h0m.1-1.5h0m.1 1.7h0m0-2h0m0 1.6h0m.1-1.1h0m.2 .3h0m0 .1h0m.2-.3h0m0 .4h0m0 .3h0m.1-2.2h0m0 1.6h0m.1-1.5h0m.1 .8h0m0 1.3h0m0-2h0m.2 1.5h0m.2 .3h0m.1-1.9h0m0 1.5h0m.1 1.1h0m.2-.6h0m0 .3h0m.1-.1h0m0 .6h0m.2-.1h0m0-1.4h0m.1 .8h0m0-1.2h0m0-.3h0m.1 1.2h0m.2-1.4h0m.1 1.3h0m0 .8h0m0-.3h0m.1-1.9h0m.4 .6h0m.2 1.9h0m.6-.1h0m0-1.5h0m0-.3h0m.1 1.8h0m.2-.3h0m.8-1.6h0m.5-.4h0m.2 1.6h0m.7-1.5h0m.2 1.8h0m.2-1.5h0m.6 1.6h0m2.4-.8h0m.4-.3h0m-25.7 3.4h0m1-1.3h0m.2-.5h0m.2 1.9h0m.7-1h0m.3 .6h0m.2-1h0m0 1.3h0m.5-.6h0m.5-1.1h0m.1 .9h0m.2-.1h0m.3 .6h0m.2-1.5h0m.2 .6h0m.5 .6h0m.1 1.3h0m.2-2.3h0m0 .3h0m.1 1h0m.3-.3h0m0 .4h0m.1-1.6h0m.2 2.8h0m0-.7h0m.1-.6h0m0-.2h0m.1-1.1h0m0 .2h0m0 .9h0m.2 0h0m.1-1h0m0 .8h0m0 1h0m.3-1.1h0m0 .9h0m0 .7h0m0-2h0m.3 .7h0m0 1.4h0m.1-2.5h0m0 2.2h0m0-2.4h0m0 2.1h0m.5-1.4h0m.3-.7h0m.1 2.5h0m0-.5h0m.2-1.3h0m0 0h0m.1-.4h0m0-.2h0m0 1.3h0m.1 .3h0m.1 .8h0m.1-1.1h0m.1 1h0m0-1.3h0m.1-.2h0m0 .6h0m.1 .1h0m.1 .8h0m.1-.4h0m0 .5h0m.1-.8h0m0-1.7h0m0 2.8h0m.1 .1h0m.2-2.7h0m.1 2.6h0m.1-.2h0m.3-1.7h0m.1 .9h0m0 .7h0m0-2.2h0m.1 2.3h0m.1-1.7h0m.1 1.5h0m0-1.3h0m.1-.9h0m.1 .7h0m0 1.5h0m.1-.1h0m.1-1.2h0m0 .5h0m0 .9h0m.1-.7h0m.1-1h0m0 .1h0m.3-.3h0m0 2.1h0m.2-2.6h0m0 2.1h0m.1-1.7h0m.1 .2h0m0-.6h0m0 .4h0m.1 .4h0m0 1h0m.1 .7h0m0 .3h0m.1-2.6h0m.1 2.5h0m0-1.6h0m0-.4h0m.2 .3h0m.2 1.5h0m0-1.5h0m.1-.1h0m0-.5h0m0 1.7h0m.1 .2h0m0 .5h0m.1-2.4h0m0 .2h0m0-.2h0m0 .3h0m0 1.6h0m.2-.4h0m0-.1h0m0-.3h0m0-1.6h0m.1 1.8h0m.1-.2h0m.1-1h0m.1 .6h0m.1-.2h0m.1 .3h0m0-.6h0m.1 1.2h0m0-1h0m.1 .4h0m0 .2h0m.1-1.2h0m.1 .4h0m.1 1.3h0m.1-.7h0m0 .7h0m0-.3h0m0 0h0m.1 .2h0m0 .9h0m0-2.3h0m.1 1.8h0m.1-.8h0m0-.5h0m.1 .8h0m.1-1.4h0m.1 .6h0m0-.3h0m0 2h0m.1-2.1h0m.1 .6h0m0 1.1h0m0-.3h0m.1 .2h0m.1-1.7h0m0 .5h0m.1 1h0m0-2h0m.3 1.4h0m0-1.3h0m.1 1.2h0m.1 1.2h0m.1-1.1h0m.1 .9h0m.2-1.6h0m0 2.1h0m.1-2.3h0m.1 .6h0m0-1h0m0 .1h0m.3 .5h0m.1 1.5h0m0-.2h0m0-.7h0m.2 .4h0m0-.3h0m0 .2h0m0 .6h0m.1-.2h0m.2-.8h0m.1-.9h0m.7 1.8h0m0-.9h0m.2 1h0m0 .2h0m.4-1.3h0m.5-.8h0m.5 2.1h0m.4-2.3h0m.3 .5h0m.3 2h0m0-1.1h0m1.1-1.1h0m.3 1.5h0m.1-1.5h0m2.1 .1h0m.2 .6h0m-24.8 4.8h0m.2-1.7h0m2 1.2h0m.4 .1h0m.4-2.2h0m0 .2h0m.1 .9h0m.4 .6h0m.1-1.8h0m.1 0h0m0 .2h0m.3 1.9h0m0 .5h0m.2-2.3h0m0-.1h0m.2 .1h0m.1 1.3h0m.1-1h0m.3-.8h0m.1 .7h0m.1 .9h0m0-1.5h0m.1 2.1h0m0-.6h0m.3 0h0m.3-.1h0m.4 .3h0m.1 1h0m.1-1.8h0m0 .3h0m0-.6h0m.1 2.2h0m0-2.3h0m.2 .7h0m.1 1h0m.2-.6h0m.2 .1h0m0-.1h0m.1 .2h0m.1 .2h0m.2-1h0m.1 1.4h0m.1-2.1h0m.2 .6h0m0 .7h0m.3-1h0m.6 2.2h0m.2-.9h0m0-.6h0m0-1h0m.1 1.3h0m.1-.1h0m0 .6h0m0-1.5h0m0 1.5h0m.1 .7h0m.1-2.5h0m.1 1.4h0m0 1h0m0-1.8h0m.2 .6h0m0 .3h0m.1 .8h0m.1 .1h0m.2-2.1h0m0 1.6h0m.3 0h0m0-.9h0m.1-1.3h0m.1 .5h0m0 1.9h0m.1-.9h0m.1-.7h0m0 1.2h0m.1-.2h0m.1-.5h0m0 .1h0m.1-1h0m0 1.8h0m.1-1.2h0m.1-.9h0m.1 1.3h0m0 .4h0m.1-.4h0m0-.8h0m.1 1h0m0-.2h0m.2-.3h0m.1-.3h0m.1-.9h0m.1 1.1h0m0 .3h0m.1-.7h0m.2 .1h0m.1 1.1h0m.2 .2h0m0-1.9h0m.1 .8h0m0 .7h0m.1-.3h0m.2-.9h0m.1 1.4h0m0-.1h0m.1-1.7h0m.1 2.3h0m0-1.4h0m0 .3h0m.1 0h0m0 1.1h0m0-1.3h0m.1 1h0m0-1.5h0m.1-.4h0m0 .7h0m0 .9h0m.2-1.8h0m.1 1h0m.2 .6h0m.1 1.1h0m0-1.8h0m.1 .4h0m.1 .1h0m0 .6h0m.2 .2h0m0-.7h0m0 .9h0m.1-2.4h0m.1 .1h0m0 1.5h0m0-.6h0m.2 .8h0m.1 0h0m.3 .3h0m0 .8h0m0-.6h0m.4-1.4h0m.4 1.3h0m.2-1h0m.1 .5h0m.1-1.6h0m.1 2.8h0m.1-.6h0m.2-.1h0m0 .4h0m0-.8h0m0 1.1h0m.1-1.8h0m0 1.4h0m.1-2.4h0m0 1.9h0m.3-.4h0m.1 .4h0m0-.4h0m0 1.2h0m0-.6h0m.1-1.2h0m.1-.1h0m0-.6h0m.1 1.8h0m.5 .5h0m.1-.1h0m.1 .1h0m.2-2.4h0m.1 1.6h0m0-.5h0m.2 .2h0m0-1h0m.1-.5h0m0 2.4h0m.1-2.2h0m.1 1.1h0m.5-.5h0m1.7 .4h0m.3 1.3h0m1.9 .1h0m.8-2.3h0m1.9-.3h0m7.8 .4h0m-35.7 5.3h0m1-2.7h0m.3 1.5h0m.5 .3h0m.4-.7h0m2.1 .1h0m1.5 .8h0m.5 .6h0m0-.2h0m.6-2h0m.3 1.6h0m.1 .2h0m.1-.9h0m.3 .3h0m0 .7h0m.1 .3h0m.2-.5h0m.6 0h0m.1 .5h0m.1-1.7h0m0-.5h0m0 1.1h0m.3-.1h0m.1 1.2h0m.1-2.2h0m.2 1.6h0m0-1.8h0m.1 2.5h0m.1-.5h0m.1-1.9h0m0 .3h0m0 .8h0m.1 .6h0m0-1.9h0m.3 2.4h0m.1-.5h0m.1-1h0m.1-.7h0m.2 2.3h0m.4-1.9h0m.2 0h0m0 1.8h0m0 .4h0m0-2.4h0m.1 2.3h0m.1-2.4h0m0 1h0m.3 .4h0m.2 .5h0m.3 0h0m.1-2.1h0m0 1h0m0 1h0m.1-.7h0m0 .5h0m.1-1.4h0m0-.1h0m0 1h0m.1-.6h0m0 .9h0m0 .7h0m.1-1h0m.1 .3h0m.1-.4h0m.1 .8h0m.1-1h0m.2 1.6h0m.1-2h0m.2 .5h0m0 .7h0m0-1.3h0m.2 .3h0m.4 1.3h0m.1-.7h0m.1-1.1h0m0 .6h0m0 .5h0m.1-1.2h0m.1-.1h0m.1 2.3h0m0-2.3h0m.4 .3h0m.1 .9h0m0 .4h0m0-1.7h0m.1 2.1h0m.2-2.3h0m0 .6h0m.1 1.8h0m.2-2.1h0m0 .8h0m.2 1.6h0m.1-2.6h0m0 2.5h0m.1-1.1h0m0-.1h0m.1 1.3h0m0-.6h0m0-1.5h0m0-.5h0m.2 2h0m.1-1.3h0m.1-.7h0m.1-.1h0m.4 .7h0m0 .3h0m0 1.2h0m.1-1.4h0m0 1.8h0m.1-.4h0m.1-1.8h0m0 .6h0m.2 0h0m0 1.7h0m0-.6h0m0-1.1h0m.3-1h0m.1 1.6h0m0-1.2h0m0 2h0m.2-1.1h0m.2 1.3h0m.1-.1h0m.2-1.9h0m.4 0h0m.3 1.8h0m.1-.8h0m.1 1.2h0m.2-1h0m.2-1.6h0m.2-.1h0m0 2.4h0m0-.4h0m0 .6h0m.5-1.4h0m.5 .8h0m0-.8h0m.1-.2h0m.1 .2h0m.6 1.6h0m.1-.7h0m.4-1.9h0m.1 2.6h0m.1-1.9h0m0 .6h0m.1-.4h0m.1-.3h0m0 1.1h0m.2-.7h0m.1-.9h0m1.5 1.7h0m1.3-2.1h0m.8 1h0m.7 1.8h0m2.1-1.8h0m1.5 .1h0m-30.9 2.3h0m1 .3h0m2.3-.6h0m1.5 2.4h0m1-1.1h0m.2-1.2h0m.8 0h0m.7-.2h0m.3 .5h0m.2-.2h0m.1 2.3h0m.2-.4h0m.1-1.8h0m.3-.3h0m.1 1.3h0m.3-1.3h0m.1 .3h0m.4-.1h0m0 2.1h0m.1-2.2h0m0 1.4h0m.2-1.4h0m.1 .5h0m.2 .3h0m0 1.1h0m.1-1.9h0m.3 2.7h0m.4-1h0m.1 .1h0m.2-2h0m0 2.6h0m0-1h0m.2-.5h0m0 1.1h0m.1-.8h0m.1-1.4h0m0 .3h0m0 .2h0m.1 1.5h0m0-1.9h0m.1 .1h0m.1 2.2h0m.1-.1h0m0-1.8h0m.2-.2h0m0 2.5h0m.2-.6h0m0 .6h0m0-1.3h0m.1 1h0m.3-2.3h0m0 .1h0m.2-.2h0m.4 1.8h0m0 .5h0m.1-1.3h0m.2-1h0m.3 2.8h0m.1-.7h0m.1-1.1h0m.1 1.1h0m.3-.3h0m.2-.7h0m.1 .4h0m.1-1.4h0m.1-.2h0m.1 1h0m.1 .2h0m0 .6h0m.4-1.5h0m.1 1.4h0m.1-1.5h0m.1 1.9h0m.1 .3h0m.1 .3h0m.1-1.5h0m0-.1h0m0-1.1h0m.2 1.7h0m.1-1.2h0m0 2.2h0m.1 .2h0m.4-2.3h0m.1 .5h0m0 .8h0m.1 .9h0m.1-.5h0m.1-.5h0m.2 .1h0m.2 .9h0m.1-1.4h0m.4 1.3h0m.5-1.1h0m.3 .9h0m.5-1.8h0m.3 2.1h0m.8-2.6h0m.2 .1h0m0 .1h0m0-.3h0m.5 2.7h0m.2-.8h0m.2 .8h0m2.3-2.7h0m.2 1.8h0m2.6-1h0m-24.1 2.2h0m1.5 1.4h0m1-.2h0m.1-.1h0m.1 1.1h0m.1-.8h0m0-1.2h0m.9 1.2h0m.5 1.1h0m.1-2.1h0m.2-.1h0m.2 2.4h0m0-2.3h0m.5 1.8h0m.1-1.2h0m.2 1.4h0m.6 .2h0m.4-.7h0m.1-1.7h0m.4 .6h0m.2 .6h0m.4 .6h0m.2-.4h0m.1 0h0m.1-1.5h0m.3 2.1h0m.1-.9h0m.2 1.1h0m.5-2.1h0m.2 1.9h0m.1-1h0m0 1.1h0m.1-.4h0m.3-.3h0m.4-1.2h0m0-.5h0m.4 2.5h0m.3-1.7h0m.2-.3h0m0 1.9h0m.3-2.2h0m0 .8h0m.2-.5h0m.4 1.3h0m.1 .5h0m0-1.4h0m.1 0h0m.6-.2h0m0 .5h0m.2 .3h0m0-.5h0m.1 .6h0m0 .1h0m.1 0h0m.1 1.1h0m.1-2.7h0m0 2.5h0m.5 .3h0m.1-1.8h0m.1 .5h0m.1 .5h0m.5-.8h0m.6 .7h0m.5 0h0m.2-1.8h0m0 2.5h0m0-1.2h0m.4 .3h0m.1-1.3h0m0 .7h0m.2 .8h0m0-.9h0m.1-.4h0m.1 1.6h0m.2-1.5h0m.1 1.5h0m.1-2h0m.1 1.9h0m0-.8h0m.1 1.3h0m.4-1.4h0m.1 1.2h0m.3-2h0m2.3 .3h0m.1 .9h0m16.1 0h0m-35 1.3h0m.8 2h0m.1-.7h0m0 .5h0m.3 .1h0m.5 .7h0m.5-.9h0m.1-.1h0m.3 .6h0m.8 .4h0m1-.9h0m.1 .5h0m.2-1.3h0m1.3-.6h0m.3 1.8h0m.1-1.2h0m.5 1.4h0m.2 .1h0m0-1.7h0m.5 2.1h0m1-2.8h0m.2 2.6h0m.3-1h0m.4-.7h0m0 .4h0m0-.4h0m.1-.4h0m.5 .8h0m.2 .7h0m.5-1.6h0m.2-.2h0m.2 .2h0m0 .6h0m.1 0h0m0 .3h0m.1-.3h0m.1 .3h0m0 .1h0m.2 1.5h0m.2-1.9h0m.4 0h0m.1-.4h0m.2-.4h0m.1 .5h0m.4 .4h0m.2 1h0m.2-1.9h0m.6 .5h0m.8 .1h0m0-.3h0m0 .4h0m.2 1.1h0m0-2h0m.1 .8h0m.5 .4h0m.6 1.3h0m.1-1.6h0m2.3 1.8h0m-23.7 2.5h0m2-.6h0m3.5-1.4h0m.4 .3h0m1 2h0m1.3 .2h0m.2-.5h0m.9-1.3h0m.2 .3h0m.4 1.2h0m.4 .1h0m.6-2.2h0m.3 1.2h0m.3-1h0m.3 2.1h0m.4 .2h0m.5-2.7h0m.1 2.4h0m.1-1.6h0m0 1.6h0m.1-2.1h0m.3-.2h0m0 1h0m.7 1.4h0m.1-2.3h0m.1 1.7h0m0-.4h0m.2 .2h0m1-.6h0m.2 .9h0m.1 .8h0m.1-2.4h0m.4 2h0m.1-1.9h0m0 2.3h0m.1-2.6h0m0 .5h0m.3 1.4h0m.1-1.8h0m.1 1h0m.5 1.3h0m0-.3h0m.1-2.2h0m0-.2h0m.1 2.7h0m0-1h0m.5 .5h0m.6-1.4h0m.2 1.2h0m.3-.9h0m.9-.5h0m1.7 1.7h0m.1 .3h0m-19.8 .6h0m5.1 1.9h0m1.4-1.7h0m.9 .9h0m0-.6h0m0 .3h0m.2-.9h0m.2 .9h0m.9 .1h0m.1-.6h0m.2-.2h0m.4 1.1h0m.2 .1h0m0-1h0m.8 1.5h0m.5-1.7h0m.2 2.6h0m0-2.9h0m.2 1.1h0m.4 .1h0m.2-.6h0m.3 2.2h0m0-1.6h0m0-.3h0m.4 1.6h0m0-1.6h0m.2 1.5h0m.5 .1h0m1.1-1.1h0m.7-.4h0m2.2 .5h0m1 0h0m.2-.3h0m.4-.4h0m.4 1.7h0m7-2.3h0m-26.5 4.4h0m2.2-1.4h0m2.4-.2h0m2.1 .6h0m3.4-.2h0m1.8 1.4h0m.1-.7h0m0-1.1h0m.1 1.3h0m.2-1.1h0m.2 .3h0m.6-.1h0m.2 .1h0m0-.4h0m.2 1.6h0m0 .6h0m1.2-2.3h0m.4 .8h0m.1 1.1h0m.1-.6h0m3.3-.8h0m1.2 1.3h0m2-1.1h0m.4 .8h0m-26 3.7h0m9.9 0h0m.1-.2h0m.2-.9h0m3 .5h0m.1-1.3h0m.3 2.2h0m0-1.4h0m.7-.2h0m.1-.9h0m.5 1.8h0m.3-1.4h0m.5 .1h0m0 1.1h0m.1-.1h0m.5 .1h0m1.5 .8h0m.5 .4h0m1.9-1.4h0m.2 .4h0m1.8-.5h0m2.7-.9h0m-15.3 4.4h0m1.3-1h0m5.6-.7h0m2.2 .5h0m.7 1.4h0m.5-1.2h0m.8 .9h0m1.1-.3h0m2.2 .5h0m5.6-.8h0m-23.5 2.5h0m.9 .4h0m1.2 .4h0m1.7-1.4h0m.7 1.7h0m.6-.2h0m.3 .5h0m.1-2h0m0 .4h0m.3 2.3h0m.2 0h0m3.1-.4h0m2.9-1.7h0m1.3-.4h0m.2 2.5h0m.4-1.8h0m5.8 .2h0m.3 .1h0m6.4-1h0m-23.7 4.2h0m1.2 1h0m1 .2h0m1.5-2.2h0m.4 2h0m1.3-1.8h0m.6 1.4h0m1 .6h0m.3-1.3h0m1 .9h0m.2-2.1h0m1.8 2.7h0m.2-2.7h0m2.6 .4h0m.6 .8h0m.4-.9h0m-11.5 3.8h0m5.7 1.4h0m0 .3h0m1.9-1.2h0m1.2-1.4h0m.1 1.9h0m-19.1 1h0m8.5 2h0m.6-2.1h0m7.8 .1h0m.1 .6h0m2.3 .8h0m-10.4 3h0m5-.7h0m.9 .2h0m.3 1.1h0m1.8-.8h0m20.1 .1h0m-24.3 2.3h0m7.8 .7h0m1.1-.5h0m-12.3 3.2h0m.7-.9h0m2.6 .1h0m5.4 .5h0m.8-.3h0m1.7 2.3h0m-12.9 .3h0m3 .3h0m.8 1.2h0m2-1h0m2.7 2.2h0m3.1 2.5h0m8.9 .4h0m-13.4 5.3h0m7.4-1.4h0" stroke="#000" stroke-width="0.7" stroke-linecap="square" fill="none" stroke-opacity="0.88"/>
<line x1="109.7" y1="780.4" x2="109.7" y2="919.1" stroke="#505050" stroke-width="1"/>
<line x1="48.7" y1="854.8" x2="176.3" y2="854.8" stroke="#3a3a3a" stroke-width="1.3"/>
<rect x="48.7" y="780.4" width="127.6" height="138.7" fill="none" stroke="#5c5c5c" stroke-width="0.9"/>
<line x1="48.3" y1="919.1" x2="176.7" y2="919.1" stroke="#111" stroke-width="1.2"/>
<line x1="48.7" y1="780.4" x2="48.7" y2="919.1" stroke="#444" stroke-width="0.9"/>
<line x1="48.7" y1="919.1" x2="48.7" y2="922.1" stroke="#111" stroke-width="1.2"/>
<text class="san" x="50.1" y="936.4" font-size="5.2" text-anchor="start" fill="#111">10<tspan dx="0.4" dy="-2.4" font-size="4.94">0</tspan></text>
<line x1="54.76" y1="919.1" x2="54.76" y2="920.7" stroke="#333" stroke-width="0.5"/>
<line x1="58.96" y1="919.1" x2="58.96" y2="920.7" stroke="#333" stroke-width="0.5"/>
<line x1="61.93" y1="919.1" x2="61.93" y2="920.7" stroke="#333" stroke-width="0.5"/>
<line x1="64.24" y1="919.1" x2="64.24" y2="920.7" stroke="#333" stroke-width="0.5"/>
<line x1="66.12" y1="919.1" x2="66.12" y2="920.7" stroke="#333" stroke-width="0.5"/>
<line x1="67.71" y1="919.1" x2="67.71" y2="920.7" stroke="#333" stroke-width="0.5"/>
<line x1="69.09" y1="919.1" x2="69.09" y2="920.7" stroke="#333" stroke-width="0.5"/>
<line x1="70.31" y1="919.1" x2="70.31" y2="920.7" stroke="#333" stroke-width="0.5"/>
<line x1="71.4" y1="919.1" x2="71.4" y2="922.1" stroke="#111" stroke-width="1.2"/>
<text class="san" x="68.1" y="936.4" font-size="5.2" text-anchor="start" fill="#111">10<tspan dx="0.4" dy="-2.4" font-size="4.94">1</tspan></text>
<line x1="78.56" y1="919.1" x2="78.56" y2="920.7" stroke="#333" stroke-width="0.5"/>
<line x1="82.76" y1="919.1" x2="82.76" y2="920.7" stroke="#333" stroke-width="0.5"/>
<line x1="85.73" y1="919.1" x2="85.73" y2="920.7" stroke="#333" stroke-width="0.5"/>
<line x1="88.04" y1="919.1" x2="88.04" y2="920.7" stroke="#333" stroke-width="0.5"/>
<line x1="89.92" y1="919.1" x2="89.92" y2="920.7" stroke="#333" stroke-width="0.5"/>
<line x1="91.51" y1="919.1" x2="91.51" y2="920.7" stroke="#333" stroke-width="0.5"/>
<line x1="92.89" y1="919.1" x2="92.89" y2="920.7" stroke="#333" stroke-width="0.5"/>
<line x1="94.11" y1="919.1" x2="94.11" y2="920.7" stroke="#333" stroke-width="0.5"/>
<line x1="95.2" y1="919.1" x2="95.2" y2="922.1" stroke="#111" stroke-width="1.2"/>
<text class="san" x="91.9" y="936.4" font-size="5.2" text-anchor="start" fill="#111">10<tspan dx="0.4" dy="-2.4" font-size="4.94">2</tspan></text>
<line x1="102.36" y1="919.1" x2="102.36" y2="920.7" stroke="#333" stroke-width="0.5"/>
<line x1="106.56" y1="919.1" x2="106.56" y2="920.7" stroke="#333" stroke-width="0.5"/>
<line x1="109.53" y1="919.1" x2="109.53" y2="920.7" stroke="#333" stroke-width="0.5"/>
<line x1="111.84" y1="919.1" x2="111.84" y2="920.7" stroke="#333" stroke-width="0.5"/>
<line x1="113.72" y1="919.1" x2="113.72" y2="920.7" stroke="#333" stroke-width="0.5"/>
<line x1="115.31" y1="919.1" x2="115.31" y2="920.7" stroke="#333" stroke-width="0.5"/>
<line x1="116.69" y1="919.1" x2="116.69" y2="920.7" stroke="#333" stroke-width="0.5"/>
<line x1="117.91" y1="919.1" x2="117.91" y2="920.7" stroke="#333" stroke-width="0.5"/>
<line x1="119" y1="919.1" x2="119" y2="922.1" stroke="#111" stroke-width="1.2"/>
<text class="san" x="115.7" y="936.4" font-size="5.2" text-anchor="start" fill="#111">10<tspan dx="0.4" dy="-2.4" font-size="4.94">3</tspan></text>
<line x1="126.16" y1="919.1" x2="126.16" y2="920.7" stroke="#333" stroke-width="0.5"/>
<line x1="130.36" y1="919.1" x2="130.36" y2="920.7" stroke="#333" stroke-width="0.5"/>
<line x1="133.33" y1="919.1" x2="133.33" y2="920.7" stroke="#333" stroke-width="0.5"/>
<line x1="135.64" y1="919.1" x2="135.64" y2="920.7" stroke="#333" stroke-width="0.5"/>
<line x1="137.52" y1="919.1" x2="137.52" y2="920.7" stroke="#333" stroke-width="0.5"/>
<line x1="139.11" y1="919.1" x2="139.11" y2="920.7" stroke="#333" stroke-width="0.5"/>
<line x1="140.49" y1="919.1" x2="140.49" y2="920.7" stroke="#333" stroke-width="0.5"/>
<line x1="141.71" y1="919.1" x2="141.71" y2="920.7" stroke="#333" stroke-width="0.5"/>
<line x1="142.8" y1="919.1" x2="142.8" y2="922.1" stroke="#111" stroke-width="1.2"/>
<text class="san" x="139.5" y="936.4" font-size="5.2" text-anchor="start" fill="#111">10<tspan dx="0.4" dy="-2.4" font-size="4.94">4</tspan></text>
<line x1="149.96" y1="919.1" x2="149.96" y2="920.7" stroke="#333" stroke-width="0.5"/>
<line x1="154.16" y1="919.1" x2="154.16" y2="920.7" stroke="#333" stroke-width="0.5"/>
<line x1="157.13" y1="919.1" x2="157.13" y2="920.7" stroke="#333" stroke-width="0.5"/>
<line x1="159.44" y1="919.1" x2="159.44" y2="920.7" stroke="#333" stroke-width="0.5"/>
<line x1="161.32" y1="919.1" x2="161.32" y2="920.7" stroke="#333" stroke-width="0.5"/>
<line x1="162.91" y1="919.1" x2="162.91" y2="920.7" stroke="#333" stroke-width="0.5"/>
<line x1="164.29" y1="919.1" x2="164.29" y2="920.7" stroke="#333" stroke-width="0.5"/>
<line x1="165.51" y1="919.1" x2="165.51" y2="920.7" stroke="#333" stroke-width="0.5"/>
<line x1="166.6" y1="919.1" x2="166.6" y2="922.1" stroke="#111" stroke-width="1.2"/>
<text class="san" x="163.3" y="936.4" font-size="5.2" text-anchor="start" fill="#111">10<tspan dx="0.4" dy="-2.4" font-size="4.94">5</tspan></text>
<line x1="173.76" y1="919.1" x2="173.76" y2="920.7" stroke="#333" stroke-width="0.5"/>
<line x1="45.7" y1="919.1" x2="48.7" y2="919.1" stroke="#111" stroke-width="1.2"/>
<text class="san" x="42.5" y="917.2" font-size="5.2" text-anchor="end" fill="#111">10<tspan dx="0.4" dy="-2.4" font-size="4.94">0</tspan></text>
<line x1="47.1" y1="911.11" x2="48.7" y2="911.11" stroke="#333" stroke-width="0.5"/>
<line x1="47.1" y1="906.15" x2="48.7" y2="906.15" stroke="#333" stroke-width="0.5"/>
<line x1="47.1" y1="902.62" x2="48.7" y2="902.62" stroke="#333" stroke-width="0.5"/>
<line x1="47.1" y1="899.89" x2="48.7" y2="899.89" stroke="#333" stroke-width="0.5"/>
<line x1="47.1" y1="897.66" x2="48.7" y2="897.66" stroke="#333" stroke-width="0.5"/>
<line x1="47.1" y1="895.77" x2="48.7" y2="895.77" stroke="#333" stroke-width="0.5"/>
<line x1="47.1" y1="894.13" x2="48.7" y2="894.13" stroke="#333" stroke-width="0.5"/>
<line x1="47.1" y1="892.69" x2="48.7" y2="892.69" stroke="#333" stroke-width="0.5"/>
<line x1="45.7" y1="891.4" x2="48.7" y2="891.4" stroke="#111" stroke-width="1.2"/>
<text class="san" x="42.5" y="893" font-size="5.2" text-anchor="end" fill="#111">10<tspan dx="0.4" dy="-2.4" font-size="4.94">1</tspan></text>
<line x1="47.1" y1="882.91" x2="48.7" y2="882.91" stroke="#333" stroke-width="0.5"/>
<line x1="47.1" y1="877.95" x2="48.7" y2="877.95" stroke="#333" stroke-width="0.5"/>
<line x1="47.1" y1="874.42" x2="48.7" y2="874.42" stroke="#333" stroke-width="0.5"/>
<line x1="47.1" y1="871.69" x2="48.7" y2="871.69" stroke="#333" stroke-width="0.5"/>
<line x1="47.1" y1="869.46" x2="48.7" y2="869.46" stroke="#333" stroke-width="0.5"/>
<line x1="47.1" y1="867.57" x2="48.7" y2="867.57" stroke="#333" stroke-width="0.5"/>
<line x1="47.1" y1="865.93" x2="48.7" y2="865.93" stroke="#333" stroke-width="0.5"/>
<line x1="47.1" y1="864.49" x2="48.7" y2="864.49" stroke="#333" stroke-width="0.5"/>
<line x1="45.7" y1="863.2" x2="48.7" y2="863.2" stroke="#111" stroke-width="1.2"/>
<text class="san" x="42.5" y="864.8" font-size="5.2" text-anchor="end" fill="#111">10<tspan dx="0.4" dy="-2.4" font-size="4.94">2</tspan></text>
<line x1="47.1" y1="854.71" x2="48.7" y2="854.71" stroke="#333" stroke-width="0.5"/>
<line x1="47.1" y1="849.75" x2="48.7" y2="849.75" stroke="#333" stroke-width="0.5"/>
<line x1="47.1" y1="846.22" x2="48.7" y2="846.22" stroke="#333" stroke-width="0.5"/>
<line x1="47.1" y1="843.49" x2="48.7" y2="843.49" stroke="#333" stroke-width="0.5"/>
<line x1="47.1" y1="841.26" x2="48.7" y2="841.26" stroke="#333" stroke-width="0.5"/>
<line x1="47.1" y1="839.37" x2="48.7" y2="839.37" stroke="#333" stroke-width="0.5"/>
<line x1="47.1" y1="837.73" x2="48.7" y2="837.73" stroke="#333" stroke-width="0.5"/>
<line x1="47.1" y1="836.29" x2="48.7" y2="836.29" stroke="#333" stroke-width="0.5"/>
<line x1="45.7" y1="835" x2="48.7" y2="835" stroke="#111" stroke-width="1.2"/>
<text class="san" x="42.5" y="836.6" font-size="5.2" text-anchor="end" fill="#111">10<tspan dx="0.4" dy="-2.4" font-size="4.94">3</tspan></text>
<line x1="47.1" y1="826.51" x2="48.7" y2="826.51" stroke="#333" stroke-width="0.5"/>
<line x1="47.1" y1="821.55" x2="48.7" y2="821.55" stroke="#333" stroke-width="0.5"/>
<line x1="47.1" y1="818.02" x2="48.7" y2="818.02" stroke="#333" stroke-width="0.5"/>
<line x1="47.1" y1="815.29" x2="48.7" y2="815.29" stroke="#333" stroke-width="0.5"/>
<line x1="47.1" y1="813.06" x2="48.7" y2="813.06" stroke="#333" stroke-width="0.5"/>
<line x1="47.1" y1="811.17" x2="48.7" y2="811.17" stroke="#333" stroke-width="0.5"/>
<line x1="47.1" y1="809.53" x2="48.7" y2="809.53" stroke="#333" stroke-width="0.5"/>
<line x1="47.1" y1="808.09" x2="48.7" y2="808.09" stroke="#333" stroke-width="0.5"/>
<line x1="45.7" y1="806.8" x2="48.7" y2="806.8" stroke="#111" stroke-width="1.2"/>
<text class="san" x="42.5" y="808.4" font-size="5.2" text-anchor="end" fill="#111">10<tspan dx="0.4" dy="-2.4" font-size="4.94">4</tspan></text>
<line x1="47.1" y1="798.31" x2="48.7" y2="798.31" stroke="#333" stroke-width="0.5"/>
<line x1="47.1" y1="793.35" x2="48.7" y2="793.35" stroke="#333" stroke-width="0.5"/>
<line x1="47.1" y1="789.82" x2="48.7" y2="789.82" stroke="#333" stroke-width="0.5"/>
<line x1="47.1" y1="787.09" x2="48.7" y2="787.09" stroke="#333" stroke-width="0.5"/>
<line x1="47.1" y1="784.86" x2="48.7" y2="784.86" stroke="#333" stroke-width="0.5"/>
<line x1="47.1" y1="782.97" x2="48.7" y2="782.97" stroke="#333" stroke-width="0.5"/>
<line x1="47.1" y1="781.33" x2="48.7" y2="781.33" stroke="#333" stroke-width="0.5"/>
<text class="ser" x="114.8" y="774.2" font-size="9.2" text-anchor="middle" fill="#3c3c3c" stroke-width="0.1" stroke="#444">mimic NC</text>
<text class="ser" x="145.4" y="815.1" font-size="9.2" text-anchor="middle" fill="#3c3c3c" stroke-width="0.1" stroke="#444">PC</text>
<text class="ser" x="145.4" y="826.2" font-size="9.2" text-anchor="middle" fill="#3c3c3c" stroke-width="0.1" stroke="#444">1.85%</text>
<text class="ser" x="143.7" y="884.4" font-size="9.2" text-anchor="middle" fill="#3c3c3c" stroke-width="0.1" stroke="#444">PB</text>
<text class="ser" x="143.7" y="895.2" font-size="9.2" text-anchor="middle" fill="#3c3c3c" stroke-width="0.1" stroke="#444">0.38%</text>
<line x1="27.9" y1="944" x2="27.9" y2="882.1" stroke="#222" stroke-width="1"/>
<line x1="27.4" y1="943.5" x2="90.7" y2="943.5" stroke="#222" stroke-width="1"/>
<path d="M27.9 876.1 l3.6 7.4 h-7.2 Z" fill="#000"/>
<path d="M96.7 943.5 l-7.4 -3.6 v7.2 Z" fill="#000"/>
<text class="ser" x="24.8" y="913.7" font-size="9.2" text-anchor="middle" fill="#111" transform="rotate(-90 24.8 913.7)">CD138</text>
<text class="ser" x="47.2" y="955.7" font-size="9.2" fill="#111">CD38</text>
<path d="M270.1 810.7h0m5.6 2.2h0m2.9-2.2h0m-6.8 3.1h0m3 1.2h0m4.8 .6h0m1 0h0m.9-.8h0m.5 .3h0m1.7 .8h0m2.3-2.7h0m12.8 1.4h0m-26.7 3.7h0m.1-.8h0m1.8 .9h0m6-1.4h0m2.8 1.6h0m.2 0h0m4.6 .2h0m2.7-2.4h0m3.6 1.5h0m-24.3 3.3h0m1.1-.6h0m.7-1.4h0m.4 1.2h0m.5 .5h0m1.4-1.9h0m1 1.3h0m1.8 .6h0m0-1.5h0m.4 1.3h0m1.1 .3h0m0 .6h0m.7-1.1h0m1.4-1.2h0m.3 2.1h0m.5-1.8h0m.2-.5h0m0 2.6h0m.1-.8h0m9.7-.9h0m2.4 1h0m-32.4 3.7h0m6.1-1.4h0m1.3 .3h0m1.1 .9h0m.1-1.3h0m1.4 1.6h0m1.4-1.4h0m.8-.7h0m.5 2.2h0m.2 0h0m.2-2.5h0m.2 1.4h0m.8-.6h0m.3-1.1h0m1.6 .7h0m.5 0h0m.1 .5h0m.1 .6h0m.1-.6h0m1.4 .7h0m.6 .8h0m.1-1.5h0m.2 .8h0m1.8-1.8h0m.2 1h0m.1-1.1h0m.4 2.7h0m.2-1.4h0m.9 1.2h0m.2-1.4h0m.4-.3h0m2.6 1.4h0m.4-.7h0m3.6-.9h0m-27.5 3.1h0m.8 .7h0m.5-.2h0m.2 .7h0m.2 0h0m.2-1.1h0m.5 1.4h0m.5-2.3h0m.5 1.8h0m.8 1h0m.2-.1h0m.6-1.4h0m.1 1.2h0m.5-1h0m.2-.6h0m.2 .3h0m.8 1.1h0m.5-.3h0m.9 .2h0m0 .5h0m.9-1.4h0m0 1.2h0m.1-2h0m.3 1.5h0m0-1.5h0m.2 .3h0m.3 1.6h0m.8-2.5h0m0 2.9h0m.4-.2h0m.3-1.2h0m.2 1.2h0m.1-1.4h0m0 1.3h0m.4-2.1h0m.3 .8h0m0-.6h0m.3 .4h0m.1 1.1h0m.1-1.9h0m.1 1.4h0m.3-1.2h0m.1 1.1h0m.1 .6h0m0-1.3h0m.1 2h0m0-.6h0m.7 .5h0m.4-2.2h0m0 1.3h0m.2-.1h0m.2 .1h0m.1 .5h0m.8 .4h0m0-.8h0m0-1.9h0m1.1 1h0m.8 1.1h0m.1-.6h0m.3 .9h0m.1 .4h0m.3-2.5h0m.1 0h0m.1 .8h0m.1-.4h0m1 2h0m.1-.3h0m.3-1.2h0m0 .5h0m1 1.1h0m.1-2.9h0m.2 2.5h0m.7-.5h0m.9 .2h0m.9 .7h0m.4-2.6h0m.7 .5h0m3.8 .4h0m.7-.4h0m.9 .5h0m.4-.9h0m1.7 1.2h0m-34.6 2.7h0m1.1-.1h0m.3 1.3h0m1.6-1.4h0m.7 1.5h0m.3-1.7h0m.1-.8h0m1.1 .2h0m.5 1.8h0m0 .2h0m.3-.2h0m.5 0h0m.1-.3h0m.5 .6h0m.4-1.6h0m.4 .5h0m.1 .6h0m0-.8h0m.3 .7h0m.1 .7h0m0-.2h0m.4 .5h0m.1-2.5h0m.1 1.5h0m0 1.1h0m.5-1.5h0m.2 1.4h0m.1-1.5h0m.2-.5h0m0-.4h0m.1 2.1h0m.2-2.2h0m0 1.2h0m.1 1.2h0m.1-1.3h0m.1-.7h0m.2 .4h0m.1 .2h0m.2 1.3h0m0-.9h0m.2 .4h0m.1 .1h0m.1 .3h0m.2-.1h0m.2-.9h0m0-1.4h0m.1 1.3h0m.5-.4h0m.2 .7h0m.1 .3h0m.3-1.8h0m.2 1.5h0m.2 .9h0m0-1.5h0m.2-.3h0m.1 0h0m.1 0h0m0-.2h0m.5 1.5h0m0 .1h0m.1-.3h0m.1-.1h0m0-.9h0m0 1.5h0m0-1h0m.1-.2h0m0 .3h0m0 .7h0m.2-1.5h0m0 1h0m.1-.5h0m0 0h0m.1 1.1h0m0 .4h0m.1-.4h0m0 .3h0m.1-.1h0m.2-.5h0m.1-.9h0m0-.1h0m.3-.6h0m.5 .6h0m.2 1.8h0m0-2.2h0m0 .9h0m0 1h0m.1 0h0m.2-1.2h0m0-.8h0m.5 0h0m.3 2h0m0-2.2h0m.2 1.7h0m.1 .5h0m.3-1.5h0m.1-.4h0m0 1.6h0m.1 .2h0m.4-1.5h0m.3-.6h0m.1 2.5h0m.1-1h0m0 .2h0m.1-1.7h0m.1 1.8h0m.1 .7h0m.1-1.5h0m.3 .5h0m.1 .8h0m0 .3h0m.1-1.5h0m0-.8h0m.2 1.5h0m.9-2h0m.1 1.8h0m0 .2h0m.2 .3h0m.2-.9h0m.4 .7h0m.1-.2h0m.6-.2h0m.1 .3h0m.3 0h0m.5 .8h0m.3-1.6h0m.9-.5h0m2 1.7h0m1.2-2.4h0m.3 2.8h0m.8-.6h0m.4 0h0m2.7-2.3h0m.5 0h0m1.8 .9h0m5.3 1.3h0m-38.8 2.2h0m0 .9h0m1.1-2h0m.1 2.2h0m1.9-.9h0m0 0h0m0 1.3h0m0-1.3h0m.3-.2h0m0 .4h0m.1 .9h0m.4-1.6h0m.1 1.2h0m0-2.2h0m.2 1.8h0m.1 .5h0m.4 .3h0m0-1.5h0m.1-1h0m.3 0h0m.2 1.4h0m.4 .8h0m0-1.7h0m.3 1.1h0m.1 0h0m.1-1.4h0m.2 .4h0m.1 .7h0m0-1.3h0m.1-.1h0m0 2.3h0m.2-1.3h0m.1 .5h0m.2 .1h0m0 .7h0m0-2.4h0m.1 .5h0m.1 1.7h0m.2-.7h0m.2 .8h0m.1-1.9h0m.1 .1h0m.5 .8h0m.1 1.3h0m0-.6h0m0-1.6h0m.1 2.4h0m.1-1.4h0m0 .2h0m.4 .9h0m0-2.5h0m0 2.6h0m.1-1.3h0m.1-1.1h0m0-.1h0m.1 1.2h0m0-.7h0m.1 1.4h0m0 .8h0m.1-2.2h0m0 0h0m.1 .3h0m.1 0h0m.1-.7h0m0 .3h0m.1 .9h0m.1-.9h0m.1 1.2h0m0-.2h0m0-.7h0m.1 1.2h0m0-1.4h0m.1 1.2h0m.1 0h0m.1-1.3h0m.2 .9h0m.1 .5h0m0-.6h0m.1 .7h0m.1-.3h0m0 .5h0m.2 .2h0m0-.3h0m.2-1.8h0m0 2.1h0m0-.4h0m0-1.1h0m.1-.1h0m0 .8h0m.2 .9h0m.1-.6h0m.2-.9h0m.3 .4h0m0 .3h0m.1-.1h0m0-1.4h0m.1 .8h0m.2-.6h0m.1-.2h0m0 1.5h0m0-1.1h0m.1 1.6h0m.2 .1h0m0-2h0m.2 1.1h0m.2 .6h0m0-1.2h0m.3 1.6h0m0 0h0m.1-.9h0m0 .8h0m0-.6h0m0-.5h0m.2 .9h0m.2-2h0m.1 .2h0m0 .7h0m.1-.3h0m0 1.8h0m0 .1h0m.1-2.4h0m.1 1.6h0m0 .9h0m.2-1.1h0m.1 .2h0m0-1h0m.1 2.1h0m0-1.1h0m.2-.5h0m.1-.5h0m.1 .5h0m.1 .2h0m.1 .4h0m0-.8h0m.1-.8h0m0 1.7h0m.3-.3h0m0-.9h0m.2 .8h0m.3 1h0m.1-1.3h0m.1 .2h0m0 .9h0m0-1h0m.2 1.5h0m.1-2.7h0m.1 2.7h0m0-1.8h0m.1 1.2h0m.8 .1h0m.3-.5h0m.4 .7h0m.1-.8h0m0-.2h0m.1-.9h0m.3 1.6h0m.1-.1h0m.2-1.9h0m.6 1.6h0m.6-.6h0m.3 .1h0m0 1.5h0m1.3-.7h0m.1-.1h0m2.2-1.5h0m.7 2.1h0m.2-1.3h0m4.2 .6h0m2.4-.5h0m-34.8 1.7h0m2 .8h0m.4 .2h0m1.9 1.6h0m.7-1.2h0m0-.2h0m.4-.2h0m.6-.6h0m.3-.6h0m0 .2h0m.1 1h0m0 1.2h0m.3-2.4h0m.2 .7h0m.1 1.4h0m.6-1.8h0m.6 .5h0m0 1.7h0m.1 .4h0m.1-.7h0m.2-1.9h0m.1 1.7h0m.1-.9h0m0 1.4h0m.4-2.4h0m.1 0h0m.1 1.8h0m.2-.3h0m.1-.2h0m.1 1.1h0m0 .3h0m.2-1h0m.2 .5h0m.3 .2h0m.4-2.2h0m0 .6h0m.1 .5h0m0 .5h0m0-.8h0m0-.5h0m0 1.1h0m.2-.5h0m.2-.1h0m.1 .4h0m.1-.5h0m0 .9h0m0-.2h0m0-.6h0m.3 1.6h0m.1-.4h0m0-1h0m0-.9h0m.1 .5h0m0-.4h0m0 .7h0m.1 0h0m.1-1.2h0m.2 1.6h0m0 .6h0m0-.6h0m.1 1h0m.1-2.6h0m0 .2h0m.1 .4h0m.1 .5h0m0 .1h0m.2 .2h0m.2-1.4h0m0 1.5h0m0-1.4h0m.1 .2h0m.1 1.9h0m0 0h0m.1 .5h0m.1-.4h0m.1-.1h0m0-.9h0m.1 1.4h0m0-1.8h0m0 1.3h0m.1 .2h0m0-1.8h0m0 1.7h0m.1 .3h0m.1-1.9h0m.1 1.7h0m.1 .4h0m0-2.5h0m0 1.2h0m0-1h0m.1 1.6h0m0-1h0m.1 .3h0m.1 1.4h0m0-.3h0m.1-.1h0m.1-2.2h0m0 1.5h0m0-.8h0m0 1.9h0m.1-.5h0m.1-.9h0m.2 .8h0m0 .7h0m.1-1.2h0m0 .3h0m0 .9h0m0-1.1h0m.2-1.8h0m.2 1.9h0m.1 .2h0m.1 .8h0m0-2.5h0m.2 .5h0m0 .3h0m0 1.2h0m.1-1.3h0m.1 1.1h0m0-1.2h0m0-.6h0m.1 .6h0m0 .9h0m0-1.9h0m0 2h0m.1-1.4h0m0-.5h0m0 .7h0m0 1h0m0-.2h0m.1-.2h0m.3-1.3h0m.1 1h0m.1-.7h0m0 1.6h0m.1 0h0m.1-.2h0m.1-.1h0m0-.9h0m0 .9h0m.1 1h0m.1-.7h0m0 .7h0m0-.7h0m0 .9h0m0-.6h0m.1-2.1h0m.1 .4h0m.1 .7h0m0 1.5h0m0-1.4h0m.1-.1h0m.3-.7h0m.1 1.7h0m.1-.8h0m0-1.4h0m.1 2h0m0-2.1h0m.2 2.9h0m.1-1.4h0m0-.9h0m.1-.3h0m0 1.3h0m0-.9h0m.2-.4h0m0 1.9h0m0-1.5h0m.2 .4h0m.3-.6h0m.1 .4h0m0 1.1h0m.1-.6h0m.3 .6h0m0-.1h0m0 .7h0m0-1.9h0m.2 .5h0m.1 .1h0m.2 1h0m.1-.1h0m0-1.2h0m0 .9h0m.3 .1h0m.1-1.9h0m.1 2.6h0m.1-2.7h0m.3 1.5h0m.7 .8h0m.7-1.4h0m.1 1.1h0m.4-.6h0m.3-.5h0m.2 .2h0m2.5-.6h0m.2 2.2h0m.5-1.9h0m.3 .2h0m1 .4h0m.2-1h0m2.7 .1h0m.2 2.4h0m.7-2.1h0m4.3 .9h0m.1-1.2h0m.5 1.8h0m1.5-.4h0m-39.9 4h0m2.5 0h0m1-.2h0m.3-1.3h0m.3 .1h0m0-.4h0m.1 .2h0m0 1.2h0m.2-1.6h0m.5 1.1h0m.2 0h0m1.1-.5h0m.4 1.4h0m.2-1.5h0m.3 1.2h0m.1-.5h0m0-.6h0m.1 .1h0m0-.6h0m.3 1.6h0m.1-.3h0m0-1.9h0m.1 .4h0m.1 1.8h0m.3-.2h0m.2 .2h0m.1-2.5h0m0 2h0m.2-1.8h0m0-.1h0m.1 1h0m.1 1h0m.1-1.4h0m0 .1h0m0 .7h0m.3-.4h0m.1-.5h0m.2 .6h0m.1-.5h0m.1 1.2h0m0-.2h0m0 0h0m0 0h0m.2 1.1h0m0-1.5h0m.2-.5h0m.1 1h0m0-.3h0m.1 1.2h0m.1-.9h0m0 1h0m0-1.2h0m.1 1h0m0-.8h0m.3-1.8h0m0 1.3h0m.1 .6h0m0 .8h0m0-1.3h0m0 .7h0m.1 .5h0m.2-2.1h0m.1-.4h0m.2 2.6h0m0-.7h0m.2-.2h0m.2-.1h0m0-1.1h0m.1 1.7h0m0-.5h0m.1 0h0m.1 .5h0m0-.6h0m0 .4h0m.1 .5h0m0-.2h0m.1-1.7h0m0 1.6h0m0-1.9h0m0-.1h0m.1 2.5h0m0-1.5h0m0-1.4h0m.1 1.3h0m0-.1h0m.1-1.1h0m.2 2.8h0m.3-2.7h0m0 .1h0m.1 1.9h0m0-.5h0m0-.6h0m.1-.7h0m.1 1.7h0m.1 .2h0m0-.8h0m0-.1h0m.1-1.4h0m0 2h0m0-.3h0m.1 .5h0m0 .1h0m0-.2h0m.1-1.6h0m.1 1.1h0m0-.9h0m.1 .1h0m0 1.5h0m0-.7h0m.1-1.3h0m0 1.3h0m.1-.4h0m.1 0h0m0 1.1h0m0-1.9h0m0-.2h0m.2 1.9h0m0 .6h0m0-1.5h0m0-1.2h0m.1 2.7h0m0-.7h0m0 .5h0m.2-.9h0m0 0h0m0-1.3h0m0 1.4h0m.1 .4h0m0-1.3h0m.1 .9h0m0 .6h0m.2-.3h0m0-.3h0m0 .7h0m.1-1.4h0m.2 1.4h0m0-.8h0m0 .4h0m.1-.6h0m.1-.6h0m.1 .4h0m.2-.4h0m.1 .9h0m.1 .9h0m.1-.8h0m.1-.3h0m.1-.4h0m.1 .7h0m0-.8h0m.1 1.2h0m0-.9h0m.1 1.4h0m.1-.2h0m0-.5h0m0 .7h0m.1-.6h0m.2 .4h0m0-1.3h0m.1-1.1h0m0 1.4h0m0 1h0m.2-.5h0m0-.4h0m0 .7h0m.1-.2h0m0 .5h0m0 .3h0m0-.4h0m.1-1.6h0m0 1.4h0m.1 0h0m0-.1h0m.1-2.1h0m.1 2.3h0m0-.5h0m0 .5h0m0-2.3h0m.1 2.6h0m0-2.3h0m.1 .8h0m.1-.6h0m.3 1.6h0m0-1h0m.1 1.3h0m.1-2.4h0m0 .6h0m.1 .7h0m0-1.3h0m0 .3h0m0 .5h0m0 1.5h0m0-.1h0m.1-.8h0m0 .5h0m0-1.8h0m.2 2.7h0m0 0h0m.1-1.4h0m0-.1h0m0 0h0m0 .3h0m0 .2h0m.2-1.2h0m.1 2.2h0m.1-1.9h0m.1-.1h0m.1 .9h0m0 .1h0m.1-.5h0m.1-.2h0m.1 .8h0m0 .8h0m0-.7h0m.1-1.1h0m.4-.6h0m.1 2.2h0m.4-.2h0m.1-2h0m0 .6h0m.1 .3h0m.4 .7h0m.1-1.9h0m0 2.7h0m.1-1.8h0m.6-.5h0m.1 1.2h0m.1-.4h0m.1 1.1h0m.3-.6h0m.2-.9h0m.7-.1h0m.1 .8h0m.2 .6h0m.6-1.9h0m.5 2.2h0m.1-1.4h0m.1-1.1h0m.1 .6h0m.2-.5h0m.1 2.6h0m.1-.9h0m.3 .5h0m.1-.2h0m.4 .6h0m.3-.8h0m.3 .1h0m.1-.2h0m1.1-.2h0m.4-.2h0m.7-1.3h0m2 .2h0m.1 1.6h0m1.5 1h0m1.6-2.2h0m.5-.3h0m-38 4.1h0m2.6 .8h0m.8-.8h0m.7 1.2h0m.6-1.1h0m.3-.5h0m.1 .8h0m.7-1.7h0m0 2h0m.5-1.3h0m.3 0h0m.2-.1h0m.2 1.4h0m.1 .2h0m.2-1.3h0m.8 .2h0m.1-.2h0m.2 .5h0m.1-.8h0m.1-.2h0m.2-.5h0m.1 2.2h0m.4-2h0m0 1.6h0m.2-1.2h0m.3 2.2h0m.2-2.4h0m0 2.1h0m.2 .2h0m0-.6h0m.2-1.2h0m0-.1h0m0 .4h0m0 .5h0m.2-1.2h0m0 .9h0m.5 1.2h0m.1-1.2h0m0-1.4h0m.2 2.2h0m.1-.1h0m0-.9h0m.1-.7h0m0 .4h0m.1 1.4h0m0-2h0m.1 .2h0m.1-.2h0m0 1.3h0m.1-.2h0m.2 .3h0m0 .2h0m.1-1.2h0m.1 1.9h0m.1-.9h0m0-.4h0m.1 .6h0m0-1h0m.1 1.7h0m0-1.8h0m0-.4h0m0 2.4h0m.1-1h0m.2-.8h0m0 .4h0m.1-1h0m.1 1h0m0-.6h0m.1 .9h0m0-.7h0m0-.1h0m.1 1.5h0m0-.5h0m0 0h0m.1-1h0m0-.1h0m.1 .9h0m0-1.8h0m.1 2h0m.1-1.5h0m.1 .2h0m0-.5h0m.1 1.9h0m0-1h0m.1-.3h0m.1 1h0m0-.4h0m.2 1.4h0m0 .1h0m.1-2.2h0m0-.5h0m.1 1.6h0m.1 .5h0m0-.3h0m.1 .6h0m0-.4h0m0-1.1h0m.1-.5h0m.1-.2h0m.2 .7h0m0-.1h0m0 1.8h0m.1-.3h0m0 .4h0m0-2.3h0m.1 .6h0m0 .4h0m.1-.3h0m0-.8h0m0 .7h0m.1 .6h0m0 1h0m0-2.7h0m0 2h0m.1-.9h0m0 1h0m.1-1.7h0m.1 .3h0m.2 1.5h0m0-2h0m.1-.2h0m0 2.5h0m0-.8h0m.1-.9h0m0 1.6h0m.2-1.8h0m0 1.7h0m0-2.1h0m.1 .9h0m0 .2h0m.1 1h0m.1-.5h0m0-1.7h0m.1 1.8h0m0-1.3h0m0 0h0m0-.5h0m.1 1.2h0m.1-.1h0m0-.8h0m0 2.2h0m.1-.5h0m0-1.2h0m0-.7h0m.1 1.7h0m.1 .1h0m0-1.8h0m0 .1h0m0 1.7h0m.2-1.7h0m0 2.1h0m0-.8h0m.2-1.2h0m.1 2.1h0m0-1.1h0m0-.2h0m.1-.8h0m0 1h0m.2-.2h0m0-.5h0m0 1.5h0m.1-1.3h0m0 .6h0m0 .8h0m.1-1.3h0m0-.7h0m0 2.3h0m0-2.6h0m.1 2.5h0m0-.9h0m0-.9h0m0 .9h0m0 .7h0m.1-1h0m0-1.4h0m0 1.5h0m0-1.3h0m.1 .3h0m0 .3h0m.1-.7h0m0 .2h0m0 1.6h0m.1 .2h0m0 .1h0m0 .3h0m.1-1.9h0m.1 2.3h0m.1-.8h0m.1-.3h0m0-.6h0m.2-1.1h0m0 2.5h0m0 0h0m.2-1.5h0m0-.2h0m0 .1h0m.1 1.2h0m0-1h0m.1-1h0m.1 2.4h0m0-.9h0m.1 .2h0m0 .6h0m0-1.8h0m0 .7h0m.1 .4h0m0-.8h0m0 .2h0m.1-1h0m0 .1h0m0 .1h0m.1 1.2h0m0 1.2h0m0-1.9h0m0 1.9h0m.1-.6h0m0-1.1h0m.1 1.8h0m0-1.3h0m0-1.5h0m0 1.4h0m.1 .8h0m0-.4h0m.1-1.8h0m0 .1h0m0 .4h0m.2 .8h0m0 1.2h0m.2-2h0m.2-.4h0m0 2.7h0m.1-.6h0m0 .1h0m0-.4h0m.1-.9h0m0 .2h0m0-.9h0m.1 .9h0m0-1.2h0m.1 2.2h0m0-.7h0m.2 1.1h0m0-2.2h0m.2 1.9h0m0 .5h0m0-2.2h0m0 0h0m.1 1.6h0m.3-.6h0m.1 .3h0m0-1.5h0m.1 .9h0m.2-.6h0m0-.4h0m.1 2.4h0m.1-2.4h0m.2 1.1h0m.1-.1h0m.1 .4h0m0-1.7h0m.1 .6h0m.1 2h0m0-.7h0m.1-.7h0m0 .6h0m0 1h0m.6-.5h0m.1 0h0m.1-1.7h0m.1 1h0m.2 1.2h0m.1-.2h0m.1-.1h0m.2-1.7h0m.5-.4h0m0 .5h0m0-.7h0m.2 .3h0m.3 2.2h0m.4-2h0m.1-.4h0m0 .2h0m.6 .4h0m.2 1.4h0m.1 .2h0m.4-2.4h0m.4-.1h0m.8 1.8h0m.1 1h0m.4-.3h0m.9 0h0m.4-1.3h0m.6-.8h0m1.7 0h0m.1-.1h0m2.4 .3h0m1.4 1.8h0m1.1 .4h0m2.8-.1h0m-39.5 1.7h0m.4-1.3h0m2.1 1.5h0m.3-1.6h0m.6 1.1h0m0 .3h0m.4-.9h0m.2 1.2h0m.2-.8h0m0 1.3h0m.2-1.9h0m0 .3h0m.1-.5h0m.6 2.6h0m.3-1.8h0m.2 .5h0m0 1h0m0-.1h0m.1-2.3h0m.1 0h0m.1 .9h0m.3-1h0m.1 1.2h0m.3-1.2h0m0 1.1h0m.1-.2h0m0 1.9h0m0-2.1h0m.3 1h0m0 1h0m1.3-2.7h0m0 2.4h0m.1-2.2h0m.2 2.5h0m.3-1.4h0m0-.6h0m.1 1.3h0m.1-1.3h0m.1 1.5h0m.2 .4h0m0-2.4h0m.2 .1h0m0 1.6h0m0-1.2h0m.1 .8h0m.2-1.2h0m.1-.1h0m0 1.9h0m0-1.3h0m.1 1.5h0m.1-1.4h0m.1 1.6h0m0-1.1h0m.1-.4h0m.1 1.5h0m0-1.6h0m0-.7h0m.1 1.7h0m0-.4h0m0 1.1h0m.2-2.4h0m.1 0h0m.1 2.1h0m0-2.1h0m.1 2.5h0m0-1.8h0m0-.3h0m0 .2h0m0 .4h0m.1-.2h0m.2 .6h0m.1-.4h0m0 0h0m0 .4h0m.1 .7h0m0 .6h0m0-2.4h0m.1 2h0m.1-2h0m0 2.2h0m.2-2.2h0m.2 .5h0m0 0h0m.2-.1h0m0 .2h0m0 .8h0m.1 0h0m0 .3h0m0 .2h0m.1-.1h0m0 .5h0m.1-2.7h0m0 .3h0m.2 1.5h0m0-1h0m0-.2h0m.1 .9h0m.1 1.3h0m.1-1.7h0m0-.4h0m.1 0h0m0 1.6h0m0-1.8h0m0 2.3h0m0-.6h0m.1-.2h0m0-1.9h0m0 .9h0m0 1.1h0m0-.2h0m.1-1.5h0m0 1.7h0m0-1.8h0m0 .5h0m.1 .9h0m.1-1.4h0m0 1.9h0m0-.5h0m.1-1.3h0m0 1.1h0m0 .3h0m0-1.1h0m.1-.6h0m0 .7h0m.1 0h0m0 .4h0m.1 1.1h0m.1-.9h0m.1 .1h0m0-.6h0m0 1.5h0m.1-1.2h0m0 .8h0m0-1.5h0m0 .3h0m.1 1.8h0m0-.1h0m.1 0h0m0-1.4h0m0 .5h0m0 .6h0m.1-1.6h0m0 1.9h0m.1 .3h0m0-2h0m0-.7h0m.1 1.7h0m0-.3h0m.1 .3h0m0-.1h0m.1-1.4h0m0-.4h0m0 .7h0m0 2.2h0m.1-1h0m0 .1h0m.1 .8h0m0-.4h0m0 .2h0m0-1.7h0m0-.6h0m0 2h0m.1-1.6h0m.2 .8h0m.1 .9h0m.1-.3h0m0 .6h0m.1-.1h0m0-1.2h0m.1 1.3h0m0-1.1h0m0 .2h0m0-.4h0m.1 1.4h0m.1-2.3h0m0 1.1h0m0-.6h0m0 .1h0m0 1.4h0m.1-.3h0m0-2.2h0m0 .5h0m.2-.3h0m0 .5h0m.2 1h0m.1-.2h0m0 .6h0m.1 .4h0m0-.8h0m0-1.1h0m0 .1h0m.1 2.1h0m0-2.8h0m.1 1.5h0m0-.9h0m.1 .1h0m0 .5h0m.1 .1h0m0-1.1h0m0 2.3h0m0-2.4h0m0 1.8h0m.1-1h0m.1 1.4h0m.2-.3h0m.1 .2h0m0-1.9h0m.1 1.2h0m.2-.1h0m0 0h0m0-1h0m.1-.4h0m.1 2.9h0m0-2.3h0m.1-.4h0m0 2.4h0m.1-.3h0m.2-1.4h0m.1 .5h0m.1 1.2h0m.2-1.5h0m.1 .2h0m0 1.4h0m0 .2h0m0-2h0m0 1.9h0m.1-.8h0m0-.7h0m.1 .9h0m0-.7h0m.3 0h0m.3-.1h0m0 .3h0m0-1.4h0m.1 1.2h0m0-1h0m0 1.1h0m.1-.2h0m.2-.5h0m.1-.4h0m.1 1.4h0m0-1.5h0m0 2.5h0m.4-1.8h0m0 .2h0m.1 .7h0m.5-1.3h0m.1 .8h0m.3 .3h0m.2 .9h0m0-1h0m.1 .1h0m.5 0h0m0-1.3h0m.1 1.9h0m0-1.5h0m0 1.7h0m.2-1.4h0m.1 1.7h0m0-1.9h0m.1-.2h0m.1 2h0m0-2.3h0m.2 .9h0m.1 .5h0m0-.1h0m.2-.4h0m.1-1.1h0m.2 .4h0m.4 .3h0m.1-1h0m.1 .3h0m.1 2.4h0m1.1-2.7h0m.1 2.6h0m.7-2.2h0m.1 .7h0m.1-.3h0m.4 1.9h0m.2-.6h0m0-.6h0m.3-.1h0m1.1-.9h0m.2-.2h0m.1 .2h0m.3 1.6h0m1.5-2h0m0 1.1h0m.6 1h0m1.1-1.7h0m1.7 .3h0m3.7 .9h0m2-1.6h0m.5 .6h0m4.1 .3h0m-44 2.9h0m.6 .3h0m1.4 1.4h0m.2-.1h0m.4-.2h0m.5-.3h0m.1 .8h0m.1-2h0m0 2.1h0m.6-1.5h0m.1-1.3h0m0 1.5h0m.4-1.2h0m.1 .4h0m.3 1h0m.1-1.7h0m.1 2.3h0m.1-1.4h0m.3-.8h0m.1 2.5h0m.2-1.3h0m.1 1.4h0m.3-.4h0m0-.6h0m.1-1.3h0m.7 1h0m.1-1.5h0m0 0h0m.1 1h0m0-.3h0m.2 1.6h0m0 .1h0m.3 .2h0m.1-.5h0m0-.2h0m.1-.1h0m0 .7h0m0-1.5h0m.2 .6h0m.1 .7h0m.5-.3h0m.1-1h0m0 1h0m0 .4h0m0 .4h0m.1-2.2h0m.1 1.9h0m0 .4h0m0-2h0m.2-.8h0m.1 1.8h0m0-1.9h0m0 2.2h0m.1-.8h0m.1 .1h0m.1 .5h0m0-.6h0m.1 .1h0m0 .8h0m0-1.3h0m.3-.3h0m.1 1.4h0m0-1.7h0m0 .6h0m.1-.2h0m.1 .7h0m.1 1.2h0m0-1.3h0m.1-1.3h0m.1 1.8h0m.1-.3h0m0 0h0m0-1.3h0m.1 0h0m.1 .2h0m.2 1.5h0m.2 .9h0m.1-2.3h0m0 1.8h0m0 0h0m0 .4h0m.1-1.7h0m0 .6h0m0 .9h0m.1-.5h0m0-2.1h0m0 2.9h0m.1-.6h0m0-1.2h0m.1 .1h0m0 1.2h0m0 .1h0m0-.7h0m0-1h0m0-.4h0m.1 .4h0m0 1.8h0m.1-2h0m0 .3h0m.2-.6h0m.1 2.3h0m0-.5h0m.1-1.2h0m0 .7h0m0-.8h0m.1 0h0m0 .1h0m.1-.3h0m0 1.1h0m0-.5h0m.1 1.6h0m.1-1.4h0m0 .3h0m0-1.6h0m.1 .3h0m0 2.2h0m.1-1.2h0m.1-1.2h0m.1-.1h0m0 1.3h0m.1 .8h0m.1-1.4h0m0 .2h0m0 1.5h0m0 0h0m.1-1.1h0m0 .1h0m0-1.2h0m.1 1.1h0m0-.7h0m0 2.2h0m.1-1h0m0-1h0m0 1.6h0m.1 .4h0m.1-2.5h0m0-.2h0m.2-.1h0m0-.1h0m0 .5h0m.1 .6h0m0 0h0m.1-.8h0m0 2.3h0m.2-.1h0m.2-.6h0m0-1h0m0-.5h0m.1-.2h0m.1 2.5h0m.2 0h0m0-2.7h0m.1 2.1h0m0 .1h0m0-1.2h0m.3 .9h0m0 .5h0m.2-1.8h0m.1-.2h0m.1 2h0m0-2h0m0 1.7h0m.1 .5h0m.3-2.5h0m0 2h0m0 .2h0m0-1.9h0m0 1.4h0m0 .5h0m.3 .3h0m0-.3h0m0-1.9h0m.1 0h0m0 2.5h0m.2-1.7h0m0 1.2h0m.1 .4h0m0-.1h0m.1-1.2h0m0-1.2h0m0 .7h0m0 1.1h0m.2 .8h0m0-2.4h0m0 .6h0m.1 0h0m.2 1.8h0m.1-2.5h0m.1 1.2h0m.1-.7h0m.1-.9h0m.1 .9h0m.1 .8h0m.2-.6h0m.1 .5h0m0 .2h0m0-.3h0m.1-1.1h0m.1 .4h0m.1 .8h0m.3-.8h0m.1-.3h0m.1 2.1h0m0 0h0m0-1.5h0m.1 1.6h0m0-.6h0m.1-1.1h0m.1 .7h0m0 1.2h0m.2-1.9h0m0 1.5h0m.1-1.6h0m.3-.8h0m.1 1.6h0m.1 0h0m0-.1h0m0-1.5h0m.1 .8h0m0 .5h0m.5-.2h0m0 .7h0m0 .6h0m.1-2h0m0 1.5h0m0-.6h0m.2-.3h0m0 0h0m.4 .9h0m.6 .6h0m.9-.7h0m.3-1.7h0m.3 2.3h0m.2-.3h0m1.4-1.7h0m1.1 1.5h0m.6-1.9h0m.9 2.5h0m4.8-.3h0m1.3 .2h0m-34.1 2.7h0m2.2 .2h0m0-1.3h0m1-1h0m.2 2.1h0m.3-.3h0m.3-.6h0m.3 .3h0m0 1.2h0m.7-1h0m.1-.4h0m.6 1.2h0m.1-.8h0m0-.2h0m.2 1.1h0m.1-.9h0m.1 .9h0m.4-.4h0m.2-2h0m.1 1.1h0m0-.9h0m.1 .6h0m.6 .1h0m0 .1h0m.4 .2h0m0-1.2h0m0 2.4h0m.1-.8h0m.1-.4h0m0 .1h0m0-1.3h0m.1 .5h0m.1-.5h0m.1 1.4h0m.1-.2h0m.2 1.1h0m.1-2.1h0m.6 2.3h0m.1-.5h0m0-1.2h0m0 .5h0m.1 1.1h0m.1-2.4h0m0 .2h0m0 1.2h0m.1-1.6h0m.1 0h0m0 2.3h0m.1-2.4h0m0 2.6h0m.1-1.1h0m0-.4h0m.1-.1h0m0-.8h0m.1 1.4h0m.2-1.3h0m.1 2h0m.1-1h0m.1 .1h0m.2-.7h0m0 .6h0m.1 1.3h0m.1-1.4h0m.1 .8h0m0 .4h0m.1-1.1h0m0 1.6h0m.2-2.8h0m.1 1.3h0m.6 1.4h0m0-1.8h0m.1 1.3h0m0 .4h0m0-2.3h0m.1-.2h0m.1 1.9h0m0 .8h0m.1 0h0m.1-.3h0m.1-.8h0m.1-1.4h0m0 1.8h0m0-1.4h0m.1 1.7h0m0 .2h0m.2-.8h0m0 .3h0m.1-.1h0m.1 .8h0m0-1h0m.2-1.9h0m0 .2h0m.2 2.5h0m.2-1.7h0m.3-.9h0m0 .9h0m.1 .7h0m.2-.1h0m0 .8h0m.1 .1h0m.1-1.4h0m.1 1.7h0m.1-2.6h0m.1-.1h0m.1 .5h0m0-.6h0m0 1.8h0m.1 .9h0m.1 .2h0m0-.5h0m0-1.4h0m0 0h0m0-.9h0m.1 .6h0m0 .5h0m.1-.7h0m.1 .5h0m.1 .5h0m.2 .9h0m.1 .5h0m0-2.8h0m0 2.7h0m0-1.4h0m.1-.5h0m0 .6h0m0-.3h0m.1 0h0m.1-1.1h0m.2 2.3h0m0-.7h0m0-1h0m.1 1.2h0m.1 .8h0m.2-1.8h0m.1 .8h0m.1-1.5h0m0 .4h0m0 1.6h0m.2-1.1h0m0 .8h0m.3-.1h0m.3-1.4h0m.2 2.1h0m0-2.2h0m0 0h0m.3 .3h0m0 2h0m.2 .3h0m0-.4h0m.1-1.6h0m0 .1h0m.2 1.7h0m.2-1.7h0m.1 1.8h0m.2-2h0m.2-.8h0m.1 2.4h0m.1-2.2h0m0 2.7h0m.1-1.2h0m.1 .5h0m.5-1.4h0m.4 1.6h0m.6-1.1h0m0-.4h0m0-.2h0m.4 .7h0m0-.9h0m.1 1.2h0m0 .2h0m.1-1h0m.4 1h0m.1-1h0m.1 .4h0m0-.6h0m.2 .9h0m.3-1h0m.3 .4h0m0-.7h0m.1 1.9h0m.1 .7h0m0-.8h0m1.4-.4h0m.1-1.5h0m1.4 .3h0m0 .4h0m.3-.5h0m1 1.9h0m13.7 .5h0m17.6-2.1h0m-57.1 2.9h0m1.4 2h0m.5-.3h0m.9-2.1h0m.6 1.7h0m0-.2h0m0-1.4h0m.1 1.3h0m.2-1.1h0m.1 1.5h0m.3-.2h0m.2 .4h0m0-.5h0m.3 .4h0m.1-.7h0m.5 .3h0m0 .4h0m0-1.2h0m.1 1.5h0m.6-1.6h0m.3 1h0m0-.6h0m0 1.3h0m.1-1.8h0m.1 2h0m0-.7h0m0-1h0m.2 1.4h0m0-1.5h0m.2-.4h0m0 2.1h0m.1-2.5h0m.4 2.1h0m.1 .4h0m.1 .3h0m.2-1.5h0m.2-.7h0m0 1.3h0m.5 .3h0m.2 .1h0m.6 .5h0m.2-2.6h0m.2 1h0m.2-.3h0m.1 .7h0m.1-.8h0m.3-.5h0m.1 1h0m.1-.4h0m0 1.1h0m.3-2h0m0 1.5h0m.2 .4h0m0 .1h0m.2-1.9h0m.1 2.3h0m.2-1.1h0m0 .4h0m0-.1h0m.1 .3h0m.1-2h0m0 .1h0m.1 1.7h0m0 1h0m0-2.7h0m.3 1.3h0m.1-.3h0m.1 1.2h0m.1 .5h0m.3-.1h0m.1-1.6h0m.1-.6h0m0-.3h0m0 .2h0m0 .6h0m0 1.7h0m.1-1.2h0m.1 1h0m.1-2.1h0m0 .2h0m0 .5h0m.2-.7h0m.2 .6h0m.1 1.5h0m.4 .4h0m.1-.8h0m.1-1.7h0m.1 1.4h0m.3-1.2h0m0-.2h0m.1 2.4h0m0-1.8h0m0-.4h0m.5 .3h0m.1 .3h0m.2-.1h0m.2 1.1h0m.5-.4h0m.1-1.5h0m.2 .1h0m0 .6h0m.3 1.3h0m0-1.6h0m.1 2.1h0m.2-1.4h0m0 .8h0m.4-1.6h0m.9-.4h0m.1 1h0m.1 1.4h0m.3-2.4h0m.1 .5h0m0 .6h0m0 1.3h0m.2-.3h0m.2-.4h0m0-1.5h0m.3 1.1h0m.4-1.2h0m.4 1.9h0m.8-1.8h0m.2 1.6h0m0 .4h0m.2-.2h0m.7-1.7h0m.7 1.5h0m.1 .9h0m1-2.5h0m1.2 1.2h0m.8 .5h0m1.2-.2h0m1.3 .9h0m2.3-2.6h0m3.1 .7h0m-41.2 2.7h0m3.3 .8h0m1.8 .3h0m1.2-.3h0m.7-1.2h0m.5 .4h0m1.5 1.4h0m.6 .7h0m1-.3h0m.1-1.3h0m0 1.6h0m.5-1.3h0m.1 1.2h0m.6-1.4h0m.1 .5h0m0-.5h0m.1 1.1h0m0-.1h0m.4-1.2h0m.3-.5h0m.2 1.3h0m.5 .7h0m.3-.2h0m0 .5h0m.2-2.8h0m.2 .9h0m.3 1.8h0m.1-1.8h0m0-.3h0m0-.3h0m0 .2h0m.1 1.1h0m.1 1.2h0m.2-.9h0m.1 0h0m.3 .2h0m.2 .5h0m.1-.3h0m.1-.6h0m.1-.2h0m.2-.5h0m0-.7h0m.1 1.7h0m0-.6h0m.4 1.3h0m.2-.2h0m.1-1.6h0m.4 .3h0m.7-.7h0m.1 1.9h0m.2-.5h0m.1-1.6h0m.1 2.3h0m.1-1.3h0m.1-.2h0m.2 .5h0m.1 1h0m.1-1.7h0m.3 .8h0m.1 0h0m.1 .3h0m0-1.5h0m.1 .8h0m.2 .8h0m.1-1.6h0m.2 1.2h0m.3-.4h0m.3 .3h0m0-1h0m0 .6h0m.1-.4h0m0 1.9h0m.1-2.6h0m.1 .1h0m.2 1.2h0m.1 .4h0m.2-1.6h0m0 1.7h0m.1-.4h0m.3-1.1h0m.1 2.3h0m.1-1.6h0m.1 .2h0m.1 .5h0m1.1 1h0m.3-2.5h0m.1 2.6h0m.2-2.6h0m0 1.3h0m0-.2h0m.7-1.1h0m.4 1.3h0m.1 .9h0m.1-.1h0m.4-2h0m.3-.1h0m.2 2.4h0m.6-.4h0m.9-2.3h0m.2 2.5h0m.2-1.4h0m.4 1.1h0m.2-.7h0m.1 0h0m4.3 .4h0m.7-1.3h0m.3 .3h0m.1 1.2h0m.1 .7h0m-29.8 1.5h0m.1-.3h0m.1 .9h0m0-1.9h0m.3 2.1h0m.9-1.4h0m.4 .7h0m1.2-1.1h0m1.7 1.8h0m.3 0h0m.7-.1h0m.2-1.9h0m.2 1.4h0m.1 1.1h0m.8-.7h0m.1-1.3h0m0 1.2h0m.8-1.5h0m.2 1.9h0m.3-.9h0m.3-.3h0m.4 1.7h0m.2-.7h0m.3-.5h0m.2-1.1h0m.1-.3h0m.2 .2h0m0 1.7h0m.3 .7h0m.2 .1h0m0-1.3h0m.1 0h0m0-.7h0m.2 1.6h0m.1-2.4h0m.1 .5h0m.1 2.1h0m.2-.5h0m.3-1.2h0m.2 1.2h0m0-.9h0m.5 .7h0m.2 .2h0m.3 .8h0m.3-1.5h0m.1-1.4h0m.3 2.8h0m.3-2.5h0m.4 2.5h0m.1-1.7h0m.6-.2h0m.1 1.4h0m.2 .3h0m.4-1.9h0m.1-.7h0m.5 1.3h0m.3 .4h0m.6-.8h0m.3-.1h0m.1 2h0m.3-2.5h0m0 2.6h0m.1-.6h0m.3-1.3h0m.1 1.8h0m.5-2.7h0m0 .2h0m.1 1.1h0m.2-.7h0m.1-.1h0m1 .5h0m.3 .3h0m.1 1.4h0m.2-.4h0m.1-1h0m.2 1.2h0m.5-1.9h0m.6 1.9h0m0-1.7h0m1-.8h0m.8 2.8h0m.6-.1h0m.1-.5h0m.6 .2h0m.2-.7h0m.1-.4h0m.6 .9h0m11.8 .5h0m-43.8 .8h0m5.2 1.5h0m3.4 .7h0m.4-.7h0m1.5 .7h0m0-.9h0m.1-.1h0m.9 .2h0m.7-1h0m.1-.9h0m.3 0h0m.3 1.6h0m1.2 1.2h0m.1-.4h0m.2-1h0m.2 .9h0m.5-2h0m.1 1.3h0m0-.1h0m.1-.7h0m.1 1.3h0m0 .1h0m.5-1.6h0m.1 2.1h0m.1-1.2h0m.4 1.1h0m.3-.3h0m.1-.3h0m0-2h0m.6 1h0m.1 0h0m.1-.8h0m.7 0h0m.3 .9h0m0-.4h0m.2 .7h0m0 .4h0m.5-.4h0m0-1.5h0m.1 .9h0m.2-.4h0m.1 1.3h0m.3 .8h0m.4-1.7h0m.3 .7h0m.1 .8h0m.2-2.1h0m.5 .3h0m.2-.6h0m.2 1.3h0m.1 1h0m.4-2h0m.7 2.1h0m.2-.1h0m.3-.4h0m.1-1.9h0m.9 1.1h0m.5 .4h0m.4 1.2h0m.2-.5h0m0 .7h0m.2-.5h0m.3 .3h0m.1-2.4h0m.1-.2h0m.1 1h0m.5-.6h0m.2 .8h0m.1-.1h0m9.3 .5h0m2 .5h0m2.9 .1h0m-33.5 1.4h0m1.5 1.2h0m3.1-1.6h0m.6 1.4h0m.8-.4h0m.3 1.5h0m.1-1.4h0m.3-1.3h0m.4 .6h0m.4 .3h0m0 .3h0m.1-.5h0m.1-.8h0m.1 1.7h0m.3 .1h0m0 .2h0m.3-.2h0m.6 .5h0m0-2.2h0m.2 .1h0m.2 .7h0m.5-.7h0m1.2 2h0m.3-1.1h0m.4-.9h0m.5 .2h0m.2 2.2h0m.3-1.5h0m.4 0h0m0-.1h0m.1 1.1h0m.1-.3h0m0 0h0m.6-.6h0m.1-1.2h0m1 2.9h0m0-1.6h0m.4-.5h0m.3-.7h0m.7 .8h0m.3 1.4h0m.1-1.3h0m.1 .4h0m.1-1h0m.6-.2h0m0 .4h0m.2 .5h0m0-1.1h0m.6 1.5h0m.3 1.2h0m.9-1.7h0m.1 .5h0m1.2 .7h0m2.2-1.4h0m2.3-.6h0m5.3-.2h0m.4 .4h0m1.3 .5h0m-36.5 2.1h0m.7 2.4h0m6.1-1.1h0m.1 1.1h0m.1-1.6h0m1 .4h0m1.1 1h0m.1-2h0m.3 .2h0m.2 1.8h0m1 .4h0m1-1.7h0m.2-.6h0m.1 1.2h0m.1 1.4h0m.2 0h0m.7-1.6h0m0-.7h0m1.2-.3h0m.7 1.1h0m.5-.9h0m.3 .7h0m.7-.3h0m.4-.1h0m.7 .7h0m.2 .9h0m.7 0h0m.1-.9h0m.1-1h0m.4 .5h0m.3-1h0m.3 .9h0m.1 1.7h0m.2-1.3h0m.2 .4h0m0 .5h0m0-1.3h0m.3 1.1h0m0-1.2h0m.1-.4h0m.3 .5h0m0 .7h0m.1-1.1h0m.2 1.8h0m.5-.1h0m.6-.4h0m.3-.6h0m.2-.3h0m1.5 .7h0m.4-1.4h0m3.6 .5h0m1.2 1.9h0m0-2.4h0m2.5 1h0m-29.8 4.1h0m2.3 .4h0m1.5 0h0m.1 0h0m.8-.2h0m.5-2.2h0m.2 1.6h0m.6-1.4h0m1.5 .5h0m.6-.8h0m.5 2.5h0m.2-.6h0m.6 .5h0m.3 .3h0m1.7-1.3h0m1.8-.9h0m.1 1.3h0m.2-1.6h0m.5-.1h0m.3 .8h0m.8 1.7h0m.2-1.5h0m.2-.4h0m.1-.7h0m1.3 2.5h0m.2-1.7h0m.2-.6h0m.4-.2h0m.1-.2h0m.3 2.4h0m.4-.4h0m1.1-.2h0m.5 .6h0m1.3-1.1h0m.6-.5h0m1.3-.8h0m1.5 2.2h0m3.8-.5h0m0-.9h0m3.3 1.7h0m3.1-.3h0m-35.8 3.1h0m2.3-2.2h0m1 .5h0m.5-.2h0m1.5 2.2h0m5-1.1h0m.4-1.4h0m.1 .8h0m.6-.4h0m.5-.5h0m.3 2.9h0m.2-2.4h0m.7 .9h0m.1-1.3h0m.1-.1h0m1.8 2.5h0m.7-1.2h0m0-1.3h0m1.6 .1h0m.2 2.4h0m.1-2.3h0m.5 .4h0m.2 1.2h0m.2-1.1h0m1.7 .2h0m0 .8h0m1.4 .1h0m3.9 .8h0m2.3-.3h0m4.5-.6h0m1 .2h0m7.5-1.9h0m-38.4 3.4h0m.1-.4h0m4.2 1.9h0m.8 .5h0m1.1-2.3h0m1.2 1.1h0m.4 1.4h0m.1-1.1h0m.2-.5h0m1.6 1h0m2.1-1.8h0m0 .5h0m.4-.6h0m.9 .8h0m1 1.5h0m.5 .4h0m.4-1h0m.2 .7h0m.7-.6h0m.5 .9h0m1.9-.4h0m0-.8h0m1.2 .8h0m.4-1.5h0m2.4 1.3h0m.7 .4h0m9.2-2.2h0m-28.1 5.5h0m.2-1.5h0m.4-.8h0m2.2-.1h0m1.1 .1h0m3.2 .3h0m.3 .8h0m.7 .8h0m.3-1.5h0m2.2-.6h0m.8 2.3h0m.2-1h0m.1-.7h0m2.1-.6h0m.2 1.8h0m1.6-1.9h0m1 2.4h0m3.5-.8h0m3.5-.8h0m-22.4 2.7h0m2.8 2.1h0m.6-1.1h0m.7-1.8h0m.4 2.9h0m.1-2.1h0m.3-.3h0m.8 1.2h0m5-1.3h0m.6 2.5h0m.2-2.7h0m.6 .2h0m1.2-.1h0m1.3 .1h0m.2 0h0m1.7 1.3h0m2.4-.7h0m-24.9 4.5h0m9.6 0h0m.5-1.1h0m2.4 .7h0m3.1-.8h0m.8 1.6h0m1.6-2h0m.1 .1h0m2.3 1.9h0m.3-2.4h0m1.2 1.9h0m0 0h0m.8-1.5h0m2.8 2h0m2.5-2.4h0m5.7 0h0m-52.7 5.3h0m18.4-2.7h0m.4 .1h0m2.2 2.1h0m1.3-2.1h0m5.6 2.5h0m4.8-1.3h0m.2-1.1h0m2.3 1.8h0m1.6-.8h0m2.2-.2h0m0-.2h0m.3-.4h0m1.3 .3h0m4.4-.8h0m51.1 .9h0m-74.3 2.1h0m1 1.3h0m.3 .9h0m.9-1.1h0m2.5 .8h0m1.1 .6h0m.5-1.9h0m1.3 1.5h0m0-1.9h0m.3 .9h0m.5 .7h0m1.4-.6h0m.2 .4h0m1 .7h0m1.9-.5h0m5.3-.7h0m2.8 .2h0m34.2 .2h0m-54 3h0m4.3 1.4h0m3.8-.1h0m2-2.6h0m.8 .2h0m.1 .4h0m6 1.1h0m5.1-1.9h0m.1 2.7h0m-13.8 1.2h0m17.5 2h0m-20.1 2.8h0m.4-.7h0m13.4-1.4h0m6.3 2h0m31.9-.5h0m-48.3 2.3h0m1.7 1.5h0m3.3-1h0m1-1.3h0m-5.9 2.4h0m1.9 1.5h0m0-.3h0m.6 .6h0m1-1.7h0m-5.1 3.9h0m1.3 1.7h0m9.5-2.2h0" stroke="#000" stroke-width="0.7" stroke-linecap="square" fill="none" stroke-opacity="0.88"/>
<line x1="281.6" y1="780.4" x2="281.6" y2="919.1" stroke="#555" stroke-width="0.8"/>
<line x1="220.4" y1="854.8" x2="348" y2="854.8" stroke="#3a3a3a" stroke-width="1.3"/>
<rect x="220.4" y="780.4" width="127.6" height="138.7" fill="none" stroke="#5c5c5c" stroke-width="0.9"/>
<line x1="220" y1="919.1" x2="348.4" y2="919.1" stroke="#111" stroke-width="1.2"/>
<line x1="220.4" y1="780.4" x2="220.4" y2="919.1" stroke="#444" stroke-width="0.9"/>
<line x1="220.4" y1="919.1" x2="220.4" y2="922.1" stroke="#111" stroke-width="1.2"/>
<text class="san" x="221.9" y="936.4" font-size="5.2" text-anchor="start" fill="#111">10<tspan dx="0.4" dy="-2.4" font-size="4.94">0</tspan></text>
<line x1="226.56" y1="919.1" x2="226.56" y2="920.7" stroke="#333" stroke-width="0.5"/>
<line x1="230.76" y1="919.1" x2="230.76" y2="920.7" stroke="#333" stroke-width="0.5"/>
<line x1="233.73" y1="919.1" x2="233.73" y2="920.7" stroke="#333" stroke-width="0.5"/>
<line x1="236.04" y1="919.1" x2="236.04" y2="920.7" stroke="#333" stroke-width="0.5"/>
<line x1="237.92" y1="919.1" x2="237.92" y2="920.7" stroke="#333" stroke-width="0.5"/>
<line x1="239.51" y1="919.1" x2="239.51" y2="920.7" stroke="#333" stroke-width="0.5"/>
<line x1="240.89" y1="919.1" x2="240.89" y2="920.7" stroke="#333" stroke-width="0.5"/>
<line x1="242.11" y1="919.1" x2="242.11" y2="920.7" stroke="#333" stroke-width="0.5"/>
<line x1="243.2" y1="919.1" x2="243.2" y2="922.1" stroke="#111" stroke-width="1.2"/>
<text class="san" x="239.9" y="936.4" font-size="5.2" text-anchor="start" fill="#111">10<tspan dx="0.4" dy="-2.4" font-size="4.94">1</tspan></text>
<line x1="250.36" y1="919.1" x2="250.36" y2="920.7" stroke="#333" stroke-width="0.5"/>
<line x1="254.56" y1="919.1" x2="254.56" y2="920.7" stroke="#333" stroke-width="0.5"/>
<line x1="257.53" y1="919.1" x2="257.53" y2="920.7" stroke="#333" stroke-width="0.5"/>
<line x1="259.84" y1="919.1" x2="259.84" y2="920.7" stroke="#333" stroke-width="0.5"/>
<line x1="261.72" y1="919.1" x2="261.72" y2="920.7" stroke="#333" stroke-width="0.5"/>
<line x1="263.31" y1="919.1" x2="263.31" y2="920.7" stroke="#333" stroke-width="0.5"/>
<line x1="264.69" y1="919.1" x2="264.69" y2="920.7" stroke="#333" stroke-width="0.5"/>
<line x1="265.91" y1="919.1" x2="265.91" y2="920.7" stroke="#333" stroke-width="0.5"/>
<line x1="267" y1="919.1" x2="267" y2="922.1" stroke="#111" stroke-width="1.2"/>
<text class="san" x="263.7" y="936.4" font-size="5.2" text-anchor="start" fill="#111">10<tspan dx="0.4" dy="-2.4" font-size="4.94">2</tspan></text>
<line x1="274.16" y1="919.1" x2="274.16" y2="920.7" stroke="#333" stroke-width="0.5"/>
<line x1="278.36" y1="919.1" x2="278.36" y2="920.7" stroke="#333" stroke-width="0.5"/>
<line x1="281.33" y1="919.1" x2="281.33" y2="920.7" stroke="#333" stroke-width="0.5"/>
<line x1="283.64" y1="919.1" x2="283.64" y2="920.7" stroke="#333" stroke-width="0.5"/>
<line x1="285.52" y1="919.1" x2="285.52" y2="920.7" stroke="#333" stroke-width="0.5"/>
<line x1="287.11" y1="919.1" x2="287.11" y2="920.7" stroke="#333" stroke-width="0.5"/>
<line x1="288.49" y1="919.1" x2="288.49" y2="920.7" stroke="#333" stroke-width="0.5"/>
<line x1="289.71" y1="919.1" x2="289.71" y2="920.7" stroke="#333" stroke-width="0.5"/>
<line x1="290.8" y1="919.1" x2="290.8" y2="922.1" stroke="#111" stroke-width="1.2"/>
<text class="san" x="287.5" y="936.4" font-size="5.2" text-anchor="start" fill="#111">10<tspan dx="0.4" dy="-2.4" font-size="4.94">3</tspan></text>
<line x1="297.96" y1="919.1" x2="297.96" y2="920.7" stroke="#333" stroke-width="0.5"/>
<line x1="302.16" y1="919.1" x2="302.16" y2="920.7" stroke="#333" stroke-width="0.5"/>
<line x1="305.13" y1="919.1" x2="305.13" y2="920.7" stroke="#333" stroke-width="0.5"/>
<line x1="307.44" y1="919.1" x2="307.44" y2="920.7" stroke="#333" stroke-width="0.5"/>
<line x1="309.32" y1="919.1" x2="309.32" y2="920.7" stroke="#333" stroke-width="0.5"/>
<line x1="310.91" y1="919.1" x2="310.91" y2="920.7" stroke="#333" stroke-width="0.5"/>
<line x1="312.29" y1="919.1" x2="312.29" y2="920.7" stroke="#333" stroke-width="0.5"/>
<line x1="313.51" y1="919.1" x2="313.51" y2="920.7" stroke="#333" stroke-width="0.5"/>
<line x1="314.6" y1="919.1" x2="314.6" y2="922.1" stroke="#111" stroke-width="1.2"/>
<text class="san" x="311.3" y="936.4" font-size="5.2" text-anchor="start" fill="#111">10<tspan dx="0.4" dy="-2.4" font-size="4.94">4</tspan></text>
<line x1="321.76" y1="919.1" x2="321.76" y2="920.7" stroke="#333" stroke-width="0.5"/>
<line x1="325.96" y1="919.1" x2="325.96" y2="920.7" stroke="#333" stroke-width="0.5"/>
<line x1="328.93" y1="919.1" x2="328.93" y2="920.7" stroke="#333" stroke-width="0.5"/>
<line x1="331.24" y1="919.1" x2="331.24" y2="920.7" stroke="#333" stroke-width="0.5"/>
<line x1="333.12" y1="919.1" x2="333.12" y2="920.7" stroke="#333" stroke-width="0.5"/>
<line x1="334.71" y1="919.1" x2="334.71" y2="920.7" stroke="#333" stroke-width="0.5"/>
<line x1="336.09" y1="919.1" x2="336.09" y2="920.7" stroke="#333" stroke-width="0.5"/>
<line x1="337.31" y1="919.1" x2="337.31" y2="920.7" stroke="#333" stroke-width="0.5"/>
<line x1="338.4" y1="919.1" x2="338.4" y2="922.1" stroke="#111" stroke-width="1.2"/>
<text class="san" x="335.1" y="936.4" font-size="5.2" text-anchor="start" fill="#111">10<tspan dx="0.4" dy="-2.4" font-size="4.94">5</tspan></text>
<line x1="345.56" y1="919.1" x2="345.56" y2="920.7" stroke="#333" stroke-width="0.5"/>
<line x1="217.4" y1="919.1" x2="220.4" y2="919.1" stroke="#111" stroke-width="1.2"/>
<text class="san" x="214.2" y="917.2" font-size="5.2" text-anchor="end" fill="#111">10<tspan dx="0.4" dy="-2.4" font-size="4.94">0</tspan></text>
<line x1="218.8" y1="911.11" x2="220.4" y2="911.11" stroke="#333" stroke-width="0.5"/>
<line x1="218.8" y1="906.15" x2="220.4" y2="906.15" stroke="#333" stroke-width="0.5"/>
<line x1="218.8" y1="902.62" x2="220.4" y2="902.62" stroke="#333" stroke-width="0.5"/>
<line x1="218.8" y1="899.89" x2="220.4" y2="899.89" stroke="#333" stroke-width="0.5"/>
<line x1="218.8" y1="897.66" x2="220.4" y2="897.66" stroke="#333" stroke-width="0.5"/>
<line x1="218.8" y1="895.77" x2="220.4" y2="895.77" stroke="#333" stroke-width="0.5"/>
<line x1="218.8" y1="894.13" x2="220.4" y2="894.13" stroke="#333" stroke-width="0.5"/>
<line x1="218.8" y1="892.69" x2="220.4" y2="892.69" stroke="#333" stroke-width="0.5"/>
<line x1="217.4" y1="891.4" x2="220.4" y2="891.4" stroke="#111" stroke-width="1.2"/>
<text class="san" x="214.2" y="893" font-size="5.2" text-anchor="end" fill="#111">10<tspan dx="0.4" dy="-2.4" font-size="4.94">1</tspan></text>
<line x1="218.8" y1="882.91" x2="220.4" y2="882.91" stroke="#333" stroke-width="0.5"/>
<line x1="218.8" y1="877.95" x2="220.4" y2="877.95" stroke="#333" stroke-width="0.5"/>
<line x1="218.8" y1="874.42" x2="220.4" y2="874.42" stroke="#333" stroke-width="0.5"/>
<line x1="218.8" y1="871.69" x2="220.4" y2="871.69" stroke="#333" stroke-width="0.5"/>
<line x1="218.8" y1="869.46" x2="220.4" y2="869.46" stroke="#333" stroke-width="0.5"/>
<line x1="218.8" y1="867.57" x2="220.4" y2="867.57" stroke="#333" stroke-width="0.5"/>
<line x1="218.8" y1="865.93" x2="220.4" y2="865.93" stroke="#333" stroke-width="0.5"/>
<line x1="218.8" y1="864.49" x2="220.4" y2="864.49" stroke="#333" stroke-width="0.5"/>
<line x1="217.4" y1="863.2" x2="220.4" y2="863.2" stroke="#111" stroke-width="1.2"/>
<text class="san" x="214.2" y="864.8" font-size="5.2" text-anchor="end" fill="#111">10<tspan dx="0.4" dy="-2.4" font-size="4.94">2</tspan></text>
<line x1="218.8" y1="854.71" x2="220.4" y2="854.71" stroke="#333" stroke-width="0.5"/>
<line x1="218.8" y1="849.75" x2="220.4" y2="849.75" stroke="#333" stroke-width="0.5"/>
<line x1="218.8" y1="846.22" x2="220.4" y2="846.22" stroke="#333" stroke-width="0.5"/>
<line x1="218.8" y1="843.49" x2="220.4" y2="843.49" stroke="#333" stroke-width="0.5"/>
<line x1="218.8" y1="841.26" x2="220.4" y2="841.26" stroke="#333" stroke-width="0.5"/>
<line x1="218.8" y1="839.37" x2="220.4" y2="839.37" stroke="#333" stroke-width="0.5"/>
<line x1="218.8" y1="837.73" x2="220.4" y2="837.73" stroke="#333" stroke-width="0.5"/>
<line x1="218.8" y1="836.29" x2="220.4" y2="836.29" stroke="#333" stroke-width="0.5"/>
<line x1="217.4" y1="835" x2="220.4" y2="835" stroke="#111" stroke-width="1.2"/>
<text class="san" x="214.2" y="836.6" font-size="5.2" text-anchor="end" fill="#111">10<tspan dx="0.4" dy="-2.4" font-size="4.94">3</tspan></text>
<line x1="218.8" y1="826.51" x2="220.4" y2="826.51" stroke="#333" stroke-width="0.5"/>
<line x1="218.8" y1="821.55" x2="220.4" y2="821.55" stroke="#333" stroke-width="0.5"/>
<line x1="218.8" y1="818.02" x2="220.4" y2="818.02" stroke="#333" stroke-width="0.5"/>
<line x1="218.8" y1="815.29" x2="220.4" y2="815.29" stroke="#333" stroke-width="0.5"/>
<line x1="218.8" y1="813.06" x2="220.4" y2="813.06" stroke="#333" stroke-width="0.5"/>
<line x1="218.8" y1="811.17" x2="220.4" y2="811.17" stroke="#333" stroke-width="0.5"/>
<line x1="218.8" y1="809.53" x2="220.4" y2="809.53" stroke="#333" stroke-width="0.5"/>
<line x1="218.8" y1="808.09" x2="220.4" y2="808.09" stroke="#333" stroke-width="0.5"/>
<line x1="217.4" y1="806.8" x2="220.4" y2="806.8" stroke="#111" stroke-width="1.2"/>
<text class="san" x="214.2" y="808.4" font-size="5.2" text-anchor="end" fill="#111">10<tspan dx="0.4" dy="-2.4" font-size="4.94">4</tspan></text>
<line x1="218.8" y1="798.31" x2="220.4" y2="798.31" stroke="#333" stroke-width="0.5"/>
<line x1="218.8" y1="793.35" x2="220.4" y2="793.35" stroke="#333" stroke-width="0.5"/>
<line x1="218.8" y1="789.82" x2="220.4" y2="789.82" stroke="#333" stroke-width="0.5"/>
<line x1="218.8" y1="787.09" x2="220.4" y2="787.09" stroke="#333" stroke-width="0.5"/>
<line x1="218.8" y1="784.86" x2="220.4" y2="784.86" stroke="#333" stroke-width="0.5"/>
<line x1="218.8" y1="782.97" x2="220.4" y2="782.97" stroke="#333" stroke-width="0.5"/>
<line x1="218.8" y1="781.33" x2="220.4" y2="781.33" stroke="#333" stroke-width="0.5"/>
<text class="ser" x="284.9" y="774.2" font-size="9.2" text-anchor="middle" fill="#3c3c3c" stroke-width="0.1" stroke="#444">mimic</text>
<text class="ser" x="318.5" y="814.1" font-size="9.2" text-anchor="middle" fill="#3c3c3c" stroke-width="0.1" stroke="#444">PC</text>
<text class="ser" x="318.5" y="825.9" font-size="9.2" text-anchor="middle" fill="#3c3c3c" stroke-width="0.1" stroke="#444">3.9%</text>
<text class="ser" x="316.1" y="884" font-size="9.2" text-anchor="middle" fill="#3c3c3c" stroke-width="0.1" stroke="#444">PB</text>
<text class="ser" x="316.1" y="895.1" font-size="9.2" text-anchor="middle" fill="#3c3c3c" stroke-width="0.1" stroke="#444">0.42%</text>
<line x1="197.6" y1="944" x2="197.6" y2="882.1" stroke="#222" stroke-width="1"/>
<line x1="197.1" y1="943.5" x2="260.8" y2="943.5" stroke="#222" stroke-width="1"/>
<path d="M197.6 876.1 l3.6 7.4 h-7.2 Z" fill="#000"/>
<path d="M266.8 943.5 l-7.4 -3.6 v7.2 Z" fill="#000"/>
<text class="ser" x="194.2" y="913.7" font-size="9.2" text-anchor="middle" fill="#111" transform="rotate(-90 194.2 913.7)">CD138</text>
<text class="ser" x="216.6" y="955.7" font-size="9.2" fill="#111">CD38</text>
<text class="ser" x="356" y="776.1" font-size="14" font-weight="bold" fill="#111">L</text>
<rect x="398.9" y="878.4" width="39.7" height="32.5" fill="#A1A3A6" stroke="#111" stroke-width="1.2"/>
<rect x="460.4" y="827.5" width="39.2" height="83.4" fill="#8F1D24" stroke="#111" stroke-width="1.2"/>
<line x1="377.8" y1="793.65" x2="377.8" y2="911.45" stroke="#000" stroke-width="1.35"/>
<line x1="377.8" y1="910.9" x2="522.1" y2="910.9" stroke="#000" stroke-width="1.35"/>
<line x1="374.2" y1="794.2" x2="377.8" y2="794.2" stroke="#000" stroke-width="1.35"/>
<text class="ser" x="374.2" y="797.1" font-size="9.2" text-anchor="end" fill="#111">6</text>
<line x1="374.2" y1="833.2" x2="377.8" y2="833.2" stroke="#000" stroke-width="1.35"/>
<text class="ser" x="374.2" y="836.1" font-size="9.2" text-anchor="end" fill="#111">4</text>
<line x1="374.2" y1="872.2" x2="377.8" y2="872.2" stroke="#000" stroke-width="1.35"/>
<text class="ser" x="374.2" y="875.1" font-size="9.2" text-anchor="end" fill="#111">2</text>
<line x1="374.2" y1="910.9" x2="377.8" y2="910.9" stroke="#000" stroke-width="1.35"/>
<text class="ser" x="374.2" y="913.8" font-size="9.2" text-anchor="end" fill="#111">0</text>
<line x1="418.7" y1="910.9" x2="418.7" y2="914.3" stroke="#000" stroke-width="1.35"/>
<line x1="479.8" y1="910.9" x2="479.8" y2="914.3" stroke="#000" stroke-width="1.35"/>
<line x1="418.7" y1="865.2" x2="418.7" y2="890.8" stroke="#000" stroke-width="1"/>
<line x1="408.2" y1="865.2" x2="429.2" y2="865.2" stroke="#000" stroke-width="1"/>
<line x1="408.2" y1="890.8" x2="429.2" y2="890.8" stroke="#000" stroke-width="1"/>
<circle cx="418.7" cy="858.8" r="2.5" fill="#000"/>
<circle cx="427.4" cy="874.9" r="2.5" fill="#000"/>
<circle cx="418.7" cy="878.6" r="2.5" fill="#000"/>
<circle cx="418.7" cy="887" r="2.5" fill="#000"/>
<circle cx="418.7" cy="891.5" r="2.5" fill="#000"/>
<line x1="479.8" y1="813.8" x2="479.8" y2="840.1" stroke="#000" stroke-width="1"/>
<line x1="469.4" y1="813.8" x2="490.2" y2="813.8" stroke="#000" stroke-width="1"/>
<line x1="469.4" y1="840.1" x2="490.2" y2="840.1" stroke="#000" stroke-width="1"/>
<rect x="477.3" y="805.4" width="5" height="5" fill="#000"/>
<rect x="477.3" y="817.1" width="5" height="5" fill="#000"/>
<rect x="485.7" y="830.2" width="5" height="5" fill="#000"/>
<rect x="477.3" y="831.2" width="5" height="5" fill="#000"/>
<rect x="477.3" y="838.6" width="5" height="5" fill="#000"/>
<line x1="418.1" y1="795.8" x2="480.7" y2="795.8" stroke="#1a1a1a" stroke-width="1.2"/>
<line x1="418.7" y1="792.8" x2="418.7" y2="798.8" stroke="#1a1a1a" stroke-width="1.2"/>
<line x1="480.1" y1="792.8" x2="480.1" y2="798.8" stroke="#1a1a1a" stroke-width="1.2"/>
<text class="ser" x="451.45" y="795.28" font-size="15.8" text-anchor="middle" font-weight="bold" fill="#111" letter-spacing="-0.3">***</text>
<text class="ser" x="362.9" y="851.3" font-size="9.2" text-anchor="middle" fill="#111" transform="rotate(-90 362.9 851.3)">PC (%)</text>
<text class="ser" x="419.5" y="924.8" font-size="9.2" text-anchor="middle" fill="#111">mimic NC</text>
<text class="ser" x="480.3" y="924.8" font-size="9.2" text-anchor="middle" fill="#111">mimic</text>
<text class="ser" x="515.8" y="776.2" font-size="14" font-weight="bold" fill="#111">M</text>
<rect x="565.4" y="861.9" width="38.1" height="49.4" fill="#A1A3A6" stroke="#111" stroke-width="1.2"/>
<rect x="623.8" y="841.5" width="38.3" height="69.8" fill="#8F1D24" stroke="#111" stroke-width="1.2"/>
<line x1="545.2" y1="799.35" x2="545.2" y2="911.85" stroke="#000" stroke-width="1.35"/>
<line x1="545.2" y1="911.3" x2="683.7" y2="911.3" stroke="#000" stroke-width="1.35"/>
<line x1="541.6" y1="799.9" x2="545.2" y2="799.9" stroke="#000" stroke-width="1.35"/>
<text class="ser" x="541.6" y="802.8" font-size="9.2" text-anchor="end" fill="#111">0.8</text>
<line x1="541.6" y1="827.8" x2="545.2" y2="827.8" stroke="#000" stroke-width="1.35"/>
<text class="ser" x="541.6" y="830.7" font-size="9.2" text-anchor="end" fill="#111">0.6</text>
<line x1="541.6" y1="855.4" x2="545.2" y2="855.4" stroke="#000" stroke-width="1.35"/>
<text class="ser" x="541.6" y="858.3" font-size="9.2" text-anchor="end" fill="#111">0.4</text>
<line x1="541.6" y1="883.2" x2="545.2" y2="883.2" stroke="#000" stroke-width="1.35"/>
<text class="ser" x="541.6" y="886.1" font-size="9.2" text-anchor="end" fill="#111">0.2</text>
<line x1="541.6" y1="911.3" x2="545.2" y2="911.3" stroke="#000" stroke-width="1.35"/>
<text class="ser" x="541.6" y="914.2" font-size="9.2" text-anchor="end" fill="#111">0.0</text>
<line x1="584.6" y1="911.3" x2="584.6" y2="914.7" stroke="#000" stroke-width="1.35"/>
<line x1="643.5" y1="911.3" x2="643.5" y2="914.7" stroke="#000" stroke-width="1.35"/>
<line x1="584.6" y1="850.1" x2="584.6" y2="873" stroke="#000" stroke-width="1"/>
<line x1="574.8" y1="850.1" x2="594.4" y2="850.1" stroke="#000" stroke-width="1"/>
<line x1="574.8" y1="873" x2="594.4" y2="873" stroke="#000" stroke-width="1"/>
<circle cx="584.6" cy="846.7" r="2.5" fill="#000"/>
<circle cx="576.5" cy="858" r="2.5" fill="#000"/>
<circle cx="592.5" cy="857.2" r="2.5" fill="#000"/>
<circle cx="584.6" cy="871.7" r="2.5" fill="#000"/>
<circle cx="584.6" cy="874.8" r="2.5" fill="#000"/>
<line x1="643.5" y1="830.2" x2="643.5" y2="852.5" stroke="#000" stroke-width="1"/>
<line x1="633.7" y1="830.2" x2="653.3" y2="830.2" stroke="#000" stroke-width="1"/>
<line x1="633.7" y1="852.5" x2="653.3" y2="852.5" stroke="#000" stroke-width="1"/>
<rect x="632.6" y="826.6" width="5" height="5" fill="#000"/>
<rect x="648.9" y="827.7" width="5" height="5" fill="#000"/>
<rect x="641" y="844.7" width="5" height="5" fill="#000"/>
<rect x="648.9" y="844.7" width="5" height="5" fill="#000"/>
<rect x="641" y="850" width="5" height="5" fill="#000"/>
<line x1="584" y1="817.3" x2="644.1" y2="817.3" stroke="#1a1a1a" stroke-width="1.2"/>
<line x1="584.6" y1="814.3" x2="584.6" y2="820.3" stroke="#1a1a1a" stroke-width="1.2"/>
<line x1="643.5" y1="814.3" x2="643.5" y2="820.3" stroke="#1a1a1a" stroke-width="1.2"/>
<text class="ser" x="615.25" y="816.78" font-size="15.8" text-anchor="middle" font-weight="bold" fill="#111">*</text>
<text class="ser" x="524.3" y="851.4" font-size="9.2" text-anchor="middle" fill="#111" transform="rotate(-90 524.3 851.4)">PB (%)</text>
<text class="ser" x="585.9" y="924.6" font-size="9.2" text-anchor="middle" fill="#111">mimic NC</text>
<text class="ser" x="644.3" y="924.6" font-size="9.2" text-anchor="middle" fill="#111">mimic</text>
</svg>
</body></html>
